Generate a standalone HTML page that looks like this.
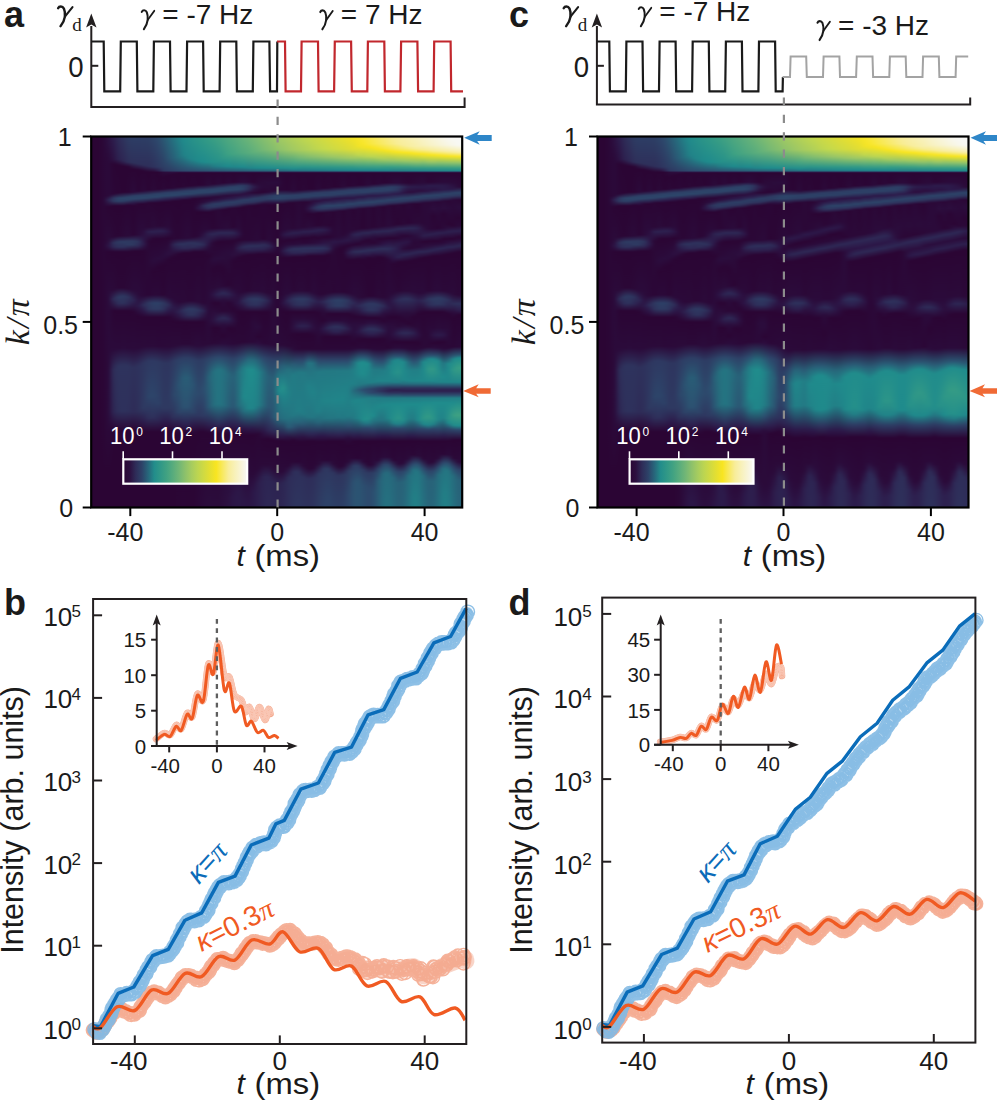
<!DOCTYPE html>
<html><head><meta charset="utf-8"><style>
html,body{margin:0;padding:0;background:#fff;overflow:hidden}
svg{display:block}
</style></head><body>
<svg width="997" height="1102" viewBox="0 0 997 1102" font-family="'Liberation Sans', sans-serif" fill="#1a1a1a">
<defs><linearGradient id="a4" x2="0" y2="1"><stop offset="0.001" stop-color="#2b0838"/><stop offset="0.999" stop-color="#2b0534"/></linearGradient><linearGradient id="a5" x2="0" y2="1"><stop offset="0.001" stop-color="#2c1343"/><stop offset="0.058" stop-color="#2b0a3a"/><stop offset="0.160" stop-color="#2b0a3a"/><stop offset="0.171" stop-color="#2d2452"/><stop offset="0.190" stop-color="#2b0534"/><stop offset="0.279" stop-color="#2b0c3b"/><stop offset="0.295" stop-color="#2c1445"/><stop offset="0.311" stop-color="#2b0534"/><stop offset="0.430" stop-color="#2b0b3b"/><stop offset="0.602" stop-color="#2b0a3a"/><stop offset="0.743" stop-color="#2b0c3c"/><stop offset="0.902" stop-color="#2b0534"/><stop offset="0.999" stop-color="#2b0534"/></linearGradient><linearGradient id="a6" x2="0" y2="1"><stop offset="0.001" stop-color="#2d1e4e"/><stop offset="0.061" stop-color="#2c1343"/><stop offset="0.074" stop-color="#2b0534"/><stop offset="0.155" stop-color="#2b0737"/><stop offset="0.166" stop-color="#2e365f"/><stop offset="0.174" stop-color="#2e3a62"/><stop offset="0.187" stop-color="#2b0534"/><stop offset="0.271" stop-color="#2b0837"/><stop offset="0.287" stop-color="#2e325c"/><stop offset="0.298" stop-color="#2e2855"/><stop offset="0.311" stop-color="#2b0534"/><stop offset="0.414" stop-color="#2b0a39"/><stop offset="0.438" stop-color="#2e2c58"/><stop offset="0.470" stop-color="#2b0534"/><stop offset="0.575" stop-color="#2b0b3b"/><stop offset="0.629" stop-color="#2e2e59"/><stop offset="0.743" stop-color="#2d2653"/><stop offset="0.791" stop-color="#2b0534"/><stop offset="0.999" stop-color="#2b0534"/></linearGradient><linearGradient id="a7" x2="0" y2="1"><stop offset="0.001" stop-color="#2e2b57"/><stop offset="0.061" stop-color="#2d2250"/><stop offset="0.077" stop-color="#2b0534"/><stop offset="0.152" stop-color="#2b0635"/><stop offset="0.166" stop-color="#2d4368"/><stop offset="0.174" stop-color="#2d4267"/><stop offset="0.187" stop-color="#2b0534"/><stop offset="0.268" stop-color="#2b0635"/><stop offset="0.284" stop-color="#2e3961"/><stop offset="0.298" stop-color="#2e305b"/><stop offset="0.311" stop-color="#2b0534"/><stop offset="0.408" stop-color="#2b0736"/><stop offset="0.433" stop-color="#2e3961"/><stop offset="0.451" stop-color="#2e2d59"/><stop offset="0.470" stop-color="#2b0534"/><stop offset="0.570" stop-color="#2b0a3a"/><stop offset="0.619" stop-color="#2e335d"/><stop offset="0.740" stop-color="#2e305b"/><stop offset="0.794" stop-color="#2b0534"/><stop offset="0.999" stop-color="#2b0534"/></linearGradient><linearGradient id="a8" x2="0" y2="1"><stop offset="0.001" stop-color="#2e345d"/><stop offset="0.066" stop-color="#2e2754"/><stop offset="0.080" stop-color="#2b0534"/><stop offset="0.150" stop-color="#2b0534"/><stop offset="0.166" stop-color="#2d476b"/><stop offset="0.174" stop-color="#2d3f66"/><stop offset="0.187" stop-color="#2b0534"/><stop offset="0.268" stop-color="#2b0938"/><stop offset="0.284" stop-color="#2e3b63"/><stop offset="0.298" stop-color="#2e305b"/><stop offset="0.311" stop-color="#2b0534"/><stop offset="0.408" stop-color="#2b0736"/><stop offset="0.430" stop-color="#2e3760"/><stop offset="0.449" stop-color="#2e325c"/><stop offset="0.470" stop-color="#2b0534"/><stop offset="0.570" stop-color="#2b0b3b"/><stop offset="0.616" stop-color="#2e335d"/><stop offset="0.740" stop-color="#2e315c"/><stop offset="0.794" stop-color="#2b0534"/><stop offset="0.999" stop-color="#2b0534"/></linearGradient><linearGradient id="a9" x2="0" y2="1"><stop offset="0.001" stop-color="#2d3c63"/><stop offset="0.069" stop-color="#2e2f5a"/><stop offset="0.082" stop-color="#2b0534"/><stop offset="0.150" stop-color="#2b0635"/><stop offset="0.163" stop-color="#2d4469"/><stop offset="0.171" stop-color="#2d4469"/><stop offset="0.185" stop-color="#2b0535"/><stop offset="0.268" stop-color="#2b0b3a"/><stop offset="0.282" stop-color="#2e3860"/><stop offset="0.292" stop-color="#2e3a62"/><stop offset="0.311" stop-color="#2b0534"/><stop offset="0.411" stop-color="#2b0938"/><stop offset="0.433" stop-color="#2e325c"/><stop offset="0.451" stop-color="#2d2653"/><stop offset="0.470" stop-color="#2b0534"/><stop offset="0.570" stop-color="#2b0a3a"/><stop offset="0.619" stop-color="#2e335d"/><stop offset="0.740" stop-color="#2e305b"/><stop offset="0.794" stop-color="#2b0534"/><stop offset="0.999" stop-color="#2b0534"/></linearGradient><linearGradient id="a10" x2="0" y2="1"><stop offset="0.001" stop-color="#2d3e65"/><stop offset="0.071" stop-color="#2e315b"/><stop offset="0.088" stop-color="#2b0534"/><stop offset="0.150" stop-color="#2b0b3b"/><stop offset="0.160" stop-color="#2d4066"/><stop offset="0.168" stop-color="#2d476b"/><stop offset="0.179" stop-color="#2c1849"/><stop offset="0.187" stop-color="#2b0534"/><stop offset="0.265" stop-color="#2b0635"/><stop offset="0.282" stop-color="#2e3860"/><stop offset="0.292" stop-color="#2e3860"/><stop offset="0.309" stop-color="#2b0534"/><stop offset="0.416" stop-color="#2b0b3b"/><stop offset="0.441" stop-color="#2d2553"/><stop offset="0.473" stop-color="#2b0534"/><stop offset="0.573" stop-color="#2b0b3b"/><stop offset="0.624" stop-color="#2e315b"/><stop offset="0.743" stop-color="#2e2b57"/><stop offset="0.791" stop-color="#2b0534"/><stop offset="0.999" stop-color="#2b0534"/></linearGradient><linearGradient id="a11" x2="0" y2="1"><stop offset="0.001" stop-color="#2d3e65"/><stop offset="0.074" stop-color="#2e305b"/><stop offset="0.090" stop-color="#2b0534"/><stop offset="0.147" stop-color="#2b0534"/><stop offset="0.160" stop-color="#2d4369"/><stop offset="0.168" stop-color="#2d4469"/><stop offset="0.182" stop-color="#2b0635"/><stop offset="0.265" stop-color="#2b0b3b"/><stop offset="0.284" stop-color="#2e335d"/><stop offset="0.295" stop-color="#2e2956"/><stop offset="0.309" stop-color="#2b0534"/><stop offset="0.425" stop-color="#2b0b3b"/><stop offset="0.457" stop-color="#2c1949"/><stop offset="0.484" stop-color="#2b0534"/><stop offset="0.570" stop-color="#2b0a3a"/><stop offset="0.619" stop-color="#2e325d"/><stop offset="0.740" stop-color="#2e305a"/><stop offset="0.794" stop-color="#2b0534"/><stop offset="0.999" stop-color="#2b0534"/></linearGradient><linearGradient id="a12" x2="0" y2="1"><stop offset="0.001" stop-color="#2d3e65"/><stop offset="0.077" stop-color="#2e305b"/><stop offset="0.093" stop-color="#2b0534"/><stop offset="0.147" stop-color="#2b0a3a"/><stop offset="0.158" stop-color="#2d3f66"/><stop offset="0.166" stop-color="#2d476b"/><stop offset="0.177" stop-color="#2c1949"/><stop offset="0.182" stop-color="#2b0534"/><stop offset="0.249" stop-color="#2b0b3b"/><stop offset="0.265" stop-color="#2c1142"/><stop offset="0.290" stop-color="#2d1c4c"/><stop offset="0.309" stop-color="#2b0534"/><stop offset="0.430" stop-color="#2b0939"/><stop offset="0.454" stop-color="#2e2d59"/><stop offset="0.473" stop-color="#2c1344"/><stop offset="0.487" stop-color="#2b0534"/><stop offset="0.567" stop-color="#2b0b3a"/><stop offset="0.611" stop-color="#2e365f"/><stop offset="0.732" stop-color="#2e3a62"/><stop offset="0.770" stop-color="#2c1b4b"/><stop offset="0.796" stop-color="#2b0534"/><stop offset="0.999" stop-color="#2b0534"/></linearGradient><linearGradient id="a13" x2="0" y2="1"><stop offset="0.001" stop-color="#2d3f65"/><stop offset="0.080" stop-color="#2e2f5a"/><stop offset="0.096" stop-color="#2b0534"/><stop offset="0.144" stop-color="#2b0534"/><stop offset="0.158" stop-color="#2d4368"/><stop offset="0.166" stop-color="#2d4469"/><stop offset="0.179" stop-color="#2b0736"/><stop offset="0.244" stop-color="#2b0837"/><stop offset="0.257" stop-color="#2d1f4e"/><stop offset="0.282" stop-color="#2b0736"/><stop offset="0.327" stop-color="#2b0938"/><stop offset="0.341" stop-color="#2b0938"/><stop offset="0.427" stop-color="#2b0636"/><stop offset="0.449" stop-color="#2e3760"/><stop offset="0.465" stop-color="#2e335d"/><stop offset="0.487" stop-color="#2b0534"/><stop offset="0.565" stop-color="#2b0a3a"/><stop offset="0.605" stop-color="#2e3861"/><stop offset="0.702" stop-color="#2d4469"/><stop offset="0.759" stop-color="#2e2e59"/><stop offset="0.796" stop-color="#2b0534"/><stop offset="0.999" stop-color="#2b0534"/></linearGradient><linearGradient id="a14" x2="0" y2="1"><stop offset="0.001" stop-color="#2d4469"/><stop offset="0.082" stop-color="#2e325d"/><stop offset="0.096" stop-color="#2b0534"/><stop offset="0.144" stop-color="#2b0a39"/><stop offset="0.155" stop-color="#2d3f65"/><stop offset="0.163" stop-color="#2d476b"/><stop offset="0.174" stop-color="#2c1a4a"/><stop offset="0.179" stop-color="#2b0534"/><stop offset="0.244" stop-color="#2b0c3b"/><stop offset="0.257" stop-color="#2d2150"/><stop offset="0.276" stop-color="#2b0534"/><stop offset="0.322" stop-color="#2b0a3a"/><stop offset="0.336" stop-color="#2b0d3d"/><stop offset="0.363" stop-color="#2b0534"/><stop offset="0.427" stop-color="#2b0939"/><stop offset="0.449" stop-color="#2d3f66"/><stop offset="0.465" stop-color="#2e3a62"/><stop offset="0.487" stop-color="#2b0534"/><stop offset="0.565" stop-color="#2b0b3a"/><stop offset="0.605" stop-color="#2e3962"/><stop offset="0.699" stop-color="#2d456a"/><stop offset="0.756" stop-color="#2e315c"/><stop offset="0.796" stop-color="#2b0534"/><stop offset="0.999" stop-color="#2b0534"/></linearGradient><linearGradient id="a15" x2="0" y2="1"><stop offset="0.001" stop-color="#2d4b6e"/><stop offset="0.082" stop-color="#2e3861"/><stop offset="0.093" stop-color="#2d1d4c"/><stop offset="0.096" stop-color="#2b0534"/><stop offset="0.142" stop-color="#2b0534"/><stop offset="0.155" stop-color="#2d4368"/><stop offset="0.163" stop-color="#2d456a"/><stop offset="0.174" stop-color="#2c1344"/><stop offset="0.179" stop-color="#2b0534"/><stop offset="0.241" stop-color="#2b0837"/><stop offset="0.255" stop-color="#2d2150"/><stop offset="0.276" stop-color="#2b0534"/><stop offset="0.317" stop-color="#2b0a3a"/><stop offset="0.330" stop-color="#2b0d3d"/><stop offset="0.352" stop-color="#2b0534"/><stop offset="0.427" stop-color="#2b0939"/><stop offset="0.449" stop-color="#2d3f66"/><stop offset="0.465" stop-color="#2e3a62"/><stop offset="0.487" stop-color="#2b0534"/><stop offset="0.565" stop-color="#2b0939"/><stop offset="0.608" stop-color="#2e3961"/><stop offset="0.718" stop-color="#2d4167"/><stop offset="0.764" stop-color="#2d2653"/><stop offset="0.796" stop-color="#2b0534"/><stop offset="0.999" stop-color="#2b0534"/></linearGradient><linearGradient id="a16" x2="0" y2="1"><stop offset="0.001" stop-color="#2a5974"/><stop offset="0.080" stop-color="#2d3f65"/><stop offset="0.093" stop-color="#2e3760"/><stop offset="0.096" stop-color="#2b0d3c"/><stop offset="0.109" stop-color="#2b0534"/><stop offset="0.142" stop-color="#2b0938"/><stop offset="0.152" stop-color="#2d3e65"/><stop offset="0.160" stop-color="#2d476b"/><stop offset="0.171" stop-color="#2c1b4b"/><stop offset="0.177" stop-color="#2b0534"/><stop offset="0.241" stop-color="#2b0938"/><stop offset="0.255" stop-color="#2d1f4e"/><stop offset="0.276" stop-color="#2b0534"/><stop offset="0.311" stop-color="#2b0b3b"/><stop offset="0.325" stop-color="#2b0d3d"/><stop offset="0.346" stop-color="#2b0534"/><stop offset="0.427" stop-color="#2b0635"/><stop offset="0.449" stop-color="#2e3860"/><stop offset="0.465" stop-color="#2e335d"/><stop offset="0.487" stop-color="#2b0534"/><stop offset="0.567" stop-color="#2b0a3a"/><stop offset="0.611" stop-color="#2e365f"/><stop offset="0.732" stop-color="#2e3961"/><stop offset="0.770" stop-color="#2c1a4a"/><stop offset="0.796" stop-color="#2b0534"/><stop offset="0.999" stop-color="#2b0534"/></linearGradient><linearGradient id="a17" x2="0" y2="1"><stop offset="0.001" stop-color="#27667b"/><stop offset="0.058" stop-color="#2b5472"/><stop offset="0.093" stop-color="#2e3b63"/><stop offset="0.096" stop-color="#2c0e3e"/><stop offset="0.104" stop-color="#2b0534"/><stop offset="0.139" stop-color="#2b0534"/><stop offset="0.152" stop-color="#2d4268"/><stop offset="0.160" stop-color="#2d456a"/><stop offset="0.171" stop-color="#2c1444"/><stop offset="0.177" stop-color="#2b0534"/><stop offset="0.244" stop-color="#2b0b3b"/><stop offset="0.257" stop-color="#2c1445"/><stop offset="0.274" stop-color="#2b0534"/><stop offset="0.317" stop-color="#2c1041"/><stop offset="0.333" stop-color="#2b0534"/><stop offset="0.433" stop-color="#2b0a3a"/><stop offset="0.454" stop-color="#2e2e59"/><stop offset="0.473" stop-color="#2c1546"/><stop offset="0.487" stop-color="#2b0534"/><stop offset="0.567" stop-color="#2b0a3a"/><stop offset="0.611" stop-color="#2e355f"/><stop offset="0.732" stop-color="#2e3961"/><stop offset="0.770" stop-color="#2c1a4a"/><stop offset="0.796" stop-color="#2b0534"/><stop offset="0.999" stop-color="#2b0534"/></linearGradient><linearGradient id="a18" x2="0" y2="1"><stop offset="0.001" stop-color="#247481"/><stop offset="0.058" stop-color="#286078"/><stop offset="0.093" stop-color="#2d4066"/><stop offset="0.096" stop-color="#2c1041"/><stop offset="0.101" stop-color="#2b0534"/><stop offset="0.139" stop-color="#2b0838"/><stop offset="0.150" stop-color="#2d3e64"/><stop offset="0.158" stop-color="#2d486c"/><stop offset="0.168" stop-color="#2d1c4c"/><stop offset="0.174" stop-color="#2b0534"/><stop offset="0.276" stop-color="#2b0837"/><stop offset="0.292" stop-color="#2d2553"/><stop offset="0.325" stop-color="#2b0534"/><stop offset="0.438" stop-color="#2b0939"/><stop offset="0.462" stop-color="#2c1a4a"/><stop offset="0.497" stop-color="#2b0534"/><stop offset="0.565" stop-color="#2b0b3a"/><stop offset="0.605" stop-color="#2e3a62"/><stop offset="0.697" stop-color="#2d466a"/><stop offset="0.756" stop-color="#2e325c"/><stop offset="0.796" stop-color="#2b0534"/><stop offset="0.999" stop-color="#2b0534"/></linearGradient><linearGradient id="a19" x2="0" y2="1"><stop offset="0.001" stop-color="#218288"/><stop offset="0.055" stop-color="#256f7f"/><stop offset="0.093" stop-color="#2d4469"/><stop offset="0.096" stop-color="#2c1243"/><stop offset="0.098" stop-color="#2b0534"/><stop offset="0.136" stop-color="#2b0534"/><stop offset="0.150" stop-color="#2d4267"/><stop offset="0.158" stop-color="#2d456a"/><stop offset="0.168" stop-color="#2c1445"/><stop offset="0.174" stop-color="#2b0534"/><stop offset="0.274" stop-color="#2b0736"/><stop offset="0.290" stop-color="#2e305b"/><stop offset="0.303" stop-color="#2d2150"/><stop offset="0.317" stop-color="#2b0534"/><stop offset="0.446" stop-color="#2b0939"/><stop offset="0.473" stop-color="#2d204f"/><stop offset="0.500" stop-color="#2b0534"/><stop offset="0.562" stop-color="#2b0b3a"/><stop offset="0.602" stop-color="#2d3f66"/><stop offset="0.670" stop-color="#2b5271"/><stop offset="0.743" stop-color="#2d4368"/><stop offset="0.780" stop-color="#2c1546"/><stop offset="0.802" stop-color="#2b0534"/><stop offset="0.999" stop-color="#2b0635"/></linearGradient><linearGradient id="a20" x2="0" y2="1"><stop offset="0.001" stop-color="#208c8c"/><stop offset="0.050" stop-color="#218187"/><stop offset="0.093" stop-color="#2d486c"/><stop offset="0.096" stop-color="#2c1444"/><stop offset="0.098" stop-color="#2b0534"/><stop offset="0.136" stop-color="#2b0837"/><stop offset="0.147" stop-color="#2d3d64"/><stop offset="0.155" stop-color="#2d486c"/><stop offset="0.166" stop-color="#2d1d4c"/><stop offset="0.171" stop-color="#2b0534"/><stop offset="0.274" stop-color="#2b0939"/><stop offset="0.290" stop-color="#2e335d"/><stop offset="0.301" stop-color="#2e2956"/><stop offset="0.314" stop-color="#2b0534"/><stop offset="0.446" stop-color="#2b0a39"/><stop offset="0.468" stop-color="#2e315c"/><stop offset="0.484" stop-color="#2d2250"/><stop offset="0.500" stop-color="#2b0534"/><stop offset="0.559" stop-color="#2b0938"/><stop offset="0.597" stop-color="#2d3e65"/><stop offset="0.651" stop-color="#295c76"/><stop offset="0.729" stop-color="#2c5271"/><stop offset="0.775" stop-color="#2d2251"/><stop offset="0.799" stop-color="#2b0534"/><stop offset="0.999" stop-color="#2b0636"/></linearGradient><linearGradient id="a21" x2="0" y2="1"><stop offset="0.001" stop-color="#258f8a"/><stop offset="0.058" stop-color="#218489"/><stop offset="0.093" stop-color="#2d4a6e"/><stop offset="0.096" stop-color="#2c1545"/><stop offset="0.098" stop-color="#2b0534"/><stop offset="0.133" stop-color="#2b0534"/><stop offset="0.147" stop-color="#2d4167"/><stop offset="0.155" stop-color="#2d466a"/><stop offset="0.166" stop-color="#2c1546"/><stop offset="0.171" stop-color="#2b0534"/><stop offset="0.274" stop-color="#2b0b3b"/><stop offset="0.287" stop-color="#2e315c"/><stop offset="0.301" stop-color="#2e2754"/><stop offset="0.314" stop-color="#2b0534"/><stop offset="0.443" stop-color="#2b0837"/><stop offset="0.465" stop-color="#2e3861"/><stop offset="0.481" stop-color="#2e315b"/><stop offset="0.500" stop-color="#2b0534"/><stop offset="0.559" stop-color="#2b0938"/><stop offset="0.597" stop-color="#2d3e65"/><stop offset="0.651" stop-color="#295c76"/><stop offset="0.729" stop-color="#2c5171"/><stop offset="0.775" stop-color="#2d2250"/><stop offset="0.799" stop-color="#2b0534"/><stop offset="0.999" stop-color="#2b0635"/></linearGradient><linearGradient id="a22" x2="0" y2="1"><stop offset="0.001" stop-color="#299389"/><stop offset="0.063" stop-color="#208689"/><stop offset="0.093" stop-color="#2d4c6e"/><stop offset="0.096" stop-color="#2c1546"/><stop offset="0.098" stop-color="#2b0534"/><stop offset="0.133" stop-color="#2b0736"/><stop offset="0.147" stop-color="#2d4569"/><stop offset="0.155" stop-color="#2d4368"/><stop offset="0.168" stop-color="#2b0534"/><stop offset="0.271" stop-color="#2b0736"/><stop offset="0.287" stop-color="#2e325c"/><stop offset="0.298" stop-color="#2e2d58"/><stop offset="0.311" stop-color="#2b0534"/><stop offset="0.443" stop-color="#2b0838"/><stop offset="0.465" stop-color="#2e3961"/><stop offset="0.481" stop-color="#2e325c"/><stop offset="0.500" stop-color="#2b0534"/><stop offset="0.562" stop-color="#2b0b3a"/><stop offset="0.602" stop-color="#2d3f66"/><stop offset="0.670" stop-color="#2b5372"/><stop offset="0.743" stop-color="#2d4368"/><stop offset="0.780" stop-color="#2c1646"/><stop offset="0.802" stop-color="#2b0534"/><stop offset="0.999" stop-color="#2b0635"/></linearGradient><linearGradient id="a23" x2="0" y2="1"><stop offset="0.001" stop-color="#2d9687"/><stop offset="0.066" stop-color="#1f8a8b"/><stop offset="0.093" stop-color="#2c4e6f"/><stop offset="0.096" stop-color="#2c1546"/><stop offset="0.098" stop-color="#2b0534"/><stop offset="0.131" stop-color="#2b0534"/><stop offset="0.144" stop-color="#2d4167"/><stop offset="0.152" stop-color="#2d466a"/><stop offset="0.168" stop-color="#2b0534"/><stop offset="0.182" stop-color="#2b0b3a"/><stop offset="0.193" stop-color="#2c1546"/><stop offset="0.204" stop-color="#2b0534"/><stop offset="0.268" stop-color="#2b0838"/><stop offset="0.290" stop-color="#2e335d"/><stop offset="0.301" stop-color="#2d2150"/><stop offset="0.311" stop-color="#2b0534"/><stop offset="0.446" stop-color="#2b0b3a"/><stop offset="0.468" stop-color="#2e335d"/><stop offset="0.484" stop-color="#2d2452"/><stop offset="0.500" stop-color="#2b0534"/><stop offset="0.565" stop-color="#2b0c3c"/><stop offset="0.605" stop-color="#2d3c63"/><stop offset="0.694" stop-color="#2d496c"/><stop offset="0.753" stop-color="#2e365f"/><stop offset="0.796" stop-color="#2b0534"/><stop offset="0.999" stop-color="#2b0838"/></linearGradient><linearGradient id="a24" x2="0" y2="1"><stop offset="0.001" stop-color="#319986"/><stop offset="0.069" stop-color="#1f8b8c"/><stop offset="0.093" stop-color="#2c5070"/><stop offset="0.096" stop-color="#2c1647"/><stop offset="0.098" stop-color="#2b0534"/><stop offset="0.131" stop-color="#2b0636"/><stop offset="0.144" stop-color="#2d4469"/><stop offset="0.152" stop-color="#2d4368"/><stop offset="0.166" stop-color="#2b0837"/><stop offset="0.177" stop-color="#2b0c3c"/><stop offset="0.187" stop-color="#2e2e59"/><stop offset="0.195" stop-color="#2d204f"/><stop offset="0.204" stop-color="#2b0534"/><stop offset="0.255" stop-color="#2b0a3a"/><stop offset="0.279" stop-color="#2d1f4e"/><stop offset="0.292" stop-color="#2e2c58"/><stop offset="0.311" stop-color="#2b0534"/><stop offset="0.449" stop-color="#2b0838"/><stop offset="0.470" stop-color="#2d2552"/><stop offset="0.500" stop-color="#2b0534"/><stop offset="0.562" stop-color="#2b0a39"/><stop offset="0.602" stop-color="#2d3d64"/><stop offset="0.681" stop-color="#2d4d6f"/><stop offset="0.751" stop-color="#2e3b63"/><stop offset="0.796" stop-color="#2b0534"/><stop offset="0.999" stop-color="#2b0b3b"/></linearGradient><linearGradient id="a25" x2="0" y2="1"><stop offset="0.001" stop-color="#369c85"/><stop offset="0.069" stop-color="#228d8b"/><stop offset="0.093" stop-color="#2c5271"/><stop offset="0.096" stop-color="#2c1647"/><stop offset="0.098" stop-color="#2b0534"/><stop offset="0.131" stop-color="#2b0c3b"/><stop offset="0.142" stop-color="#2d4066"/><stop offset="0.150" stop-color="#2d466b"/><stop offset="0.166" stop-color="#2b0636"/><stop offset="0.174" stop-color="#2c0f3f"/><stop offset="0.185" stop-color="#2e3961"/><stop offset="0.193" stop-color="#2e315c"/><stop offset="0.204" stop-color="#2b0534"/><stop offset="0.249" stop-color="#2b0939"/><stop offset="0.263" stop-color="#2d2250"/><stop offset="0.284" stop-color="#2c1949"/><stop offset="0.301" stop-color="#2b0c3c"/><stop offset="0.322" stop-color="#2b0534"/><stop offset="0.336" stop-color="#2b0837"/><stop offset="0.460" stop-color="#2b0b3b"/><stop offset="0.489" stop-color="#2b0b3b"/><stop offset="0.559" stop-color="#2b0a39"/><stop offset="0.600" stop-color="#2d4368"/><stop offset="0.648" stop-color="#286178"/><stop offset="0.729" stop-color="#2a5774"/><stop offset="0.778" stop-color="#2d1f4e"/><stop offset="0.799" stop-color="#2b0534"/><stop offset="0.999" stop-color="#2b0d3c"/></linearGradient><linearGradient id="a26" x2="0" y2="1"><stop offset="0.001" stop-color="#3b9f83"/><stop offset="0.069" stop-color="#248f8a"/><stop offset="0.080" stop-color="#227d85"/><stop offset="0.093" stop-color="#2b5472"/><stop offset="0.096" stop-color="#2c1748"/><stop offset="0.098" stop-color="#2b0534"/><stop offset="0.128" stop-color="#2b0635"/><stop offset="0.142" stop-color="#2d4469"/><stop offset="0.150" stop-color="#2d4469"/><stop offset="0.163" stop-color="#2b0a3a"/><stop offset="0.171" stop-color="#2c0e3e"/><stop offset="0.182" stop-color="#2d3c63"/><stop offset="0.190" stop-color="#2e3861"/><stop offset="0.201" stop-color="#2b0534"/><stop offset="0.247" stop-color="#2b0635"/><stop offset="0.263" stop-color="#2e2855"/><stop offset="0.287" stop-color="#2b0736"/><stop offset="0.319" stop-color="#2b0938"/><stop offset="0.333" stop-color="#2b0d3d"/><stop offset="0.357" stop-color="#2b0534"/><stop offset="0.408" stop-color="#2b0a39"/><stop offset="0.427" stop-color="#2c1546"/><stop offset="0.449" stop-color="#2b0534"/><stop offset="0.478" stop-color="#2c0e3e"/><stop offset="0.497" stop-color="#2c1242"/><stop offset="0.516" stop-color="#2b0534"/><stop offset="0.557" stop-color="#2b0938"/><stop offset="0.597" stop-color="#2d476b"/><stop offset="0.635" stop-color="#25707f"/><stop offset="0.724" stop-color="#266c7d"/><stop offset="0.780" stop-color="#2d1f4e"/><stop offset="0.802" stop-color="#2b0534"/><stop offset="0.999" stop-color="#2b0c3c"/></linearGradient><linearGradient id="a27" x2="0" y2="1"><stop offset="0.001" stop-color="#42a282"/><stop offset="0.066" stop-color="#289289"/><stop offset="0.080" stop-color="#218188"/><stop offset="0.093" stop-color="#2b5673"/><stop offset="0.096" stop-color="#2c1748"/><stop offset="0.098" stop-color="#2b0534"/><stop offset="0.128" stop-color="#2b0b3b"/><stop offset="0.139" stop-color="#2d4066"/><stop offset="0.147" stop-color="#2d476b"/><stop offset="0.163" stop-color="#2b0938"/><stop offset="0.171" stop-color="#2c1546"/><stop offset="0.182" stop-color="#2d3f65"/><stop offset="0.190" stop-color="#2e325c"/><stop offset="0.198" stop-color="#2b0938"/><stop offset="0.247" stop-color="#2b0838"/><stop offset="0.260" stop-color="#2e2855"/><stop offset="0.274" stop-color="#2c1242"/><stop offset="0.284" stop-color="#2b0534"/><stop offset="0.317" stop-color="#2b0a3a"/><stop offset="0.330" stop-color="#2b0d3d"/><stop offset="0.352" stop-color="#2b0534"/><stop offset="0.406" stop-color="#2b0c3b"/><stop offset="0.425" stop-color="#2d2452"/><stop offset="0.449" stop-color="#2b0534"/><stop offset="0.473" stop-color="#2b0b3a"/><stop offset="0.492" stop-color="#2d2351"/><stop offset="0.516" stop-color="#2b0534"/><stop offset="0.557" stop-color="#2b0a39"/><stop offset="0.594" stop-color="#2d476b"/><stop offset="0.629" stop-color="#247582"/><stop offset="0.721" stop-color="#247582"/><stop offset="0.775" stop-color="#2e2d59"/><stop offset="0.799" stop-color="#2b0534"/><stop offset="0.999" stop-color="#2b0c3b"/></linearGradient><linearGradient id="a28" x2="0" y2="1"><stop offset="0.001" stop-color="#49a580"/><stop offset="0.055" stop-color="#339a86"/><stop offset="0.080" stop-color="#20868a"/><stop offset="0.093" stop-color="#2a5774"/><stop offset="0.096" stop-color="#2c1848"/><stop offset="0.098" stop-color="#2b0534"/><stop offset="0.125" stop-color="#2b0534"/><stop offset="0.139" stop-color="#2d4369"/><stop offset="0.147" stop-color="#2d4469"/><stop offset="0.160" stop-color="#2b0c3c"/><stop offset="0.168" stop-color="#2c1343"/><stop offset="0.179" stop-color="#2d3e65"/><stop offset="0.187" stop-color="#2e355f"/><stop offset="0.198" stop-color="#2b0534"/><stop offset="0.247" stop-color="#2b0a3a"/><stop offset="0.260" stop-color="#2e2855"/><stop offset="0.274" stop-color="#2c1040"/><stop offset="0.284" stop-color="#2b0534"/><stop offset="0.314" stop-color="#2b0b3b"/><stop offset="0.327" stop-color="#2b0d3c"/><stop offset="0.360" stop-color="#2b0534"/><stop offset="0.403" stop-color="#2b0838"/><stop offset="0.422" stop-color="#2e2956"/><stop offset="0.441" stop-color="#2b0c3c"/><stop offset="0.470" stop-color="#2b0736"/><stop offset="0.489" stop-color="#2e2955"/><stop offset="0.508" stop-color="#2b0d3d"/><stop offset="0.538" stop-color="#2b0534"/><stop offset="0.559" stop-color="#2b0d3d"/><stop offset="0.597" stop-color="#2d486c"/><stop offset="0.632" stop-color="#257180"/><stop offset="0.724" stop-color="#256e7f"/><stop offset="0.780" stop-color="#2d204f"/><stop offset="0.802" stop-color="#2b0534"/><stop offset="0.939" stop-color="#2b0d3c"/><stop offset="0.999" stop-color="#2c0e3e"/></linearGradient><linearGradient id="a29" x2="0" y2="1"><stop offset="0.001" stop-color="#50a87f"/><stop offset="0.047" stop-color="#3ea183"/><stop offset="0.080" stop-color="#1f8b8c"/><stop offset="0.093" stop-color="#2a5975"/><stop offset="0.096" stop-color="#2c1849"/><stop offset="0.098" stop-color="#2b0534"/><stop offset="0.125" stop-color="#2b0a3a"/><stop offset="0.136" stop-color="#2d3f66"/><stop offset="0.144" stop-color="#2d476b"/><stop offset="0.160" stop-color="#2b0b3b"/><stop offset="0.168" stop-color="#2c1b4b"/><stop offset="0.177" stop-color="#2d3c64"/><stop offset="0.185" stop-color="#2e3861"/><stop offset="0.195" stop-color="#2b0534"/><stop offset="0.247" stop-color="#2b0c3b"/><stop offset="0.260" stop-color="#2e2855"/><stop offset="0.282" stop-color="#2b0534"/><stop offset="0.311" stop-color="#2b0c3c"/><stop offset="0.325" stop-color="#2b0c3b"/><stop offset="0.400" stop-color="#2b0534"/><stop offset="0.425" stop-color="#2d2351"/><stop offset="0.449" stop-color="#2b0534"/><stop offset="0.473" stop-color="#2b0a39"/><stop offset="0.492" stop-color="#2d2251"/><stop offset="0.516" stop-color="#2b0534"/><stop offset="0.559" stop-color="#2b0b3b"/><stop offset="0.597" stop-color="#2d4368"/><stop offset="0.640" stop-color="#27677b"/><stop offset="0.726" stop-color="#286078"/><stop offset="0.780" stop-color="#2d1c4c"/><stop offset="0.802" stop-color="#2b0534"/><stop offset="0.912" stop-color="#2b0c3c"/><stop offset="0.999" stop-color="#2c1242"/></linearGradient><linearGradient id="a30" x2="0" y2="1"><stop offset="0.001" stop-color="#57ab7d"/><stop offset="0.047" stop-color="#43a382"/><stop offset="0.082" stop-color="#208589"/><stop offset="0.093" stop-color="#2a5b75"/><stop offset="0.096" stop-color="#2c1849"/><stop offset="0.098" stop-color="#2b0534"/><stop offset="0.123" stop-color="#2b0534"/><stop offset="0.136" stop-color="#2d4368"/><stop offset="0.144" stop-color="#2d4469"/><stop offset="0.158" stop-color="#2c0e3e"/><stop offset="0.166" stop-color="#2c1848"/><stop offset="0.177" stop-color="#2d3f66"/><stop offset="0.185" stop-color="#2e325c"/><stop offset="0.193" stop-color="#2b0837"/><stop offset="0.244" stop-color="#2b0534"/><stop offset="0.260" stop-color="#2d2552"/><stop offset="0.282" stop-color="#2b0534"/><stop offset="0.319" stop-color="#2c0f3f"/><stop offset="0.336" stop-color="#2b0534"/><stop offset="0.408" stop-color="#2b0938"/><stop offset="0.427" stop-color="#2c1546"/><stop offset="0.465" stop-color="#2b0534"/><stop offset="0.497" stop-color="#2c1141"/><stop offset="0.519" stop-color="#2b0534"/><stop offset="0.559" stop-color="#2b0939"/><stop offset="0.600" stop-color="#2d4268"/><stop offset="0.648" stop-color="#286078"/><stop offset="0.729" stop-color="#2b5573"/><stop offset="0.778" stop-color="#2d1f4e"/><stop offset="0.799" stop-color="#2b0534"/><stop offset="0.896" stop-color="#2b0b3a"/><stop offset="0.972" stop-color="#2c1647"/><stop offset="0.999" stop-color="#2c1647"/></linearGradient><linearGradient id="a31" x2="0" y2="1"><stop offset="0.001" stop-color="#5eae7c"/><stop offset="0.044" stop-color="#4ca780"/><stop offset="0.082" stop-color="#20888b"/><stop offset="0.093" stop-color="#295c76"/><stop offset="0.096" stop-color="#2c1949"/><stop offset="0.098" stop-color="#2b0534"/><stop offset="0.123" stop-color="#2b0939"/><stop offset="0.133" stop-color="#2d3e65"/><stop offset="0.142" stop-color="#2d476b"/><stop offset="0.158" stop-color="#2c0e3e"/><stop offset="0.166" stop-color="#2d2250"/><stop offset="0.174" stop-color="#2d3e65"/><stop offset="0.182" stop-color="#2e355e"/><stop offset="0.193" stop-color="#2b0534"/><stop offset="0.249" stop-color="#2b0c3c"/><stop offset="0.263" stop-color="#2c1647"/><stop offset="0.279" stop-color="#2b0534"/><stop offset="0.301" stop-color="#2d204e"/><stop offset="0.327" stop-color="#2b0534"/><stop offset="0.419" stop-color="#2b0a3a"/><stop offset="0.449" stop-color="#2c1445"/><stop offset="0.473" stop-color="#2b0534"/><stop offset="0.557" stop-color="#2b0938"/><stop offset="0.597" stop-color="#2d476b"/><stop offset="0.635" stop-color="#25707f"/><stop offset="0.724" stop-color="#266c7d"/><stop offset="0.780" stop-color="#2d1f4e"/><stop offset="0.802" stop-color="#2b0534"/><stop offset="0.896" stop-color="#2b0b3b"/><stop offset="0.958" stop-color="#2c1848"/><stop offset="0.999" stop-color="#2c1848"/></linearGradient><linearGradient id="a32" x2="0" y2="1"><stop offset="0.001" stop-color="#65b27a"/><stop offset="0.044" stop-color="#52a97e"/><stop offset="0.082" stop-color="#1f8b8c"/><stop offset="0.093" stop-color="#295e77"/><stop offset="0.096" stop-color="#2c1949"/><stop offset="0.098" stop-color="#2b0534"/><stop offset="0.123" stop-color="#2b0c3c"/><stop offset="0.133" stop-color="#2d3d64"/><stop offset="0.142" stop-color="#2d3f66"/><stop offset="0.155" stop-color="#2c0f3f"/><stop offset="0.163" stop-color="#2d1d4d"/><stop offset="0.171" stop-color="#2d3d64"/><stop offset="0.179" stop-color="#2e3760"/><stop offset="0.190" stop-color="#2b0534"/><stop offset="0.279" stop-color="#2b0736"/><stop offset="0.298" stop-color="#2e2d59"/><stop offset="0.322" stop-color="#2b0534"/><stop offset="0.419" stop-color="#2b0838"/><stop offset="0.443" stop-color="#2e2a56"/><stop offset="0.473" stop-color="#2b0534"/><stop offset="0.554" stop-color="#2b0837"/><stop offset="0.594" stop-color="#2d4d6f"/><stop offset="0.624" stop-color="#227e86"/><stop offset="0.702" stop-color="#20898b"/><stop offset="0.740" stop-color="#256f7f"/><stop offset="0.788" stop-color="#2c1445"/><stop offset="0.805" stop-color="#2b0534"/><stop offset="0.907" stop-color="#2b0c3b"/><stop offset="0.982" stop-color="#2c1747"/><stop offset="0.999" stop-color="#2c1747"/></linearGradient><linearGradient id="a33" x2="0" y2="1"><stop offset="0.001" stop-color="#6db577"/><stop offset="0.044" stop-color="#57ac7d"/><stop offset="0.085" stop-color="#218489"/><stop offset="0.093" stop-color="#295f78"/><stop offset="0.096" stop-color="#2c1a4a"/><stop offset="0.098" stop-color="#2b0534"/><stop offset="0.123" stop-color="#2b0939"/><stop offset="0.133" stop-color="#2e315c"/><stop offset="0.142" stop-color="#2e2f5a"/><stop offset="0.152" stop-color="#2b0d3d"/><stop offset="0.160" stop-color="#2c1949"/><stop offset="0.171" stop-color="#2d3f66"/><stop offset="0.179" stop-color="#2e315b"/><stop offset="0.187" stop-color="#2b0736"/><stop offset="0.279" stop-color="#2b0737"/><stop offset="0.295" stop-color="#2e2e5a"/><stop offset="0.306" stop-color="#2d2351"/><stop offset="0.319" stop-color="#2b0534"/><stop offset="0.416" stop-color="#2b0736"/><stop offset="0.438" stop-color="#2e345e"/><stop offset="0.454" stop-color="#2e2c58"/><stop offset="0.473" stop-color="#2b0534"/><stop offset="0.554" stop-color="#2b0939"/><stop offset="0.602" stop-color="#266b7d"/><stop offset="0.629" stop-color="#208c8c"/><stop offset="0.732" stop-color="#208589"/><stop offset="0.788" stop-color="#2c1748"/><stop offset="0.805" stop-color="#2b0534"/><stop offset="0.915" stop-color="#2b0b3b"/><stop offset="0.996" stop-color="#2c1647"/><stop offset="0.999" stop-color="#2c1647"/></linearGradient><linearGradient id="a34" x2="0" y2="1"><stop offset="0.001" stop-color="#76b874"/><stop offset="0.042" stop-color="#60b07b"/><stop offset="0.085" stop-color="#20878a"/><stop offset="0.093" stop-color="#286178"/><stop offset="0.096" stop-color="#2c1a4a"/><stop offset="0.098" stop-color="#2b0534"/><stop offset="0.123" stop-color="#2b0534"/><stop offset="0.136" stop-color="#2d1e4d"/><stop offset="0.152" stop-color="#2b0837"/><stop offset="0.160" stop-color="#2d2250"/><stop offset="0.168" stop-color="#2d3f65"/><stop offset="0.177" stop-color="#2e345e"/><stop offset="0.187" stop-color="#2b0534"/><stop offset="0.279" stop-color="#2b0938"/><stop offset="0.295" stop-color="#2e2f5a"/><stop offset="0.306" stop-color="#2d214f"/><stop offset="0.319" stop-color="#2b0534"/><stop offset="0.416" stop-color="#2b0a39"/><stop offset="0.438" stop-color="#2e3a62"/><stop offset="0.454" stop-color="#2e315c"/><stop offset="0.473" stop-color="#2b0534"/><stop offset="0.503" stop-color="#2b0b3b"/><stop offset="0.554" stop-color="#2b0939"/><stop offset="0.602" stop-color="#266a7c"/><stop offset="0.629" stop-color="#208c8c"/><stop offset="0.732" stop-color="#208489"/><stop offset="0.788" stop-color="#2c1747"/><stop offset="0.805" stop-color="#2b0534"/><stop offset="0.910" stop-color="#2b0939"/><stop offset="0.958" stop-color="#2c1849"/><stop offset="0.999" stop-color="#2c1949"/></linearGradient><linearGradient id="a35" x2="0" y2="1"><stop offset="0.001" stop-color="#7ebc70"/><stop offset="0.039" stop-color="#6ab478"/><stop offset="0.085" stop-color="#1f8a8b"/><stop offset="0.093" stop-color="#286279"/><stop offset="0.096" stop-color="#2c1a4a"/><stop offset="0.098" stop-color="#2b0534"/><stop offset="0.125" stop-color="#2b0a39"/><stop offset="0.136" stop-color="#2c0f3f"/><stop offset="0.152" stop-color="#2b0736"/><stop offset="0.166" stop-color="#2d3d64"/><stop offset="0.174" stop-color="#2e3760"/><stop offset="0.185" stop-color="#2b0534"/><stop offset="0.279" stop-color="#2b0a3a"/><stop offset="0.295" stop-color="#2e2f5a"/><stop offset="0.306" stop-color="#2d1f4e"/><stop offset="0.317" stop-color="#2b0534"/><stop offset="0.416" stop-color="#2b0939"/><stop offset="0.438" stop-color="#2e3861"/><stop offset="0.454" stop-color="#2e305b"/><stop offset="0.473" stop-color="#2b0534"/><stop offset="0.500" stop-color="#2b0938"/><stop offset="0.513" stop-color="#2b0d3d"/><stop offset="0.540" stop-color="#2b0534"/><stop offset="0.559" stop-color="#2c0f40"/><stop offset="0.605" stop-color="#286279"/><stop offset="0.637" stop-color="#218288"/><stop offset="0.724" stop-color="#227d85"/><stop offset="0.753" stop-color="#2c5171"/><stop offset="0.802" stop-color="#2b0736"/><stop offset="0.896" stop-color="#2b0939"/><stop offset="0.934" stop-color="#2d1e4d"/><stop offset="0.999" stop-color="#2d1f4e"/></linearGradient><linearGradient id="a36" x2="0" y2="1"><stop offset="0.001" stop-color="#87bf6d"/><stop offset="0.036" stop-color="#75b874"/><stop offset="0.085" stop-color="#1f8b8c"/><stop offset="0.093" stop-color="#28647a"/><stop offset="0.096" stop-color="#2c1b4b"/><stop offset="0.098" stop-color="#2b0534"/><stop offset="0.125" stop-color="#2b0b3a"/><stop offset="0.136" stop-color="#2b0b3b"/><stop offset="0.150" stop-color="#2b0534"/><stop offset="0.163" stop-color="#2d3c63"/><stop offset="0.171" stop-color="#2e3a62"/><stop offset="0.182" stop-color="#2b0737"/><stop offset="0.276" stop-color="#2b0534"/><stop offset="0.292" stop-color="#2e2d59"/><stop offset="0.303" stop-color="#2d2452"/><stop offset="0.317" stop-color="#2b0534"/><stop offset="0.419" stop-color="#2b0b3a"/><stop offset="0.441" stop-color="#2e325c"/><stop offset="0.457" stop-color="#2d214f"/><stop offset="0.473" stop-color="#2b0534"/><stop offset="0.557" stop-color="#2b0838"/><stop offset="0.597" stop-color="#2d466b"/><stop offset="0.635" stop-color="#256d7e"/><stop offset="0.724" stop-color="#26697c"/><stop offset="0.796" stop-color="#2c1445"/><stop offset="0.818" stop-color="#2b0534"/><stop offset="0.885" stop-color="#2b0a39"/><stop offset="0.918" stop-color="#2d2351"/><stop offset="0.999" stop-color="#2d2553"/></linearGradient><linearGradient id="a37" x2="0" y2="1"><stop offset="0.001" stop-color="#8fc26a"/><stop offset="0.036" stop-color="#7dbb71"/><stop offset="0.085" stop-color="#208c8c"/><stop offset="0.093" stop-color="#27657a"/><stop offset="0.096" stop-color="#2c1b4b"/><stop offset="0.098" stop-color="#2b0534"/><stop offset="0.125" stop-color="#2b0c3b"/><stop offset="0.136" stop-color="#2b0b3a"/><stop offset="0.150" stop-color="#2b0939"/><stop offset="0.160" stop-color="#2e3a62"/><stop offset="0.168" stop-color="#2d3f65"/><stop offset="0.179" stop-color="#2c1141"/><stop offset="0.185" stop-color="#2b0534"/><stop offset="0.279" stop-color="#2b0a3a"/><stop offset="0.295" stop-color="#2e2855"/><stop offset="0.317" stop-color="#2b0534"/><stop offset="0.422" stop-color="#2b0837"/><stop offset="0.443" stop-color="#2d2250"/><stop offset="0.473" stop-color="#2b0534"/><stop offset="0.559" stop-color="#2b0939"/><stop offset="0.600" stop-color="#2d4268"/><stop offset="0.648" stop-color="#286078"/><stop offset="0.729" stop-color="#2b5573"/><stop offset="0.791" stop-color="#2e2754"/><stop offset="0.815" stop-color="#2b0534"/><stop offset="0.885" stop-color="#2b0a39"/><stop offset="0.918" stop-color="#2d2553"/><stop offset="0.999" stop-color="#2e2855"/></linearGradient><linearGradient id="a38" x2="0" y2="1"><stop offset="0.001" stop-color="#98c666"/><stop offset="0.036" stop-color="#84be6e"/><stop offset="0.085" stop-color="#218d8b"/><stop offset="0.093" stop-color="#27667b"/><stop offset="0.096" stop-color="#2c1b4b"/><stop offset="0.098" stop-color="#2b0534"/><stop offset="0.125" stop-color="#2b0c3c"/><stop offset="0.147" stop-color="#2b0837"/><stop offset="0.160" stop-color="#2d4066"/><stop offset="0.168" stop-color="#2d4268"/><stop offset="0.179" stop-color="#2c1242"/><stop offset="0.185" stop-color="#2b0534"/><stop offset="0.282" stop-color="#2b0838"/><stop offset="0.298" stop-color="#2c1546"/><stop offset="0.319" stop-color="#2b0534"/><stop offset="0.433" stop-color="#2b0c3b"/><stop offset="0.454" stop-color="#2b0b3a"/><stop offset="0.562" stop-color="#2b0b3b"/><stop offset="0.602" stop-color="#2d4167"/><stop offset="0.659" stop-color="#295f77"/><stop offset="0.756" stop-color="#2b5572"/><stop offset="0.796" stop-color="#2e2754"/><stop offset="0.818" stop-color="#2b0534"/><stop offset="0.896" stop-color="#2b0b3a"/><stop offset="0.931" stop-color="#2d2452"/><stop offset="0.999" stop-color="#2d2653"/></linearGradient><linearGradient id="a39" x2="0" y2="1"><stop offset="0.001" stop-color="#a0c963"/><stop offset="0.034" stop-color="#90c26a"/><stop offset="0.085" stop-color="#228d8b"/><stop offset="0.093" stop-color="#27687c"/><stop offset="0.096" stop-color="#2d1c4b"/><stop offset="0.098" stop-color="#2b0534"/><stop offset="0.125" stop-color="#2b0c3c"/><stop offset="0.144" stop-color="#2b0635"/><stop offset="0.160" stop-color="#2d4469"/><stop offset="0.168" stop-color="#2d4368"/><stop offset="0.182" stop-color="#2b0534"/><stop offset="0.454" stop-color="#2b0636"/><stop offset="0.562" stop-color="#2b0a3a"/><stop offset="0.613" stop-color="#2c5171"/><stop offset="0.643" stop-color="#247381"/><stop offset="0.664" stop-color="#218187"/><stop offset="0.686" stop-color="#208b8c"/><stop offset="0.708" stop-color="#237783"/><stop offset="0.759" stop-color="#266a7d"/><stop offset="0.805" stop-color="#2d1c4c"/><stop offset="0.821" stop-color="#2b0534"/><stop offset="0.904" stop-color="#2b0a3a"/><stop offset="0.939" stop-color="#2d2351"/><stop offset="0.999" stop-color="#2d2552"/></linearGradient><linearGradient id="a40" x2="0" y2="1"><stop offset="0.001" stop-color="#a6cc5f"/><stop offset="0.036" stop-color="#93c468"/><stop offset="0.085" stop-color="#238e8b"/><stop offset="0.093" stop-color="#26697c"/><stop offset="0.096" stop-color="#2d1c4c"/><stop offset="0.098" stop-color="#2b0534"/><stop offset="0.144" stop-color="#2b0636"/><stop offset="0.160" stop-color="#2d4469"/><stop offset="0.168" stop-color="#2d4066"/><stop offset="0.182" stop-color="#2b0534"/><stop offset="0.252" stop-color="#2b0a3a"/><stop offset="0.265" stop-color="#2c1647"/><stop offset="0.282" stop-color="#2b0534"/><stop offset="0.295" stop-color="#2b0b3b"/><stop offset="0.309" stop-color="#2c1b4b"/><stop offset="0.327" stop-color="#2b0534"/><stop offset="0.427" stop-color="#2b0a3a"/><stop offset="0.449" stop-color="#2c1445"/><stop offset="0.470" stop-color="#2b0534"/><stop offset="0.562" stop-color="#2b0a39"/><stop offset="0.619" stop-color="#286279"/><stop offset="0.651" stop-color="#227d86"/><stop offset="0.678" stop-color="#26908a"/><stop offset="0.699" stop-color="#208589"/><stop offset="0.761" stop-color="#256e7f"/><stop offset="0.805" stop-color="#2d1e4d"/><stop offset="0.821" stop-color="#2b0534"/><stop offset="0.902" stop-color="#2b0a3a"/><stop offset="0.934" stop-color="#2d2653"/><stop offset="0.999" stop-color="#2e2855"/></linearGradient><linearGradient id="a41" x2="0" y2="1"><stop offset="0.001" stop-color="#adce5b"/><stop offset="0.036" stop-color="#9bc765"/><stop offset="0.085" stop-color="#248f8b"/><stop offset="0.090" stop-color="#237a84"/><stop offset="0.093" stop-color="#266a7d"/><stop offset="0.096" stop-color="#2d1c4c"/><stop offset="0.098" stop-color="#2b0534"/><stop offset="0.144" stop-color="#2b0534"/><stop offset="0.160" stop-color="#2d4369"/><stop offset="0.168" stop-color="#2d3c63"/><stop offset="0.179" stop-color="#2b0635"/><stop offset="0.249" stop-color="#2b0b3a"/><stop offset="0.263" stop-color="#2d1e4d"/><stop offset="0.279" stop-color="#2b0534"/><stop offset="0.292" stop-color="#2b0d3d"/><stop offset="0.306" stop-color="#2e2d59"/><stop offset="0.317" stop-color="#2c1b4b"/><stop offset="0.327" stop-color="#2b0534"/><stop offset="0.422" stop-color="#2b0b3b"/><stop offset="0.443" stop-color="#2e2956"/><stop offset="0.473" stop-color="#2b0534"/><stop offset="0.565" stop-color="#2b0938"/><stop offset="0.629" stop-color="#257280"/><stop offset="0.691" stop-color="#218187"/><stop offset="0.756" stop-color="#247481"/><stop offset="0.775" stop-color="#27647a"/><stop offset="0.783" stop-color="#295e77"/><stop offset="0.810" stop-color="#2c1242"/><stop offset="0.823" stop-color="#2b0534"/><stop offset="0.888" stop-color="#2b0838"/><stop offset="0.920" stop-color="#2e2c58"/><stop offset="0.999" stop-color="#2e2e5a"/></linearGradient><linearGradient id="a42" x2="0" y2="1"><stop offset="0.001" stop-color="#b3d157"/><stop offset="0.036" stop-color="#a1c962"/><stop offset="0.069" stop-color="#4ba680"/><stop offset="0.088" stop-color="#1f8b8c"/><stop offset="0.093" stop-color="#266c7d"/><stop offset="0.096" stop-color="#2d1d4c"/><stop offset="0.098" stop-color="#2b0534"/><stop offset="0.147" stop-color="#2b0b3b"/><stop offset="0.158" stop-color="#2d3f65"/><stop offset="0.166" stop-color="#2d4066"/><stop offset="0.179" stop-color="#2b0534"/><stop offset="0.247" stop-color="#2b0837"/><stop offset="0.260" stop-color="#2d204f"/><stop offset="0.279" stop-color="#2b0534"/><stop offset="0.290" stop-color="#2b0a3a"/><stop offset="0.303" stop-color="#2e315c"/><stop offset="0.314" stop-color="#2e2754"/><stop offset="0.325" stop-color="#2b0534"/><stop offset="0.416" stop-color="#2b0736"/><stop offset="0.438" stop-color="#2e335d"/><stop offset="0.454" stop-color="#2e2b57"/><stop offset="0.473" stop-color="#2b0534"/><stop offset="0.497" stop-color="#2b0d3d"/><stop offset="0.516" stop-color="#2c1141"/><stop offset="0.535" stop-color="#2b0534"/><stop offset="0.573" stop-color="#2b0b3a"/><stop offset="0.613" stop-color="#2a5974"/><stop offset="0.643" stop-color="#227c85"/><stop offset="0.751" stop-color="#237984"/><stop offset="0.783" stop-color="#2b5372"/><stop offset="0.818" stop-color="#2b0534"/><stop offset="0.877" stop-color="#2b0837"/><stop offset="0.904" stop-color="#2e2e5a"/><stop offset="0.999" stop-color="#2e345d"/></linearGradient><linearGradient id="a43" x2="0" y2="1"><stop offset="0.001" stop-color="#b9d453"/><stop offset="0.036" stop-color="#a7cc5e"/><stop offset="0.058" stop-color="#71b676"/><stop offset="0.085" stop-color="#25908a"/><stop offset="0.090" stop-color="#227d86"/><stop offset="0.093" stop-color="#266d7e"/><stop offset="0.096" stop-color="#2d1d4c"/><stop offset="0.098" stop-color="#2b0534"/><stop offset="0.144" stop-color="#2b0534"/><stop offset="0.158" stop-color="#2d4167"/><stop offset="0.166" stop-color="#2d3d64"/><stop offset="0.177" stop-color="#2b0938"/><stop offset="0.247" stop-color="#2b0b3b"/><stop offset="0.260" stop-color="#2d1f4e"/><stop offset="0.276" stop-color="#2b0534"/><stop offset="0.290" stop-color="#2b0d3d"/><stop offset="0.303" stop-color="#2e325c"/><stop offset="0.314" stop-color="#2d2553"/><stop offset="0.325" stop-color="#2b0534"/><stop offset="0.416" stop-color="#2b0a39"/><stop offset="0.438" stop-color="#2e3962"/><stop offset="0.454" stop-color="#2e315b"/><stop offset="0.473" stop-color="#2b0534"/><stop offset="0.492" stop-color="#2b0b3a"/><stop offset="0.511" stop-color="#2d1f4e"/><stop offset="0.532" stop-color="#2b0534"/><stop offset="0.573" stop-color="#2b0837"/><stop offset="0.602" stop-color="#2d4469"/><stop offset="0.635" stop-color="#237883"/><stop offset="0.740" stop-color="#227e86"/><stop offset="0.770" stop-color="#28647a"/><stop offset="0.807" stop-color="#2c1848"/><stop offset="0.823" stop-color="#2b0534"/><stop offset="0.877" stop-color="#2b0737"/><stop offset="0.904" stop-color="#2e305b"/><stop offset="0.999" stop-color="#2e355f"/></linearGradient><linearGradient id="a44" x2="0" y2="1"><stop offset="0.001" stop-color="#bfd74f"/><stop offset="0.036" stop-color="#acce5b"/><stop offset="0.058" stop-color="#75b874"/><stop offset="0.082" stop-color="#2b9488"/><stop offset="0.090" stop-color="#227f86"/><stop offset="0.093" stop-color="#256e7e"/><stop offset="0.096" stop-color="#2d1d4d"/><stop offset="0.098" stop-color="#2b0534"/><stop offset="0.144" stop-color="#2b0837"/><stop offset="0.155" stop-color="#2d3d64"/><stop offset="0.163" stop-color="#2d4267"/><stop offset="0.177" stop-color="#2b0635"/><stop offset="0.244" stop-color="#2b0837"/><stop offset="0.257" stop-color="#2d204f"/><stop offset="0.274" stop-color="#2b0534"/><stop offset="0.287" stop-color="#2b0737"/><stop offset="0.301" stop-color="#2e305b"/><stop offset="0.311" stop-color="#2e2c58"/><stop offset="0.325" stop-color="#2b0534"/><stop offset="0.381" stop-color="#2b0837"/><stop offset="0.416" stop-color="#2b0a39"/><stop offset="0.438" stop-color="#2e3a62"/><stop offset="0.454" stop-color="#2e315b"/><stop offset="0.473" stop-color="#2b0534"/><stop offset="0.492" stop-color="#2b0c3c"/><stop offset="0.511" stop-color="#2d2250"/><stop offset="0.532" stop-color="#2b0534"/><stop offset="0.573" stop-color="#2b0837"/><stop offset="0.605" stop-color="#2d4a6d"/><stop offset="0.637" stop-color="#237a84"/><stop offset="0.748" stop-color="#227b85"/><stop offset="0.775" stop-color="#2a5975"/><stop offset="0.810" stop-color="#2c1242"/><stop offset="0.823" stop-color="#2b0534"/><stop offset="0.888" stop-color="#2b0939"/><stop offset="0.918" stop-color="#2e305b"/><stop offset="0.999" stop-color="#2e335d"/></linearGradient><linearGradient id="a45" x2="0" y2="1"><stop offset="0.001" stop-color="#c5d94b"/><stop offset="0.036" stop-color="#b1d158"/><stop offset="0.055" stop-color="#84be6e"/><stop offset="0.082" stop-color="#2c9588"/><stop offset="0.090" stop-color="#218087"/><stop offset="0.093" stop-color="#256f7f"/><stop offset="0.096" stop-color="#2d1e4d"/><stop offset="0.098" stop-color="#2b0534"/><stop offset="0.142" stop-color="#2b0534"/><stop offset="0.155" stop-color="#2d4066"/><stop offset="0.163" stop-color="#2d3f65"/><stop offset="0.177" stop-color="#2b0736"/><stop offset="0.195" stop-color="#2c1445"/><stop offset="0.209" stop-color="#2b0534"/><stop offset="0.244" stop-color="#2b0c3b"/><stop offset="0.257" stop-color="#2d1f4e"/><stop offset="0.274" stop-color="#2b0534"/><stop offset="0.287" stop-color="#2b0939"/><stop offset="0.301" stop-color="#2e315c"/><stop offset="0.311" stop-color="#2e2956"/><stop offset="0.322" stop-color="#2b0534"/><stop offset="0.416" stop-color="#2b0736"/><stop offset="0.438" stop-color="#2e335d"/><stop offset="0.454" stop-color="#2e2b57"/><stop offset="0.473" stop-color="#2b0534"/><stop offset="0.492" stop-color="#2b0a39"/><stop offset="0.511" stop-color="#2d1d4c"/><stop offset="0.532" stop-color="#2b0534"/><stop offset="0.573" stop-color="#2b0837"/><stop offset="0.600" stop-color="#2b5372"/><stop offset="0.611" stop-color="#247582"/><stop offset="0.627" stop-color="#257180"/><stop offset="0.675" stop-color="#218188"/><stop offset="0.756" stop-color="#247682"/><stop offset="0.802" stop-color="#2d2653"/><stop offset="0.821" stop-color="#2b0534"/><stop offset="0.896" stop-color="#2b0837"/><stop offset="0.923" stop-color="#2e2d59"/><stop offset="0.999" stop-color="#2e325c"/></linearGradient><linearGradient id="a46" x2="0" y2="1"><stop offset="0.001" stop-color="#cada47"/><stop offset="0.034" stop-color="#bad452"/><stop offset="0.055" stop-color="#88bf6d"/><stop offset="0.082" stop-color="#2d9688"/><stop offset="0.090" stop-color="#218288"/><stop offset="0.093" stop-color="#25707f"/><stop offset="0.096" stop-color="#2d1e4d"/><stop offset="0.098" stop-color="#2b0534"/><stop offset="0.142" stop-color="#2b0534"/><stop offset="0.152" stop-color="#2e3b63"/><stop offset="0.160" stop-color="#2d4368"/><stop offset="0.174" stop-color="#2c0e3e"/><stop offset="0.182" stop-color="#2c1445"/><stop offset="0.193" stop-color="#2e2f5a"/><stop offset="0.209" stop-color="#2b0534"/><stop offset="0.241" stop-color="#2b0838"/><stop offset="0.255" stop-color="#2d204f"/><stop offset="0.271" stop-color="#2b0534"/><stop offset="0.287" stop-color="#2b0c3b"/><stop offset="0.301" stop-color="#2e325c"/><stop offset="0.311" stop-color="#2e2754"/><stop offset="0.322" stop-color="#2b0534"/><stop offset="0.422" stop-color="#2b0b3b"/><stop offset="0.443" stop-color="#2e2a56"/><stop offset="0.473" stop-color="#2b0534"/><stop offset="0.497" stop-color="#2b0b3b"/><stop offset="0.516" stop-color="#2c0f40"/><stop offset="0.538" stop-color="#2b0534"/><stop offset="0.573" stop-color="#2b0837"/><stop offset="0.611" stop-color="#256e7e"/><stop offset="0.629" stop-color="#247481"/><stop offset="0.689" stop-color="#218288"/><stop offset="0.756" stop-color="#237783"/><stop offset="0.802" stop-color="#2d2654"/><stop offset="0.821" stop-color="#2b0534"/><stop offset="0.894" stop-color="#2b0737"/><stop offset="0.920" stop-color="#2e2f5a"/><stop offset="0.999" stop-color="#2e345e"/></linearGradient><linearGradient id="a47" x2="0" y2="1"><stop offset="0.001" stop-color="#d0da42"/><stop offset="0.034" stop-color="#bfd74f"/><stop offset="0.055" stop-color="#8dc16b"/><stop offset="0.082" stop-color="#2e9687"/><stop offset="0.090" stop-color="#218388"/><stop offset="0.093" stop-color="#257180"/><stop offset="0.096" stop-color="#2d1e4d"/><stop offset="0.098" stop-color="#2b0534"/><stop offset="0.142" stop-color="#2b0a3a"/><stop offset="0.152" stop-color="#2d3f65"/><stop offset="0.160" stop-color="#2d4066"/><stop offset="0.174" stop-color="#2c0f40"/><stop offset="0.182" stop-color="#2d2653"/><stop offset="0.190" stop-color="#2d3d64"/><stop offset="0.198" stop-color="#2e2e5a"/><stop offset="0.206" stop-color="#2b0534"/><stop offset="0.239" stop-color="#2b0534"/><stop offset="0.252" stop-color="#2d204f"/><stop offset="0.274" stop-color="#2b0534"/><stop offset="0.287" stop-color="#2c0f3f"/><stop offset="0.301" stop-color="#2e325d"/><stop offset="0.311" stop-color="#2d2452"/><stop offset="0.322" stop-color="#2b0534"/><stop offset="0.425" stop-color="#2b0838"/><stop offset="0.446" stop-color="#2d1e4d"/><stop offset="0.476" stop-color="#2b0534"/><stop offset="0.522" stop-color="#2b0b3b"/><stop offset="0.573" stop-color="#2b0837"/><stop offset="0.602" stop-color="#2d4469"/><stop offset="0.635" stop-color="#237984"/><stop offset="0.740" stop-color="#218087"/><stop offset="0.770" stop-color="#27667a"/><stop offset="0.807" stop-color="#2c1849"/><stop offset="0.823" stop-color="#2b0534"/><stop offset="0.883" stop-color="#2b0a39"/><stop offset="0.910" stop-color="#2e345e"/><stop offset="0.999" stop-color="#2e3b62"/></linearGradient><linearGradient id="a48" x2="0" y2="1"><stop offset="0.001" stop-color="#d5db3e"/><stop offset="0.034" stop-color="#c4d94c"/><stop offset="0.055" stop-color="#92c369"/><stop offset="0.082" stop-color="#2f9787"/><stop offset="0.090" stop-color="#208489"/><stop offset="0.093" stop-color="#247280"/><stop offset="0.096" stop-color="#2d1e4d"/><stop offset="0.098" stop-color="#2b0534"/><stop offset="0.139" stop-color="#2b0534"/><stop offset="0.150" stop-color="#2e3a62"/><stop offset="0.158" stop-color="#2d4369"/><stop offset="0.171" stop-color="#2c1243"/><stop offset="0.179" stop-color="#2d2351"/><stop offset="0.187" stop-color="#2d4167"/><stop offset="0.195" stop-color="#2e3961"/><stop offset="0.206" stop-color="#2b0534"/><stop offset="0.239" stop-color="#2b0837"/><stop offset="0.252" stop-color="#2d1e4d"/><stop offset="0.271" stop-color="#2b0534"/><stop offset="0.287" stop-color="#2c1445"/><stop offset="0.301" stop-color="#2e315c"/><stop offset="0.311" stop-color="#2d204f"/><stop offset="0.322" stop-color="#2b0534"/><stop offset="0.425" stop-color="#2b0837"/><stop offset="0.446" stop-color="#2e2855"/><stop offset="0.468" stop-color="#2b0d3c"/><stop offset="0.497" stop-color="#2b0534"/><stop offset="0.519" stop-color="#2c1849"/><stop offset="0.540" stop-color="#2b0534"/><stop offset="0.573" stop-color="#2b0837"/><stop offset="0.605" stop-color="#2d496c"/><stop offset="0.632" stop-color="#237883"/><stop offset="0.713" stop-color="#218388"/><stop offset="0.761" stop-color="#247280"/><stop offset="0.807" stop-color="#2c1849"/><stop offset="0.823" stop-color="#2b0534"/><stop offset="0.872" stop-color="#2b0837"/><stop offset="0.896" stop-color="#2e365f"/><stop offset="0.999" stop-color="#2d4167"/></linearGradient><linearGradient id="a49" x2="0" y2="1"><stop offset="0.001" stop-color="#dadc39"/><stop offset="0.034" stop-color="#c9da48"/><stop offset="0.055" stop-color="#97c567"/><stop offset="0.082" stop-color="#2f9787"/><stop offset="0.090" stop-color="#208689"/><stop offset="0.093" stop-color="#247381"/><stop offset="0.096" stop-color="#2d1f4e"/><stop offset="0.098" stop-color="#2b0534"/><stop offset="0.139" stop-color="#2b0837"/><stop offset="0.150" stop-color="#2d3d64"/><stop offset="0.158" stop-color="#2d4167"/><stop offset="0.171" stop-color="#2c1242"/><stop offset="0.179" stop-color="#2e2c58"/><stop offset="0.187" stop-color="#2d4469"/><stop offset="0.195" stop-color="#2e345e"/><stop offset="0.204" stop-color="#2b0938"/><stop offset="0.239" stop-color="#2b0635"/><stop offset="0.252" stop-color="#2c1546"/><stop offset="0.271" stop-color="#2b0534"/><stop offset="0.303" stop-color="#2e2855"/><stop offset="0.319" stop-color="#2b0534"/><stop offset="0.422" stop-color="#2b0938"/><stop offset="0.443" stop-color="#2e355f"/><stop offset="0.460" stop-color="#2e2c58"/><stop offset="0.478" stop-color="#2b0534"/><stop offset="0.497" stop-color="#2b0b3b"/><stop offset="0.516" stop-color="#2e2955"/><stop offset="0.540" stop-color="#2b0534"/><stop offset="0.573" stop-color="#2b0838"/><stop offset="0.605" stop-color="#2d496c"/><stop offset="0.632" stop-color="#237883"/><stop offset="0.713" stop-color="#218388"/><stop offset="0.759" stop-color="#247682"/><stop offset="0.805" stop-color="#2d1f4e"/><stop offset="0.821" stop-color="#2b0534"/><stop offset="0.872" stop-color="#2b0737"/><stop offset="0.896" stop-color="#2e3760"/><stop offset="0.980" stop-color="#2d4268"/><stop offset="0.999" stop-color="#2d4268"/></linearGradient><linearGradient id="a50" x2="0" y2="1"><stop offset="0.001" stop-color="#e0dd35"/><stop offset="0.034" stop-color="#ceda44"/><stop offset="0.055" stop-color="#9bc765"/><stop offset="0.082" stop-color="#309887"/><stop offset="0.090" stop-color="#20878a"/><stop offset="0.093" stop-color="#247481"/><stop offset="0.096" stop-color="#2d1f4e"/><stop offset="0.098" stop-color="#2b0534"/><stop offset="0.136" stop-color="#2b0534"/><stop offset="0.150" stop-color="#2d4067"/><stop offset="0.158" stop-color="#2d3f65"/><stop offset="0.168" stop-color="#2c1445"/><stop offset="0.177" stop-color="#2d2452"/><stop offset="0.187" stop-color="#2d4469"/><stop offset="0.195" stop-color="#2e2f5a"/><stop offset="0.204" stop-color="#2b0534"/><stop offset="0.271" stop-color="#2b0838"/><stop offset="0.284" stop-color="#2c1748"/><stop offset="0.311" stop-color="#2b0837"/><stop offset="0.419" stop-color="#2b0736"/><stop offset="0.441" stop-color="#2d3c64"/><stop offset="0.457" stop-color="#2e3961"/><stop offset="0.478" stop-color="#2b0534"/><stop offset="0.495" stop-color="#2b0939"/><stop offset="0.513" stop-color="#2e305b"/><stop offset="0.527" stop-color="#2d2150"/><stop offset="0.540" stop-color="#2b0534"/><stop offset="0.573" stop-color="#2b0838"/><stop offset="0.605" stop-color="#2d496d"/><stop offset="0.632" stop-color="#237983"/><stop offset="0.713" stop-color="#218489"/><stop offset="0.759" stop-color="#247682"/><stop offset="0.805" stop-color="#2d204e"/><stop offset="0.821" stop-color="#2b0534"/><stop offset="0.883" stop-color="#2b0a39"/><stop offset="0.907" stop-color="#2e365f"/><stop offset="0.999" stop-color="#2d4066"/></linearGradient><linearGradient id="a51" x2="0" y2="1"><stop offset="0.001" stop-color="#e5df31"/><stop offset="0.034" stop-color="#d2db40"/><stop offset="0.058" stop-color="#95c468"/><stop offset="0.082" stop-color="#319986"/><stop offset="0.090" stop-color="#20888b"/><stop offset="0.093" stop-color="#247582"/><stop offset="0.096" stop-color="#2d1f4e"/><stop offset="0.098" stop-color="#2b0534"/><stop offset="0.136" stop-color="#2b0635"/><stop offset="0.147" stop-color="#2d3c63"/><stop offset="0.155" stop-color="#2d4268"/><stop offset="0.168" stop-color="#2c1344"/><stop offset="0.177" stop-color="#2e2c58"/><stop offset="0.185" stop-color="#2d4469"/><stop offset="0.193" stop-color="#2e345e"/><stop offset="0.201" stop-color="#2b0938"/><stop offset="0.271" stop-color="#2b0b3b"/><stop offset="0.284" stop-color="#2c1545"/><stop offset="0.303" stop-color="#2b0534"/><stop offset="0.419" stop-color="#2b0838"/><stop offset="0.441" stop-color="#2d4066"/><stop offset="0.457" stop-color="#2d3c64"/><stop offset="0.478" stop-color="#2b0534"/><stop offset="0.495" stop-color="#2b0939"/><stop offset="0.513" stop-color="#2e305b"/><stop offset="0.527" stop-color="#2d2250"/><stop offset="0.540" stop-color="#2b0534"/><stop offset="0.573" stop-color="#2b0838"/><stop offset="0.605" stop-color="#2d496d"/><stop offset="0.632" stop-color="#237984"/><stop offset="0.710" stop-color="#208489"/><stop offset="0.756" stop-color="#237984"/><stop offset="0.802" stop-color="#2e2754"/><stop offset="0.821" stop-color="#2b0534"/><stop offset="0.891" stop-color="#2b0837"/><stop offset="0.915" stop-color="#2e355e"/><stop offset="0.999" stop-color="#2d3e65"/></linearGradient><linearGradient id="a52" x2="0" y2="1"><stop offset="0.001" stop-color="#eae12c"/><stop offset="0.034" stop-color="#d7db3c"/><stop offset="0.058" stop-color="#99c666"/><stop offset="0.082" stop-color="#329986"/><stop offset="0.090" stop-color="#1f898b"/><stop offset="0.093" stop-color="#247682"/><stop offset="0.096" stop-color="#2d1f4e"/><stop offset="0.098" stop-color="#2b0534"/><stop offset="0.136" stop-color="#2b0b3a"/><stop offset="0.147" stop-color="#2d3f66"/><stop offset="0.155" stop-color="#2d4066"/><stop offset="0.166" stop-color="#2c1647"/><stop offset="0.174" stop-color="#2d2552"/><stop offset="0.185" stop-color="#2d4469"/><stop offset="0.193" stop-color="#2e2f5a"/><stop offset="0.201" stop-color="#2b0534"/><stop offset="0.265" stop-color="#2b0837"/><stop offset="0.282" stop-color="#2c1647"/><stop offset="0.298" stop-color="#2b0534"/><stop offset="0.419" stop-color="#2b0736"/><stop offset="0.441" stop-color="#2d3c63"/><stop offset="0.457" stop-color="#2e3961"/><stop offset="0.478" stop-color="#2b0534"/><stop offset="0.497" stop-color="#2b0c3c"/><stop offset="0.516" stop-color="#2e2b57"/><stop offset="0.540" stop-color="#2b0534"/><stop offset="0.573" stop-color="#2b0838"/><stop offset="0.605" stop-color="#2d496d"/><stop offset="0.632" stop-color="#237a84"/><stop offset="0.710" stop-color="#208589"/><stop offset="0.759" stop-color="#237783"/><stop offset="0.805" stop-color="#2d204f"/><stop offset="0.821" stop-color="#2b0534"/><stop offset="0.888" stop-color="#2b0737"/><stop offset="0.912" stop-color="#2e365f"/><stop offset="0.999" stop-color="#2d4066"/></linearGradient><linearGradient id="a53" x2="0" y2="1"><stop offset="0.001" stop-color="#f0e228"/><stop offset="0.034" stop-color="#dcdc38"/><stop offset="0.058" stop-color="#9dc864"/><stop offset="0.082" stop-color="#329a86"/><stop offset="0.090" stop-color="#1f8b8c"/><stop offset="0.093" stop-color="#237783"/><stop offset="0.096" stop-color="#2d204e"/><stop offset="0.098" stop-color="#2b0534"/><stop offset="0.133" stop-color="#2b0534"/><stop offset="0.144" stop-color="#2e3a62"/><stop offset="0.152" stop-color="#2d4369"/><stop offset="0.166" stop-color="#2c1546"/><stop offset="0.174" stop-color="#2e2c58"/><stop offset="0.182" stop-color="#2d4469"/><stop offset="0.190" stop-color="#2e345e"/><stop offset="0.198" stop-color="#2b0938"/><stop offset="0.257" stop-color="#2b0939"/><stop offset="0.279" stop-color="#2c1848"/><stop offset="0.295" stop-color="#2b0534"/><stop offset="0.314" stop-color="#2d1c4c"/><stop offset="0.333" stop-color="#2b0534"/><stop offset="0.422" stop-color="#2b0838"/><stop offset="0.443" stop-color="#2e355e"/><stop offset="0.460" stop-color="#2e2c58"/><stop offset="0.478" stop-color="#2b0534"/><stop offset="0.500" stop-color="#2b0a3a"/><stop offset="0.519" stop-color="#2d1c4b"/><stop offset="0.540" stop-color="#2b0534"/><stop offset="0.573" stop-color="#2b0838"/><stop offset="0.605" stop-color="#2d4a6d"/><stop offset="0.632" stop-color="#237a84"/><stop offset="0.673" stop-color="#218087"/><stop offset="0.697" stop-color="#218087"/><stop offset="0.753" stop-color="#227c85"/><stop offset="0.780" stop-color="#2c5070"/><stop offset="0.813" stop-color="#2b0d3d"/><stop offset="0.832" stop-color="#2b0534"/><stop offset="0.877" stop-color="#2b0a39"/><stop offset="0.902" stop-color="#2e3b62"/><stop offset="0.966" stop-color="#2d476b"/><stop offset="0.999" stop-color="#2d476c"/></linearGradient><linearGradient id="a54" x2="0" y2="1"><stop offset="0.001" stop-color="#f5e423"/><stop offset="0.034" stop-color="#e1de34"/><stop offset="0.058" stop-color="#a1c962"/><stop offset="0.082" stop-color="#339a86"/><stop offset="0.090" stop-color="#1f8b8c"/><stop offset="0.093" stop-color="#237883"/><stop offset="0.096" stop-color="#2d204f"/><stop offset="0.098" stop-color="#2b0534"/><stop offset="0.133" stop-color="#2b0838"/><stop offset="0.144" stop-color="#2d3e65"/><stop offset="0.152" stop-color="#2d4167"/><stop offset="0.166" stop-color="#2c1546"/><stop offset="0.182" stop-color="#2d4469"/><stop offset="0.190" stop-color="#2e2f5a"/><stop offset="0.198" stop-color="#2b0534"/><stop offset="0.252" stop-color="#2b0938"/><stop offset="0.265" stop-color="#2d2250"/><stop offset="0.292" stop-color="#2b0636"/><stop offset="0.311" stop-color="#2e2b57"/><stop offset="0.333" stop-color="#2b0534"/><stop offset="0.427" stop-color="#2b0b3b"/><stop offset="0.449" stop-color="#2e2956"/><stop offset="0.484" stop-color="#2b0534"/><stop offset="0.508" stop-color="#2b0d3d"/><stop offset="0.527" stop-color="#2b0d3d"/><stop offset="0.559" stop-color="#2b0534"/><stop offset="0.573" stop-color="#2b0b3a"/><stop offset="0.608" stop-color="#26697c"/><stop offset="0.629" stop-color="#227e86"/><stop offset="0.667" stop-color="#218087"/><stop offset="0.686" stop-color="#266a7c"/><stop offset="0.713" stop-color="#208689"/><stop offset="0.759" stop-color="#237883"/><stop offset="0.805" stop-color="#2d204f"/><stop offset="0.821" stop-color="#2b0534"/><stop offset="0.867" stop-color="#2b0737"/><stop offset="0.888" stop-color="#2e3b63"/><stop offset="0.934" stop-color="#2c5171"/><stop offset="0.999" stop-color="#2c5271"/></linearGradient><linearGradient id="a55" x2="0" y2="1"><stop offset="0.001" stop-color="#f8e629"/><stop offset="0.026" stop-color="#f1e327"/><stop offset="0.050" stop-color="#c0d74f"/><stop offset="0.066" stop-color="#7dbb71"/><stop offset="0.085" stop-color="#2d9688"/><stop offset="0.090" stop-color="#208c8c"/><stop offset="0.093" stop-color="#237983"/><stop offset="0.096" stop-color="#2d204f"/><stop offset="0.098" stop-color="#2b0534"/><stop offset="0.131" stop-color="#2b0534"/><stop offset="0.144" stop-color="#2d4167"/><stop offset="0.152" stop-color="#2d3e65"/><stop offset="0.163" stop-color="#2c1748"/><stop offset="0.171" stop-color="#2e2c58"/><stop offset="0.179" stop-color="#2d4469"/><stop offset="0.187" stop-color="#2e345e"/><stop offset="0.195" stop-color="#2b0938"/><stop offset="0.249" stop-color="#2b0837"/><stop offset="0.263" stop-color="#2d2654"/><stop offset="0.290" stop-color="#2b0534"/><stop offset="0.311" stop-color="#2e2e59"/><stop offset="0.330" stop-color="#2b0534"/><stop offset="0.433" stop-color="#2b0b3a"/><stop offset="0.457" stop-color="#2e2855"/><stop offset="0.487" stop-color="#2b0534"/><stop offset="0.508" stop-color="#2c0e3e"/><stop offset="0.527" stop-color="#2c1546"/><stop offset="0.546" stop-color="#2b0534"/><stop offset="0.570" stop-color="#2b0939"/><stop offset="0.597" stop-color="#295d76"/><stop offset="0.611" stop-color="#208c8c"/><stop offset="0.640" stop-color="#20888b"/><stop offset="0.670" stop-color="#237883"/><stop offset="0.683" stop-color="#2a5a75"/><stop offset="0.710" stop-color="#208589"/><stop offset="0.759" stop-color="#218288"/><stop offset="0.807" stop-color="#2c1949"/><stop offset="0.821" stop-color="#2b0534"/><stop offset="0.867" stop-color="#2b0636"/><stop offset="0.888" stop-color="#2e3b63"/><stop offset="0.929" stop-color="#2b5472"/><stop offset="0.999" stop-color="#2b5573"/></linearGradient><linearGradient id="a56" x2="0" y2="1"><stop offset="0.001" stop-color="#f8e739"/><stop offset="0.020" stop-color="#f8e629"/><stop offset="0.031" stop-color="#efe229"/><stop offset="0.055" stop-color="#b1d158"/><stop offset="0.080" stop-color="#3ea183"/><stop offset="0.090" stop-color="#208c8c"/><stop offset="0.093" stop-color="#237984"/><stop offset="0.096" stop-color="#2d204f"/><stop offset="0.098" stop-color="#2b0534"/><stop offset="0.131" stop-color="#2b0636"/><stop offset="0.142" stop-color="#2d3c64"/><stop offset="0.150" stop-color="#2d4268"/><stop offset="0.163" stop-color="#2c1748"/><stop offset="0.179" stop-color="#2d4469"/><stop offset="0.187" stop-color="#2e2f5a"/><stop offset="0.195" stop-color="#2b0534"/><stop offset="0.247" stop-color="#2b0534"/><stop offset="0.260" stop-color="#2d2653"/><stop offset="0.274" stop-color="#2c1040"/><stop offset="0.284" stop-color="#2b0534"/><stop offset="0.295" stop-color="#2c1040"/><stop offset="0.309" stop-color="#2e2e5a"/><stop offset="0.322" stop-color="#2c1142"/><stop offset="0.333" stop-color="#2b0534"/><stop offset="0.433" stop-color="#2b0938"/><stop offset="0.454" stop-color="#2e325d"/><stop offset="0.470" stop-color="#2d2654"/><stop offset="0.487" stop-color="#2b0534"/><stop offset="0.503" stop-color="#2b0b3b"/><stop offset="0.522" stop-color="#2e2754"/><stop offset="0.546" stop-color="#2b0534"/><stop offset="0.570" stop-color="#2b0a3a"/><stop offset="0.594" stop-color="#2b5573"/><stop offset="0.608" stop-color="#208c8c"/><stop offset="0.640" stop-color="#208c8c"/><stop offset="0.667" stop-color="#237a84"/><stop offset="0.683" stop-color="#2d4a6e"/><stop offset="0.694" stop-color="#286279"/><stop offset="0.708" stop-color="#218388"/><stop offset="0.764" stop-color="#218d8b"/><stop offset="0.775" stop-color="#256e7f"/><stop offset="0.786" stop-color="#2d466a"/><stop offset="0.821" stop-color="#2b0534"/><stop offset="0.877" stop-color="#2b0939"/><stop offset="0.899" stop-color="#2e3a62"/><stop offset="0.942" stop-color="#2c4e6f"/><stop offset="0.999" stop-color="#2c4f70"/></linearGradient><linearGradient id="a57" x2="0" y2="1"><stop offset="0.001" stop-color="#f8e849"/><stop offset="0.020" stop-color="#f8e739"/><stop offset="0.028" stop-color="#f7e521"/><stop offset="0.053" stop-color="#bed650"/><stop offset="0.069" stop-color="#74b874"/><stop offset="0.085" stop-color="#2e9787"/><stop offset="0.090" stop-color="#208c8c"/><stop offset="0.093" stop-color="#237a84"/><stop offset="0.096" stop-color="#2d204f"/><stop offset="0.098" stop-color="#2b0534"/><stop offset="0.131" stop-color="#2b0b3b"/><stop offset="0.142" stop-color="#2d4066"/><stop offset="0.150" stop-color="#2d4066"/><stop offset="0.160" stop-color="#2c1949"/><stop offset="0.168" stop-color="#2e2d59"/><stop offset="0.177" stop-color="#2d4469"/><stop offset="0.185" stop-color="#2e345e"/><stop offset="0.193" stop-color="#2b0938"/><stop offset="0.247" stop-color="#2b0938"/><stop offset="0.260" stop-color="#2e2754"/><stop offset="0.279" stop-color="#2b0534"/><stop offset="0.292" stop-color="#2b0c3c"/><stop offset="0.306" stop-color="#2e2e59"/><stop offset="0.317" stop-color="#2d1e4d"/><stop offset="0.327" stop-color="#2b0534"/><stop offset="0.430" stop-color="#2b0635"/><stop offset="0.451" stop-color="#2e3760"/><stop offset="0.468" stop-color="#2e335d"/><stop offset="0.489" stop-color="#2b0534"/><stop offset="0.503" stop-color="#2c1040"/><stop offset="0.519" stop-color="#2e305b"/><stop offset="0.532" stop-color="#2d204f"/><stop offset="0.546" stop-color="#2b0534"/><stop offset="0.570" stop-color="#2b0837"/><stop offset="0.597" stop-color="#2b5573"/><stop offset="0.613" stop-color="#1f8b8c"/><stop offset="0.664" stop-color="#227e86"/><stop offset="0.681" stop-color="#2d456a"/><stop offset="0.691" stop-color="#2d4b6e"/><stop offset="0.705" stop-color="#227f86"/><stop offset="0.761" stop-color="#248e8b"/><stop offset="0.772" stop-color="#227b85"/><stop offset="0.786" stop-color="#2d466b"/><stop offset="0.821" stop-color="#2b0534"/><stop offset="0.885" stop-color="#2b0736"/><stop offset="0.907" stop-color="#2e3961"/><stop offset="0.947" stop-color="#2d4a6d"/><stop offset="0.999" stop-color="#2d4a6d"/></linearGradient><linearGradient id="a58" x2="0" y2="1"><stop offset="0.001" stop-color="#f8e95a"/><stop offset="0.020" stop-color="#f8e849"/><stop offset="0.031" stop-color="#f8e522"/><stop offset="0.055" stop-color="#b8d453"/><stop offset="0.080" stop-color="#41a282"/><stop offset="0.090" stop-color="#218c8b"/><stop offset="0.093" stop-color="#227b85"/><stop offset="0.096" stop-color="#2d214f"/><stop offset="0.098" stop-color="#2b0534"/><stop offset="0.128" stop-color="#2b0534"/><stop offset="0.139" stop-color="#2e3b62"/><stop offset="0.147" stop-color="#2d4368"/><stop offset="0.160" stop-color="#2c1949"/><stop offset="0.177" stop-color="#2d4469"/><stop offset="0.185" stop-color="#2e2f5a"/><stop offset="0.193" stop-color="#2b0534"/><stop offset="0.244" stop-color="#2b0635"/><stop offset="0.257" stop-color="#2d2653"/><stop offset="0.271" stop-color="#2b0d3d"/><stop offset="0.287" stop-color="#2b0534"/><stop offset="0.306" stop-color="#2e2e5a"/><stop offset="0.319" stop-color="#2c1141"/><stop offset="0.330" stop-color="#2b0534"/><stop offset="0.430" stop-color="#2b0636"/><stop offset="0.451" stop-color="#2e3861"/><stop offset="0.468" stop-color="#2e345e"/><stop offset="0.489" stop-color="#2b0534"/><stop offset="0.503" stop-color="#2c1041"/><stop offset="0.519" stop-color="#2e315b"/><stop offset="0.532" stop-color="#2d2150"/><stop offset="0.546" stop-color="#2b0534"/><stop offset="0.573" stop-color="#2b0939"/><stop offset="0.605" stop-color="#2b5573"/><stop offset="0.629" stop-color="#237a84"/><stop offset="0.662" stop-color="#218187"/><stop offset="0.673" stop-color="#2a5b75"/><stop offset="0.681" stop-color="#2d3e65"/><stop offset="0.691" stop-color="#2d456a"/><stop offset="0.705" stop-color="#227e86"/><stop offset="0.753" stop-color="#1f8b8c"/><stop offset="0.772" stop-color="#266a7c"/><stop offset="0.794" stop-color="#2e3961"/><stop offset="0.821" stop-color="#2b0534"/><stop offset="0.885" stop-color="#2b0c3c"/><stop offset="0.907" stop-color="#2d3d64"/><stop offset="0.958" stop-color="#2c4f70"/><stop offset="0.999" stop-color="#2c4f70"/></linearGradient><linearGradient id="a59" x2="0" y2="1"><stop offset="0.001" stop-color="#f8ea6a"/><stop offset="0.020" stop-color="#f8e958"/><stop offset="0.034" stop-color="#f8e523"/><stop offset="0.058" stop-color="#b1d158"/><stop offset="0.080" stop-color="#43a382"/><stop offset="0.090" stop-color="#218d8b"/><stop offset="0.093" stop-color="#227c85"/><stop offset="0.096" stop-color="#2d214f"/><stop offset="0.098" stop-color="#2b0534"/><stop offset="0.128" stop-color="#2b0939"/><stop offset="0.139" stop-color="#2d3e65"/><stop offset="0.147" stop-color="#2d4167"/><stop offset="0.160" stop-color="#2c1a4a"/><stop offset="0.174" stop-color="#2d4469"/><stop offset="0.182" stop-color="#2e345e"/><stop offset="0.190" stop-color="#2b0938"/><stop offset="0.244" stop-color="#2b0a39"/><stop offset="0.257" stop-color="#2e2754"/><stop offset="0.276" stop-color="#2b0534"/><stop offset="0.290" stop-color="#2b0d3d"/><stop offset="0.303" stop-color="#2e2e59"/><stop offset="0.314" stop-color="#2d1d4d"/><stop offset="0.325" stop-color="#2b0534"/><stop offset="0.433" stop-color="#2b0a39"/><stop offset="0.454" stop-color="#2e365f"/><stop offset="0.470" stop-color="#2e2a57"/><stop offset="0.489" stop-color="#2b0534"/><stop offset="0.503" stop-color="#2b0d3d"/><stop offset="0.522" stop-color="#2e2c58"/><stop offset="0.546" stop-color="#2b0534"/><stop offset="0.573" stop-color="#2b0938"/><stop offset="0.605" stop-color="#2d4b6e"/><stop offset="0.629" stop-color="#237a84"/><stop offset="0.659" stop-color="#218489"/><stop offset="0.670" stop-color="#28647a"/><stop offset="0.678" stop-color="#2d3d64"/><stop offset="0.686" stop-color="#2e335d"/><stop offset="0.697" stop-color="#2a5774"/><stop offset="0.705" stop-color="#227c85"/><stop offset="0.729" stop-color="#20888a"/><stop offset="0.764" stop-color="#247481"/><stop offset="0.807" stop-color="#2c1a4a"/><stop offset="0.821" stop-color="#2b0534"/><stop offset="0.872" stop-color="#2b0838"/><stop offset="0.896" stop-color="#2d4268"/><stop offset="0.929" stop-color="#295e77"/><stop offset="0.999" stop-color="#295f78"/></linearGradient><linearGradient id="a60" x2="0" y2="1"><stop offset="0.001" stop-color="#f8eb7a"/><stop offset="0.020" stop-color="#f8ea68"/><stop offset="0.034" stop-color="#f8e631"/><stop offset="0.036" stop-color="#f8e521"/><stop offset="0.061" stop-color="#a9cd5d"/><stop offset="0.082" stop-color="#379e84"/><stop offset="0.090" stop-color="#218d8b"/><stop offset="0.093" stop-color="#227d85"/><stop offset="0.096" stop-color="#2d2150"/><stop offset="0.098" stop-color="#2b0534"/><stop offset="0.125" stop-color="#2b0534"/><stop offset="0.139" stop-color="#2d4167"/><stop offset="0.147" stop-color="#2d3e65"/><stop offset="0.158" stop-color="#2c1b4b"/><stop offset="0.174" stop-color="#2d4469"/><stop offset="0.182" stop-color="#2e2f5a"/><stop offset="0.190" stop-color="#2b0534"/><stop offset="0.241" stop-color="#2b0736"/><stop offset="0.255" stop-color="#2d2654"/><stop offset="0.276" stop-color="#2b0534"/><stop offset="0.290" stop-color="#2c1445"/><stop offset="0.303" stop-color="#2e2e5a"/><stop offset="0.327" stop-color="#2b0534"/><stop offset="0.433" stop-color="#2b0837"/><stop offset="0.457" stop-color="#2e2c58"/><stop offset="0.478" stop-color="#2c0e3e"/><stop offset="0.497" stop-color="#2b0534"/><stop offset="0.524" stop-color="#2d1d4c"/><stop offset="0.546" stop-color="#2b0534"/><stop offset="0.573" stop-color="#2b0938"/><stop offset="0.605" stop-color="#2d4b6e"/><stop offset="0.632" stop-color="#227d86"/><stop offset="0.659" stop-color="#218489"/><stop offset="0.667" stop-color="#256e7f"/><stop offset="0.678" stop-color="#2e3760"/><stop offset="0.686" stop-color="#2e2b57"/><stop offset="0.697" stop-color="#2c5070"/><stop offset="0.705" stop-color="#227b85"/><stop offset="0.724" stop-color="#20898b"/><stop offset="0.764" stop-color="#247481"/><stop offset="0.807" stop-color="#2c1a4a"/><stop offset="0.821" stop-color="#2b0534"/><stop offset="0.864" stop-color="#2b0b3b"/><stop offset="0.885" stop-color="#2d466a"/><stop offset="0.910" stop-color="#266a7d"/><stop offset="0.999" stop-color="#256f7f"/></linearGradient><linearGradient id="a61" x2="0" y2="1"><stop offset="0.001" stop-color="#f8ec8a"/><stop offset="0.020" stop-color="#f8eb78"/><stop offset="0.034" stop-color="#f8e740"/><stop offset="0.039" stop-color="#f6e422"/><stop offset="0.063" stop-color="#a0c963"/><stop offset="0.082" stop-color="#389e84"/><stop offset="0.090" stop-color="#228d8b"/><stop offset="0.093" stop-color="#227e86"/><stop offset="0.096" stop-color="#2d2150"/><stop offset="0.098" stop-color="#2b0534"/><stop offset="0.125" stop-color="#2b0736"/><stop offset="0.136" stop-color="#2d3d64"/><stop offset="0.144" stop-color="#2d4268"/><stop offset="0.158" stop-color="#2d1c4c"/><stop offset="0.171" stop-color="#2d4469"/><stop offset="0.179" stop-color="#2e345e"/><stop offset="0.187" stop-color="#2b0938"/><stop offset="0.241" stop-color="#2b0b3b"/><stop offset="0.255" stop-color="#2e2754"/><stop offset="0.274" stop-color="#2b0534"/><stop offset="0.287" stop-color="#2c1546"/><stop offset="0.303" stop-color="#2e2d59"/><stop offset="0.333" stop-color="#2b0737"/><stop offset="0.430" stop-color="#2b0a3a"/><stop offset="0.462" stop-color="#2c1949"/><stop offset="0.487" stop-color="#2b0534"/><stop offset="0.513" stop-color="#2b0d3d"/><stop offset="0.535" stop-color="#2b0b3b"/><stop offset="0.570" stop-color="#2b0635"/><stop offset="0.602" stop-color="#295f77"/><stop offset="0.619" stop-color="#218187"/><stop offset="0.659" stop-color="#218489"/><stop offset="0.667" stop-color="#266b7d"/><stop offset="0.678" stop-color="#2e315b"/><stop offset="0.686" stop-color="#2d204f"/><stop offset="0.697" stop-color="#2d4a6d"/><stop offset="0.705" stop-color="#237a84"/><stop offset="0.721" stop-color="#1f898b"/><stop offset="0.759" stop-color="#208689"/><stop offset="0.807" stop-color="#2c1a4a"/><stop offset="0.821" stop-color="#2b0534"/><stop offset="0.864" stop-color="#2b0a3a"/><stop offset="0.885" stop-color="#2d466a"/><stop offset="0.907" stop-color="#266b7d"/><stop offset="0.999" stop-color="#247280"/></linearGradient><linearGradient id="a62" x2="0" y2="1"><stop offset="0.001" stop-color="#f8ed9a"/><stop offset="0.020" stop-color="#f8ec88"/><stop offset="0.034" stop-color="#f8e84e"/><stop offset="0.039" stop-color="#f8e629"/><stop offset="0.044" stop-color="#ece12b"/><stop offset="0.066" stop-color="#94c468"/><stop offset="0.082" stop-color="#399f84"/><stop offset="0.093" stop-color="#227f86"/><stop offset="0.096" stop-color="#2d2150"/><stop offset="0.098" stop-color="#2b0534"/><stop offset="0.125" stop-color="#2b0b3a"/><stop offset="0.136" stop-color="#2d3e65"/><stop offset="0.144" stop-color="#2d3e65"/><stop offset="0.155" stop-color="#2d1c4c"/><stop offset="0.171" stop-color="#2d4469"/><stop offset="0.179" stop-color="#2e2f5a"/><stop offset="0.187" stop-color="#2b0534"/><stop offset="0.239" stop-color="#2b0837"/><stop offset="0.252" stop-color="#2e2754"/><stop offset="0.274" stop-color="#2b0534"/><stop offset="0.301" stop-color="#2d2553"/><stop offset="0.330" stop-color="#2c1445"/><stop offset="0.344" stop-color="#2b0534"/><stop offset="0.422" stop-color="#2b0a39"/><stop offset="0.443" stop-color="#2d1e4d"/><stop offset="0.487" stop-color="#2b0534"/><stop offset="0.516" stop-color="#2c0e3e"/><stop offset="0.535" stop-color="#2c1243"/><stop offset="0.554" stop-color="#2b0534"/><stop offset="0.570" stop-color="#2b0b3a"/><stop offset="0.594" stop-color="#2a5774"/><stop offset="0.605" stop-color="#1f898b"/><stop offset="0.637" stop-color="#238e8b"/><stop offset="0.662" stop-color="#218087"/><stop offset="0.670" stop-color="#2a5975"/><stop offset="0.683" stop-color="#2d1d4c"/><stop offset="0.691" stop-color="#2e315c"/><stop offset="0.705" stop-color="#237a84"/><stop offset="0.721" stop-color="#1f8a8b"/><stop offset="0.764" stop-color="#258f8a"/><stop offset="0.772" stop-color="#218489"/><stop offset="0.786" stop-color="#2d486c"/><stop offset="0.821" stop-color="#2b0534"/><stop offset="0.872" stop-color="#2b0737"/><stop offset="0.896" stop-color="#2d4569"/><stop offset="0.920" stop-color="#27667b"/><stop offset="0.999" stop-color="#266a7d"/></linearGradient><linearGradient id="a63" x2="0" y2="1"><stop offset="0.001" stop-color="#f8eea2"/><stop offset="0.020" stop-color="#f8ed97"/><stop offset="0.034" stop-color="#f8e95d"/><stop offset="0.042" stop-color="#f8e521"/><stop offset="0.063" stop-color="#a5cb5f"/><stop offset="0.082" stop-color="#3b9f83"/><stop offset="0.093" stop-color="#227f87"/><stop offset="0.096" stop-color="#2d2250"/><stop offset="0.098" stop-color="#2b0534"/><stop offset="0.125" stop-color="#2b0b3b"/><stop offset="0.136" stop-color="#2e3861"/><stop offset="0.144" stop-color="#2e345d"/><stop offset="0.155" stop-color="#2c1b4b"/><stop offset="0.168" stop-color="#2d4469"/><stop offset="0.177" stop-color="#2e345e"/><stop offset="0.185" stop-color="#2b0938"/><stop offset="0.236" stop-color="#2b0534"/><stop offset="0.249" stop-color="#2d2653"/><stop offset="0.263" stop-color="#2c0f40"/><stop offset="0.274" stop-color="#2b0736"/><stop offset="0.290" stop-color="#2c1949"/><stop offset="0.311" stop-color="#2c1a4a"/><stop offset="0.325" stop-color="#2d2251"/><stop offset="0.338" stop-color="#2b0534"/><stop offset="0.416" stop-color="#2b0736"/><stop offset="0.441" stop-color="#2e2c58"/><stop offset="0.487" stop-color="#2b0534"/><stop offset="0.511" stop-color="#2b0a39"/><stop offset="0.530" stop-color="#2d2250"/><stop offset="0.554" stop-color="#2b0534"/><stop offset="0.570" stop-color="#2b0c3c"/><stop offset="0.592" stop-color="#2c4f70"/><stop offset="0.602" stop-color="#20888b"/><stop offset="0.635" stop-color="#299289"/><stop offset="0.662" stop-color="#218087"/><stop offset="0.670" stop-color="#2a5975"/><stop offset="0.683" stop-color="#2d1d4c"/><stop offset="0.691" stop-color="#2e325c"/><stop offset="0.705" stop-color="#237a84"/><stop offset="0.721" stop-color="#1f8a8c"/><stop offset="0.759" stop-color="#2b9488"/><stop offset="0.775" stop-color="#218288"/><stop offset="0.788" stop-color="#2d4368"/><stop offset="0.821" stop-color="#2b0534"/><stop offset="0.883" stop-color="#2b0b3b"/><stop offset="0.904" stop-color="#2d4268"/><stop offset="0.934" stop-color="#286178"/><stop offset="0.999" stop-color="#286379"/></linearGradient><linearGradient id="a64" x2="0" y2="1"><stop offset="0.001" stop-color="#f8efab"/><stop offset="0.023" stop-color="#f8ed9d"/><stop offset="0.034" stop-color="#f8ea6b"/><stop offset="0.042" stop-color="#f8e62d"/><stop offset="0.044" stop-color="#f4e424"/><stop offset="0.066" stop-color="#9ac765"/><stop offset="0.082" stop-color="#3ca083"/><stop offset="0.093" stop-color="#218087"/><stop offset="0.096" stop-color="#2d2250"/><stop offset="0.098" stop-color="#2b0534"/><stop offset="0.125" stop-color="#2b0837"/><stop offset="0.136" stop-color="#2e2a57"/><stop offset="0.152" stop-color="#2c1445"/><stop offset="0.166" stop-color="#2d4268"/><stop offset="0.174" stop-color="#2e3a62"/><stop offset="0.185" stop-color="#2b0534"/><stop offset="0.236" stop-color="#2b0938"/><stop offset="0.249" stop-color="#2e2754"/><stop offset="0.268" stop-color="#2b0636"/><stop offset="0.287" stop-color="#2c1647"/><stop offset="0.303" stop-color="#2b0c3b"/><stop offset="0.319" stop-color="#2d2654"/><stop offset="0.338" stop-color="#2b0534"/><stop offset="0.384" stop-color="#2b0737"/><stop offset="0.416" stop-color="#2b0a39"/><stop offset="0.438" stop-color="#2e315c"/><stop offset="0.476" stop-color="#2b0d3d"/><stop offset="0.497" stop-color="#2b0534"/><stop offset="0.511" stop-color="#2b0d3d"/><stop offset="0.530" stop-color="#2e2956"/><stop offset="0.554" stop-color="#2b0534"/><stop offset="0.570" stop-color="#2b0a3a"/><stop offset="0.594" stop-color="#2b5472"/><stop offset="0.608" stop-color="#208c8c"/><stop offset="0.656" stop-color="#20888a"/><stop offset="0.667" stop-color="#266c7d"/><stop offset="0.678" stop-color="#2e2f5a"/><stop offset="0.686" stop-color="#2d1e4d"/><stop offset="0.697" stop-color="#2d4a6d"/><stop offset="0.705" stop-color="#237b84"/><stop offset="0.721" stop-color="#1f8b8c"/><stop offset="0.764" stop-color="#248e8b"/><stop offset="0.772" stop-color="#218087"/><stop offset="0.786" stop-color="#2d486c"/><stop offset="0.821" stop-color="#2b0534"/><stop offset="0.880" stop-color="#2b0939"/><stop offset="0.904" stop-color="#2d466a"/><stop offset="0.931" stop-color="#286379"/><stop offset="0.999" stop-color="#27667b"/></linearGradient><linearGradient id="a65" x2="0" y2="1"><stop offset="0.001" stop-color="#f8f0b3"/><stop offset="0.026" stop-color="#f8ee9f"/><stop offset="0.034" stop-color="#f8eb79"/><stop offset="0.044" stop-color="#f8e521"/><stop offset="0.066" stop-color="#9dc864"/><stop offset="0.082" stop-color="#3da083"/><stop offset="0.093" stop-color="#218187"/><stop offset="0.096" stop-color="#2d2250"/><stop offset="0.098" stop-color="#2b0534"/><stop offset="0.125" stop-color="#2b0635"/><stop offset="0.136" stop-color="#2d1d4c"/><stop offset="0.150" stop-color="#2c0e3e"/><stop offset="0.166" stop-color="#2d4469"/><stop offset="0.174" stop-color="#2e345e"/><stop offset="0.182" stop-color="#2b0939"/><stop offset="0.233" stop-color="#2b0535"/><stop offset="0.247" stop-color="#2d2653"/><stop offset="0.268" stop-color="#2b0838"/><stop offset="0.284" stop-color="#2c1445"/><stop offset="0.301" stop-color="#2b0837"/><stop offset="0.317" stop-color="#2d2654"/><stop offset="0.336" stop-color="#2b0534"/><stop offset="0.416" stop-color="#2b0a39"/><stop offset="0.438" stop-color="#2e315b"/><stop offset="0.476" stop-color="#2b0d3c"/><stop offset="0.505" stop-color="#2b0534"/><stop offset="0.530" stop-color="#2e2855"/><stop offset="0.554" stop-color="#2b0534"/><stop offset="0.573" stop-color="#2b0b3a"/><stop offset="0.608" stop-color="#26697c"/><stop offset="0.632" stop-color="#218288"/><stop offset="0.659" stop-color="#20868a"/><stop offset="0.667" stop-color="#266c7e"/><stop offset="0.678" stop-color="#2e305b"/><stop offset="0.686" stop-color="#2d1e4d"/><stop offset="0.697" stop-color="#2d4a6d"/><stop offset="0.705" stop-color="#227b85"/><stop offset="0.721" stop-color="#1f8b8c"/><stop offset="0.761" stop-color="#227f86"/><stop offset="0.807" stop-color="#2c1a4a"/><stop offset="0.821" stop-color="#2b0534"/><stop offset="0.869" stop-color="#2b0b3b"/><stop offset="0.891" stop-color="#2d4469"/><stop offset="0.915" stop-color="#256d7e"/><stop offset="0.999" stop-color="#247381"/></linearGradient><linearGradient id="a66" x2="0" y2="1"><stop offset="0.001" stop-color="#f8f1bb"/><stop offset="0.026" stop-color="#f8efa7"/><stop offset="0.034" stop-color="#f8ec88"/><stop offset="0.044" stop-color="#f8e62d"/><stop offset="0.047" stop-color="#f3e325"/><stop offset="0.069" stop-color="#8fc26a"/><stop offset="0.085" stop-color="#339a86"/><stop offset="0.093" stop-color="#218288"/><stop offset="0.096" stop-color="#2d2251"/><stop offset="0.098" stop-color="#2b0534"/><stop offset="0.125" stop-color="#2b0837"/><stop offset="0.136" stop-color="#2c1b4b"/><stop offset="0.150" stop-color="#2c0e3f"/><stop offset="0.163" stop-color="#2d4268"/><stop offset="0.171" stop-color="#2e3a62"/><stop offset="0.182" stop-color="#2b0635"/><stop offset="0.233" stop-color="#2b0939"/><stop offset="0.247" stop-color="#2d2653"/><stop offset="0.268" stop-color="#2b0d3d"/><stop offset="0.287" stop-color="#2b0837"/><stop offset="0.301" stop-color="#2b0b3a"/><stop offset="0.314" stop-color="#2d2654"/><stop offset="0.333" stop-color="#2b0534"/><stop offset="0.419" stop-color="#2b0b3b"/><stop offset="0.441" stop-color="#2e2a56"/><stop offset="0.487" stop-color="#2b0534"/><stop offset="0.511" stop-color="#2b0938"/><stop offset="0.530" stop-color="#2d204f"/><stop offset="0.554" stop-color="#2b0534"/><stop offset="0.573" stop-color="#2b0939"/><stop offset="0.605" stop-color="#2d4d6f"/><stop offset="0.629" stop-color="#227e86"/><stop offset="0.659" stop-color="#20868a"/><stop offset="0.667" stop-color="#266d7e"/><stop offset="0.678" stop-color="#2e305b"/><stop offset="0.686" stop-color="#2d1e4d"/><stop offset="0.697" stop-color="#2d4a6d"/><stop offset="0.705" stop-color="#227c85"/><stop offset="0.721" stop-color="#1f8b8c"/><stop offset="0.761" stop-color="#237a84"/><stop offset="0.807" stop-color="#2c1a4a"/><stop offset="0.821" stop-color="#2b0534"/><stop offset="0.858" stop-color="#2b0736"/><stop offset="0.883" stop-color="#2d4c6f"/><stop offset="0.899" stop-color="#247381"/><stop offset="0.969" stop-color="#227f86"/><stop offset="0.999" stop-color="#227f86"/></linearGradient><linearGradient id="a67" x2="0" y2="1"><stop offset="0.001" stop-color="#f8f2c3"/><stop offset="0.026" stop-color="#f8efaf"/><stop offset="0.034" stop-color="#f8ed96"/><stop offset="0.047" stop-color="#f7e522"/><stop offset="0.069" stop-color="#91c369"/><stop offset="0.085" stop-color="#349b85"/><stop offset="0.093" stop-color="#218388"/><stop offset="0.096" stop-color="#2d2251"/><stop offset="0.098" stop-color="#2b0534"/><stop offset="0.125" stop-color="#2b0a39"/><stop offset="0.136" stop-color="#2c1a4a"/><stop offset="0.147" stop-color="#2c0e3e"/><stop offset="0.163" stop-color="#2d4469"/><stop offset="0.171" stop-color="#2e355e"/><stop offset="0.182" stop-color="#2b0534"/><stop offset="0.233" stop-color="#2b0a39"/><stop offset="0.247" stop-color="#2d1f4e"/><stop offset="0.279" stop-color="#2b0b3a"/><stop offset="0.298" stop-color="#2b0939"/><stop offset="0.311" stop-color="#2d2654"/><stop offset="0.330" stop-color="#2b0534"/><stop offset="0.422" stop-color="#2b0a3a"/><stop offset="0.443" stop-color="#2d204f"/><stop offset="0.478" stop-color="#2b0534"/><stop offset="0.516" stop-color="#2b0a3a"/><stop offset="0.535" stop-color="#2c1041"/><stop offset="0.557" stop-color="#2b0534"/><stop offset="0.573" stop-color="#2b0a39"/><stop offset="0.605" stop-color="#2a5874"/><stop offset="0.629" stop-color="#227f86"/><stop offset="0.659" stop-color="#20878a"/><stop offset="0.667" stop-color="#266d7e"/><stop offset="0.678" stop-color="#2e305b"/><stop offset="0.686" stop-color="#2d1e4d"/><stop offset="0.697" stop-color="#2d4a6d"/><stop offset="0.705" stop-color="#227c85"/><stop offset="0.721" stop-color="#1f8b8c"/><stop offset="0.764" stop-color="#1f8b8c"/><stop offset="0.788" stop-color="#2d4369"/><stop offset="0.821" stop-color="#2b0534"/><stop offset="0.861" stop-color="#2b0c3b"/><stop offset="0.885" stop-color="#2b5271"/><stop offset="0.904" stop-color="#247682"/><stop offset="0.999" stop-color="#227e86"/></linearGradient><linearGradient id="a68" x2="0" y2="1"><stop offset="0.001" stop-color="#f8f3cc"/><stop offset="0.023" stop-color="#f8f1bc"/><stop offset="0.036" stop-color="#f8ec90"/><stop offset="0.047" stop-color="#f8e528"/><stop offset="0.055" stop-color="#d9dc3a"/><stop offset="0.071" stop-color="#81bd6f"/><stop offset="0.085" stop-color="#349b85"/><stop offset="0.093" stop-color="#218388"/><stop offset="0.096" stop-color="#2d2351"/><stop offset="0.098" stop-color="#2b0534"/><stop offset="0.125" stop-color="#2b0c3b"/><stop offset="0.136" stop-color="#2c194a"/><stop offset="0.147" stop-color="#2c1041"/><stop offset="0.160" stop-color="#2d4268"/><stop offset="0.168" stop-color="#2e3a62"/><stop offset="0.179" stop-color="#2b0939"/><stop offset="0.236" stop-color="#2b0938"/><stop offset="0.268" stop-color="#2d1e4d"/><stop offset="0.284" stop-color="#2b0534"/><stop offset="0.298" stop-color="#2c0f3f"/><stop offset="0.311" stop-color="#2d2653"/><stop offset="0.327" stop-color="#2b0534"/><stop offset="0.422" stop-color="#2b0b3b"/><stop offset="0.443" stop-color="#2e2955"/><stop offset="0.473" stop-color="#2b0534"/><stop offset="0.538" stop-color="#2b0837"/><stop offset="0.570" stop-color="#2b0a39"/><stop offset="0.594" stop-color="#2c5271"/><stop offset="0.608" stop-color="#1f8b8c"/><stop offset="0.659" stop-color="#20878a"/><stop offset="0.667" stop-color="#256d7e"/><stop offset="0.678" stop-color="#2e305b"/><stop offset="0.686" stop-color="#2d1e4d"/><stop offset="0.697" stop-color="#2d4a6e"/><stop offset="0.705" stop-color="#227d85"/><stop offset="0.718" stop-color="#1f8b8c"/><stop offset="0.759" stop-color="#2e9687"/><stop offset="0.775" stop-color="#1f898b"/><stop offset="0.788" stop-color="#2d456a"/><stop offset="0.821" stop-color="#2b0534"/><stop offset="0.869" stop-color="#2b0837"/><stop offset="0.894" stop-color="#2d476b"/><stop offset="0.915" stop-color="#266a7d"/><stop offset="0.999" stop-color="#257080"/></linearGradient><linearGradient id="a69" x2="0" y2="1"><stop offset="0.001" stop-color="#f8f4d4"/><stop offset="0.023" stop-color="#f8f2c4"/><stop offset="0.036" stop-color="#f8ed9c"/><stop offset="0.047" stop-color="#f8e634"/><stop offset="0.050" stop-color="#f4e425"/><stop offset="0.069" stop-color="#97c567"/><stop offset="0.085" stop-color="#359c85"/><stop offset="0.093" stop-color="#218489"/><stop offset="0.096" stop-color="#2d2351"/><stop offset="0.098" stop-color="#2b0534"/><stop offset="0.123" stop-color="#2b0635"/><stop offset="0.133" stop-color="#2c1b4b"/><stop offset="0.147" stop-color="#2c1445"/><stop offset="0.160" stop-color="#2d4469"/><stop offset="0.168" stop-color="#2e355e"/><stop offset="0.179" stop-color="#2b0837"/><stop offset="0.198" stop-color="#2b0a3a"/><stop offset="0.249" stop-color="#2b0939"/><stop offset="0.265" stop-color="#2d204e"/><stop offset="0.282" stop-color="#2b0534"/><stop offset="0.295" stop-color="#2c0e3e"/><stop offset="0.309" stop-color="#2d2653"/><stop offset="0.325" stop-color="#2b0534"/><stop offset="0.416" stop-color="#2b0736"/><stop offset="0.438" stop-color="#2e345d"/><stop offset="0.454" stop-color="#2e2b57"/><stop offset="0.473" stop-color="#2b0534"/><stop offset="0.522" stop-color="#2b0a3a"/><stop offset="0.540" stop-color="#2b0939"/><stop offset="0.567" stop-color="#2b0837"/><stop offset="0.592" stop-color="#2a5874"/><stop offset="0.600" stop-color="#20878a"/><stop offset="0.627" stop-color="#2f9787"/><stop offset="0.659" stop-color="#20888a"/><stop offset="0.667" stop-color="#256e7e"/><stop offset="0.678" stop-color="#2e305b"/><stop offset="0.686" stop-color="#2d1e4d"/><stop offset="0.697" stop-color="#2d4b6e"/><stop offset="0.705" stop-color="#227d85"/><stop offset="0.718" stop-color="#208b8c"/><stop offset="0.756" stop-color="#329a86"/><stop offset="0.778" stop-color="#208489"/><stop offset="0.791" stop-color="#2d4066"/><stop offset="0.821" stop-color="#2b0534"/><stop offset="0.880" stop-color="#2b0b3b"/><stop offset="0.902" stop-color="#2d4368"/><stop offset="0.929" stop-color="#286279"/><stop offset="0.999" stop-color="#27657a"/></linearGradient><linearGradient id="a70" x2="0" y2="1"><stop offset="0.001" stop-color="#f8f5dc"/><stop offset="0.023" stop-color="#f8f3cc"/><stop offset="0.039" stop-color="#f8ed95"/><stop offset="0.050" stop-color="#f7e522"/><stop offset="0.069" stop-color="#9ac666"/><stop offset="0.085" stop-color="#359c85"/><stop offset="0.093" stop-color="#208589"/><stop offset="0.096" stop-color="#2d2351"/><stop offset="0.098" stop-color="#2b0534"/><stop offset="0.123" stop-color="#2b0837"/><stop offset="0.133" stop-color="#2c1b4b"/><stop offset="0.144" stop-color="#2c1343"/><stop offset="0.158" stop-color="#2d4268"/><stop offset="0.166" stop-color="#2e3a62"/><stop offset="0.177" stop-color="#2b0a3a"/><stop offset="0.195" stop-color="#2c0e3e"/><stop offset="0.214" stop-color="#2b0534"/><stop offset="0.249" stop-color="#2b0838"/><stop offset="0.263" stop-color="#2d204f"/><stop offset="0.282" stop-color="#2b0534"/><stop offset="0.292" stop-color="#2b0d3d"/><stop offset="0.306" stop-color="#2d2654"/><stop offset="0.322" stop-color="#2b0534"/><stop offset="0.416" stop-color="#2b0a3a"/><stop offset="0.438" stop-color="#2e3b63"/><stop offset="0.454" stop-color="#2e325d"/><stop offset="0.473" stop-color="#2b0534"/><stop offset="0.516" stop-color="#2b0939"/><stop offset="0.535" stop-color="#2c1546"/><stop offset="0.557" stop-color="#2b0534"/><stop offset="0.570" stop-color="#2c0e3e"/><stop offset="0.589" stop-color="#2d4b6e"/><stop offset="0.600" stop-color="#1f8a8c"/><stop offset="0.627" stop-color="#319886"/><stop offset="0.659" stop-color="#20888b"/><stop offset="0.667" stop-color="#256e7f"/><stop offset="0.678" stop-color="#2e305b"/><stop offset="0.686" stop-color="#2d1e4e"/><stop offset="0.697" stop-color="#2d4b6e"/><stop offset="0.705" stop-color="#227d86"/><stop offset="0.718" stop-color="#208c8c"/><stop offset="0.761" stop-color="#2a9488"/><stop offset="0.775" stop-color="#218388"/><stop offset="0.788" stop-color="#2d4469"/><stop offset="0.821" stop-color="#2b0534"/><stop offset="0.877" stop-color="#2b0938"/><stop offset="0.902" stop-color="#2d466a"/><stop offset="0.929" stop-color="#286379"/><stop offset="0.999" stop-color="#27667b"/></linearGradient><linearGradient id="a71" x2="0" y2="1"><stop offset="0.001" stop-color="#f8f6e4"/><stop offset="0.023" stop-color="#f8f4d4"/><stop offset="0.039" stop-color="#f8ed9e"/><stop offset="0.050" stop-color="#f8e62a"/><stop offset="0.055" stop-color="#e3de32"/><stop offset="0.071" stop-color="#89c06c"/><stop offset="0.085" stop-color="#369c85"/><stop offset="0.093" stop-color="#208689"/><stop offset="0.096" stop-color="#2d2351"/><stop offset="0.098" stop-color="#2b0534"/><stop offset="0.123" stop-color="#2b0a39"/><stop offset="0.133" stop-color="#2c1b4b"/><stop offset="0.144" stop-color="#2c1647"/><stop offset="0.158" stop-color="#2d4469"/><stop offset="0.166" stop-color="#2e355e"/><stop offset="0.177" stop-color="#2b0737"/><stop offset="0.195" stop-color="#2b0c3c"/><stop offset="0.247" stop-color="#2b0535"/><stop offset="0.260" stop-color="#2d204f"/><stop offset="0.282" stop-color="#2b0534"/><stop offset="0.290" stop-color="#2b0c3c"/><stop offset="0.303" stop-color="#2d2654"/><stop offset="0.322" stop-color="#2b0534"/><stop offset="0.416" stop-color="#2b0b3b"/><stop offset="0.435" stop-color="#2e3a62"/><stop offset="0.451" stop-color="#2e3861"/><stop offset="0.473" stop-color="#2b0534"/><stop offset="0.516" stop-color="#2b0c3b"/><stop offset="0.535" stop-color="#2c1a4a"/><stop offset="0.554" stop-color="#2b0534"/><stop offset="0.570" stop-color="#2b0b3b"/><stop offset="0.594" stop-color="#2a5a75"/><stop offset="0.605" stop-color="#208b8c"/><stop offset="0.637" stop-color="#258f8a"/><stop offset="0.662" stop-color="#218489"/><stop offset="0.670" stop-color="#295d76"/><stop offset="0.681" stop-color="#2d2552"/><stop offset="0.686" stop-color="#2d1f4e"/><stop offset="0.697" stop-color="#2d4b6e"/><stop offset="0.705" stop-color="#227e86"/><stop offset="0.718" stop-color="#208c8c"/><stop offset="0.764" stop-color="#218489"/><stop offset="0.794" stop-color="#2e3a62"/><stop offset="0.821" stop-color="#2b0534"/><stop offset="0.867" stop-color="#2b0a3a"/><stop offset="0.891" stop-color="#2d496d"/><stop offset="0.912" stop-color="#256d7e"/><stop offset="0.999" stop-color="#247381"/></linearGradient><linearGradient id="a72" x2="0" y2="1"><stop offset="0.001" stop-color="#f8f7ed"/><stop offset="0.023" stop-color="#f8f5dc"/><stop offset="0.039" stop-color="#f8eea5"/><stop offset="0.044" stop-color="#f8eb77"/><stop offset="0.050" stop-color="#f8e635"/><stop offset="0.053" stop-color="#f3e325"/><stop offset="0.071" stop-color="#8bc16b"/><stop offset="0.085" stop-color="#369d85"/><stop offset="0.093" stop-color="#20868a"/><stop offset="0.096" stop-color="#2d2351"/><stop offset="0.098" stop-color="#2b0534"/><stop offset="0.123" stop-color="#2b0b3b"/><stop offset="0.133" stop-color="#2c1a4a"/><stop offset="0.144" stop-color="#2c1b4b"/><stop offset="0.155" stop-color="#2d4268"/><stop offset="0.163" stop-color="#2e3a62"/><stop offset="0.174" stop-color="#2b0a39"/><stop offset="0.193" stop-color="#2c0e3e"/><stop offset="0.209" stop-color="#2b0534"/><stop offset="0.247" stop-color="#2b0a3a"/><stop offset="0.260" stop-color="#2d1f4e"/><stop offset="0.276" stop-color="#2b0534"/><stop offset="0.287" stop-color="#2b0b3b"/><stop offset="0.301" stop-color="#2d2654"/><stop offset="0.319" stop-color="#2b0534"/><stop offset="0.416" stop-color="#2b0938"/><stop offset="0.438" stop-color="#2e3861"/><stop offset="0.454" stop-color="#2e305b"/><stop offset="0.473" stop-color="#2b0534"/><stop offset="0.516" stop-color="#2b0a3a"/><stop offset="0.535" stop-color="#2c1748"/><stop offset="0.554" stop-color="#2b0534"/><stop offset="0.573" stop-color="#2b0b3b"/><stop offset="0.611" stop-color="#247280"/><stop offset="0.648" stop-color="#1f8b8c"/><stop offset="0.662" stop-color="#208489"/><stop offset="0.670" stop-color="#295d76"/><stop offset="0.681" stop-color="#2d2553"/><stop offset="0.686" stop-color="#2d1f4e"/><stop offset="0.697" stop-color="#2d4b6e"/><stop offset="0.705" stop-color="#227e86"/><stop offset="0.718" stop-color="#208c8c"/><stop offset="0.759" stop-color="#218388"/><stop offset="0.807" stop-color="#2c1b4b"/><stop offset="0.821" stop-color="#2b0534"/><stop offset="0.856" stop-color="#2b0736"/><stop offset="0.880" stop-color="#2d4b6e"/><stop offset="0.896" stop-color="#247381"/><stop offset="0.964" stop-color="#227f86"/><stop offset="0.999" stop-color="#227f86"/></linearGradient><linearGradient id="a73" x2="0" y2="1"><stop offset="0.001" stop-color="#f8f8f5"/><stop offset="0.023" stop-color="#f8f6e4"/><stop offset="0.039" stop-color="#f8efac"/><stop offset="0.044" stop-color="#f8eb83"/><stop offset="0.053" stop-color="#f6e423"/><stop offset="0.071" stop-color="#8ec26a"/><stop offset="0.085" stop-color="#379d84"/><stop offset="0.093" stop-color="#20878a"/><stop offset="0.096" stop-color="#2d2452"/><stop offset="0.098" stop-color="#2b0534"/><stop offset="0.123" stop-color="#2b0b3a"/><stop offset="0.133" stop-color="#2c1647"/><stop offset="0.142" stop-color="#2c1748"/><stop offset="0.155" stop-color="#2d4469"/><stop offset="0.163" stop-color="#2e355e"/><stop offset="0.174" stop-color="#2b0736"/><stop offset="0.193" stop-color="#2b0c3c"/><stop offset="0.236" stop-color="#2b0534"/><stop offset="0.247" stop-color="#2c0f3f"/><stop offset="0.257" stop-color="#2d204f"/><stop offset="0.276" stop-color="#2b0534"/><stop offset="0.287" stop-color="#2c1141"/><stop offset="0.298" stop-color="#2d2654"/><stop offset="0.317" stop-color="#2b0534"/><stop offset="0.419" stop-color="#2b0939"/><stop offset="0.441" stop-color="#2e305b"/><stop offset="0.460" stop-color="#2d214f"/><stop offset="0.478" stop-color="#2b0534"/><stop offset="0.522" stop-color="#2b0c3b"/><stop offset="0.540" stop-color="#2b0b3b"/><stop offset="0.570" stop-color="#2b0838"/><stop offset="0.597" stop-color="#2b5673"/><stop offset="0.613" stop-color="#1f8b8c"/><stop offset="0.662" stop-color="#208589"/><stop offset="0.670" stop-color="#295d77"/><stop offset="0.681" stop-color="#2d2553"/><stop offset="0.686" stop-color="#2d1f4e"/><stop offset="0.697" stop-color="#2d4b6e"/><stop offset="0.705" stop-color="#227f86"/><stop offset="0.718" stop-color="#208c8c"/><stop offset="0.761" stop-color="#299289"/><stop offset="0.772" stop-color="#1f8a8c"/><stop offset="0.788" stop-color="#2d456a"/><stop offset="0.821" stop-color="#2b0534"/><stop offset="0.858" stop-color="#2b0b3b"/><stop offset="0.883" stop-color="#2c5271"/><stop offset="0.902" stop-color="#247682"/><stop offset="0.999" stop-color="#227e86"/></linearGradient><linearGradient id="a74" x2="0" y2="1"><stop offset="0.001" stop-color="#f8f8f6"/><stop offset="0.023" stop-color="#f8f7ec"/><stop offset="0.039" stop-color="#f8f0b2"/><stop offset="0.044" stop-color="#f8ec90"/><stop offset="0.053" stop-color="#f8e526"/><stop offset="0.071" stop-color="#90c369"/><stop offset="0.085" stop-color="#379e84"/><stop offset="0.093" stop-color="#20888a"/><stop offset="0.096" stop-color="#2d2452"/><stop offset="0.098" stop-color="#2b0534"/><stop offset="0.125" stop-color="#2b0b3a"/><stop offset="0.142" stop-color="#2c1949"/><stop offset="0.152" stop-color="#2d4268"/><stop offset="0.160" stop-color="#2e3a62"/><stop offset="0.171" stop-color="#2b0939"/><stop offset="0.193" stop-color="#2b0a3a"/><stop offset="0.241" stop-color="#2b0635"/><stop offset="0.255" stop-color="#2d204f"/><stop offset="0.276" stop-color="#2b0534"/><stop offset="0.298" stop-color="#2d2553"/><stop offset="0.314" stop-color="#2b0534"/><stop offset="0.425" stop-color="#2b0b3a"/><stop offset="0.451" stop-color="#2e2e59"/><stop offset="0.473" stop-color="#2c0e3e"/><stop offset="0.489" stop-color="#2b0534"/><stop offset="0.567" stop-color="#2b0837"/><stop offset="0.592" stop-color="#2a5a75"/><stop offset="0.600" stop-color="#1f898b"/><stop offset="0.629" stop-color="#309887"/><stop offset="0.662" stop-color="#208589"/><stop offset="0.670" stop-color="#295e77"/><stop offset="0.681" stop-color="#2d2553"/><stop offset="0.686" stop-color="#2d1f4e"/><stop offset="0.697" stop-color="#2d4c6e"/><stop offset="0.705" stop-color="#227f87"/><stop offset="0.718" stop-color="#208c8c"/><stop offset="0.751" stop-color="#399e84"/><stop offset="0.778" stop-color="#218d8b"/><stop offset="0.791" stop-color="#2d4469"/><stop offset="0.818" stop-color="#2b0534"/><stop offset="0.867" stop-color="#2b0837"/><stop offset="0.891" stop-color="#2d466b"/><stop offset="0.915" stop-color="#266b7d"/><stop offset="0.999" stop-color="#257080"/></linearGradient><linearGradient id="a75" x2="0" y2="1"><stop offset="0.001" stop-color="#f8f8f6"/><stop offset="0.023" stop-color="#f8f8f3"/><stop offset="0.039" stop-color="#f8f1b9"/><stop offset="0.044" stop-color="#f8ed9b"/><stop offset="0.053" stop-color="#f8e630"/><stop offset="0.055" stop-color="#f0e228"/><stop offset="0.071" stop-color="#92c369"/><stop offset="0.085" stop-color="#389e84"/><stop offset="0.093" stop-color="#20888b"/><stop offset="0.096" stop-color="#2d2452"/><stop offset="0.098" stop-color="#2b0534"/><stop offset="0.136" stop-color="#2b0b3a"/><stop offset="0.152" stop-color="#2d4469"/><stop offset="0.160" stop-color="#2e355e"/><stop offset="0.171" stop-color="#2b0736"/><stop offset="0.190" stop-color="#2b0d3d"/><stop offset="0.220" stop-color="#2b0534"/><stop offset="0.241" stop-color="#2b0b3b"/><stop offset="0.255" stop-color="#2d1f4e"/><stop offset="0.271" stop-color="#2b0534"/><stop offset="0.282" stop-color="#2c0f3f"/><stop offset="0.295" stop-color="#2d2653"/><stop offset="0.311" stop-color="#2b0534"/><stop offset="0.427" stop-color="#2b0837"/><stop offset="0.451" stop-color="#2e305b"/><stop offset="0.468" stop-color="#2d1d4c"/><stop offset="0.481" stop-color="#2b0534"/><stop offset="0.567" stop-color="#2b0a3a"/><stop offset="0.589" stop-color="#2a5773"/><stop offset="0.597" stop-color="#1f8b8c"/><stop offset="0.624" stop-color="#379d84"/><stop offset="0.662" stop-color="#20868a"/><stop offset="0.670" stop-color="#295e77"/><stop offset="0.681" stop-color="#2d2553"/><stop offset="0.686" stop-color="#2d1f4e"/><stop offset="0.697" stop-color="#2d4c6f"/><stop offset="0.705" stop-color="#218087"/><stop offset="0.724" stop-color="#289289"/><stop offset="0.751" stop-color="#3fa182"/><stop offset="0.780" stop-color="#1f8b8c"/><stop offset="0.791" stop-color="#2d476b"/><stop offset="0.818" stop-color="#2b0534"/><stop offset="0.877" stop-color="#2b0a3a"/><stop offset="0.899" stop-color="#2d4268"/><stop offset="0.926" stop-color="#286178"/><stop offset="0.999" stop-color="#27657a"/></linearGradient><linearGradient id="a76" x2="0" y2="1"><stop offset="0.001" stop-color="#f8f8f6"/><stop offset="0.026" stop-color="#f8f7f2"/><stop offset="0.042" stop-color="#f8efaf"/><stop offset="0.047" stop-color="#f8eb81"/><stop offset="0.053" stop-color="#f8e636"/><stop offset="0.055" stop-color="#f2e326"/><stop offset="0.071" stop-color="#94c468"/><stop offset="0.085" stop-color="#389e84"/><stop offset="0.093" stop-color="#1f898b"/><stop offset="0.096" stop-color="#2d2452"/><stop offset="0.098" stop-color="#2b0534"/><stop offset="0.136" stop-color="#2b0938"/><stop offset="0.150" stop-color="#2d4167"/><stop offset="0.158" stop-color="#2d3d64"/><stop offset="0.171" stop-color="#2b0635"/><stop offset="0.190" stop-color="#2b0c3c"/><stop offset="0.239" stop-color="#2b0635"/><stop offset="0.252" stop-color="#2d204f"/><stop offset="0.274" stop-color="#2b0534"/><stop offset="0.292" stop-color="#2e2754"/><stop offset="0.311" stop-color="#2b0534"/><stop offset="0.430" stop-color="#2b0b3b"/><stop offset="0.451" stop-color="#2e2f5a"/><stop offset="0.468" stop-color="#2d1c4c"/><stop offset="0.481" stop-color="#2b0534"/><stop offset="0.567" stop-color="#2b0a3a"/><stop offset="0.589" stop-color="#2b5673"/><stop offset="0.597" stop-color="#1f8b8c"/><stop offset="0.624" stop-color="#379d84"/><stop offset="0.662" stop-color="#20868a"/><stop offset="0.670" stop-color="#295e77"/><stop offset="0.681" stop-color="#2d2553"/><stop offset="0.686" stop-color="#2d1f4e"/><stop offset="0.697" stop-color="#2d4c6f"/><stop offset="0.705" stop-color="#218087"/><stop offset="0.718" stop-color="#218c8b"/><stop offset="0.751" stop-color="#3b9f83"/><stop offset="0.778" stop-color="#228d8b"/><stop offset="0.791" stop-color="#2d456a"/><stop offset="0.818" stop-color="#2b0534"/><stop offset="0.880" stop-color="#2b0b3b"/><stop offset="0.902" stop-color="#2d4368"/><stop offset="0.931" stop-color="#286078"/><stop offset="0.999" stop-color="#286279"/></linearGradient><linearGradient id="a77" x2="0" y2="1"><stop offset="0.001" stop-color="#f8f8f6"/><stop offset="0.026" stop-color="#f8f7f2"/><stop offset="0.042" stop-color="#f8efaf"/><stop offset="0.047" stop-color="#f8eb81"/><stop offset="0.053" stop-color="#f8e636"/><stop offset="0.055" stop-color="#f2e326"/><stop offset="0.071" stop-color="#94c468"/><stop offset="0.085" stop-color="#389e84"/><stop offset="0.093" stop-color="#1f898b"/><stop offset="0.096" stop-color="#2d2452"/><stop offset="0.098" stop-color="#2b0534"/><stop offset="0.136" stop-color="#2b0938"/><stop offset="0.150" stop-color="#2d4167"/><stop offset="0.158" stop-color="#2d3d64"/><stop offset="0.171" stop-color="#2b0635"/><stop offset="0.190" stop-color="#2b0c3c"/><stop offset="0.239" stop-color="#2b0635"/><stop offset="0.252" stop-color="#2d204f"/><stop offset="0.274" stop-color="#2b0534"/><stop offset="0.292" stop-color="#2e2754"/><stop offset="0.311" stop-color="#2b0534"/><stop offset="0.430" stop-color="#2b0b3b"/><stop offset="0.451" stop-color="#2e2f5a"/><stop offset="0.468" stop-color="#2d1c4c"/><stop offset="0.481" stop-color="#2b0534"/><stop offset="0.567" stop-color="#2b0a3a"/><stop offset="0.589" stop-color="#2b5673"/><stop offset="0.597" stop-color="#1f8b8c"/><stop offset="0.624" stop-color="#379d84"/><stop offset="0.662" stop-color="#20868a"/><stop offset="0.670" stop-color="#295e77"/><stop offset="0.681" stop-color="#2d2553"/><stop offset="0.686" stop-color="#2d1f4e"/><stop offset="0.697" stop-color="#2d4c6f"/><stop offset="0.705" stop-color="#218087"/><stop offset="0.718" stop-color="#218c8b"/><stop offset="0.751" stop-color="#3b9f83"/><stop offset="0.778" stop-color="#228d8b"/><stop offset="0.791" stop-color="#2d456a"/><stop offset="0.818" stop-color="#2b0534"/><stop offset="0.880" stop-color="#2b0b3b"/><stop offset="0.902" stop-color="#2d4368"/><stop offset="0.931" stop-color="#286078"/><stop offset="0.999" stop-color="#286279"/></linearGradient><linearGradient id="a78" x2="0" y2="1"><stop offset="0.001" stop-color="#f8f8f6"/><stop offset="0.026" stop-color="#f8f7f2"/><stop offset="0.042" stop-color="#f8efaf"/><stop offset="0.047" stop-color="#f8eb81"/><stop offset="0.053" stop-color="#f8e636"/><stop offset="0.055" stop-color="#f2e326"/><stop offset="0.071" stop-color="#94c468"/><stop offset="0.085" stop-color="#389e84"/><stop offset="0.093" stop-color="#1f898b"/><stop offset="0.096" stop-color="#2d2452"/><stop offset="0.098" stop-color="#2b0534"/><stop offset="0.136" stop-color="#2b0938"/><stop offset="0.150" stop-color="#2d4167"/><stop offset="0.158" stop-color="#2d3d64"/><stop offset="0.171" stop-color="#2b0635"/><stop offset="0.190" stop-color="#2b0c3c"/><stop offset="0.239" stop-color="#2b0635"/><stop offset="0.252" stop-color="#2d204f"/><stop offset="0.274" stop-color="#2b0534"/><stop offset="0.292" stop-color="#2e2754"/><stop offset="0.311" stop-color="#2b0534"/><stop offset="0.430" stop-color="#2b0b3b"/><stop offset="0.451" stop-color="#2e2f5a"/><stop offset="0.468" stop-color="#2d1c4c"/><stop offset="0.481" stop-color="#2b0534"/><stop offset="0.567" stop-color="#2b0a3a"/><stop offset="0.589" stop-color="#2b5673"/><stop offset="0.597" stop-color="#1f8b8c"/><stop offset="0.624" stop-color="#379d84"/><stop offset="0.662" stop-color="#20868a"/><stop offset="0.670" stop-color="#295e77"/><stop offset="0.681" stop-color="#2d2553"/><stop offset="0.686" stop-color="#2d1f4e"/><stop offset="0.697" stop-color="#2d4c6f"/><stop offset="0.705" stop-color="#218087"/><stop offset="0.718" stop-color="#218c8b"/><stop offset="0.751" stop-color="#3b9f83"/><stop offset="0.778" stop-color="#228d8b"/><stop offset="0.791" stop-color="#2d456a"/><stop offset="0.818" stop-color="#2b0534"/><stop offset="0.880" stop-color="#2b0b3b"/><stop offset="0.902" stop-color="#2d4368"/><stop offset="0.931" stop-color="#286078"/><stop offset="0.999" stop-color="#286279"/></linearGradient>
<clipPath id="clipa"><rect x="91.2" y="136.5" width="371" height="371"/></clipPath>
<filter id="hba" x="-5%" y="-5%" width="110%" height="110%" color-interpolation-filters="sRGB"><feGaussianBlur stdDeviation="2.2 0.01"/></filter>
<linearGradient id="cba" x1="0" y1="0" x2="1" y2="0"><stop offset="0.000" stop-color="#2b0534"/><stop offset="0.050" stop-color="#2c0f3f"/><stop offset="0.100" stop-color="#2e2c58"/><stop offset="0.150" stop-color="#2d4268"/><stop offset="0.200" stop-color="#27667b"/><stop offset="0.250" stop-color="#228d8b"/><stop offset="0.300" stop-color="#309887"/><stop offset="0.350" stop-color="#41a282"/><stop offset="0.400" stop-color="#58ac7d"/><stop offset="0.450" stop-color="#71b676"/><stop offset="0.500" stop-color="#8dc16b"/><stop offset="0.550" stop-color="#a6cc5f"/><stop offset="0.600" stop-color="#bcd551"/><stop offset="0.650" stop-color="#d0da42"/><stop offset="0.700" stop-color="#e4df31"/><stop offset="0.750" stop-color="#f8e521"/><stop offset="0.800" stop-color="#f8e95e"/><stop offset="0.850" stop-color="#f8ed9a"/><stop offset="0.900" stop-color="#f8f1b9"/><stop offset="0.950" stop-color="#f8f4d7"/><stop offset="1.000" stop-color="#f8f8f6"/></linearGradient>
<linearGradient id="c4" x2="0" y2="1"><stop offset="0.001" stop-color="#2b0838"/><stop offset="0.999" stop-color="#2b0534"/></linearGradient><linearGradient id="c5" x2="0" y2="1"><stop offset="0.001" stop-color="#2c1343"/><stop offset="0.058" stop-color="#2b0a3a"/><stop offset="0.160" stop-color="#2b0a3a"/><stop offset="0.171" stop-color="#2d2452"/><stop offset="0.190" stop-color="#2b0534"/><stop offset="0.279" stop-color="#2b0c3b"/><stop offset="0.295" stop-color="#2c1445"/><stop offset="0.311" stop-color="#2b0534"/><stop offset="0.430" stop-color="#2b0b3b"/><stop offset="0.602" stop-color="#2b0a3a"/><stop offset="0.743" stop-color="#2b0c3c"/><stop offset="0.902" stop-color="#2b0534"/><stop offset="0.999" stop-color="#2b0534"/></linearGradient><linearGradient id="c6" x2="0" y2="1"><stop offset="0.001" stop-color="#2d1e4e"/><stop offset="0.061" stop-color="#2c1343"/><stop offset="0.074" stop-color="#2b0534"/><stop offset="0.155" stop-color="#2b0737"/><stop offset="0.166" stop-color="#2e365f"/><stop offset="0.174" stop-color="#2e3a62"/><stop offset="0.187" stop-color="#2b0534"/><stop offset="0.271" stop-color="#2b0837"/><stop offset="0.287" stop-color="#2e325c"/><stop offset="0.298" stop-color="#2e2855"/><stop offset="0.311" stop-color="#2b0534"/><stop offset="0.414" stop-color="#2b0a39"/><stop offset="0.438" stop-color="#2e2c58"/><stop offset="0.470" stop-color="#2b0534"/><stop offset="0.575" stop-color="#2b0b3b"/><stop offset="0.629" stop-color="#2e2e59"/><stop offset="0.743" stop-color="#2d2653"/><stop offset="0.791" stop-color="#2b0534"/><stop offset="0.999" stop-color="#2b0534"/></linearGradient><linearGradient id="c7" x2="0" y2="1"><stop offset="0.001" stop-color="#2e2b57"/><stop offset="0.061" stop-color="#2d2250"/><stop offset="0.077" stop-color="#2b0534"/><stop offset="0.152" stop-color="#2b0635"/><stop offset="0.166" stop-color="#2d4368"/><stop offset="0.174" stop-color="#2d4267"/><stop offset="0.187" stop-color="#2b0534"/><stop offset="0.268" stop-color="#2b0635"/><stop offset="0.284" stop-color="#2e3961"/><stop offset="0.298" stop-color="#2e305b"/><stop offset="0.311" stop-color="#2b0534"/><stop offset="0.408" stop-color="#2b0736"/><stop offset="0.433" stop-color="#2e3961"/><stop offset="0.451" stop-color="#2e2d59"/><stop offset="0.470" stop-color="#2b0534"/><stop offset="0.570" stop-color="#2b0a3a"/><stop offset="0.619" stop-color="#2e335d"/><stop offset="0.740" stop-color="#2e305b"/><stop offset="0.794" stop-color="#2b0534"/><stop offset="0.999" stop-color="#2b0534"/></linearGradient><linearGradient id="c8" x2="0" y2="1"><stop offset="0.001" stop-color="#2e345d"/><stop offset="0.066" stop-color="#2e2754"/><stop offset="0.080" stop-color="#2b0534"/><stop offset="0.150" stop-color="#2b0534"/><stop offset="0.166" stop-color="#2d476b"/><stop offset="0.174" stop-color="#2d3f66"/><stop offset="0.187" stop-color="#2b0534"/><stop offset="0.268" stop-color="#2b0938"/><stop offset="0.284" stop-color="#2e3b63"/><stop offset="0.298" stop-color="#2e305b"/><stop offset="0.311" stop-color="#2b0534"/><stop offset="0.408" stop-color="#2b0736"/><stop offset="0.430" stop-color="#2e3760"/><stop offset="0.449" stop-color="#2e325c"/><stop offset="0.470" stop-color="#2b0534"/><stop offset="0.570" stop-color="#2b0b3b"/><stop offset="0.616" stop-color="#2e335d"/><stop offset="0.740" stop-color="#2e315c"/><stop offset="0.794" stop-color="#2b0534"/><stop offset="0.999" stop-color="#2b0534"/></linearGradient><linearGradient id="c9" x2="0" y2="1"><stop offset="0.001" stop-color="#2d3c63"/><stop offset="0.069" stop-color="#2e2f5a"/><stop offset="0.082" stop-color="#2b0534"/><stop offset="0.150" stop-color="#2b0635"/><stop offset="0.163" stop-color="#2d4469"/><stop offset="0.171" stop-color="#2d4469"/><stop offset="0.185" stop-color="#2b0535"/><stop offset="0.268" stop-color="#2b0b3a"/><stop offset="0.282" stop-color="#2e3860"/><stop offset="0.292" stop-color="#2e3a62"/><stop offset="0.311" stop-color="#2b0534"/><stop offset="0.411" stop-color="#2b0938"/><stop offset="0.433" stop-color="#2e325c"/><stop offset="0.451" stop-color="#2d2653"/><stop offset="0.470" stop-color="#2b0534"/><stop offset="0.570" stop-color="#2b0a3a"/><stop offset="0.619" stop-color="#2e335d"/><stop offset="0.740" stop-color="#2e305b"/><stop offset="0.794" stop-color="#2b0534"/><stop offset="0.999" stop-color="#2b0534"/></linearGradient><linearGradient id="c10" x2="0" y2="1"><stop offset="0.001" stop-color="#2d3e65"/><stop offset="0.071" stop-color="#2e315b"/><stop offset="0.088" stop-color="#2b0534"/><stop offset="0.150" stop-color="#2b0b3b"/><stop offset="0.160" stop-color="#2d4066"/><stop offset="0.168" stop-color="#2d476b"/><stop offset="0.179" stop-color="#2c1849"/><stop offset="0.187" stop-color="#2b0534"/><stop offset="0.265" stop-color="#2b0635"/><stop offset="0.282" stop-color="#2e3860"/><stop offset="0.292" stop-color="#2e3860"/><stop offset="0.309" stop-color="#2b0534"/><stop offset="0.416" stop-color="#2b0b3b"/><stop offset="0.441" stop-color="#2d2553"/><stop offset="0.473" stop-color="#2b0534"/><stop offset="0.573" stop-color="#2b0b3b"/><stop offset="0.624" stop-color="#2e315b"/><stop offset="0.743" stop-color="#2e2b57"/><stop offset="0.791" stop-color="#2b0534"/><stop offset="0.999" stop-color="#2b0534"/></linearGradient><linearGradient id="c11" x2="0" y2="1"><stop offset="0.001" stop-color="#2d3e65"/><stop offset="0.074" stop-color="#2e305b"/><stop offset="0.090" stop-color="#2b0534"/><stop offset="0.147" stop-color="#2b0534"/><stop offset="0.160" stop-color="#2d4369"/><stop offset="0.168" stop-color="#2d4469"/><stop offset="0.182" stop-color="#2b0635"/><stop offset="0.265" stop-color="#2b0b3b"/><stop offset="0.284" stop-color="#2e335d"/><stop offset="0.295" stop-color="#2e2956"/><stop offset="0.309" stop-color="#2b0534"/><stop offset="0.425" stop-color="#2b0b3b"/><stop offset="0.457" stop-color="#2c1949"/><stop offset="0.484" stop-color="#2b0534"/><stop offset="0.570" stop-color="#2b0a3a"/><stop offset="0.619" stop-color="#2e325d"/><stop offset="0.740" stop-color="#2e305a"/><stop offset="0.794" stop-color="#2b0534"/><stop offset="0.999" stop-color="#2b0534"/></linearGradient><linearGradient id="c12" x2="0" y2="1"><stop offset="0.001" stop-color="#2d3e65"/><stop offset="0.077" stop-color="#2e305b"/><stop offset="0.093" stop-color="#2b0534"/><stop offset="0.147" stop-color="#2b0a3a"/><stop offset="0.158" stop-color="#2d3f66"/><stop offset="0.166" stop-color="#2d476b"/><stop offset="0.177" stop-color="#2c1949"/><stop offset="0.182" stop-color="#2b0534"/><stop offset="0.249" stop-color="#2b0b3b"/><stop offset="0.265" stop-color="#2c1142"/><stop offset="0.290" stop-color="#2d1c4c"/><stop offset="0.309" stop-color="#2b0534"/><stop offset="0.430" stop-color="#2b0939"/><stop offset="0.454" stop-color="#2e2d59"/><stop offset="0.473" stop-color="#2c1344"/><stop offset="0.487" stop-color="#2b0534"/><stop offset="0.567" stop-color="#2b0b3a"/><stop offset="0.611" stop-color="#2e365f"/><stop offset="0.732" stop-color="#2e3a62"/><stop offset="0.770" stop-color="#2c1b4b"/><stop offset="0.796" stop-color="#2b0534"/><stop offset="0.999" stop-color="#2b0534"/></linearGradient><linearGradient id="c13" x2="0" y2="1"><stop offset="0.001" stop-color="#2d3f65"/><stop offset="0.080" stop-color="#2e2f5a"/><stop offset="0.096" stop-color="#2b0534"/><stop offset="0.144" stop-color="#2b0534"/><stop offset="0.158" stop-color="#2d4368"/><stop offset="0.166" stop-color="#2d4469"/><stop offset="0.179" stop-color="#2b0736"/><stop offset="0.244" stop-color="#2b0837"/><stop offset="0.257" stop-color="#2d1f4e"/><stop offset="0.282" stop-color="#2b0736"/><stop offset="0.327" stop-color="#2b0938"/><stop offset="0.341" stop-color="#2b0938"/><stop offset="0.427" stop-color="#2b0636"/><stop offset="0.449" stop-color="#2e3760"/><stop offset="0.465" stop-color="#2e335d"/><stop offset="0.487" stop-color="#2b0534"/><stop offset="0.565" stop-color="#2b0a3a"/><stop offset="0.605" stop-color="#2e3861"/><stop offset="0.702" stop-color="#2d4469"/><stop offset="0.759" stop-color="#2e2e59"/><stop offset="0.796" stop-color="#2b0534"/><stop offset="0.999" stop-color="#2b0534"/></linearGradient><linearGradient id="c14" x2="0" y2="1"><stop offset="0.001" stop-color="#2d4469"/><stop offset="0.082" stop-color="#2e325d"/><stop offset="0.096" stop-color="#2b0534"/><stop offset="0.144" stop-color="#2b0a39"/><stop offset="0.155" stop-color="#2d3f65"/><stop offset="0.163" stop-color="#2d476b"/><stop offset="0.174" stop-color="#2c1a4a"/><stop offset="0.179" stop-color="#2b0534"/><stop offset="0.244" stop-color="#2b0c3b"/><stop offset="0.257" stop-color="#2d2150"/><stop offset="0.276" stop-color="#2b0534"/><stop offset="0.322" stop-color="#2b0a3a"/><stop offset="0.336" stop-color="#2b0d3d"/><stop offset="0.363" stop-color="#2b0534"/><stop offset="0.427" stop-color="#2b0939"/><stop offset="0.449" stop-color="#2d3f66"/><stop offset="0.465" stop-color="#2e3a62"/><stop offset="0.487" stop-color="#2b0534"/><stop offset="0.565" stop-color="#2b0b3a"/><stop offset="0.605" stop-color="#2e3962"/><stop offset="0.699" stop-color="#2d456a"/><stop offset="0.756" stop-color="#2e315c"/><stop offset="0.796" stop-color="#2b0534"/><stop offset="0.999" stop-color="#2b0534"/></linearGradient><linearGradient id="c15" x2="0" y2="1"><stop offset="0.001" stop-color="#2d4b6e"/><stop offset="0.082" stop-color="#2e3861"/><stop offset="0.093" stop-color="#2d1d4c"/><stop offset="0.096" stop-color="#2b0534"/><stop offset="0.142" stop-color="#2b0534"/><stop offset="0.155" stop-color="#2d4368"/><stop offset="0.163" stop-color="#2d456a"/><stop offset="0.174" stop-color="#2c1344"/><stop offset="0.179" stop-color="#2b0534"/><stop offset="0.241" stop-color="#2b0837"/><stop offset="0.255" stop-color="#2d2150"/><stop offset="0.276" stop-color="#2b0534"/><stop offset="0.317" stop-color="#2b0a3a"/><stop offset="0.330" stop-color="#2b0d3d"/><stop offset="0.352" stop-color="#2b0534"/><stop offset="0.427" stop-color="#2b0939"/><stop offset="0.449" stop-color="#2d3f66"/><stop offset="0.465" stop-color="#2e3a62"/><stop offset="0.487" stop-color="#2b0534"/><stop offset="0.565" stop-color="#2b0939"/><stop offset="0.608" stop-color="#2e3961"/><stop offset="0.718" stop-color="#2d4167"/><stop offset="0.764" stop-color="#2d2653"/><stop offset="0.796" stop-color="#2b0534"/><stop offset="0.999" stop-color="#2b0534"/></linearGradient><linearGradient id="c16" x2="0" y2="1"><stop offset="0.001" stop-color="#2a5974"/><stop offset="0.080" stop-color="#2d3f65"/><stop offset="0.093" stop-color="#2e3760"/><stop offset="0.096" stop-color="#2b0d3c"/><stop offset="0.109" stop-color="#2b0534"/><stop offset="0.142" stop-color="#2b0938"/><stop offset="0.152" stop-color="#2d3e65"/><stop offset="0.160" stop-color="#2d476b"/><stop offset="0.171" stop-color="#2c1b4b"/><stop offset="0.177" stop-color="#2b0534"/><stop offset="0.241" stop-color="#2b0938"/><stop offset="0.255" stop-color="#2d1f4e"/><stop offset="0.276" stop-color="#2b0534"/><stop offset="0.311" stop-color="#2b0b3b"/><stop offset="0.325" stop-color="#2b0d3d"/><stop offset="0.346" stop-color="#2b0534"/><stop offset="0.427" stop-color="#2b0635"/><stop offset="0.449" stop-color="#2e3860"/><stop offset="0.465" stop-color="#2e335d"/><stop offset="0.487" stop-color="#2b0534"/><stop offset="0.567" stop-color="#2b0a3a"/><stop offset="0.611" stop-color="#2e365f"/><stop offset="0.732" stop-color="#2e3961"/><stop offset="0.770" stop-color="#2c1a4a"/><stop offset="0.796" stop-color="#2b0534"/><stop offset="0.999" stop-color="#2b0534"/></linearGradient><linearGradient id="c17" x2="0" y2="1"><stop offset="0.001" stop-color="#27667b"/><stop offset="0.058" stop-color="#2b5472"/><stop offset="0.093" stop-color="#2e3b63"/><stop offset="0.096" stop-color="#2c0e3e"/><stop offset="0.104" stop-color="#2b0534"/><stop offset="0.139" stop-color="#2b0534"/><stop offset="0.152" stop-color="#2d4268"/><stop offset="0.160" stop-color="#2d456a"/><stop offset="0.171" stop-color="#2c1444"/><stop offset="0.177" stop-color="#2b0534"/><stop offset="0.244" stop-color="#2b0b3b"/><stop offset="0.257" stop-color="#2c1445"/><stop offset="0.274" stop-color="#2b0534"/><stop offset="0.317" stop-color="#2c1041"/><stop offset="0.333" stop-color="#2b0534"/><stop offset="0.433" stop-color="#2b0a3a"/><stop offset="0.454" stop-color="#2e2e59"/><stop offset="0.473" stop-color="#2c1546"/><stop offset="0.487" stop-color="#2b0534"/><stop offset="0.567" stop-color="#2b0a3a"/><stop offset="0.611" stop-color="#2e355f"/><stop offset="0.732" stop-color="#2e3961"/><stop offset="0.770" stop-color="#2c1a4a"/><stop offset="0.796" stop-color="#2b0534"/><stop offset="0.999" stop-color="#2b0534"/></linearGradient><linearGradient id="c18" x2="0" y2="1"><stop offset="0.001" stop-color="#247481"/><stop offset="0.058" stop-color="#286078"/><stop offset="0.093" stop-color="#2d4066"/><stop offset="0.096" stop-color="#2c1041"/><stop offset="0.101" stop-color="#2b0534"/><stop offset="0.139" stop-color="#2b0838"/><stop offset="0.150" stop-color="#2d3e64"/><stop offset="0.158" stop-color="#2d486c"/><stop offset="0.168" stop-color="#2d1c4c"/><stop offset="0.174" stop-color="#2b0534"/><stop offset="0.276" stop-color="#2b0837"/><stop offset="0.292" stop-color="#2d2553"/><stop offset="0.325" stop-color="#2b0534"/><stop offset="0.438" stop-color="#2b0939"/><stop offset="0.462" stop-color="#2c1a4a"/><stop offset="0.497" stop-color="#2b0534"/><stop offset="0.565" stop-color="#2b0b3a"/><stop offset="0.605" stop-color="#2e3a62"/><stop offset="0.697" stop-color="#2d466a"/><stop offset="0.756" stop-color="#2e325c"/><stop offset="0.796" stop-color="#2b0534"/><stop offset="0.999" stop-color="#2b0837"/></linearGradient><linearGradient id="c19" x2="0" y2="1"><stop offset="0.001" stop-color="#218288"/><stop offset="0.055" stop-color="#256f7f"/><stop offset="0.093" stop-color="#2d4469"/><stop offset="0.096" stop-color="#2c1243"/><stop offset="0.098" stop-color="#2b0534"/><stop offset="0.136" stop-color="#2b0534"/><stop offset="0.150" stop-color="#2d4267"/><stop offset="0.158" stop-color="#2d456a"/><stop offset="0.168" stop-color="#2c1445"/><stop offset="0.174" stop-color="#2b0534"/><stop offset="0.274" stop-color="#2b0736"/><stop offset="0.290" stop-color="#2e305b"/><stop offset="0.303" stop-color="#2d2150"/><stop offset="0.317" stop-color="#2b0534"/><stop offset="0.446" stop-color="#2b0939"/><stop offset="0.473" stop-color="#2d204f"/><stop offset="0.500" stop-color="#2b0534"/><stop offset="0.562" stop-color="#2b0b3a"/><stop offset="0.602" stop-color="#2d3f66"/><stop offset="0.670" stop-color="#2b5271"/><stop offset="0.743" stop-color="#2d4368"/><stop offset="0.780" stop-color="#2c1546"/><stop offset="0.802" stop-color="#2b0534"/><stop offset="0.926" stop-color="#2b0c3c"/><stop offset="0.999" stop-color="#2c1040"/></linearGradient><linearGradient id="c20" x2="0" y2="1"><stop offset="0.001" stop-color="#208c8c"/><stop offset="0.050" stop-color="#218187"/><stop offset="0.093" stop-color="#2d486c"/><stop offset="0.096" stop-color="#2c1444"/><stop offset="0.098" stop-color="#2b0534"/><stop offset="0.136" stop-color="#2b0837"/><stop offset="0.147" stop-color="#2d3d64"/><stop offset="0.155" stop-color="#2d486c"/><stop offset="0.166" stop-color="#2d1d4c"/><stop offset="0.171" stop-color="#2b0534"/><stop offset="0.274" stop-color="#2b0939"/><stop offset="0.290" stop-color="#2e335d"/><stop offset="0.301" stop-color="#2e2956"/><stop offset="0.314" stop-color="#2b0534"/><stop offset="0.446" stop-color="#2b0a39"/><stop offset="0.468" stop-color="#2e315c"/><stop offset="0.484" stop-color="#2d2250"/><stop offset="0.500" stop-color="#2b0534"/><stop offset="0.559" stop-color="#2b0938"/><stop offset="0.597" stop-color="#2d3e65"/><stop offset="0.651" stop-color="#295c76"/><stop offset="0.729" stop-color="#2c5271"/><stop offset="0.775" stop-color="#2d2251"/><stop offset="0.799" stop-color="#2b0534"/><stop offset="0.894" stop-color="#2b0c3c"/><stop offset="0.982" stop-color="#2c1647"/><stop offset="0.999" stop-color="#2c1647"/></linearGradient><linearGradient id="c21" x2="0" y2="1"><stop offset="0.001" stop-color="#258f8a"/><stop offset="0.058" stop-color="#218489"/><stop offset="0.093" stop-color="#2d4a6e"/><stop offset="0.096" stop-color="#2c1545"/><stop offset="0.098" stop-color="#2b0534"/><stop offset="0.133" stop-color="#2b0534"/><stop offset="0.147" stop-color="#2d4167"/><stop offset="0.155" stop-color="#2d466a"/><stop offset="0.166" stop-color="#2c1546"/><stop offset="0.171" stop-color="#2b0534"/><stop offset="0.274" stop-color="#2b0b3b"/><stop offset="0.287" stop-color="#2e315c"/><stop offset="0.301" stop-color="#2e2754"/><stop offset="0.314" stop-color="#2b0534"/><stop offset="0.443" stop-color="#2b0837"/><stop offset="0.465" stop-color="#2e3861"/><stop offset="0.481" stop-color="#2e315b"/><stop offset="0.500" stop-color="#2b0534"/><stop offset="0.559" stop-color="#2b0938"/><stop offset="0.597" stop-color="#2d3e65"/><stop offset="0.651" stop-color="#295c76"/><stop offset="0.729" stop-color="#2c5171"/><stop offset="0.775" stop-color="#2d2250"/><stop offset="0.799" stop-color="#2b0534"/><stop offset="0.902" stop-color="#2b0b3b"/><stop offset="0.988" stop-color="#2c1647"/><stop offset="0.999" stop-color="#2c1647"/></linearGradient><linearGradient id="c22" x2="0" y2="1"><stop offset="0.001" stop-color="#299389"/><stop offset="0.063" stop-color="#208689"/><stop offset="0.093" stop-color="#2d4c6e"/><stop offset="0.096" stop-color="#2c1546"/><stop offset="0.098" stop-color="#2b0534"/><stop offset="0.133" stop-color="#2b0736"/><stop offset="0.147" stop-color="#2d4569"/><stop offset="0.155" stop-color="#2d4368"/><stop offset="0.168" stop-color="#2b0534"/><stop offset="0.271" stop-color="#2b0736"/><stop offset="0.287" stop-color="#2e325c"/><stop offset="0.298" stop-color="#2e2d58"/><stop offset="0.311" stop-color="#2b0534"/><stop offset="0.443" stop-color="#2b0838"/><stop offset="0.465" stop-color="#2e3961"/><stop offset="0.481" stop-color="#2e325c"/><stop offset="0.500" stop-color="#2b0534"/><stop offset="0.562" stop-color="#2b0b3a"/><stop offset="0.602" stop-color="#2d3f66"/><stop offset="0.670" stop-color="#2b5372"/><stop offset="0.743" stop-color="#2d4368"/><stop offset="0.780" stop-color="#2c1646"/><stop offset="0.802" stop-color="#2b0534"/><stop offset="0.937" stop-color="#2b0c3c"/><stop offset="0.999" stop-color="#2c1142"/></linearGradient><linearGradient id="c23" x2="0" y2="1"><stop offset="0.001" stop-color="#2d9687"/><stop offset="0.066" stop-color="#1f8a8b"/><stop offset="0.093" stop-color="#2c4e6f"/><stop offset="0.096" stop-color="#2c1546"/><stop offset="0.098" stop-color="#2b0534"/><stop offset="0.131" stop-color="#2b0534"/><stop offset="0.144" stop-color="#2d4167"/><stop offset="0.152" stop-color="#2d466a"/><stop offset="0.168" stop-color="#2b0534"/><stop offset="0.182" stop-color="#2b0b3a"/><stop offset="0.193" stop-color="#2c1546"/><stop offset="0.204" stop-color="#2b0534"/><stop offset="0.268" stop-color="#2b0838"/><stop offset="0.290" stop-color="#2e335d"/><stop offset="0.301" stop-color="#2d2150"/><stop offset="0.311" stop-color="#2b0534"/><stop offset="0.446" stop-color="#2b0b3a"/><stop offset="0.468" stop-color="#2e335d"/><stop offset="0.484" stop-color="#2d2452"/><stop offset="0.500" stop-color="#2b0534"/><stop offset="0.565" stop-color="#2b0c3c"/><stop offset="0.605" stop-color="#2d3c63"/><stop offset="0.694" stop-color="#2d496c"/><stop offset="0.753" stop-color="#2e365f"/><stop offset="0.796" stop-color="#2b0534"/><stop offset="0.958" stop-color="#2b0c3c"/><stop offset="0.999" stop-color="#2c0e3e"/></linearGradient><linearGradient id="c24" x2="0" y2="1"><stop offset="0.001" stop-color="#319986"/><stop offset="0.069" stop-color="#1f8b8c"/><stop offset="0.093" stop-color="#2c5070"/><stop offset="0.096" stop-color="#2c1647"/><stop offset="0.098" stop-color="#2b0534"/><stop offset="0.131" stop-color="#2b0636"/><stop offset="0.144" stop-color="#2d4469"/><stop offset="0.152" stop-color="#2d4368"/><stop offset="0.166" stop-color="#2b0837"/><stop offset="0.177" stop-color="#2b0c3c"/><stop offset="0.187" stop-color="#2e2e59"/><stop offset="0.195" stop-color="#2d204f"/><stop offset="0.204" stop-color="#2b0534"/><stop offset="0.255" stop-color="#2b0a3a"/><stop offset="0.279" stop-color="#2d1f4e"/><stop offset="0.292" stop-color="#2e2c58"/><stop offset="0.311" stop-color="#2b0534"/><stop offset="0.449" stop-color="#2b0838"/><stop offset="0.470" stop-color="#2d2552"/><stop offset="0.500" stop-color="#2b0534"/><stop offset="0.562" stop-color="#2b0a39"/><stop offset="0.602" stop-color="#2d3d64"/><stop offset="0.681" stop-color="#2d4d6f"/><stop offset="0.751" stop-color="#2e3b63"/><stop offset="0.796" stop-color="#2b0534"/><stop offset="0.945" stop-color="#2b0b3b"/><stop offset="0.999" stop-color="#2c1041"/></linearGradient><linearGradient id="c25" x2="0" y2="1"><stop offset="0.001" stop-color="#369c85"/><stop offset="0.069" stop-color="#228d8b"/><stop offset="0.093" stop-color="#2c5271"/><stop offset="0.096" stop-color="#2c1647"/><stop offset="0.098" stop-color="#2b0534"/><stop offset="0.131" stop-color="#2b0c3b"/><stop offset="0.142" stop-color="#2d4066"/><stop offset="0.150" stop-color="#2d466b"/><stop offset="0.166" stop-color="#2b0636"/><stop offset="0.174" stop-color="#2c0f3f"/><stop offset="0.185" stop-color="#2e3961"/><stop offset="0.193" stop-color="#2e315c"/><stop offset="0.204" stop-color="#2b0534"/><stop offset="0.249" stop-color="#2b0939"/><stop offset="0.263" stop-color="#2d2250"/><stop offset="0.284" stop-color="#2c1949"/><stop offset="0.301" stop-color="#2b0c3c"/><stop offset="0.322" stop-color="#2b0534"/><stop offset="0.336" stop-color="#2b0837"/><stop offset="0.460" stop-color="#2b0b3b"/><stop offset="0.489" stop-color="#2b0b3b"/><stop offset="0.559" stop-color="#2b0a39"/><stop offset="0.600" stop-color="#2d4368"/><stop offset="0.648" stop-color="#286178"/><stop offset="0.729" stop-color="#2a5774"/><stop offset="0.778" stop-color="#2d1f4e"/><stop offset="0.799" stop-color="#2b0534"/><stop offset="0.912" stop-color="#2b0c3b"/><stop offset="0.999" stop-color="#2c1647"/></linearGradient><linearGradient id="c26" x2="0" y2="1"><stop offset="0.001" stop-color="#3b9f83"/><stop offset="0.069" stop-color="#248f8a"/><stop offset="0.080" stop-color="#227d85"/><stop offset="0.093" stop-color="#2b5472"/><stop offset="0.096" stop-color="#2c1748"/><stop offset="0.098" stop-color="#2b0534"/><stop offset="0.128" stop-color="#2b0635"/><stop offset="0.142" stop-color="#2d4469"/><stop offset="0.150" stop-color="#2d4469"/><stop offset="0.163" stop-color="#2b0a3a"/><stop offset="0.171" stop-color="#2c0e3e"/><stop offset="0.182" stop-color="#2d3c63"/><stop offset="0.190" stop-color="#2e3861"/><stop offset="0.201" stop-color="#2b0534"/><stop offset="0.247" stop-color="#2b0635"/><stop offset="0.263" stop-color="#2e2855"/><stop offset="0.287" stop-color="#2b0736"/><stop offset="0.319" stop-color="#2b0938"/><stop offset="0.333" stop-color="#2b0d3d"/><stop offset="0.357" stop-color="#2b0534"/><stop offset="0.408" stop-color="#2b0a39"/><stop offset="0.427" stop-color="#2c1546"/><stop offset="0.449" stop-color="#2b0534"/><stop offset="0.478" stop-color="#2c0e3e"/><stop offset="0.497" stop-color="#2c1242"/><stop offset="0.516" stop-color="#2b0534"/><stop offset="0.557" stop-color="#2b0938"/><stop offset="0.597" stop-color="#2d476b"/><stop offset="0.635" stop-color="#25707f"/><stop offset="0.724" stop-color="#266c7d"/><stop offset="0.780" stop-color="#2d1f4e"/><stop offset="0.802" stop-color="#2b0534"/><stop offset="0.888" stop-color="#2b0b3a"/><stop offset="0.937" stop-color="#2c1b4b"/><stop offset="0.999" stop-color="#2c1b4b"/></linearGradient><linearGradient id="c27" x2="0" y2="1"><stop offset="0.001" stop-color="#42a282"/><stop offset="0.066" stop-color="#289289"/><stop offset="0.080" stop-color="#218188"/><stop offset="0.093" stop-color="#2b5673"/><stop offset="0.096" stop-color="#2c1748"/><stop offset="0.098" stop-color="#2b0534"/><stop offset="0.128" stop-color="#2b0b3b"/><stop offset="0.139" stop-color="#2d4066"/><stop offset="0.147" stop-color="#2d476b"/><stop offset="0.163" stop-color="#2b0938"/><stop offset="0.171" stop-color="#2c1546"/><stop offset="0.182" stop-color="#2d3f65"/><stop offset="0.190" stop-color="#2e325c"/><stop offset="0.198" stop-color="#2b0938"/><stop offset="0.247" stop-color="#2b0838"/><stop offset="0.260" stop-color="#2e2855"/><stop offset="0.274" stop-color="#2c1242"/><stop offset="0.284" stop-color="#2b0534"/><stop offset="0.317" stop-color="#2b0a3a"/><stop offset="0.330" stop-color="#2b0d3d"/><stop offset="0.352" stop-color="#2b0534"/><stop offset="0.406" stop-color="#2b0c3b"/><stop offset="0.425" stop-color="#2d2452"/><stop offset="0.449" stop-color="#2b0534"/><stop offset="0.473" stop-color="#2b0b3a"/><stop offset="0.492" stop-color="#2d2351"/><stop offset="0.516" stop-color="#2b0534"/><stop offset="0.557" stop-color="#2b0a39"/><stop offset="0.594" stop-color="#2d476b"/><stop offset="0.629" stop-color="#247582"/><stop offset="0.721" stop-color="#247582"/><stop offset="0.775" stop-color="#2e2d59"/><stop offset="0.799" stop-color="#2b0534"/><stop offset="0.899" stop-color="#2b0c3b"/><stop offset="0.964" stop-color="#2c1a4a"/><stop offset="0.999" stop-color="#2c1a4a"/></linearGradient><linearGradient id="c28" x2="0" y2="1"><stop offset="0.001" stop-color="#49a580"/><stop offset="0.055" stop-color="#339a86"/><stop offset="0.080" stop-color="#20868a"/><stop offset="0.093" stop-color="#2a5774"/><stop offset="0.096" stop-color="#2c1848"/><stop offset="0.098" stop-color="#2b0534"/><stop offset="0.125" stop-color="#2b0534"/><stop offset="0.139" stop-color="#2d4369"/><stop offset="0.147" stop-color="#2d4469"/><stop offset="0.160" stop-color="#2b0c3c"/><stop offset="0.168" stop-color="#2c1343"/><stop offset="0.179" stop-color="#2d3e65"/><stop offset="0.187" stop-color="#2e355f"/><stop offset="0.198" stop-color="#2b0534"/><stop offset="0.247" stop-color="#2b0a3a"/><stop offset="0.260" stop-color="#2e2855"/><stop offset="0.274" stop-color="#2c1040"/><stop offset="0.284" stop-color="#2b0534"/><stop offset="0.314" stop-color="#2b0b3b"/><stop offset="0.327" stop-color="#2b0d3c"/><stop offset="0.360" stop-color="#2b0534"/><stop offset="0.403" stop-color="#2b0838"/><stop offset="0.422" stop-color="#2e2956"/><stop offset="0.441" stop-color="#2b0c3c"/><stop offset="0.470" stop-color="#2b0736"/><stop offset="0.489" stop-color="#2e2955"/><stop offset="0.508" stop-color="#2b0d3d"/><stop offset="0.538" stop-color="#2b0534"/><stop offset="0.559" stop-color="#2b0d3d"/><stop offset="0.597" stop-color="#2d486c"/><stop offset="0.632" stop-color="#257180"/><stop offset="0.724" stop-color="#256e7f"/><stop offset="0.780" stop-color="#2d204f"/><stop offset="0.802" stop-color="#2b0534"/><stop offset="0.931" stop-color="#2b0c3b"/><stop offset="0.999" stop-color="#2c1445"/></linearGradient><linearGradient id="c29" x2="0" y2="1"><stop offset="0.001" stop-color="#50a87f"/><stop offset="0.047" stop-color="#3ea183"/><stop offset="0.080" stop-color="#1f8b8c"/><stop offset="0.093" stop-color="#2a5975"/><stop offset="0.096" stop-color="#2c1849"/><stop offset="0.098" stop-color="#2b0534"/><stop offset="0.125" stop-color="#2b0a3a"/><stop offset="0.136" stop-color="#2d3f66"/><stop offset="0.144" stop-color="#2d476b"/><stop offset="0.160" stop-color="#2b0b3b"/><stop offset="0.168" stop-color="#2c1b4b"/><stop offset="0.177" stop-color="#2d3c64"/><stop offset="0.185" stop-color="#2e3861"/><stop offset="0.195" stop-color="#2b0534"/><stop offset="0.247" stop-color="#2b0c3b"/><stop offset="0.260" stop-color="#2e2855"/><stop offset="0.282" stop-color="#2b0534"/><stop offset="0.311" stop-color="#2b0c3c"/><stop offset="0.325" stop-color="#2b0c3b"/><stop offset="0.400" stop-color="#2b0534"/><stop offset="0.425" stop-color="#2d2351"/><stop offset="0.449" stop-color="#2b0534"/><stop offset="0.473" stop-color="#2b0a39"/><stop offset="0.492" stop-color="#2d2251"/><stop offset="0.516" stop-color="#2b0534"/><stop offset="0.559" stop-color="#2b0b3b"/><stop offset="0.597" stop-color="#2d4368"/><stop offset="0.640" stop-color="#27677b"/><stop offset="0.726" stop-color="#286078"/><stop offset="0.780" stop-color="#2d1c4c"/><stop offset="0.802" stop-color="#2b0534"/><stop offset="0.950" stop-color="#2b0b3b"/><stop offset="0.999" stop-color="#2c1141"/></linearGradient><linearGradient id="c30" x2="0" y2="1"><stop offset="0.001" stop-color="#57ab7d"/><stop offset="0.047" stop-color="#43a382"/><stop offset="0.082" stop-color="#208589"/><stop offset="0.093" stop-color="#2a5b75"/><stop offset="0.096" stop-color="#2c1849"/><stop offset="0.098" stop-color="#2b0534"/><stop offset="0.123" stop-color="#2b0534"/><stop offset="0.136" stop-color="#2d4368"/><stop offset="0.144" stop-color="#2d4469"/><stop offset="0.158" stop-color="#2c0e3e"/><stop offset="0.166" stop-color="#2c1848"/><stop offset="0.177" stop-color="#2d3f66"/><stop offset="0.185" stop-color="#2e325c"/><stop offset="0.193" stop-color="#2b0837"/><stop offset="0.244" stop-color="#2b0534"/><stop offset="0.260" stop-color="#2d2552"/><stop offset="0.282" stop-color="#2b0534"/><stop offset="0.319" stop-color="#2c0f3f"/><stop offset="0.336" stop-color="#2b0534"/><stop offset="0.408" stop-color="#2b0938"/><stop offset="0.427" stop-color="#2c1546"/><stop offset="0.465" stop-color="#2b0534"/><stop offset="0.497" stop-color="#2c1141"/><stop offset="0.519" stop-color="#2b0534"/><stop offset="0.559" stop-color="#2b0939"/><stop offset="0.600" stop-color="#2d4268"/><stop offset="0.648" stop-color="#286078"/><stop offset="0.729" stop-color="#2b5573"/><stop offset="0.778" stop-color="#2d1f4e"/><stop offset="0.799" stop-color="#2b0534"/><stop offset="0.939" stop-color="#2b0b3a"/><stop offset="0.999" stop-color="#2c1343"/></linearGradient><linearGradient id="c31" x2="0" y2="1"><stop offset="0.001" stop-color="#5eae7c"/><stop offset="0.044" stop-color="#4ca780"/><stop offset="0.082" stop-color="#20888b"/><stop offset="0.093" stop-color="#295c76"/><stop offset="0.096" stop-color="#2c1949"/><stop offset="0.098" stop-color="#2b0534"/><stop offset="0.123" stop-color="#2b0939"/><stop offset="0.133" stop-color="#2d3e65"/><stop offset="0.142" stop-color="#2d476b"/><stop offset="0.158" stop-color="#2c0e3e"/><stop offset="0.166" stop-color="#2d2250"/><stop offset="0.174" stop-color="#2d3e65"/><stop offset="0.182" stop-color="#2e355e"/><stop offset="0.193" stop-color="#2b0534"/><stop offset="0.249" stop-color="#2b0c3c"/><stop offset="0.263" stop-color="#2c1647"/><stop offset="0.279" stop-color="#2b0534"/><stop offset="0.301" stop-color="#2d204e"/><stop offset="0.327" stop-color="#2b0534"/><stop offset="0.419" stop-color="#2b0a3a"/><stop offset="0.449" stop-color="#2c1445"/><stop offset="0.473" stop-color="#2b0534"/><stop offset="0.557" stop-color="#2b0938"/><stop offset="0.597" stop-color="#2d476b"/><stop offset="0.635" stop-color="#25707f"/><stop offset="0.724" stop-color="#266c7d"/><stop offset="0.780" stop-color="#2d1f4e"/><stop offset="0.802" stop-color="#2b0534"/><stop offset="0.907" stop-color="#2b0a3a"/><stop offset="0.969" stop-color="#2c194a"/><stop offset="0.999" stop-color="#2c1a4a"/></linearGradient><linearGradient id="c32" x2="0" y2="1"><stop offset="0.001" stop-color="#65b27a"/><stop offset="0.044" stop-color="#52a97e"/><stop offset="0.082" stop-color="#1f8b8c"/><stop offset="0.093" stop-color="#295e77"/><stop offset="0.096" stop-color="#2c1949"/><stop offset="0.098" stop-color="#2b0534"/><stop offset="0.123" stop-color="#2b0c3c"/><stop offset="0.133" stop-color="#2d3d64"/><stop offset="0.142" stop-color="#2d3f66"/><stop offset="0.155" stop-color="#2c0f3f"/><stop offset="0.163" stop-color="#2d1d4d"/><stop offset="0.171" stop-color="#2d3d64"/><stop offset="0.179" stop-color="#2e3760"/><stop offset="0.190" stop-color="#2b0534"/><stop offset="0.279" stop-color="#2b0736"/><stop offset="0.298" stop-color="#2e2d59"/><stop offset="0.322" stop-color="#2b0534"/><stop offset="0.419" stop-color="#2b0838"/><stop offset="0.443" stop-color="#2e2a56"/><stop offset="0.473" stop-color="#2b0534"/><stop offset="0.554" stop-color="#2b0837"/><stop offset="0.594" stop-color="#2d4d6f"/><stop offset="0.624" stop-color="#227e86"/><stop offset="0.702" stop-color="#20898b"/><stop offset="0.740" stop-color="#256f7f"/><stop offset="0.788" stop-color="#2c1445"/><stop offset="0.805" stop-color="#2b0534"/><stop offset="0.885" stop-color="#2b0a3a"/><stop offset="0.926" stop-color="#2d1e4d"/><stop offset="0.999" stop-color="#2d1f4e"/></linearGradient><linearGradient id="c33" x2="0" y2="1"><stop offset="0.001" stop-color="#6db577"/><stop offset="0.044" stop-color="#57ac7d"/><stop offset="0.085" stop-color="#218489"/><stop offset="0.093" stop-color="#295f78"/><stop offset="0.096" stop-color="#2c1a4a"/><stop offset="0.098" stop-color="#2b0534"/><stop offset="0.123" stop-color="#2b0939"/><stop offset="0.133" stop-color="#2e315c"/><stop offset="0.142" stop-color="#2e2f5a"/><stop offset="0.152" stop-color="#2b0d3d"/><stop offset="0.160" stop-color="#2c1949"/><stop offset="0.171" stop-color="#2d3f66"/><stop offset="0.179" stop-color="#2e315b"/><stop offset="0.187" stop-color="#2b0736"/><stop offset="0.279" stop-color="#2b0737"/><stop offset="0.295" stop-color="#2e2e5a"/><stop offset="0.306" stop-color="#2d2351"/><stop offset="0.319" stop-color="#2b0534"/><stop offset="0.416" stop-color="#2b0736"/><stop offset="0.438" stop-color="#2e345e"/><stop offset="0.454" stop-color="#2e2c58"/><stop offset="0.473" stop-color="#2b0534"/><stop offset="0.554" stop-color="#2b0939"/><stop offset="0.602" stop-color="#266b7d"/><stop offset="0.629" stop-color="#208c8c"/><stop offset="0.732" stop-color="#208589"/><stop offset="0.788" stop-color="#2c1748"/><stop offset="0.805" stop-color="#2b0534"/><stop offset="0.894" stop-color="#2b0a39"/><stop offset="0.942" stop-color="#2d1d4c"/><stop offset="0.999" stop-color="#2d1d4d"/></linearGradient><linearGradient id="c34" x2="0" y2="1"><stop offset="0.001" stop-color="#76b874"/><stop offset="0.042" stop-color="#60b07b"/><stop offset="0.085" stop-color="#20878a"/><stop offset="0.093" stop-color="#286178"/><stop offset="0.096" stop-color="#2c1a4a"/><stop offset="0.098" stop-color="#2b0534"/><stop offset="0.123" stop-color="#2b0534"/><stop offset="0.136" stop-color="#2d1e4d"/><stop offset="0.152" stop-color="#2b0837"/><stop offset="0.160" stop-color="#2d2250"/><stop offset="0.168" stop-color="#2d3f65"/><stop offset="0.177" stop-color="#2e345e"/><stop offset="0.187" stop-color="#2b0534"/><stop offset="0.279" stop-color="#2b0938"/><stop offset="0.295" stop-color="#2e2f5a"/><stop offset="0.306" stop-color="#2d214f"/><stop offset="0.319" stop-color="#2b0534"/><stop offset="0.416" stop-color="#2b0a39"/><stop offset="0.438" stop-color="#2e3a62"/><stop offset="0.454" stop-color="#2e315c"/><stop offset="0.473" stop-color="#2b0534"/><stop offset="0.503" stop-color="#2b0c3c"/><stop offset="0.554" stop-color="#2b0939"/><stop offset="0.602" stop-color="#266a7c"/><stop offset="0.629" stop-color="#208c8c"/><stop offset="0.732" stop-color="#208489"/><stop offset="0.788" stop-color="#2c1747"/><stop offset="0.805" stop-color="#2b0534"/><stop offset="0.926" stop-color="#2b0b3a"/><stop offset="0.999" stop-color="#2c1747"/></linearGradient><linearGradient id="c35" x2="0" y2="1"><stop offset="0.001" stop-color="#7ebc70"/><stop offset="0.039" stop-color="#6ab478"/><stop offset="0.085" stop-color="#1f8a8b"/><stop offset="0.093" stop-color="#286279"/><stop offset="0.096" stop-color="#2c1a4a"/><stop offset="0.098" stop-color="#2b0534"/><stop offset="0.125" stop-color="#2b0a39"/><stop offset="0.136" stop-color="#2c0f3f"/><stop offset="0.152" stop-color="#2b0736"/><stop offset="0.166" stop-color="#2d3d64"/><stop offset="0.174" stop-color="#2e3760"/><stop offset="0.185" stop-color="#2b0534"/><stop offset="0.279" stop-color="#2b0a3a"/><stop offset="0.295" stop-color="#2e2f5a"/><stop offset="0.306" stop-color="#2d1f4e"/><stop offset="0.317" stop-color="#2b0534"/><stop offset="0.416" stop-color="#2b0939"/><stop offset="0.438" stop-color="#2e3861"/><stop offset="0.454" stop-color="#2e305b"/><stop offset="0.473" stop-color="#2b0534"/><stop offset="0.500" stop-color="#2b0c3c"/><stop offset="0.513" stop-color="#2b0d3d"/><stop offset="0.540" stop-color="#2b0534"/><stop offset="0.559" stop-color="#2c0f40"/><stop offset="0.605" stop-color="#286279"/><stop offset="0.637" stop-color="#218288"/><stop offset="0.724" stop-color="#227d85"/><stop offset="0.753" stop-color="#2c5171"/><stop offset="0.794" stop-color="#2b0b3b"/><stop offset="0.945" stop-color="#2b0b3a"/><stop offset="0.999" stop-color="#2c1344"/></linearGradient><linearGradient id="c36" x2="0" y2="1"><stop offset="0.001" stop-color="#87bf6d"/><stop offset="0.036" stop-color="#75b874"/><stop offset="0.085" stop-color="#1f8b8c"/><stop offset="0.093" stop-color="#28647a"/><stop offset="0.096" stop-color="#2c1b4b"/><stop offset="0.098" stop-color="#2b0534"/><stop offset="0.125" stop-color="#2b0b3a"/><stop offset="0.136" stop-color="#2b0b3b"/><stop offset="0.150" stop-color="#2b0534"/><stop offset="0.163" stop-color="#2d3c63"/><stop offset="0.171" stop-color="#2e3a62"/><stop offset="0.182" stop-color="#2b0737"/><stop offset="0.276" stop-color="#2b0534"/><stop offset="0.292" stop-color="#2e2d59"/><stop offset="0.303" stop-color="#2d2452"/><stop offset="0.317" stop-color="#2b0534"/><stop offset="0.419" stop-color="#2b0b3a"/><stop offset="0.441" stop-color="#2e325c"/><stop offset="0.457" stop-color="#2d214f"/><stop offset="0.473" stop-color="#2b0534"/><stop offset="0.557" stop-color="#2b0838"/><stop offset="0.597" stop-color="#2d466b"/><stop offset="0.635" stop-color="#256d7e"/><stop offset="0.724" stop-color="#26697c"/><stop offset="0.780" stop-color="#2d1f4e"/><stop offset="0.802" stop-color="#2b0534"/><stop offset="0.937" stop-color="#2b0b3b"/><stop offset="0.999" stop-color="#2c1546"/></linearGradient><linearGradient id="c37" x2="0" y2="1"><stop offset="0.001" stop-color="#8fc26a"/><stop offset="0.036" stop-color="#7dbb71"/><stop offset="0.085" stop-color="#208c8c"/><stop offset="0.093" stop-color="#27657a"/><stop offset="0.096" stop-color="#2c1b4b"/><stop offset="0.098" stop-color="#2b0534"/><stop offset="0.125" stop-color="#2b0c3b"/><stop offset="0.136" stop-color="#2b0b3a"/><stop offset="0.150" stop-color="#2b0939"/><stop offset="0.160" stop-color="#2e3a62"/><stop offset="0.168" stop-color="#2d3f65"/><stop offset="0.179" stop-color="#2c1141"/><stop offset="0.185" stop-color="#2b0534"/><stop offset="0.276" stop-color="#2b0635"/><stop offset="0.295" stop-color="#2e2855"/><stop offset="0.317" stop-color="#2b0534"/><stop offset="0.422" stop-color="#2b0837"/><stop offset="0.443" stop-color="#2d2250"/><stop offset="0.473" stop-color="#2b0534"/><stop offset="0.559" stop-color="#2b0939"/><stop offset="0.600" stop-color="#2d4268"/><stop offset="0.651" stop-color="#295f77"/><stop offset="0.729" stop-color="#2b5572"/><stop offset="0.778" stop-color="#2d1e4d"/><stop offset="0.799" stop-color="#2b0534"/><stop offset="0.904" stop-color="#2b0b3a"/><stop offset="0.958" stop-color="#2d1d4c"/><stop offset="0.999" stop-color="#2d1d4d"/></linearGradient><linearGradient id="c38" x2="0" y2="1"><stop offset="0.001" stop-color="#98c666"/><stop offset="0.036" stop-color="#84be6e"/><stop offset="0.085" stop-color="#218d8b"/><stop offset="0.093" stop-color="#27667b"/><stop offset="0.096" stop-color="#2c1b4b"/><stop offset="0.098" stop-color="#2b0534"/><stop offset="0.125" stop-color="#2b0c3c"/><stop offset="0.147" stop-color="#2b0837"/><stop offset="0.160" stop-color="#2d4066"/><stop offset="0.168" stop-color="#2d4268"/><stop offset="0.179" stop-color="#2c1242"/><stop offset="0.185" stop-color="#2b0534"/><stop offset="0.274" stop-color="#2b0938"/><stop offset="0.298" stop-color="#2c1546"/><stop offset="0.330" stop-color="#2b0534"/><stop offset="0.430" stop-color="#2b0939"/><stop offset="0.451" stop-color="#2c1142"/><stop offset="0.478" stop-color="#2b0534"/><stop offset="0.565" stop-color="#2b0a3a"/><stop offset="0.605" stop-color="#2e3961"/><stop offset="0.702" stop-color="#2d456a"/><stop offset="0.759" stop-color="#2e2f5a"/><stop offset="0.796" stop-color="#2b0534"/><stop offset="0.883" stop-color="#2b0a39"/><stop offset="0.920" stop-color="#2d2250"/><stop offset="0.999" stop-color="#2d2351"/></linearGradient><linearGradient id="c39" x2="0" y2="1"><stop offset="0.001" stop-color="#a0c963"/><stop offset="0.034" stop-color="#90c26a"/><stop offset="0.085" stop-color="#228d8b"/><stop offset="0.093" stop-color="#27687c"/><stop offset="0.096" stop-color="#2d1c4b"/><stop offset="0.098" stop-color="#2b0534"/><stop offset="0.125" stop-color="#2b0c3c"/><stop offset="0.144" stop-color="#2b0635"/><stop offset="0.160" stop-color="#2d4469"/><stop offset="0.168" stop-color="#2d4368"/><stop offset="0.182" stop-color="#2b0534"/><stop offset="0.268" stop-color="#2b0b3b"/><stop offset="0.282" stop-color="#2c1445"/><stop offset="0.303" stop-color="#2b0837"/><stop offset="0.322" stop-color="#2c1445"/><stop offset="0.338" stop-color="#2b0534"/><stop offset="0.433" stop-color="#2b0a39"/><stop offset="0.454" stop-color="#2c1747"/><stop offset="0.478" stop-color="#2b0534"/><stop offset="0.573" stop-color="#2b0b3b"/><stop offset="0.635" stop-color="#2d4066"/><stop offset="0.724" stop-color="#2d476b"/><stop offset="0.772" stop-color="#2d2553"/><stop offset="0.805" stop-color="#2b0534"/><stop offset="0.891" stop-color="#2b0939"/><stop offset="0.934" stop-color="#2d204f"/><stop offset="0.999" stop-color="#2d2150"/></linearGradient><linearGradient id="c40" x2="0" y2="1"><stop offset="0.001" stop-color="#a6cc5f"/><stop offset="0.036" stop-color="#93c468"/><stop offset="0.085" stop-color="#238e8b"/><stop offset="0.093" stop-color="#26697c"/><stop offset="0.096" stop-color="#2d1c4c"/><stop offset="0.098" stop-color="#2b0534"/><stop offset="0.144" stop-color="#2b0636"/><stop offset="0.160" stop-color="#2d4469"/><stop offset="0.168" stop-color="#2d4066"/><stop offset="0.182" stop-color="#2b0534"/><stop offset="0.263" stop-color="#2b0838"/><stop offset="0.276" stop-color="#2c1849"/><stop offset="0.295" stop-color="#2b0534"/><stop offset="0.309" stop-color="#2c1647"/><stop offset="0.319" stop-color="#2d2351"/><stop offset="0.338" stop-color="#2b0534"/><stop offset="0.430" stop-color="#2b0c3b"/><stop offset="0.451" stop-color="#2e2855"/><stop offset="0.481" stop-color="#2b0534"/><stop offset="0.578" stop-color="#2b0a3a"/><stop offset="0.627" stop-color="#2d496c"/><stop offset="0.664" stop-color="#266b7d"/><stop offset="0.729" stop-color="#286279"/><stop offset="0.788" stop-color="#2c1748"/><stop offset="0.810" stop-color="#2b0534"/><stop offset="0.923" stop-color="#2b0b3b"/><stop offset="0.980" stop-color="#2c1a4a"/><stop offset="0.999" stop-color="#2c1a4a"/></linearGradient><linearGradient id="c41" x2="0" y2="1"><stop offset="0.001" stop-color="#adce5b"/><stop offset="0.036" stop-color="#9bc765"/><stop offset="0.085" stop-color="#248f8b"/><stop offset="0.090" stop-color="#237a84"/><stop offset="0.093" stop-color="#266a7d"/><stop offset="0.096" stop-color="#2d1c4c"/><stop offset="0.098" stop-color="#2b0534"/><stop offset="0.144" stop-color="#2b0534"/><stop offset="0.160" stop-color="#2d4369"/><stop offset="0.168" stop-color="#2d3c63"/><stop offset="0.179" stop-color="#2b0635"/><stop offset="0.260" stop-color="#2b0a39"/><stop offset="0.274" stop-color="#2c1848"/><stop offset="0.290" stop-color="#2b0534"/><stop offset="0.301" stop-color="#2b0b3a"/><stop offset="0.317" stop-color="#2e2754"/><stop offset="0.336" stop-color="#2b0534"/><stop offset="0.427" stop-color="#2b0b3b"/><stop offset="0.449" stop-color="#2e315b"/><stop offset="0.465" stop-color="#2d1e4d"/><stop offset="0.481" stop-color="#2b0534"/><stop offset="0.575" stop-color="#2b0a39"/><stop offset="0.632" stop-color="#27667b"/><stop offset="0.667" stop-color="#20868a"/><stop offset="0.726" stop-color="#227e86"/><stop offset="0.791" stop-color="#2c194a"/><stop offset="0.813" stop-color="#2b0534"/><stop offset="0.942" stop-color="#2b0b3b"/><stop offset="0.999" stop-color="#2c1546"/></linearGradient><linearGradient id="c42" x2="0" y2="1"><stop offset="0.001" stop-color="#b3d157"/><stop offset="0.036" stop-color="#a1c962"/><stop offset="0.069" stop-color="#4ba680"/><stop offset="0.088" stop-color="#1f8b8c"/><stop offset="0.093" stop-color="#266c7d"/><stop offset="0.096" stop-color="#2d1d4c"/><stop offset="0.098" stop-color="#2b0534"/><stop offset="0.147" stop-color="#2b0b3b"/><stop offset="0.158" stop-color="#2d3f65"/><stop offset="0.166" stop-color="#2d4066"/><stop offset="0.179" stop-color="#2b0534"/><stop offset="0.257" stop-color="#2b0b3b"/><stop offset="0.271" stop-color="#2c1748"/><stop offset="0.287" stop-color="#2b0534"/><stop offset="0.298" stop-color="#2b0b3a"/><stop offset="0.314" stop-color="#2e2855"/><stop offset="0.333" stop-color="#2b0534"/><stop offset="0.427" stop-color="#2b0b3b"/><stop offset="0.449" stop-color="#2e315c"/><stop offset="0.465" stop-color="#2d1f4e"/><stop offset="0.481" stop-color="#2b0534"/><stop offset="0.575" stop-color="#2b0a39"/><stop offset="0.629" stop-color="#286178"/><stop offset="0.662" stop-color="#218489"/><stop offset="0.726" stop-color="#227d86"/><stop offset="0.791" stop-color="#2c1949"/><stop offset="0.813" stop-color="#2b0534"/><stop offset="0.931" stop-color="#2b0a39"/><stop offset="0.985" stop-color="#2c1849"/><stop offset="0.999" stop-color="#2c1849"/></linearGradient><linearGradient id="c43" x2="0" y2="1"><stop offset="0.001" stop-color="#b9d453"/><stop offset="0.036" stop-color="#a7cc5e"/><stop offset="0.058" stop-color="#71b676"/><stop offset="0.085" stop-color="#25908a"/><stop offset="0.090" stop-color="#227d86"/><stop offset="0.093" stop-color="#266d7e"/><stop offset="0.096" stop-color="#2d1d4c"/><stop offset="0.098" stop-color="#2b0534"/><stop offset="0.144" stop-color="#2b0534"/><stop offset="0.158" stop-color="#2d4167"/><stop offset="0.166" stop-color="#2d3d64"/><stop offset="0.177" stop-color="#2b0938"/><stop offset="0.252" stop-color="#2b0736"/><stop offset="0.265" stop-color="#2c1949"/><stop offset="0.284" stop-color="#2b0534"/><stop offset="0.295" stop-color="#2b0a3a"/><stop offset="0.311" stop-color="#2e2855"/><stop offset="0.330" stop-color="#2b0534"/><stop offset="0.427" stop-color="#2b0837"/><stop offset="0.449" stop-color="#2e2b57"/><stop offset="0.470" stop-color="#2c0e3e"/><stop offset="0.487" stop-color="#2b0534"/><stop offset="0.575" stop-color="#2b0938"/><stop offset="0.627" stop-color="#2b5673"/><stop offset="0.659" stop-color="#227c85"/><stop offset="0.724" stop-color="#237984"/><stop offset="0.788" stop-color="#2d1d4c"/><stop offset="0.810" stop-color="#2b0534"/><stop offset="0.902" stop-color="#2b0b3a"/><stop offset="0.950" stop-color="#2d204f"/><stop offset="0.999" stop-color="#2d214f"/></linearGradient><linearGradient id="c44" x2="0" y2="1"><stop offset="0.001" stop-color="#bfd74f"/><stop offset="0.036" stop-color="#acce5b"/><stop offset="0.058" stop-color="#75b874"/><stop offset="0.082" stop-color="#2b9488"/><stop offset="0.090" stop-color="#227f86"/><stop offset="0.093" stop-color="#256e7e"/><stop offset="0.096" stop-color="#2d1d4d"/><stop offset="0.098" stop-color="#2b0534"/><stop offset="0.144" stop-color="#2b0837"/><stop offset="0.155" stop-color="#2d3d64"/><stop offset="0.163" stop-color="#2d4267"/><stop offset="0.177" stop-color="#2b0635"/><stop offset="0.249" stop-color="#2b0838"/><stop offset="0.263" stop-color="#2c1849"/><stop offset="0.282" stop-color="#2b0534"/><stop offset="0.292" stop-color="#2b0a3a"/><stop offset="0.309" stop-color="#2e2855"/><stop offset="0.327" stop-color="#2b0534"/><stop offset="0.433" stop-color="#2b0a39"/><stop offset="0.454" stop-color="#2c1b4b"/><stop offset="0.484" stop-color="#2b0534"/><stop offset="0.575" stop-color="#2b0a3a"/><stop offset="0.632" stop-color="#266a7c"/><stop offset="0.667" stop-color="#1f8a8c"/><stop offset="0.726" stop-color="#218288"/><stop offset="0.791" stop-color="#2c1a4a"/><stop offset="0.813" stop-color="#2b0534"/><stop offset="0.880" stop-color="#2b0938"/><stop offset="0.915" stop-color="#2d2553"/><stop offset="0.999" stop-color="#2e2754"/></linearGradient><linearGradient id="c45" x2="0" y2="1"><stop offset="0.001" stop-color="#c5d94b"/><stop offset="0.036" stop-color="#b1d158"/><stop offset="0.055" stop-color="#84be6e"/><stop offset="0.082" stop-color="#2c9588"/><stop offset="0.090" stop-color="#218087"/><stop offset="0.093" stop-color="#256f7f"/><stop offset="0.096" stop-color="#2d1e4d"/><stop offset="0.098" stop-color="#2b0534"/><stop offset="0.142" stop-color="#2b0534"/><stop offset="0.155" stop-color="#2d4066"/><stop offset="0.163" stop-color="#2d3f65"/><stop offset="0.177" stop-color="#2b0736"/><stop offset="0.195" stop-color="#2c1445"/><stop offset="0.209" stop-color="#2b0534"/><stop offset="0.247" stop-color="#2b0a39"/><stop offset="0.260" stop-color="#2c1848"/><stop offset="0.276" stop-color="#2b0534"/><stop offset="0.290" stop-color="#2b0a3a"/><stop offset="0.306" stop-color="#2e2855"/><stop offset="0.325" stop-color="#2b0534"/><stop offset="0.441" stop-color="#2b0b3b"/><stop offset="0.465" stop-color="#2c1445"/><stop offset="0.489" stop-color="#2b0534"/><stop offset="0.573" stop-color="#2b0938"/><stop offset="0.621" stop-color="#295e77"/><stop offset="0.648" stop-color="#1f8b8c"/><stop offset="0.735" stop-color="#20868a"/><stop offset="0.794" stop-color="#2c1849"/><stop offset="0.813" stop-color="#2b0534"/><stop offset="0.891" stop-color="#2b0c3c"/><stop offset="0.934" stop-color="#2d2452"/><stop offset="0.999" stop-color="#2d2553"/></linearGradient><linearGradient id="c46" x2="0" y2="1"><stop offset="0.001" stop-color="#cada47"/><stop offset="0.034" stop-color="#bad452"/><stop offset="0.055" stop-color="#88bf6d"/><stop offset="0.082" stop-color="#2d9688"/><stop offset="0.090" stop-color="#218288"/><stop offset="0.093" stop-color="#25707f"/><stop offset="0.096" stop-color="#2d1e4d"/><stop offset="0.098" stop-color="#2b0534"/><stop offset="0.142" stop-color="#2b0534"/><stop offset="0.152" stop-color="#2e3b63"/><stop offset="0.160" stop-color="#2d4368"/><stop offset="0.174" stop-color="#2c0e3e"/><stop offset="0.182" stop-color="#2c1445"/><stop offset="0.193" stop-color="#2e2f5a"/><stop offset="0.209" stop-color="#2b0534"/><stop offset="0.244" stop-color="#2b0b3b"/><stop offset="0.257" stop-color="#2c1748"/><stop offset="0.274" stop-color="#2b0534"/><stop offset="0.287" stop-color="#2b0a3a"/><stop offset="0.303" stop-color="#2e2855"/><stop offset="0.322" stop-color="#2b0534"/><stop offset="0.441" stop-color="#2b0b3b"/><stop offset="0.462" stop-color="#2d2250"/><stop offset="0.489" stop-color="#2b0534"/><stop offset="0.573" stop-color="#2b0939"/><stop offset="0.619" stop-color="#295c76"/><stop offset="0.643" stop-color="#1f8b8c"/><stop offset="0.737" stop-color="#1f898b"/><stop offset="0.780" stop-color="#2e345d"/><stop offset="0.810" stop-color="#2b0534"/><stop offset="0.920" stop-color="#2b0b3b"/><stop offset="0.972" stop-color="#2d1d4c"/><stop offset="0.999" stop-color="#2d1d4d"/></linearGradient><linearGradient id="c47" x2="0" y2="1"><stop offset="0.001" stop-color="#d0da42"/><stop offset="0.034" stop-color="#bfd74f"/><stop offset="0.055" stop-color="#8dc16b"/><stop offset="0.082" stop-color="#2e9687"/><stop offset="0.090" stop-color="#218388"/><stop offset="0.093" stop-color="#257180"/><stop offset="0.096" stop-color="#2d1e4d"/><stop offset="0.098" stop-color="#2b0534"/><stop offset="0.142" stop-color="#2b0a3a"/><stop offset="0.152" stop-color="#2d3f65"/><stop offset="0.160" stop-color="#2d4066"/><stop offset="0.174" stop-color="#2c0f40"/><stop offset="0.182" stop-color="#2d2653"/><stop offset="0.190" stop-color="#2d3d64"/><stop offset="0.198" stop-color="#2e2e5a"/><stop offset="0.206" stop-color="#2b0534"/><stop offset="0.239" stop-color="#2b0736"/><stop offset="0.252" stop-color="#2c1949"/><stop offset="0.271" stop-color="#2b0534"/><stop offset="0.284" stop-color="#2b0a39"/><stop offset="0.301" stop-color="#2e2855"/><stop offset="0.319" stop-color="#2b0534"/><stop offset="0.438" stop-color="#2b0939"/><stop offset="0.460" stop-color="#2e2a56"/><stop offset="0.481" stop-color="#2b0c3c"/><stop offset="0.530" stop-color="#2b0534"/><stop offset="0.573" stop-color="#2b0939"/><stop offset="0.619" stop-color="#2a5a75"/><stop offset="0.646" stop-color="#208b8c"/><stop offset="0.735" stop-color="#1f8a8b"/><stop offset="0.780" stop-color="#2e335d"/><stop offset="0.810" stop-color="#2b0534"/><stop offset="0.939" stop-color="#2b0b3b"/><stop offset="0.999" stop-color="#2c1849"/></linearGradient><linearGradient id="c48" x2="0" y2="1"><stop offset="0.001" stop-color="#d5db3e"/><stop offset="0.034" stop-color="#c4d94c"/><stop offset="0.055" stop-color="#92c369"/><stop offset="0.082" stop-color="#2f9787"/><stop offset="0.090" stop-color="#208489"/><stop offset="0.093" stop-color="#247280"/><stop offset="0.096" stop-color="#2d1e4d"/><stop offset="0.098" stop-color="#2b0534"/><stop offset="0.139" stop-color="#2b0534"/><stop offset="0.150" stop-color="#2e3a62"/><stop offset="0.158" stop-color="#2d4369"/><stop offset="0.171" stop-color="#2c1243"/><stop offset="0.179" stop-color="#2d2351"/><stop offset="0.187" stop-color="#2d4167"/><stop offset="0.195" stop-color="#2e3961"/><stop offset="0.206" stop-color="#2b0534"/><stop offset="0.236" stop-color="#2b0838"/><stop offset="0.249" stop-color="#2c1849"/><stop offset="0.265" stop-color="#2b0534"/><stop offset="0.282" stop-color="#2b0a39"/><stop offset="0.298" stop-color="#2e2855"/><stop offset="0.317" stop-color="#2b0534"/><stop offset="0.438" stop-color="#2b0939"/><stop offset="0.462" stop-color="#2e2754"/><stop offset="0.489" stop-color="#2b0534"/><stop offset="0.575" stop-color="#2b0b3b"/><stop offset="0.627" stop-color="#27657a"/><stop offset="0.656" stop-color="#208b8c"/><stop offset="0.732" stop-color="#218489"/><stop offset="0.794" stop-color="#2c1748"/><stop offset="0.813" stop-color="#2b0534"/><stop offset="0.929" stop-color="#2b0a39"/><stop offset="0.974" stop-color="#2c1b4b"/><stop offset="0.999" stop-color="#2c1b4b"/></linearGradient><linearGradient id="c49" x2="0" y2="1"><stop offset="0.001" stop-color="#dadc39"/><stop offset="0.034" stop-color="#c9da48"/><stop offset="0.055" stop-color="#97c567"/><stop offset="0.082" stop-color="#2f9787"/><stop offset="0.090" stop-color="#208689"/><stop offset="0.093" stop-color="#247381"/><stop offset="0.096" stop-color="#2d1f4e"/><stop offset="0.098" stop-color="#2b0534"/><stop offset="0.139" stop-color="#2b0837"/><stop offset="0.150" stop-color="#2d3d64"/><stop offset="0.158" stop-color="#2d4167"/><stop offset="0.171" stop-color="#2c1242"/><stop offset="0.179" stop-color="#2e2c58"/><stop offset="0.187" stop-color="#2d4469"/><stop offset="0.195" stop-color="#2e345e"/><stop offset="0.204" stop-color="#2b0938"/><stop offset="0.233" stop-color="#2b0a39"/><stop offset="0.247" stop-color="#2c1848"/><stop offset="0.263" stop-color="#2b0534"/><stop offset="0.279" stop-color="#2b0a39"/><stop offset="0.295" stop-color="#2e2855"/><stop offset="0.314" stop-color="#2b0534"/><stop offset="0.435" stop-color="#2b0b3a"/><stop offset="0.465" stop-color="#2c1a4a"/><stop offset="0.489" stop-color="#2b0534"/><stop offset="0.575" stop-color="#2b0a3a"/><stop offset="0.632" stop-color="#27677b"/><stop offset="0.667" stop-color="#20878a"/><stop offset="0.726" stop-color="#227f86"/><stop offset="0.791" stop-color="#2c1a4a"/><stop offset="0.813" stop-color="#2b0534"/><stop offset="0.899" stop-color="#2b0a3a"/><stop offset="0.945" stop-color="#2d2351"/><stop offset="0.999" stop-color="#2d2452"/></linearGradient><linearGradient id="c50" x2="0" y2="1"><stop offset="0.001" stop-color="#e0dd35"/><stop offset="0.034" stop-color="#ceda44"/><stop offset="0.055" stop-color="#9bc765"/><stop offset="0.082" stop-color="#309887"/><stop offset="0.090" stop-color="#20878a"/><stop offset="0.093" stop-color="#247481"/><stop offset="0.096" stop-color="#2d1f4e"/><stop offset="0.098" stop-color="#2b0534"/><stop offset="0.136" stop-color="#2b0534"/><stop offset="0.150" stop-color="#2d4067"/><stop offset="0.158" stop-color="#2d3f65"/><stop offset="0.168" stop-color="#2c1445"/><stop offset="0.177" stop-color="#2d2452"/><stop offset="0.187" stop-color="#2d4469"/><stop offset="0.195" stop-color="#2e2f5a"/><stop offset="0.204" stop-color="#2b0534"/><stop offset="0.230" stop-color="#2b0a39"/><stop offset="0.244" stop-color="#2c1647"/><stop offset="0.260" stop-color="#2b0534"/><stop offset="0.276" stop-color="#2b0939"/><stop offset="0.292" stop-color="#2e2855"/><stop offset="0.314" stop-color="#2b0534"/><stop offset="0.425" stop-color="#2b0b3b"/><stop offset="0.449" stop-color="#2c1748"/><stop offset="0.489" stop-color="#2b0534"/><stop offset="0.575" stop-color="#2b0a3a"/><stop offset="0.632" stop-color="#266a7c"/><stop offset="0.667" stop-color="#1f8a8c"/><stop offset="0.726" stop-color="#218288"/><stop offset="0.791" stop-color="#2c1a4a"/><stop offset="0.813" stop-color="#2b0534"/><stop offset="0.880" stop-color="#2b0c3b"/><stop offset="0.912" stop-color="#2e2855"/><stop offset="0.999" stop-color="#2e2b57"/></linearGradient><linearGradient id="c51" x2="0" y2="1"><stop offset="0.001" stop-color="#e5df31"/><stop offset="0.034" stop-color="#d2db40"/><stop offset="0.058" stop-color="#95c468"/><stop offset="0.082" stop-color="#319986"/><stop offset="0.090" stop-color="#20888b"/><stop offset="0.093" stop-color="#247582"/><stop offset="0.096" stop-color="#2d1f4e"/><stop offset="0.098" stop-color="#2b0534"/><stop offset="0.136" stop-color="#2b0635"/><stop offset="0.147" stop-color="#2d3c63"/><stop offset="0.155" stop-color="#2d4268"/><stop offset="0.168" stop-color="#2c1344"/><stop offset="0.177" stop-color="#2e2c58"/><stop offset="0.185" stop-color="#2d4469"/><stop offset="0.193" stop-color="#2e345e"/><stop offset="0.201" stop-color="#2b0938"/><stop offset="0.230" stop-color="#2b0939"/><stop offset="0.244" stop-color="#2b0c3c"/><stop offset="0.271" stop-color="#2b0534"/><stop offset="0.290" stop-color="#2e2855"/><stop offset="0.311" stop-color="#2b0c3c"/><stop offset="0.327" stop-color="#2b0b3b"/><stop offset="0.419" stop-color="#2b0a3a"/><stop offset="0.441" stop-color="#2e2855"/><stop offset="0.473" stop-color="#2b0534"/><stop offset="0.573" stop-color="#2b0938"/><stop offset="0.621" stop-color="#295f77"/><stop offset="0.648" stop-color="#208c8c"/><stop offset="0.735" stop-color="#20878a"/><stop offset="0.794" stop-color="#2c1949"/><stop offset="0.813" stop-color="#2b0534"/><stop offset="0.888" stop-color="#2b0b3b"/><stop offset="0.929" stop-color="#2e2754"/><stop offset="0.999" stop-color="#2e2955"/></linearGradient><linearGradient id="c52" x2="0" y2="1"><stop offset="0.001" stop-color="#eae12c"/><stop offset="0.034" stop-color="#d7db3c"/><stop offset="0.058" stop-color="#99c666"/><stop offset="0.082" stop-color="#329986"/><stop offset="0.090" stop-color="#1f898b"/><stop offset="0.093" stop-color="#247682"/><stop offset="0.096" stop-color="#2d1f4e"/><stop offset="0.098" stop-color="#2b0534"/><stop offset="0.136" stop-color="#2b0b3a"/><stop offset="0.147" stop-color="#2d3f66"/><stop offset="0.155" stop-color="#2d4066"/><stop offset="0.166" stop-color="#2c1647"/><stop offset="0.174" stop-color="#2d2552"/><stop offset="0.185" stop-color="#2d4469"/><stop offset="0.193" stop-color="#2e2f5a"/><stop offset="0.201" stop-color="#2b0534"/><stop offset="0.271" stop-color="#2b0939"/><stop offset="0.287" stop-color="#2e2855"/><stop offset="0.306" stop-color="#2c1243"/><stop offset="0.322" stop-color="#2d1d4d"/><stop offset="0.338" stop-color="#2b0534"/><stop offset="0.416" stop-color="#2b0938"/><stop offset="0.438" stop-color="#2e2f5a"/><stop offset="0.454" stop-color="#2d1f4e"/><stop offset="0.470" stop-color="#2b0534"/><stop offset="0.573" stop-color="#2b0a3a"/><stop offset="0.616" stop-color="#2a5a75"/><stop offset="0.640" stop-color="#208c8c"/><stop offset="0.735" stop-color="#228d8b"/><stop offset="0.753" stop-color="#25707f"/><stop offset="0.775" stop-color="#2d3e65"/><stop offset="0.810" stop-color="#2b0534"/><stop offset="0.918" stop-color="#2b0b3b"/><stop offset="0.964" stop-color="#2d204f"/><stop offset="0.999" stop-color="#2d214f"/></linearGradient><linearGradient id="c53" x2="0" y2="1"><stop offset="0.001" stop-color="#f0e228"/><stop offset="0.034" stop-color="#dcdc38"/><stop offset="0.058" stop-color="#9dc864"/><stop offset="0.082" stop-color="#329a86"/><stop offset="0.090" stop-color="#1f8b8c"/><stop offset="0.093" stop-color="#237783"/><stop offset="0.096" stop-color="#2d204e"/><stop offset="0.098" stop-color="#2b0534"/><stop offset="0.133" stop-color="#2b0534"/><stop offset="0.144" stop-color="#2e3a62"/><stop offset="0.152" stop-color="#2d4369"/><stop offset="0.166" stop-color="#2c1546"/><stop offset="0.174" stop-color="#2e2c58"/><stop offset="0.182" stop-color="#2d4469"/><stop offset="0.190" stop-color="#2e345e"/><stop offset="0.198" stop-color="#2b0938"/><stop offset="0.268" stop-color="#2b0938"/><stop offset="0.284" stop-color="#2e2855"/><stop offset="0.303" stop-color="#2c1445"/><stop offset="0.317" stop-color="#2e2754"/><stop offset="0.336" stop-color="#2b0534"/><stop offset="0.416" stop-color="#2b0838"/><stop offset="0.438" stop-color="#2e2e5a"/><stop offset="0.454" stop-color="#2d1e4d"/><stop offset="0.470" stop-color="#2b0534"/><stop offset="0.573" stop-color="#2b0b3b"/><stop offset="0.616" stop-color="#295e77"/><stop offset="0.637" stop-color="#218c8b"/><stop offset="0.729" stop-color="#25908a"/><stop offset="0.748" stop-color="#218187"/><stop offset="0.778" stop-color="#2e3b63"/><stop offset="0.810" stop-color="#2b0534"/><stop offset="0.937" stop-color="#2b0b3b"/><stop offset="0.985" stop-color="#2c1b4b"/><stop offset="0.999" stop-color="#2c1b4b"/></linearGradient><linearGradient id="c54" x2="0" y2="1"><stop offset="0.001" stop-color="#f5e423"/><stop offset="0.034" stop-color="#e1de34"/><stop offset="0.058" stop-color="#a1c962"/><stop offset="0.082" stop-color="#339a86"/><stop offset="0.090" stop-color="#1f8b8c"/><stop offset="0.093" stop-color="#237883"/><stop offset="0.096" stop-color="#2d204f"/><stop offset="0.098" stop-color="#2b0534"/><stop offset="0.133" stop-color="#2b0838"/><stop offset="0.144" stop-color="#2d3e65"/><stop offset="0.152" stop-color="#2d4167"/><stop offset="0.166" stop-color="#2c1546"/><stop offset="0.182" stop-color="#2d4469"/><stop offset="0.190" stop-color="#2e2f5a"/><stop offset="0.198" stop-color="#2b0534"/><stop offset="0.265" stop-color="#2b0938"/><stop offset="0.282" stop-color="#2e2855"/><stop offset="0.301" stop-color="#2c1546"/><stop offset="0.314" stop-color="#2e2855"/><stop offset="0.333" stop-color="#2b0534"/><stop offset="0.419" stop-color="#2b0939"/><stop offset="0.441" stop-color="#2d2653"/><stop offset="0.470" stop-color="#2b0534"/><stop offset="0.573" stop-color="#2b0a3a"/><stop offset="0.616" stop-color="#2a5b75"/><stop offset="0.640" stop-color="#218c8b"/><stop offset="0.735" stop-color="#228d8b"/><stop offset="0.753" stop-color="#25707f"/><stop offset="0.775" stop-color="#2d3e65"/><stop offset="0.810" stop-color="#2b0534"/><stop offset="0.926" stop-color="#2b0939"/><stop offset="0.969" stop-color="#2d1e4d"/><stop offset="0.999" stop-color="#2d1e4e"/></linearGradient><linearGradient id="c55" x2="0" y2="1"><stop offset="0.001" stop-color="#f8e629"/><stop offset="0.026" stop-color="#f1e327"/><stop offset="0.050" stop-color="#c0d74f"/><stop offset="0.066" stop-color="#7dbb71"/><stop offset="0.085" stop-color="#2d9688"/><stop offset="0.090" stop-color="#208c8c"/><stop offset="0.093" stop-color="#237983"/><stop offset="0.096" stop-color="#2d204f"/><stop offset="0.098" stop-color="#2b0534"/><stop offset="0.131" stop-color="#2b0534"/><stop offset="0.144" stop-color="#2d4167"/><stop offset="0.152" stop-color="#2d3e65"/><stop offset="0.163" stop-color="#2c1748"/><stop offset="0.171" stop-color="#2e2c58"/><stop offset="0.179" stop-color="#2d4469"/><stop offset="0.187" stop-color="#2e345e"/><stop offset="0.195" stop-color="#2b0938"/><stop offset="0.263" stop-color="#2b0938"/><stop offset="0.279" stop-color="#2e2855"/><stop offset="0.298" stop-color="#2c1546"/><stop offset="0.311" stop-color="#2e2855"/><stop offset="0.330" stop-color="#2b0534"/><stop offset="0.425" stop-color="#2b0939"/><stop offset="0.446" stop-color="#2c1545"/><stop offset="0.476" stop-color="#2b0534"/><stop offset="0.573" stop-color="#2b0939"/><stop offset="0.619" stop-color="#2a5a75"/><stop offset="0.646" stop-color="#208c8c"/><stop offset="0.737" stop-color="#20868a"/><stop offset="0.778" stop-color="#2e3760"/><stop offset="0.810" stop-color="#2b0534"/><stop offset="0.896" stop-color="#2b0a3a"/><stop offset="0.939" stop-color="#2d2654"/><stop offset="0.999" stop-color="#2e2855"/></linearGradient><linearGradient id="c56" x2="0" y2="1"><stop offset="0.001" stop-color="#f8e739"/><stop offset="0.020" stop-color="#f8e629"/><stop offset="0.031" stop-color="#efe229"/><stop offset="0.055" stop-color="#b1d158"/><stop offset="0.080" stop-color="#3ea183"/><stop offset="0.090" stop-color="#208c8c"/><stop offset="0.093" stop-color="#237984"/><stop offset="0.096" stop-color="#2d204f"/><stop offset="0.098" stop-color="#2b0534"/><stop offset="0.131" stop-color="#2b0636"/><stop offset="0.142" stop-color="#2d3c64"/><stop offset="0.150" stop-color="#2d4268"/><stop offset="0.163" stop-color="#2c1748"/><stop offset="0.179" stop-color="#2d4469"/><stop offset="0.187" stop-color="#2e2f5a"/><stop offset="0.195" stop-color="#2b0534"/><stop offset="0.260" stop-color="#2b0939"/><stop offset="0.276" stop-color="#2e2855"/><stop offset="0.295" stop-color="#2c1647"/><stop offset="0.309" stop-color="#2e2855"/><stop offset="0.327" stop-color="#2b0534"/><stop offset="0.462" stop-color="#2b0737"/><stop offset="0.573" stop-color="#2b0837"/><stop offset="0.624" stop-color="#286178"/><stop offset="0.654" stop-color="#1f8b8c"/><stop offset="0.732" stop-color="#208589"/><stop offset="0.794" stop-color="#2c1748"/><stop offset="0.813" stop-color="#2b0534"/><stop offset="0.877" stop-color="#2b0a3a"/><stop offset="0.910" stop-color="#2e2b58"/><stop offset="0.999" stop-color="#2e2e59"/></linearGradient><linearGradient id="c57" x2="0" y2="1"><stop offset="0.001" stop-color="#f8e849"/><stop offset="0.020" stop-color="#f8e739"/><stop offset="0.028" stop-color="#f7e521"/><stop offset="0.053" stop-color="#bed650"/><stop offset="0.069" stop-color="#74b874"/><stop offset="0.085" stop-color="#2e9787"/><stop offset="0.090" stop-color="#208c8c"/><stop offset="0.093" stop-color="#237a84"/><stop offset="0.096" stop-color="#2d204f"/><stop offset="0.098" stop-color="#2b0534"/><stop offset="0.131" stop-color="#2b0b3b"/><stop offset="0.142" stop-color="#2d4066"/><stop offset="0.150" stop-color="#2d4066"/><stop offset="0.160" stop-color="#2c1949"/><stop offset="0.168" stop-color="#2e2d59"/><stop offset="0.177" stop-color="#2d4469"/><stop offset="0.185" stop-color="#2e345e"/><stop offset="0.193" stop-color="#2b0938"/><stop offset="0.257" stop-color="#2b0b3b"/><stop offset="0.274" stop-color="#2e2855"/><stop offset="0.292" stop-color="#2c1647"/><stop offset="0.306" stop-color="#2e2855"/><stop offset="0.325" stop-color="#2b0534"/><stop offset="0.438" stop-color="#2b0b3b"/><stop offset="0.462" stop-color="#2b0938"/><stop offset="0.573" stop-color="#2b0939"/><stop offset="0.619" stop-color="#2a5b75"/><stop offset="0.646" stop-color="#208c8c"/><stop offset="0.737" stop-color="#20878a"/><stop offset="0.780" stop-color="#2e335d"/><stop offset="0.810" stop-color="#2b0534"/><stop offset="0.885" stop-color="#2b0a3a"/><stop offset="0.923" stop-color="#2e2a56"/><stop offset="0.999" stop-color="#2e2c58"/></linearGradient><linearGradient id="c58" x2="0" y2="1"><stop offset="0.001" stop-color="#f8e95a"/><stop offset="0.020" stop-color="#f8e849"/><stop offset="0.031" stop-color="#f8e522"/><stop offset="0.055" stop-color="#b8d453"/><stop offset="0.080" stop-color="#41a282"/><stop offset="0.090" stop-color="#218c8b"/><stop offset="0.093" stop-color="#227b85"/><stop offset="0.096" stop-color="#2d214f"/><stop offset="0.098" stop-color="#2b0534"/><stop offset="0.128" stop-color="#2b0534"/><stop offset="0.139" stop-color="#2e3b62"/><stop offset="0.147" stop-color="#2d4368"/><stop offset="0.160" stop-color="#2c1949"/><stop offset="0.177" stop-color="#2d4469"/><stop offset="0.185" stop-color="#2e2f5a"/><stop offset="0.193" stop-color="#2b0534"/><stop offset="0.252" stop-color="#2b0c3b"/><stop offset="0.271" stop-color="#2e2855"/><stop offset="0.290" stop-color="#2c1647"/><stop offset="0.303" stop-color="#2e2855"/><stop offset="0.322" stop-color="#2b0534"/><stop offset="0.430" stop-color="#2b0a3a"/><stop offset="0.451" stop-color="#2c1b4b"/><stop offset="0.478" stop-color="#2b0534"/><stop offset="0.573" stop-color="#2b0b3b"/><stop offset="0.616" stop-color="#295e77"/><stop offset="0.637" stop-color="#218c8b"/><stop offset="0.729" stop-color="#25908a"/><stop offset="0.748" stop-color="#218187"/><stop offset="0.778" stop-color="#2e3b63"/><stop offset="0.813" stop-color="#2b0534"/><stop offset="0.915" stop-color="#2b0b3a"/><stop offset="0.958" stop-color="#2d2351"/><stop offset="0.999" stop-color="#2d2452"/></linearGradient><linearGradient id="c59" x2="0" y2="1"><stop offset="0.001" stop-color="#f8ea6a"/><stop offset="0.020" stop-color="#f8e958"/><stop offset="0.034" stop-color="#f8e523"/><stop offset="0.058" stop-color="#b1d158"/><stop offset="0.080" stop-color="#43a382"/><stop offset="0.090" stop-color="#218d8b"/><stop offset="0.093" stop-color="#227c85"/><stop offset="0.096" stop-color="#2d214f"/><stop offset="0.098" stop-color="#2b0534"/><stop offset="0.128" stop-color="#2b0939"/><stop offset="0.139" stop-color="#2d3e65"/><stop offset="0.147" stop-color="#2d4167"/><stop offset="0.160" stop-color="#2c1a4a"/><stop offset="0.174" stop-color="#2d4469"/><stop offset="0.182" stop-color="#2e345e"/><stop offset="0.190" stop-color="#2b0938"/><stop offset="0.247" stop-color="#2b0a3a"/><stop offset="0.268" stop-color="#2e2855"/><stop offset="0.287" stop-color="#2c1747"/><stop offset="0.301" stop-color="#2e2855"/><stop offset="0.319" stop-color="#2b0534"/><stop offset="0.425" stop-color="#2b0837"/><stop offset="0.446" stop-color="#2e2a57"/><stop offset="0.468" stop-color="#2c0e3e"/><stop offset="0.487" stop-color="#2b0534"/><stop offset="0.570" stop-color="#2b0938"/><stop offset="0.613" stop-color="#295d77"/><stop offset="0.632" stop-color="#208c8c"/><stop offset="0.713" stop-color="#2c9588"/><stop offset="0.751" stop-color="#218388"/><stop offset="0.778" stop-color="#2d3e65"/><stop offset="0.813" stop-color="#2b0534"/><stop offset="0.934" stop-color="#2b0b3a"/><stop offset="0.974" stop-color="#2d1e4d"/><stop offset="0.999" stop-color="#2d1e4d"/></linearGradient><linearGradient id="c60" x2="0" y2="1"><stop offset="0.001" stop-color="#f8eb7a"/><stop offset="0.020" stop-color="#f8ea68"/><stop offset="0.034" stop-color="#f8e631"/><stop offset="0.036" stop-color="#f8e521"/><stop offset="0.061" stop-color="#a9cd5d"/><stop offset="0.082" stop-color="#379e84"/><stop offset="0.090" stop-color="#218d8b"/><stop offset="0.093" stop-color="#227d85"/><stop offset="0.096" stop-color="#2d2150"/><stop offset="0.098" stop-color="#2b0534"/><stop offset="0.125" stop-color="#2b0534"/><stop offset="0.139" stop-color="#2d4167"/><stop offset="0.147" stop-color="#2d3e65"/><stop offset="0.158" stop-color="#2c1b4b"/><stop offset="0.174" stop-color="#2d4469"/><stop offset="0.182" stop-color="#2e2f5a"/><stop offset="0.190" stop-color="#2b0534"/><stop offset="0.244" stop-color="#2b0938"/><stop offset="0.268" stop-color="#2d2250"/><stop offset="0.284" stop-color="#2c1748"/><stop offset="0.298" stop-color="#2e2754"/><stop offset="0.317" stop-color="#2b0534"/><stop offset="0.425" stop-color="#2b0b3b"/><stop offset="0.446" stop-color="#2e315c"/><stop offset="0.462" stop-color="#2d1f4e"/><stop offset="0.478" stop-color="#2b0534"/><stop offset="0.570" stop-color="#2b0938"/><stop offset="0.613" stop-color="#295d77"/><stop offset="0.632" stop-color="#208c8c"/><stop offset="0.713" stop-color="#2c9588"/><stop offset="0.751" stop-color="#218388"/><stop offset="0.778" stop-color="#2d3e65"/><stop offset="0.813" stop-color="#2b0534"/><stop offset="0.926" stop-color="#2b0b3b"/><stop offset="0.969" stop-color="#2d2150"/><stop offset="0.999" stop-color="#2d2250"/></linearGradient><linearGradient id="c61" x2="0" y2="1"><stop offset="0.001" stop-color="#f8ec8a"/><stop offset="0.020" stop-color="#f8eb78"/><stop offset="0.034" stop-color="#f8e740"/><stop offset="0.039" stop-color="#f6e422"/><stop offset="0.063" stop-color="#a0c963"/><stop offset="0.082" stop-color="#389e84"/><stop offset="0.090" stop-color="#228d8b"/><stop offset="0.093" stop-color="#227e86"/><stop offset="0.096" stop-color="#2d2150"/><stop offset="0.098" stop-color="#2b0534"/><stop offset="0.125" stop-color="#2b0736"/><stop offset="0.136" stop-color="#2d3d64"/><stop offset="0.144" stop-color="#2d4268"/><stop offset="0.158" stop-color="#2d1c4c"/><stop offset="0.171" stop-color="#2d4469"/><stop offset="0.179" stop-color="#2e345e"/><stop offset="0.187" stop-color="#2b0938"/><stop offset="0.244" stop-color="#2b0b3a"/><stop offset="0.271" stop-color="#2c1141"/><stop offset="0.284" stop-color="#2c1b4b"/><stop offset="0.295" stop-color="#2e2754"/><stop offset="0.314" stop-color="#2b0534"/><stop offset="0.422" stop-color="#2b0636"/><stop offset="0.443" stop-color="#2e315b"/><stop offset="0.460" stop-color="#2d2653"/><stop offset="0.476" stop-color="#2b0534"/><stop offset="0.573" stop-color="#2b0b3b"/><stop offset="0.616" stop-color="#295f77"/><stop offset="0.637" stop-color="#218d8b"/><stop offset="0.729" stop-color="#26908a"/><stop offset="0.748" stop-color="#218288"/><stop offset="0.778" stop-color="#2d3c63"/><stop offset="0.813" stop-color="#2b0534"/><stop offset="0.894" stop-color="#2b0939"/><stop offset="0.934" stop-color="#2e2956"/><stop offset="0.999" stop-color="#2e2c58"/></linearGradient><linearGradient id="c62" x2="0" y2="1"><stop offset="0.001" stop-color="#f8ed9a"/><stop offset="0.020" stop-color="#f8ec88"/><stop offset="0.034" stop-color="#f8e84e"/><stop offset="0.039" stop-color="#f8e629"/><stop offset="0.044" stop-color="#ece12b"/><stop offset="0.066" stop-color="#94c468"/><stop offset="0.082" stop-color="#399f84"/><stop offset="0.093" stop-color="#227f86"/><stop offset="0.096" stop-color="#2d2150"/><stop offset="0.098" stop-color="#2b0534"/><stop offset="0.125" stop-color="#2b0b3a"/><stop offset="0.136" stop-color="#2d3e65"/><stop offset="0.144" stop-color="#2d3e65"/><stop offset="0.155" stop-color="#2d1c4c"/><stop offset="0.171" stop-color="#2d4469"/><stop offset="0.179" stop-color="#2e2f5a"/><stop offset="0.187" stop-color="#2b0534"/><stop offset="0.244" stop-color="#2b0c3b"/><stop offset="0.274" stop-color="#2b0a3a"/><stop offset="0.292" stop-color="#2e2754"/><stop offset="0.311" stop-color="#2b0534"/><stop offset="0.425" stop-color="#2b0939"/><stop offset="0.446" stop-color="#2e2d59"/><stop offset="0.462" stop-color="#2c1b4b"/><stop offset="0.476" stop-color="#2b0534"/><stop offset="0.573" stop-color="#2b0a39"/><stop offset="0.619" stop-color="#295e77"/><stop offset="0.643" stop-color="#208c8c"/><stop offset="0.737" stop-color="#1f8b8c"/><stop offset="0.780" stop-color="#2e345e"/><stop offset="0.810" stop-color="#2b0534"/><stop offset="0.875" stop-color="#2b0938"/><stop offset="0.904" stop-color="#2e2d59"/><stop offset="0.999" stop-color="#2e315b"/></linearGradient><linearGradient id="c63" x2="0" y2="1"><stop offset="0.001" stop-color="#f8eea2"/><stop offset="0.020" stop-color="#f8ed97"/><stop offset="0.034" stop-color="#f8e95d"/><stop offset="0.042" stop-color="#f8e521"/><stop offset="0.063" stop-color="#a5cb5f"/><stop offset="0.082" stop-color="#3b9f83"/><stop offset="0.093" stop-color="#227f87"/><stop offset="0.096" stop-color="#2d2250"/><stop offset="0.098" stop-color="#2b0534"/><stop offset="0.125" stop-color="#2b0b3b"/><stop offset="0.136" stop-color="#2e3861"/><stop offset="0.144" stop-color="#2e345d"/><stop offset="0.155" stop-color="#2c1b4b"/><stop offset="0.168" stop-color="#2d4469"/><stop offset="0.177" stop-color="#2e345e"/><stop offset="0.185" stop-color="#2b0938"/><stop offset="0.241" stop-color="#2b0a3a"/><stop offset="0.271" stop-color="#2b0736"/><stop offset="0.287" stop-color="#2e2855"/><stop offset="0.311" stop-color="#2b0a39"/><stop offset="0.427" stop-color="#2b0838"/><stop offset="0.449" stop-color="#2d214f"/><stop offset="0.478" stop-color="#2b0534"/><stop offset="0.573" stop-color="#2b0a39"/><stop offset="0.619" stop-color="#295e77"/><stop offset="0.643" stop-color="#208c8c"/><stop offset="0.737" stop-color="#1f8b8c"/><stop offset="0.780" stop-color="#2e345e"/><stop offset="0.810" stop-color="#2b0534"/><stop offset="0.883" stop-color="#2b0939"/><stop offset="0.920" stop-color="#2e2d58"/><stop offset="0.999" stop-color="#2e2f5a"/></linearGradient><linearGradient id="c64" x2="0" y2="1"><stop offset="0.001" stop-color="#f8efab"/><stop offset="0.023" stop-color="#f8ed9d"/><stop offset="0.034" stop-color="#f8ea6b"/><stop offset="0.042" stop-color="#f8e62d"/><stop offset="0.044" stop-color="#f4e424"/><stop offset="0.066" stop-color="#9ac765"/><stop offset="0.082" stop-color="#3ca083"/><stop offset="0.093" stop-color="#218087"/><stop offset="0.096" stop-color="#2d2250"/><stop offset="0.098" stop-color="#2b0534"/><stop offset="0.125" stop-color="#2b0837"/><stop offset="0.136" stop-color="#2e2a57"/><stop offset="0.152" stop-color="#2c1445"/><stop offset="0.166" stop-color="#2d4268"/><stop offset="0.174" stop-color="#2e3a62"/><stop offset="0.185" stop-color="#2b0534"/><stop offset="0.241" stop-color="#2b0c3b"/><stop offset="0.268" stop-color="#2b0736"/><stop offset="0.284" stop-color="#2e2855"/><stop offset="0.306" stop-color="#2c0e3e"/><stop offset="0.322" stop-color="#2c1748"/><stop offset="0.336" stop-color="#2b0534"/><stop offset="0.435" stop-color="#2b0b3b"/><stop offset="0.460" stop-color="#2c0f3f"/><stop offset="0.492" stop-color="#2b0534"/><stop offset="0.573" stop-color="#2b0c3b"/><stop offset="0.613" stop-color="#2a5975"/><stop offset="0.635" stop-color="#218c8c"/><stop offset="0.724" stop-color="#289289"/><stop offset="0.748" stop-color="#208589"/><stop offset="0.778" stop-color="#2d3c64"/><stop offset="0.813" stop-color="#2b0534"/><stop offset="0.912" stop-color="#2b0a39"/><stop offset="0.953" stop-color="#2d2553"/><stop offset="0.999" stop-color="#2e2754"/></linearGradient><linearGradient id="c65" x2="0" y2="1"><stop offset="0.001" stop-color="#f8f0b3"/><stop offset="0.026" stop-color="#f8ee9f"/><stop offset="0.034" stop-color="#f8eb79"/><stop offset="0.044" stop-color="#f8e521"/><stop offset="0.066" stop-color="#9dc864"/><stop offset="0.082" stop-color="#3da083"/><stop offset="0.093" stop-color="#218187"/><stop offset="0.096" stop-color="#2d2250"/><stop offset="0.098" stop-color="#2b0534"/><stop offset="0.125" stop-color="#2b0635"/><stop offset="0.136" stop-color="#2d1d4c"/><stop offset="0.150" stop-color="#2c0e3e"/><stop offset="0.166" stop-color="#2d4469"/><stop offset="0.174" stop-color="#2e345e"/><stop offset="0.182" stop-color="#2b0939"/><stop offset="0.239" stop-color="#2b0a3a"/><stop offset="0.265" stop-color="#2b0736"/><stop offset="0.282" stop-color="#2e2855"/><stop offset="0.303" stop-color="#2c0f3f"/><stop offset="0.319" stop-color="#2d1c4c"/><stop offset="0.333" stop-color="#2b0534"/><stop offset="0.443" stop-color="#2b0b3a"/><stop offset="0.468" stop-color="#2c1040"/><stop offset="0.492" stop-color="#2b0534"/><stop offset="0.570" stop-color="#2b0939"/><stop offset="0.611" stop-color="#2a5a75"/><stop offset="0.629" stop-color="#218c8b"/><stop offset="0.702" stop-color="#2f9787"/><stop offset="0.751" stop-color="#1f8a8c"/><stop offset="0.778" stop-color="#2d4066"/><stop offset="0.813" stop-color="#2b0534"/><stop offset="0.931" stop-color="#2b0939"/><stop offset="0.969" stop-color="#2d1f4e"/><stop offset="0.999" stop-color="#2d204f"/></linearGradient><linearGradient id="c66" x2="0" y2="1"><stop offset="0.001" stop-color="#f8f1bb"/><stop offset="0.026" stop-color="#f8efa7"/><stop offset="0.034" stop-color="#f8ec88"/><stop offset="0.044" stop-color="#f8e62d"/><stop offset="0.047" stop-color="#f3e325"/><stop offset="0.069" stop-color="#8fc26a"/><stop offset="0.085" stop-color="#339a86"/><stop offset="0.093" stop-color="#218288"/><stop offset="0.096" stop-color="#2d2251"/><stop offset="0.098" stop-color="#2b0534"/><stop offset="0.125" stop-color="#2b0837"/><stop offset="0.136" stop-color="#2c1b4b"/><stop offset="0.150" stop-color="#2c0e3f"/><stop offset="0.163" stop-color="#2d4268"/><stop offset="0.171" stop-color="#2e3a62"/><stop offset="0.182" stop-color="#2b0635"/><stop offset="0.239" stop-color="#2b0c3b"/><stop offset="0.263" stop-color="#2b0837"/><stop offset="0.279" stop-color="#2e2855"/><stop offset="0.301" stop-color="#2c0f3f"/><stop offset="0.317" stop-color="#2d1d4c"/><stop offset="0.330" stop-color="#2b0534"/><stop offset="0.441" stop-color="#2b0939"/><stop offset="0.462" stop-color="#2d1f4e"/><stop offset="0.489" stop-color="#2b0534"/><stop offset="0.570" stop-color="#2b0a3a"/><stop offset="0.608" stop-color="#2b5472"/><stop offset="0.627" stop-color="#208c8c"/><stop offset="0.691" stop-color="#319886"/><stop offset="0.753" stop-color="#20878a"/><stop offset="0.778" stop-color="#2d4167"/><stop offset="0.813" stop-color="#2b0534"/><stop offset="0.923" stop-color="#2b0a39"/><stop offset="0.961" stop-color="#2d2250"/><stop offset="0.999" stop-color="#2d2351"/></linearGradient><linearGradient id="c67" x2="0" y2="1"><stop offset="0.001" stop-color="#f8f2c3"/><stop offset="0.026" stop-color="#f8efaf"/><stop offset="0.034" stop-color="#f8ed96"/><stop offset="0.047" stop-color="#f7e522"/><stop offset="0.069" stop-color="#91c369"/><stop offset="0.085" stop-color="#349b85"/><stop offset="0.093" stop-color="#218388"/><stop offset="0.096" stop-color="#2d2251"/><stop offset="0.098" stop-color="#2b0534"/><stop offset="0.125" stop-color="#2b0a39"/><stop offset="0.136" stop-color="#2c1a4a"/><stop offset="0.147" stop-color="#2c0e3e"/><stop offset="0.163" stop-color="#2d4469"/><stop offset="0.171" stop-color="#2e355e"/><stop offset="0.182" stop-color="#2b0534"/><stop offset="0.236" stop-color="#2b0a3a"/><stop offset="0.260" stop-color="#2b0938"/><stop offset="0.276" stop-color="#2e2855"/><stop offset="0.295" stop-color="#2b0d3d"/><stop offset="0.314" stop-color="#2d1d4c"/><stop offset="0.327" stop-color="#2b0534"/><stop offset="0.438" stop-color="#2b0938"/><stop offset="0.460" stop-color="#2e2956"/><stop offset="0.481" stop-color="#2b0b3b"/><stop offset="0.567" stop-color="#2b0635"/><stop offset="0.611" stop-color="#2a5a75"/><stop offset="0.629" stop-color="#218c8b"/><stop offset="0.702" stop-color="#2f9787"/><stop offset="0.751" stop-color="#1f8a8b"/><stop offset="0.778" stop-color="#2d4066"/><stop offset="0.813" stop-color="#2b0534"/><stop offset="0.894" stop-color="#2b0a3a"/><stop offset="0.934" stop-color="#2e2a57"/><stop offset="0.999" stop-color="#2e2d58"/></linearGradient><linearGradient id="c68" x2="0" y2="1"><stop offset="0.001" stop-color="#f8f3cc"/><stop offset="0.023" stop-color="#f8f1bc"/><stop offset="0.036" stop-color="#f8ec90"/><stop offset="0.047" stop-color="#f8e528"/><stop offset="0.055" stop-color="#d9dc3a"/><stop offset="0.071" stop-color="#81bd6f"/><stop offset="0.085" stop-color="#349b85"/><stop offset="0.093" stop-color="#218388"/><stop offset="0.096" stop-color="#2d2351"/><stop offset="0.098" stop-color="#2b0534"/><stop offset="0.125" stop-color="#2b0c3b"/><stop offset="0.136" stop-color="#2c194a"/><stop offset="0.147" stop-color="#2c1041"/><stop offset="0.160" stop-color="#2d4268"/><stop offset="0.168" stop-color="#2e3a62"/><stop offset="0.179" stop-color="#2b0939"/><stop offset="0.236" stop-color="#2b0b3b"/><stop offset="0.257" stop-color="#2b0a39"/><stop offset="0.274" stop-color="#2e2855"/><stop offset="0.292" stop-color="#2b0d3d"/><stop offset="0.311" stop-color="#2d1d4c"/><stop offset="0.325" stop-color="#2b0534"/><stop offset="0.438" stop-color="#2b0939"/><stop offset="0.460" stop-color="#2e2b57"/><stop offset="0.481" stop-color="#2b0c3c"/><stop offset="0.519" stop-color="#2b0534"/><stop offset="0.573" stop-color="#2b0c3c"/><stop offset="0.613" stop-color="#2a5a75"/><stop offset="0.635" stop-color="#218c8b"/><stop offset="0.721" stop-color="#299389"/><stop offset="0.748" stop-color="#20868a"/><stop offset="0.778" stop-color="#2d3d64"/><stop offset="0.813" stop-color="#2b0534"/><stop offset="0.875" stop-color="#2b0939"/><stop offset="0.904" stop-color="#2e2e59"/><stop offset="0.999" stop-color="#2e315c"/></linearGradient><linearGradient id="c69" x2="0" y2="1"><stop offset="0.001" stop-color="#f8f4d4"/><stop offset="0.023" stop-color="#f8f2c4"/><stop offset="0.036" stop-color="#f8ed9c"/><stop offset="0.047" stop-color="#f8e634"/><stop offset="0.050" stop-color="#f4e425"/><stop offset="0.069" stop-color="#97c567"/><stop offset="0.085" stop-color="#359c85"/><stop offset="0.093" stop-color="#218489"/><stop offset="0.096" stop-color="#2d2351"/><stop offset="0.098" stop-color="#2b0534"/><stop offset="0.123" stop-color="#2b0635"/><stop offset="0.133" stop-color="#2c1b4b"/><stop offset="0.147" stop-color="#2c1445"/><stop offset="0.160" stop-color="#2d4469"/><stop offset="0.168" stop-color="#2e355e"/><stop offset="0.179" stop-color="#2b0837"/><stop offset="0.198" stop-color="#2b0a3a"/><stop offset="0.255" stop-color="#2b0a3a"/><stop offset="0.271" stop-color="#2e2855"/><stop offset="0.290" stop-color="#2b0d3d"/><stop offset="0.306" stop-color="#2d1f4e"/><stop offset="0.322" stop-color="#2b0534"/><stop offset="0.441" stop-color="#2b0b3b"/><stop offset="0.462" stop-color="#2d2452"/><stop offset="0.489" stop-color="#2b0534"/><stop offset="0.573" stop-color="#2b0a3a"/><stop offset="0.616" stop-color="#2a5b75"/><stop offset="0.640" stop-color="#218c8b"/><stop offset="0.735" stop-color="#228d8b"/><stop offset="0.753" stop-color="#257180"/><stop offset="0.775" stop-color="#2d3e65"/><stop offset="0.810" stop-color="#2b0534"/><stop offset="0.883" stop-color="#2b0939"/><stop offset="0.918" stop-color="#2e2c58"/><stop offset="0.999" stop-color="#2e2f5a"/></linearGradient><linearGradient id="c70" x2="0" y2="1"><stop offset="0.001" stop-color="#f8f5dc"/><stop offset="0.023" stop-color="#f8f3cc"/><stop offset="0.039" stop-color="#f8ed95"/><stop offset="0.050" stop-color="#f7e522"/><stop offset="0.069" stop-color="#9ac666"/><stop offset="0.085" stop-color="#359c85"/><stop offset="0.093" stop-color="#208589"/><stop offset="0.096" stop-color="#2d2351"/><stop offset="0.098" stop-color="#2b0534"/><stop offset="0.123" stop-color="#2b0837"/><stop offset="0.133" stop-color="#2c1b4b"/><stop offset="0.144" stop-color="#2c1343"/><stop offset="0.158" stop-color="#2d4268"/><stop offset="0.166" stop-color="#2e3a62"/><stop offset="0.177" stop-color="#2b0a3a"/><stop offset="0.195" stop-color="#2c0e3e"/><stop offset="0.214" stop-color="#2b0534"/><stop offset="0.252" stop-color="#2b0a3a"/><stop offset="0.268" stop-color="#2e2855"/><stop offset="0.287" stop-color="#2b0d3d"/><stop offset="0.303" stop-color="#2d1f4e"/><stop offset="0.319" stop-color="#2b0534"/><stop offset="0.443" stop-color="#2b0b3b"/><stop offset="0.465" stop-color="#2c1747"/><stop offset="0.489" stop-color="#2b0534"/><stop offset="0.573" stop-color="#2b0b3b"/><stop offset="0.613" stop-color="#2a5874"/><stop offset="0.635" stop-color="#208c8c"/><stop offset="0.724" stop-color="#289289"/><stop offset="0.748" stop-color="#218388"/><stop offset="0.778" stop-color="#2d3c63"/><stop offset="0.813" stop-color="#2b0534"/><stop offset="0.912" stop-color="#2b0a39"/><stop offset="0.953" stop-color="#2d2553"/><stop offset="0.999" stop-color="#2e2754"/></linearGradient><linearGradient id="c71" x2="0" y2="1"><stop offset="0.001" stop-color="#f8f6e4"/><stop offset="0.023" stop-color="#f8f4d4"/><stop offset="0.039" stop-color="#f8ed9e"/><stop offset="0.050" stop-color="#f8e62a"/><stop offset="0.055" stop-color="#e3de32"/><stop offset="0.071" stop-color="#89c06c"/><stop offset="0.085" stop-color="#369c85"/><stop offset="0.093" stop-color="#208689"/><stop offset="0.096" stop-color="#2d2351"/><stop offset="0.098" stop-color="#2b0534"/><stop offset="0.123" stop-color="#2b0a39"/><stop offset="0.133" stop-color="#2c1b4b"/><stop offset="0.144" stop-color="#2c1647"/><stop offset="0.158" stop-color="#2d4469"/><stop offset="0.166" stop-color="#2e355e"/><stop offset="0.177" stop-color="#2b0737"/><stop offset="0.195" stop-color="#2b0c3c"/><stop offset="0.247" stop-color="#2b0534"/><stop offset="0.265" stop-color="#2e2855"/><stop offset="0.284" stop-color="#2b0d3d"/><stop offset="0.301" stop-color="#2d1f4e"/><stop offset="0.317" stop-color="#2b0534"/><stop offset="0.441" stop-color="#2b0b3b"/><stop offset="0.465" stop-color="#2c0e3e"/><stop offset="0.497" stop-color="#2b0534"/><stop offset="0.570" stop-color="#2b0a39"/><stop offset="0.611" stop-color="#2a5b75"/><stop offset="0.629" stop-color="#218c8b"/><stop offset="0.702" stop-color="#2f9787"/><stop offset="0.751" stop-color="#1f8b8c"/><stop offset="0.778" stop-color="#2d4066"/><stop offset="0.813" stop-color="#2b0534"/><stop offset="0.931" stop-color="#2b0939"/><stop offset="0.969" stop-color="#2d1f4e"/><stop offset="0.999" stop-color="#2d204f"/></linearGradient><linearGradient id="c72" x2="0" y2="1"><stop offset="0.001" stop-color="#f8f7ed"/><stop offset="0.023" stop-color="#f8f5dc"/><stop offset="0.039" stop-color="#f8eea5"/><stop offset="0.044" stop-color="#f8eb77"/><stop offset="0.050" stop-color="#f8e635"/><stop offset="0.053" stop-color="#f3e325"/><stop offset="0.071" stop-color="#8bc16b"/><stop offset="0.085" stop-color="#369d85"/><stop offset="0.093" stop-color="#20868a"/><stop offset="0.096" stop-color="#2d2351"/><stop offset="0.098" stop-color="#2b0534"/><stop offset="0.123" stop-color="#2b0b3b"/><stop offset="0.133" stop-color="#2c1a4a"/><stop offset="0.144" stop-color="#2c1b4b"/><stop offset="0.155" stop-color="#2d4268"/><stop offset="0.163" stop-color="#2e3a62"/><stop offset="0.174" stop-color="#2b0a39"/><stop offset="0.193" stop-color="#2c0e3e"/><stop offset="0.209" stop-color="#2b0534"/><stop offset="0.247" stop-color="#2b0938"/><stop offset="0.263" stop-color="#2e2855"/><stop offset="0.282" stop-color="#2b0d3d"/><stop offset="0.298" stop-color="#2d1f4e"/><stop offset="0.314" stop-color="#2b0534"/><stop offset="0.433" stop-color="#2b0a39"/><stop offset="0.454" stop-color="#2c1a4a"/><stop offset="0.481" stop-color="#2b0534"/><stop offset="0.570" stop-color="#2b0b3b"/><stop offset="0.608" stop-color="#2a5a75"/><stop offset="0.624" stop-color="#208c8c"/><stop offset="0.683" stop-color="#339b85"/><stop offset="0.748" stop-color="#248f8a"/><stop offset="0.761" stop-color="#247682"/><stop offset="0.780" stop-color="#2d3f65"/><stop offset="0.813" stop-color="#2b0534"/><stop offset="0.923" stop-color="#2b0a39"/><stop offset="0.961" stop-color="#2d2250"/><stop offset="0.999" stop-color="#2d2351"/></linearGradient><linearGradient id="c73" x2="0" y2="1"><stop offset="0.001" stop-color="#f8f8f5"/><stop offset="0.023" stop-color="#f8f6e4"/><stop offset="0.039" stop-color="#f8efac"/><stop offset="0.044" stop-color="#f8eb83"/><stop offset="0.053" stop-color="#f6e423"/><stop offset="0.071" stop-color="#8ec26a"/><stop offset="0.085" stop-color="#379d84"/><stop offset="0.093" stop-color="#20878a"/><stop offset="0.096" stop-color="#2d2452"/><stop offset="0.098" stop-color="#2b0534"/><stop offset="0.123" stop-color="#2b0b3a"/><stop offset="0.133" stop-color="#2c1647"/><stop offset="0.142" stop-color="#2c1748"/><stop offset="0.155" stop-color="#2d4469"/><stop offset="0.163" stop-color="#2e355e"/><stop offset="0.174" stop-color="#2b0736"/><stop offset="0.193" stop-color="#2b0c3c"/><stop offset="0.236" stop-color="#2b0534"/><stop offset="0.247" stop-color="#2c1040"/><stop offset="0.260" stop-color="#2e2855"/><stop offset="0.279" stop-color="#2b0d3d"/><stop offset="0.295" stop-color="#2d1f4e"/><stop offset="0.311" stop-color="#2b0534"/><stop offset="0.430" stop-color="#2b0a3a"/><stop offset="0.451" stop-color="#2d2452"/><stop offset="0.478" stop-color="#2b0534"/><stop offset="0.570" stop-color="#2b0b3b"/><stop offset="0.605" stop-color="#2b5271"/><stop offset="0.624" stop-color="#218d8b"/><stop offset="0.683" stop-color="#359b85"/><stop offset="0.748" stop-color="#25908a"/><stop offset="0.759" stop-color="#218187"/><stop offset="0.780" stop-color="#2d4066"/><stop offset="0.813" stop-color="#2b0534"/><stop offset="0.894" stop-color="#2b0a3a"/><stop offset="0.934" stop-color="#2e2a57"/><stop offset="0.999" stop-color="#2e2d58"/></linearGradient><linearGradient id="c74" x2="0" y2="1"><stop offset="0.001" stop-color="#f8f8f6"/><stop offset="0.023" stop-color="#f8f7ec"/><stop offset="0.039" stop-color="#f8f0b2"/><stop offset="0.044" stop-color="#f8ec90"/><stop offset="0.053" stop-color="#f8e526"/><stop offset="0.071" stop-color="#90c369"/><stop offset="0.085" stop-color="#379e84"/><stop offset="0.093" stop-color="#20888a"/><stop offset="0.096" stop-color="#2d2452"/><stop offset="0.098" stop-color="#2b0534"/><stop offset="0.125" stop-color="#2b0b3a"/><stop offset="0.142" stop-color="#2c1949"/><stop offset="0.152" stop-color="#2d4268"/><stop offset="0.160" stop-color="#2e3a62"/><stop offset="0.171" stop-color="#2b0939"/><stop offset="0.193" stop-color="#2b0a3a"/><stop offset="0.241" stop-color="#2b0837"/><stop offset="0.257" stop-color="#2e2754"/><stop offset="0.276" stop-color="#2b0c3c"/><stop offset="0.292" stop-color="#2d1f4e"/><stop offset="0.309" stop-color="#2b0534"/><stop offset="0.430" stop-color="#2b0b3a"/><stop offset="0.451" stop-color="#2d2653"/><stop offset="0.478" stop-color="#2b0534"/><stop offset="0.570" stop-color="#2b0b3a"/><stop offset="0.608" stop-color="#2a5874"/><stop offset="0.627" stop-color="#218d8b"/><stop offset="0.691" stop-color="#329a86"/><stop offset="0.751" stop-color="#218d8b"/><stop offset="0.780" stop-color="#2d3e65"/><stop offset="0.813" stop-color="#2b0534"/><stop offset="0.875" stop-color="#2b0939"/><stop offset="0.904" stop-color="#2e2e59"/><stop offset="0.999" stop-color="#2e315c"/></linearGradient><linearGradient id="c75" x2="0" y2="1"><stop offset="0.001" stop-color="#f8f8f6"/><stop offset="0.023" stop-color="#f8f8f3"/><stop offset="0.039" stop-color="#f8f1b9"/><stop offset="0.044" stop-color="#f8ed9b"/><stop offset="0.053" stop-color="#f8e630"/><stop offset="0.055" stop-color="#f0e228"/><stop offset="0.071" stop-color="#92c369"/><stop offset="0.085" stop-color="#389e84"/><stop offset="0.093" stop-color="#20888b"/><stop offset="0.096" stop-color="#2d2452"/><stop offset="0.098" stop-color="#2b0534"/><stop offset="0.136" stop-color="#2b0b3a"/><stop offset="0.152" stop-color="#2d4469"/><stop offset="0.160" stop-color="#2e355e"/><stop offset="0.171" stop-color="#2b0736"/><stop offset="0.190" stop-color="#2b0d3d"/><stop offset="0.220" stop-color="#2b0534"/><stop offset="0.241" stop-color="#2b0a39"/><stop offset="0.255" stop-color="#2d1f4e"/><stop offset="0.274" stop-color="#2b0b3b"/><stop offset="0.290" stop-color="#2d1f4e"/><stop offset="0.306" stop-color="#2b0534"/><stop offset="0.430" stop-color="#2b0837"/><stop offset="0.451" stop-color="#2d204e"/><stop offset="0.478" stop-color="#2b0534"/><stop offset="0.570" stop-color="#2b0939"/><stop offset="0.611" stop-color="#2a5874"/><stop offset="0.629" stop-color="#208c8c"/><stop offset="0.702" stop-color="#2e9787"/><stop offset="0.751" stop-color="#20888b"/><stop offset="0.778" stop-color="#2d3f66"/><stop offset="0.813" stop-color="#2b0534"/><stop offset="0.883" stop-color="#2b0a39"/><stop offset="0.918" stop-color="#2e2d59"/><stop offset="0.999" stop-color="#2e2f5a"/></linearGradient><linearGradient id="c76" x2="0" y2="1"><stop offset="0.001" stop-color="#f8f8f6"/><stop offset="0.026" stop-color="#f8f7f2"/><stop offset="0.042" stop-color="#f8efaf"/><stop offset="0.047" stop-color="#f8eb81"/><stop offset="0.053" stop-color="#f8e636"/><stop offset="0.055" stop-color="#f2e326"/><stop offset="0.071" stop-color="#94c468"/><stop offset="0.085" stop-color="#389e84"/><stop offset="0.093" stop-color="#1f898b"/><stop offset="0.096" stop-color="#2d2452"/><stop offset="0.098" stop-color="#2b0534"/><stop offset="0.136" stop-color="#2b0938"/><stop offset="0.150" stop-color="#2d4167"/><stop offset="0.158" stop-color="#2d3d64"/><stop offset="0.171" stop-color="#2b0635"/><stop offset="0.190" stop-color="#2b0c3c"/><stop offset="0.239" stop-color="#2b0534"/><stop offset="0.255" stop-color="#2c1849"/><stop offset="0.274" stop-color="#2b0b3b"/><stop offset="0.290" stop-color="#2d1f4e"/><stop offset="0.306" stop-color="#2b0534"/><stop offset="0.433" stop-color="#2b0a39"/><stop offset="0.454" stop-color="#2c1a4a"/><stop offset="0.478" stop-color="#2b0534"/><stop offset="0.570" stop-color="#2b0838"/><stop offset="0.613" stop-color="#295c76"/><stop offset="0.632" stop-color="#208c8c"/><stop offset="0.713" stop-color="#2b9488"/><stop offset="0.748" stop-color="#20888b"/><stop offset="0.775" stop-color="#2d4268"/><stop offset="0.813" stop-color="#2b0534"/><stop offset="0.896" stop-color="#2b0c3b"/><stop offset="0.929" stop-color="#2e2a57"/><stop offset="0.999" stop-color="#2e2c58"/></linearGradient><linearGradient id="c77" x2="0" y2="1"><stop offset="0.001" stop-color="#f8f8f6"/><stop offset="0.026" stop-color="#f8f7f2"/><stop offset="0.042" stop-color="#f8efaf"/><stop offset="0.047" stop-color="#f8eb81"/><stop offset="0.053" stop-color="#f8e636"/><stop offset="0.055" stop-color="#f2e326"/><stop offset="0.071" stop-color="#94c468"/><stop offset="0.085" stop-color="#389e84"/><stop offset="0.093" stop-color="#1f898b"/><stop offset="0.096" stop-color="#2d2452"/><stop offset="0.098" stop-color="#2b0534"/><stop offset="0.136" stop-color="#2b0938"/><stop offset="0.150" stop-color="#2d4167"/><stop offset="0.158" stop-color="#2d3d64"/><stop offset="0.171" stop-color="#2b0635"/><stop offset="0.190" stop-color="#2b0c3c"/><stop offset="0.239" stop-color="#2b0534"/><stop offset="0.255" stop-color="#2c1849"/><stop offset="0.274" stop-color="#2b0b3b"/><stop offset="0.290" stop-color="#2d1f4e"/><stop offset="0.306" stop-color="#2b0534"/><stop offset="0.433" stop-color="#2b0a39"/><stop offset="0.454" stop-color="#2c1a4a"/><stop offset="0.478" stop-color="#2b0534"/><stop offset="0.570" stop-color="#2b0838"/><stop offset="0.613" stop-color="#295c76"/><stop offset="0.632" stop-color="#208c8c"/><stop offset="0.713" stop-color="#2b9488"/><stop offset="0.748" stop-color="#20888b"/><stop offset="0.775" stop-color="#2d4268"/><stop offset="0.813" stop-color="#2b0534"/><stop offset="0.896" stop-color="#2b0c3b"/><stop offset="0.929" stop-color="#2e2a57"/><stop offset="0.999" stop-color="#2e2c58"/></linearGradient><linearGradient id="c78" x2="0" y2="1"><stop offset="0.001" stop-color="#f8f8f6"/><stop offset="0.026" stop-color="#f8f7f2"/><stop offset="0.042" stop-color="#f8efaf"/><stop offset="0.047" stop-color="#f8eb81"/><stop offset="0.053" stop-color="#f8e636"/><stop offset="0.055" stop-color="#f2e326"/><stop offset="0.071" stop-color="#94c468"/><stop offset="0.085" stop-color="#389e84"/><stop offset="0.093" stop-color="#1f898b"/><stop offset="0.096" stop-color="#2d2452"/><stop offset="0.098" stop-color="#2b0534"/><stop offset="0.136" stop-color="#2b0938"/><stop offset="0.150" stop-color="#2d4167"/><stop offset="0.158" stop-color="#2d3d64"/><stop offset="0.171" stop-color="#2b0635"/><stop offset="0.190" stop-color="#2b0c3c"/><stop offset="0.239" stop-color="#2b0534"/><stop offset="0.255" stop-color="#2c1849"/><stop offset="0.274" stop-color="#2b0b3b"/><stop offset="0.290" stop-color="#2d1f4e"/><stop offset="0.306" stop-color="#2b0534"/><stop offset="0.433" stop-color="#2b0a39"/><stop offset="0.454" stop-color="#2c1a4a"/><stop offset="0.478" stop-color="#2b0534"/><stop offset="0.570" stop-color="#2b0838"/><stop offset="0.613" stop-color="#295c76"/><stop offset="0.632" stop-color="#208c8c"/><stop offset="0.713" stop-color="#2b9488"/><stop offset="0.748" stop-color="#20888b"/><stop offset="0.775" stop-color="#2d4268"/><stop offset="0.813" stop-color="#2b0534"/><stop offset="0.896" stop-color="#2b0c3b"/><stop offset="0.929" stop-color="#2e2a57"/><stop offset="0.999" stop-color="#2e2c58"/></linearGradient>
<clipPath id="clipc"><rect x="597.5" y="136.5" width="371" height="371"/></clipPath>
<filter id="hbc" x="-5%" y="-5%" width="110%" height="110%" color-interpolation-filters="sRGB"><feGaussianBlur stdDeviation="2.2 0.01"/></filter>
<linearGradient id="cbc" x1="0" y1="0" x2="1" y2="0"><stop offset="0.000" stop-color="#2b0534"/><stop offset="0.050" stop-color="#2c0f3f"/><stop offset="0.100" stop-color="#2e2c58"/><stop offset="0.150" stop-color="#2d4268"/><stop offset="0.200" stop-color="#27667b"/><stop offset="0.250" stop-color="#228d8b"/><stop offset="0.300" stop-color="#309887"/><stop offset="0.350" stop-color="#41a282"/><stop offset="0.400" stop-color="#58ac7d"/><stop offset="0.450" stop-color="#71b676"/><stop offset="0.500" stop-color="#8dc16b"/><stop offset="0.550" stop-color="#a6cc5f"/><stop offset="0.600" stop-color="#bcd551"/><stop offset="0.650" stop-color="#d0da42"/><stop offset="0.700" stop-color="#e4df31"/><stop offset="0.750" stop-color="#f8e521"/><stop offset="0.800" stop-color="#f8e95e"/><stop offset="0.850" stop-color="#f8ed9a"/><stop offset="0.900" stop-color="#f8f1b9"/><stop offset="0.950" stop-color="#f8f4d7"/><stop offset="1.000" stop-color="#f8f8f6"/></linearGradient></defs>
<path d="M91.3,26 L91.3,106.9 L464.6,106.9 L464.6,97.5" stroke="#231f20" stroke-width="2" fill="none"/><path d="M86.1,27.5 L91.3,13.5 L96.5,27.5 L91.3,24.5 Z" fill="#231f20"/><path d="M91.3,65.8 L98.3,65.8" stroke="#231f20" stroke-width="2"/><path d="M91.3,41.5 L103.7,41.5 L104.3,91.3 L120.2,91.3 L120.8,41.5 L136.8,41.5 L137.4,91.3 L153.3,91.3 L153.9,41.5 L170.0,41.5 L170.6,91.3 L186.5,91.3 L187.1,41.5 L203.1,41.5 L203.7,91.3 L219.6,91.3 L220.2,41.5 L236.3,41.5 L236.9,91.3 L252.8,91.3 L253.4,41.5 L269.4,41.5 L270.1,91.3 L277.0,91.3 L277.3,41.5" fill="none" stroke="#1a1a1a" stroke-width="2.2" stroke-linejoin="miter"/><path d="M277.0,41.5 L285.0,41.5 L285.6,91.3 L301.0,91.3 L301.6,41.5 L318.0,41.5 L318.6,91.3 L334.1,91.3 L334.8,41.5 L351.1,41.5 L351.8,91.3 L367.3,91.3 L367.9,41.5 L384.3,41.5 L384.9,91.3 L400.4,91.3 L401.1,41.5 L417.4,41.5 L418.1,91.3 L433.6,91.3 L434.2,41.5 L450.6,41.5 L451.2,91.3 L463.0,91.3" fill="none" stroke="#c1272d" stroke-width="2.2" />
<path d="M596.9,26 L596.9,104.4 L970.2,104.4 L970.2,97.5" stroke="#231f20" stroke-width="2" fill="none"/><path d="M591.6999999999999,27.5 L596.9,13.5 L602.1,27.5 L596.9,24.5 Z" fill="#231f20"/><path d="M596.9,65.8 L603.9,65.8" stroke="#231f20" stroke-width="2"/><path d="M596.9,41.5 L609.3,41.5 L609.9,91.3 L625.8,91.3 L626.4,41.5 L642.5,41.5 L643.1,91.3 L659.0,91.3 L659.6,41.5 L675.6,41.5 L676.2,91.3 L692.1,91.3 L692.7,41.5 L708.8,41.5 L709.4,91.3 L725.2,91.3 L725.9,41.5 L741.9,41.5 L742.5,91.3 L758.4,91.3 L759.0,41.5 L775.1,41.5 L775.7,91.3 L782.6,91.3 L782.9,77.0" fill="none" stroke="#1a1a1a" stroke-width="2.2" /><path d="M782.6,77.0 L790.0,77.0 L790.6,56.5 L806.2,56.5 L806.8,77.0 L823.0,77.0 L823.6,56.5 L839.4,56.5 L840.0,77.0 L856.1,77.0 L856.8,56.5 L872.5,56.5 L873.1,77.0 L889.3,77.0 L889.9,56.5 L905.7,56.5 L906.3,77.0 L922.5,77.0 L923.1,56.5 L938.8,56.5 L939.4,77.0 L955.6,77.0 L956.2,56.5 L968.2,56.5" fill="none" stroke="#a3a3a3" stroke-width="2.0" />
<g transform="translate(141.5,9.8) scale(0.870,0.960)" fill="none" stroke="#1a1a1a" stroke-linecap="round"><path d="M0.3,2.2 C1.3,0 4.6,-0.4 6.1,2.6 C7.1,4.8 7.3,8 7.1,10.6 C6.6,14 4.8,17.8 2.7,20.2" stroke-width="2.3"/><path d="M14.7,1.1 L7.1,10.6" stroke-width="2.0"/></g><text x="162.3" y="24.0" font-size="28" style="font-family:'Liberation Sans',sans-serif">= -7 Hz</text>
<g transform="translate(320.0,9.9) scale(0.870,0.960)" fill="none" stroke="#1a1a1a" stroke-linecap="round"><path d="M0.3,2.2 C1.3,0 4.6,-0.4 6.1,2.6 C7.1,4.8 7.3,8 7.1,10.6 C6.6,14 4.8,17.8 2.7,20.2" stroke-width="2.3"/><path d="M14.7,1.1 L7.1,10.6" stroke-width="2.0"/></g><text x="340.8" y="24.1" font-size="28" style="font-family:'Liberation Sans',sans-serif">= 7 Hz</text>
<g transform="translate(638.5,6.8) scale(0.870,0.960)" fill="none" stroke="#1a1a1a" stroke-linecap="round"><path d="M0.3,2.2 C1.3,0 4.6,-0.4 6.1,2.6 C7.1,4.8 7.3,8 7.1,10.6 C6.6,14 4.8,17.8 2.7,20.2" stroke-width="2.3"/><path d="M14.7,1.1 L7.1,10.6" stroke-width="2.0"/></g><text x="659.3" y="21.0" font-size="28" style="font-family:'Liberation Sans',sans-serif">= -7 Hz</text>
<g transform="translate(817.2,20.6) scale(0.870,0.960)" fill="none" stroke="#1a1a1a" stroke-linecap="round"><path d="M0.3,2.2 C1.3,0 4.6,-0.4 6.1,2.6 C7.1,4.8 7.3,8 7.1,10.6 C6.6,14 4.8,17.8 2.7,20.2" stroke-width="2.3"/><path d="M14.7,1.1 L7.1,10.6" stroke-width="2.0"/></g><text x="838.0" y="34.8" font-size="28" style="font-family:'Liberation Sans',sans-serif">= -3 Hz</text>
<g transform="translate(57.8,6.0) scale(1.000,1.000)" fill="none" stroke="#1a1a1a" stroke-linecap="round"><path d="M0.3,2.2 C1.3,0 4.6,-0.4 6.1,2.6 C7.1,4.8 7.3,8 7.1,10.6 C6.6,14 4.8,17.8 2.7,20.2" stroke-width="2.4"/><path d="M14.7,1.1 L7.1,10.6" stroke-width="2.1"/></g>
<text x="72.2" y="30.8" font-size="19" font-family="Liberation Serif">d</text>
<text transform="translate(83.6,77.3) scale(0.92,1)" font-size="30" text-anchor="end" style="font-family:'Liberation Sans',sans-serif">0</text>
<g transform="translate(563.4,6.0) scale(1.000,1.000)" fill="none" stroke="#1a1a1a" stroke-linecap="round"><path d="M0.3,2.2 C1.3,0 4.6,-0.4 6.1,2.6 C7.1,4.8 7.3,8 7.1,10.6 C6.6,14 4.8,17.8 2.7,20.2" stroke-width="2.4"/><path d="M14.7,1.1 L7.1,10.6" stroke-width="2.1"/></g>
<text x="577.8" y="30.8" font-size="19" font-family="Liberation Serif">d</text>
<text transform="translate(589.2,77.3) scale(0.92,1)" font-size="30" text-anchor="end" style="font-family:'Liberation Sans',sans-serif">0</text>
<text x="4" y="26.5" font-size="36" font-weight="bold" style="font-family:'Liberation Sans',sans-serif">a</text>
<text x="509" y="26.5" font-size="36" font-weight="bold" style="font-family:'Liberation Sans',sans-serif">c</text>
<text x="4" y="615" font-size="36" font-weight="bold" style="font-family:'Liberation Sans',sans-serif">b</text>
<text x="508.5" y="615" font-size="36" font-weight="bold" style="font-family:'Liberation Sans',sans-serif">d</text>
<g clip-path="url(#clipa)"><g filter="url(#hba)"><rect x="81" y="134.5" width="393" height="375" fill="#2b0534"/><rect x="101" y="136.5" width="6" height="371" fill="url(#a4)"/><rect x="106" y="136.5" width="6" height="371" fill="url(#a5)"/><rect x="111" y="136.5" width="6" height="371" fill="url(#a6)"/><rect x="116" y="136.5" width="6" height="371" fill="url(#a7)"/><rect x="121" y="136.5" width="6" height="371" fill="url(#a8)"/><rect x="126" y="136.5" width="6" height="371" fill="url(#a9)"/><rect x="131" y="136.5" width="6" height="371" fill="url(#a10)"/><rect x="136" y="136.5" width="6" height="371" fill="url(#a11)"/><rect x="141" y="136.5" width="6" height="371" fill="url(#a12)"/><rect x="146" y="136.5" width="6" height="371" fill="url(#a13)"/><rect x="151" y="136.5" width="6" height="371" fill="url(#a14)"/><rect x="156" y="136.5" width="6" height="371" fill="url(#a15)"/><rect x="161" y="136.5" width="6" height="371" fill="url(#a16)"/><rect x="166" y="136.5" width="6" height="371" fill="url(#a17)"/><rect x="171" y="136.5" width="6" height="371" fill="url(#a18)"/><rect x="176" y="136.5" width="6" height="371" fill="url(#a19)"/><rect x="181" y="136.5" width="6" height="371" fill="url(#a20)"/><rect x="186" y="136.5" width="6" height="371" fill="url(#a21)"/><rect x="191" y="136.5" width="6" height="371" fill="url(#a22)"/><rect x="196" y="136.5" width="6" height="371" fill="url(#a23)"/><rect x="201" y="136.5" width="6" height="371" fill="url(#a24)"/><rect x="206" y="136.5" width="6" height="371" fill="url(#a25)"/><rect x="211" y="136.5" width="6" height="371" fill="url(#a26)"/><rect x="216" y="136.5" width="6" height="371" fill="url(#a27)"/><rect x="221" y="136.5" width="6" height="371" fill="url(#a28)"/><rect x="226" y="136.5" width="6" height="371" fill="url(#a29)"/><rect x="231" y="136.5" width="6" height="371" fill="url(#a30)"/><rect x="236" y="136.5" width="6" height="371" fill="url(#a31)"/><rect x="241" y="136.5" width="6" height="371" fill="url(#a32)"/><rect x="246" y="136.5" width="6" height="371" fill="url(#a33)"/><rect x="251" y="136.5" width="6" height="371" fill="url(#a34)"/><rect x="256" y="136.5" width="6" height="371" fill="url(#a35)"/><rect x="261" y="136.5" width="6" height="371" fill="url(#a36)"/><rect x="266" y="136.5" width="6" height="371" fill="url(#a37)"/><rect x="271" y="136.5" width="6" height="371" fill="url(#a38)"/><rect x="276" y="136.5" width="6" height="371" fill="url(#a39)"/><rect x="281" y="136.5" width="6" height="371" fill="url(#a40)"/><rect x="286" y="136.5" width="6" height="371" fill="url(#a41)"/><rect x="291" y="136.5" width="6" height="371" fill="url(#a42)"/><rect x="296" y="136.5" width="6" height="371" fill="url(#a43)"/><rect x="301" y="136.5" width="6" height="371" fill="url(#a44)"/><rect x="306" y="136.5" width="6" height="371" fill="url(#a45)"/><rect x="311" y="136.5" width="6" height="371" fill="url(#a46)"/><rect x="316" y="136.5" width="6" height="371" fill="url(#a47)"/><rect x="321" y="136.5" width="6" height="371" fill="url(#a48)"/><rect x="326" y="136.5" width="6" height="371" fill="url(#a49)"/><rect x="331" y="136.5" width="6" height="371" fill="url(#a50)"/><rect x="336" y="136.5" width="6" height="371" fill="url(#a51)"/><rect x="341" y="136.5" width="6" height="371" fill="url(#a52)"/><rect x="346" y="136.5" width="6" height="371" fill="url(#a53)"/><rect x="351" y="136.5" width="6" height="371" fill="url(#a54)"/><rect x="356" y="136.5" width="6" height="371" fill="url(#a55)"/><rect x="361" y="136.5" width="6" height="371" fill="url(#a56)"/><rect x="366" y="136.5" width="6" height="371" fill="url(#a57)"/><rect x="371" y="136.5" width="6" height="371" fill="url(#a58)"/><rect x="376" y="136.5" width="6" height="371" fill="url(#a59)"/><rect x="381" y="136.5" width="6" height="371" fill="url(#a60)"/><rect x="386" y="136.5" width="6" height="371" fill="url(#a61)"/><rect x="391" y="136.5" width="6" height="371" fill="url(#a62)"/><rect x="396" y="136.5" width="6" height="371" fill="url(#a63)"/><rect x="401" y="136.5" width="6" height="371" fill="url(#a64)"/><rect x="406" y="136.5" width="6" height="371" fill="url(#a65)"/><rect x="411" y="136.5" width="6" height="371" fill="url(#a66)"/><rect x="416" y="136.5" width="6" height="371" fill="url(#a67)"/><rect x="421" y="136.5" width="6" height="371" fill="url(#a68)"/><rect x="426" y="136.5" width="6" height="371" fill="url(#a69)"/><rect x="431" y="136.5" width="6" height="371" fill="url(#a70)"/><rect x="436" y="136.5" width="6" height="371" fill="url(#a71)"/><rect x="441" y="136.5" width="6" height="371" fill="url(#a72)"/><rect x="446" y="136.5" width="6" height="371" fill="url(#a73)"/><rect x="451" y="136.5" width="6" height="371" fill="url(#a74)"/><rect x="456" y="136.5" width="6" height="371" fill="url(#a75)"/><rect x="461" y="136.5" width="6" height="371" fill="url(#a76)"/><rect x="466" y="136.5" width="6" height="371" fill="url(#a77)"/><rect x="471" y="136.5" width="6" height="371" fill="url(#a78)"/></g></g>
<rect x="91.2" y="136.5" width="371" height="371" fill="none" stroke="#000" stroke-width="2.2"/>
<path d="M277.6,99.4 L277.6,507.5" stroke="#8c8c8c" stroke-width="2.2" stroke-dasharray="8.2,9.2"/>
<path d="M82.7,136.5 L91.2,136.5" stroke="#000" stroke-width="2"/>
<text x="71.7" y="146.4" font-size="25" text-anchor="end" style="font-family:'Liberation Sans',sans-serif">1</text>
<path d="M82.7,321.9 L91.2,321.9" stroke="#000" stroke-width="2"/>
<text x="78.0" y="333.8" font-size="25" text-anchor="end" style="font-family:'Liberation Sans',sans-serif">0.5</text>
<path d="M82.7,507.5 L91.2,507.5" stroke="#000" stroke-width="2"/>
<text x="73.2" y="517.4" font-size="25" text-anchor="end" style="font-family:'Liberation Sans',sans-serif">0</text>
<path d="M130.3,507.5 L130.3,516.1" stroke="#000" stroke-width="2"/>
<text x="125.3" y="541.2" font-size="25" text-anchor="middle" style="font-family:'Liberation Sans',sans-serif">-40</text>
<path d="M277.2,507.5 L277.2,516.1" stroke="#000" stroke-width="2"/>
<text x="277.2" y="541.2" font-size="25" text-anchor="middle" style="font-family:'Liberation Sans',sans-serif">0</text>
<path d="M424.6,507.5 L424.6,516.1" stroke="#000" stroke-width="2"/>
<text x="424.6" y="541.2" font-size="25" text-anchor="middle" style="font-family:'Liberation Sans',sans-serif">40</text>
<text x="236.4" y="565.9" font-size="30" font-style="italic" style="font-family:'Liberation Sans',sans-serif">t</text>
<text transform="translate(254.4,565.9) scale(1.094,1)" font-size="30" style="font-family:'Liberation Sans',sans-serif">(ms)</text>
<text transform="translate(29.0,345.2) rotate(-90)" font-size="34" letter-spacing="2.2" font-family="Liberation Serif" font-style="italic">k/π</text>
<rect x="123.3" y="459.3" width="123.9" height="24.4" fill="url(#cba)" stroke="#fff" stroke-width="2.2"/>
<path d="M123.2,451.3 L123.2,459" stroke="#fff" stroke-width="1.6"/>
<g transform="translate(108.6,444) scale(0.92,1)" fill="#fff" style="font-family:'Liberation Sans',sans-serif"><text x="1.5" y="0" font-size="24">10</text><text x="30" y="-8.5" font-size="13">0</text></g>
<path d="M172.5,451.3 L172.5,459" stroke="#fff" stroke-width="1.6"/>
<g transform="translate(157.9,444) scale(0.92,1)" fill="#fff" style="font-family:'Liberation Sans',sans-serif"><text x="1.5" y="0" font-size="24">10</text><text x="30" y="-8.5" font-size="13">2</text></g>
<path d="M222.0,451.3 L222.0,459" stroke="#fff" stroke-width="1.6"/>
<g transform="translate(207.4,444) scale(0.92,1)" fill="#fff" style="font-family:'Liberation Sans',sans-serif"><text x="1.5" y="0" font-size="24">10</text><text x="30" y="-8.5" font-size="13">4</text></g>
<path d="M464.2,137.7 L479.7,131.3 L477.2,135 L491.7,135 L491.7,141 L477.2,141 L479.7,144.8 Z" fill="#2e86c8"/>
<path d="M463.2,391 L478.7,384.2 L476.2,388.3 L490.7,388.3 L490.7,393.7 L476.2,393.7 L478.7,397.3 Z" fill="#f06a35"/>
<g clip-path="url(#clipc)"><g filter="url(#hbc)"><rect x="587" y="134.5" width="393" height="375" fill="#2b0534"/><rect x="607" y="136.5" width="6" height="371" fill="url(#c4)"/><rect x="612" y="136.5" width="6" height="371" fill="url(#c5)"/><rect x="617" y="136.5" width="6" height="371" fill="url(#c6)"/><rect x="622" y="136.5" width="6" height="371" fill="url(#c7)"/><rect x="627" y="136.5" width="6" height="371" fill="url(#c8)"/><rect x="632" y="136.5" width="6" height="371" fill="url(#c9)"/><rect x="637" y="136.5" width="6" height="371" fill="url(#c10)"/><rect x="642" y="136.5" width="6" height="371" fill="url(#c11)"/><rect x="647" y="136.5" width="6" height="371" fill="url(#c12)"/><rect x="652" y="136.5" width="6" height="371" fill="url(#c13)"/><rect x="657" y="136.5" width="6" height="371" fill="url(#c14)"/><rect x="662" y="136.5" width="6" height="371" fill="url(#c15)"/><rect x="667" y="136.5" width="6" height="371" fill="url(#c16)"/><rect x="672" y="136.5" width="6" height="371" fill="url(#c17)"/><rect x="677" y="136.5" width="6" height="371" fill="url(#c18)"/><rect x="682" y="136.5" width="6" height="371" fill="url(#c19)"/><rect x="687" y="136.5" width="6" height="371" fill="url(#c20)"/><rect x="692" y="136.5" width="6" height="371" fill="url(#c21)"/><rect x="697" y="136.5" width="6" height="371" fill="url(#c22)"/><rect x="702" y="136.5" width="6" height="371" fill="url(#c23)"/><rect x="707" y="136.5" width="6" height="371" fill="url(#c24)"/><rect x="712" y="136.5" width="6" height="371" fill="url(#c25)"/><rect x="717" y="136.5" width="6" height="371" fill="url(#c26)"/><rect x="722" y="136.5" width="6" height="371" fill="url(#c27)"/><rect x="727" y="136.5" width="6" height="371" fill="url(#c28)"/><rect x="732" y="136.5" width="6" height="371" fill="url(#c29)"/><rect x="737" y="136.5" width="6" height="371" fill="url(#c30)"/><rect x="742" y="136.5" width="6" height="371" fill="url(#c31)"/><rect x="747" y="136.5" width="6" height="371" fill="url(#c32)"/><rect x="752" y="136.5" width="6" height="371" fill="url(#c33)"/><rect x="757" y="136.5" width="6" height="371" fill="url(#c34)"/><rect x="762" y="136.5" width="6" height="371" fill="url(#c35)"/><rect x="767" y="136.5" width="6" height="371" fill="url(#c36)"/><rect x="772" y="136.5" width="6" height="371" fill="url(#c37)"/><rect x="777" y="136.5" width="6" height="371" fill="url(#c38)"/><rect x="782" y="136.5" width="6" height="371" fill="url(#c39)"/><rect x="787" y="136.5" width="6" height="371" fill="url(#c40)"/><rect x="792" y="136.5" width="6" height="371" fill="url(#c41)"/><rect x="797" y="136.5" width="6" height="371" fill="url(#c42)"/><rect x="802" y="136.5" width="6" height="371" fill="url(#c43)"/><rect x="807" y="136.5" width="6" height="371" fill="url(#c44)"/><rect x="812" y="136.5" width="6" height="371" fill="url(#c45)"/><rect x="817" y="136.5" width="6" height="371" fill="url(#c46)"/><rect x="822" y="136.5" width="6" height="371" fill="url(#c47)"/><rect x="827" y="136.5" width="6" height="371" fill="url(#c48)"/><rect x="832" y="136.5" width="6" height="371" fill="url(#c49)"/><rect x="837" y="136.5" width="6" height="371" fill="url(#c50)"/><rect x="842" y="136.5" width="6" height="371" fill="url(#c51)"/><rect x="847" y="136.5" width="6" height="371" fill="url(#c52)"/><rect x="852" y="136.5" width="6" height="371" fill="url(#c53)"/><rect x="857" y="136.5" width="6" height="371" fill="url(#c54)"/><rect x="862" y="136.5" width="6" height="371" fill="url(#c55)"/><rect x="867" y="136.5" width="6" height="371" fill="url(#c56)"/><rect x="872" y="136.5" width="6" height="371" fill="url(#c57)"/><rect x="877" y="136.5" width="6" height="371" fill="url(#c58)"/><rect x="882" y="136.5" width="6" height="371" fill="url(#c59)"/><rect x="887" y="136.5" width="6" height="371" fill="url(#c60)"/><rect x="892" y="136.5" width="6" height="371" fill="url(#c61)"/><rect x="897" y="136.5" width="6" height="371" fill="url(#c62)"/><rect x="902" y="136.5" width="6" height="371" fill="url(#c63)"/><rect x="907" y="136.5" width="6" height="371" fill="url(#c64)"/><rect x="912" y="136.5" width="6" height="371" fill="url(#c65)"/><rect x="917" y="136.5" width="6" height="371" fill="url(#c66)"/><rect x="922" y="136.5" width="6" height="371" fill="url(#c67)"/><rect x="927" y="136.5" width="6" height="371" fill="url(#c68)"/><rect x="932" y="136.5" width="6" height="371" fill="url(#c69)"/><rect x="937" y="136.5" width="6" height="371" fill="url(#c70)"/><rect x="942" y="136.5" width="6" height="371" fill="url(#c71)"/><rect x="947" y="136.5" width="6" height="371" fill="url(#c72)"/><rect x="952" y="136.5" width="6" height="371" fill="url(#c73)"/><rect x="957" y="136.5" width="6" height="371" fill="url(#c74)"/><rect x="962" y="136.5" width="6" height="371" fill="url(#c75)"/><rect x="967" y="136.5" width="6" height="371" fill="url(#c76)"/><rect x="972" y="136.5" width="6" height="371" fill="url(#c77)"/><rect x="977" y="136.5" width="6" height="371" fill="url(#c78)"/></g></g>
<rect x="597.5" y="136.5" width="371" height="371" fill="none" stroke="#000" stroke-width="2.2"/>
<path d="M783.9,97.4 L783.9,507.5" stroke="#8c8c8c" stroke-width="2.2" stroke-dasharray="8.2,9.2"/>
<path d="M589.0,136.5 L597.5,136.5" stroke="#000" stroke-width="2"/>
<text x="578.0" y="146.4" font-size="25" text-anchor="end" style="font-family:'Liberation Sans',sans-serif">1</text>
<path d="M589.0,321.9 L597.5,321.9" stroke="#000" stroke-width="2"/>
<text x="584.3" y="333.8" font-size="25" text-anchor="end" style="font-family:'Liberation Sans',sans-serif">0.5</text>
<path d="M589.0,507.5 L597.5,507.5" stroke="#000" stroke-width="2"/>
<text x="579.5" y="517.4" font-size="25" text-anchor="end" style="font-family:'Liberation Sans',sans-serif">0</text>
<path d="M636.6,507.5 L636.6,516.1" stroke="#000" stroke-width="2"/>
<text x="631.6" y="541.2" font-size="25" text-anchor="middle" style="font-family:'Liberation Sans',sans-serif">-40</text>
<path d="M783.5,507.5 L783.5,516.1" stroke="#000" stroke-width="2"/>
<text x="783.5" y="541.2" font-size="25" text-anchor="middle" style="font-family:'Liberation Sans',sans-serif">0</text>
<path d="M930.9,507.5 L930.9,516.1" stroke="#000" stroke-width="2"/>
<text x="930.9" y="541.2" font-size="25" text-anchor="middle" style="font-family:'Liberation Sans',sans-serif">40</text>
<text x="742.7" y="565.9" font-size="30" font-style="italic" style="font-family:'Liberation Sans',sans-serif">t</text>
<text transform="translate(760.7,565.9) scale(1.094,1)" font-size="30" style="font-family:'Liberation Sans',sans-serif">(ms)</text>
<text transform="translate(535.3,345.2) rotate(-90)" font-size="34" letter-spacing="2.2" font-family="Liberation Serif" font-style="italic">k/π</text>
<rect x="629.6" y="459.3" width="123.9" height="24.4" fill="url(#cbc)" stroke="#fff" stroke-width="2.2"/>
<path d="M629.5,451.3 L629.5,459" stroke="#fff" stroke-width="1.6"/>
<g transform="translate(614.9,444) scale(0.92,1)" fill="#fff" style="font-family:'Liberation Sans',sans-serif"><text x="1.5" y="0" font-size="24">10</text><text x="30" y="-8.5" font-size="13">0</text></g>
<path d="M678.8,451.3 L678.8,459" stroke="#fff" stroke-width="1.6"/>
<g transform="translate(664.2,444) scale(0.92,1)" fill="#fff" style="font-family:'Liberation Sans',sans-serif"><text x="1.5" y="0" font-size="24">10</text><text x="30" y="-8.5" font-size="13">2</text></g>
<path d="M728.3,451.3 L728.3,459" stroke="#fff" stroke-width="1.6"/>
<g transform="translate(713.7,444) scale(0.92,1)" fill="#fff" style="font-family:'Liberation Sans',sans-serif"><text x="1.5" y="0" font-size="24">10</text><text x="30" y="-8.5" font-size="13">4</text></g>
<path d="M970.5,137.7 L986.0,131.3 L983.5,135 L998.0,135 L998.0,141 L983.5,141 L986.0,144.8 Z" fill="#2e86c8"/>
<path d="M969.5,391 L985.0,384.2 L982.5,388.3 L997.0,388.3 L997.0,393.7 L982.5,393.7 L985.0,397.3 Z" fill="#f06a35"/>
<clipPath id="clipm0"><rect x="81.1" y="599.0" width="397.20000000000005" height="445.0"/></clipPath><g clip-path="url(#clipm0)"><path d="M93.1,1030.0 C94.3,1030.2 96.4,1034.3 100.4,1031.0 C104.4,1027.7 111.3,1012.8 117.1,1010.0 C122.8,1007.2 129.2,1016.8 134.9,1014.0 C140.7,1011.2 146.0,996.0 151.6,993.0 C157.2,990.0 162.7,998.8 168.3,996.0 C173.9,993.2 179.4,978.8 185.0,976.0 C190.6,973.2 196.1,981.8 201.7,979.0 C207.3,976.2 212.8,961.8 218.4,959.0 C224.0,956.2 229.5,964.8 235.1,962.0 C240.7,959.2 246.0,944.8 251.8,942.0 C257.6,939.2 265.2,946.0 269.9,945.0 C274.6,944.0 276.7,938.6 280.0,936.2 C283.3,933.8 285.4,929.2 289.5,930.5 C293.6,931.8 299.7,941.7 304.8,943.8 C309.9,945.9 314.9,940.4 320.0,942.9 C325.1,945.4 330.1,956.6 335.2,959.0 C340.3,961.4 345.1,955.2 350.5,957.1 C355.9,959.0 362.2,968.6 367.6,970.5 C373.0,972.4 377.8,968.6 382.9,968.6 C388.0,968.6 392.9,970.8 398.0,970.5 C403.1,970.2 408.8,965.8 413.3,966.7 C417.8,967.6 420.0,976.0 424.8,976.0 C429.6,976.0 435.6,969.5 442.0,966.7 C448.4,963.9 458.9,960.0 462.9,959.0 C466.9,958.0 465.5,960.7 466.0,961.0" fill="none" stroke="#f4aa8f" stroke-width="11" stroke-linecap="round" stroke-linejoin="round" opacity="0.6"/><path d="M367.6,970.5 C370.2,970.2 377.8,968.6 382.9,968.6 C388.0,968.6 392.9,970.8 398.0,970.5 C403.1,970.2 408.8,965.8 413.3,966.7 C417.8,967.6 420.0,976.0 424.8,976.0 C429.6,976.0 435.6,969.5 442.0,966.7 C448.4,963.9 458.9,960.0 462.9,959.0 C466.9,958.0 465.5,960.7 466.0,961.0" fill="none" stroke="#f4aa8f" stroke-width="17" stroke-linecap="round" stroke-linejoin="round" opacity="0.5"/><path d="M86.3,1030.1a6.6,6.6 0 1,0 13.2,0a6.6,6.6 0 1,0 -13.2,0M87.6,1031.0a6.6,6.6 0 1,0 13.2,0a6.6,6.6 0 1,0 -13.2,0M89.0,1031.0a6.6,6.6 0 1,0 13.2,0a6.6,6.6 0 1,0 -13.2,0M89.9,1032.8a6.6,6.6 0 1,0 13.2,0a6.6,6.6 0 1,0 -13.2,0M91.6,1031.7a6.6,6.6 0 1,0 13.2,0a6.6,6.6 0 1,0 -13.2,0M93.6,1031.4a6.6,6.6 0 1,0 13.2,0a6.6,6.6 0 1,0 -13.2,0M94.6,1030.5a6.6,6.6 0 1,0 13.2,0a6.6,6.6 0 1,0 -13.2,0M95.4,1028.8a6.6,6.6 0 1,0 13.2,0a6.6,6.6 0 1,0 -13.2,0M96.3,1028.8a6.6,6.6 0 1,0 13.2,0a6.6,6.6 0 1,0 -13.2,0M97.1,1027.4a6.6,6.6 0 1,0 13.2,0a6.6,6.6 0 1,0 -13.2,0M98.1,1025.1a6.6,6.6 0 1,0 13.2,0a6.6,6.6 0 1,0 -13.2,0M99.0,1024.6a6.6,6.6 0 1,0 13.2,0a6.6,6.6 0 1,0 -13.2,0M99.4,1022.5a6.6,6.6 0 1,0 13.2,0a6.6,6.6 0 1,0 -13.2,0M100.7,1021.9a6.6,6.6 0 1,0 13.2,0a6.6,6.6 0 1,0 -13.2,0M101.4,1021.3a6.6,6.6 0 1,0 13.2,0a6.6,6.6 0 1,0 -13.2,0M102.2,1020.2a6.6,6.6 0 1,0 13.2,0a6.6,6.6 0 1,0 -13.2,0M102.8,1018.7a6.6,6.6 0 1,0 13.2,0a6.6,6.6 0 1,0 -13.2,0M103.7,1017.7a6.6,6.6 0 1,0 13.2,0a6.6,6.6 0 1,0 -13.2,0M104.9,1015.2a6.6,6.6 0 1,0 13.2,0a6.6,6.6 0 1,0 -13.2,0M105.3,1014.2a6.6,6.6 0 1,0 13.2,0a6.6,6.6 0 1,0 -13.2,0M106.9,1013.4a6.6,6.6 0 1,0 13.2,0a6.6,6.6 0 1,0 -13.2,0M107.6,1012.0a6.6,6.6 0 1,0 13.2,0a6.6,6.6 0 1,0 -13.2,0M108.6,1011.1a6.6,6.6 0 1,0 13.2,0a6.6,6.6 0 1,0 -13.2,0M109.7,1010.6a6.6,6.6 0 1,0 13.2,0a6.6,6.6 0 1,0 -13.2,0M111.2,1010.4a6.6,6.6 0 1,0 13.2,0a6.6,6.6 0 1,0 -13.2,0M112.8,1010.2a6.6,6.6 0 1,0 13.2,0a6.6,6.6 0 1,0 -13.2,0M114.4,1010.4a6.6,6.6 0 1,0 13.2,0a6.6,6.6 0 1,0 -13.2,0M115.7,1009.5a6.6,6.6 0 1,0 13.2,0a6.6,6.6 0 1,0 -13.2,0M117.2,1011.4a6.6,6.6 0 1,0 13.2,0a6.6,6.6 0 1,0 -13.2,0M118.6,1011.5a6.6,6.6 0 1,0 13.2,0a6.6,6.6 0 1,0 -13.2,0M119.7,1011.6a6.6,6.6 0 1,0 13.2,0a6.6,6.6 0 1,0 -13.2,0M121.1,1012.9a6.6,6.6 0 1,0 13.2,0a6.6,6.6 0 1,0 -13.2,0M122.0,1012.8a6.6,6.6 0 1,0 13.2,0a6.6,6.6 0 1,0 -13.2,0M123.9,1014.8a6.6,6.6 0 1,0 13.2,0a6.6,6.6 0 1,0 -13.2,0M124.7,1014.9a6.6,6.6 0 1,0 13.2,0a6.6,6.6 0 1,0 -13.2,0M126.5,1013.9a6.6,6.6 0 1,0 13.2,0a6.6,6.6 0 1,0 -13.2,0M127.8,1014.5a6.6,6.6 0 1,0 13.2,0a6.6,6.6 0 1,0 -13.2,0M129.6,1012.7a6.6,6.6 0 1,0 13.2,0a6.6,6.6 0 1,0 -13.2,0M130.5,1011.7a6.6,6.6 0 1,0 13.2,0a6.6,6.6 0 1,0 -13.2,0M131.6,1011.1a6.6,6.6 0 1,0 13.2,0a6.6,6.6 0 1,0 -13.2,0M132.7,1010.9a6.6,6.6 0 1,0 13.2,0a6.6,6.6 0 1,0 -13.2,0M133.3,1009.7a6.6,6.6 0 1,0 13.2,0a6.6,6.6 0 1,0 -13.2,0M134.0,1007.0a6.6,6.6 0 1,0 13.2,0a6.6,6.6 0 1,0 -13.2,0M135.0,1005.7a6.6,6.6 0 1,0 13.2,0a6.6,6.6 0 1,0 -13.2,0M135.5,1005.0a6.6,6.6 0 1,0 13.2,0a6.6,6.6 0 1,0 -13.2,0M136.6,1003.3a6.6,6.6 0 1,0 13.2,0a6.6,6.6 0 1,0 -13.2,0M136.9,1003.2a6.6,6.6 0 1,0 13.2,0a6.6,6.6 0 1,0 -13.2,0M137.9,1002.1a6.6,6.6 0 1,0 13.2,0a6.6,6.6 0 1,0 -13.2,0M139.2,999.9a6.6,6.6 0 1,0 13.2,0a6.6,6.6 0 1,0 -13.2,0M139.7,998.8a6.6,6.6 0 1,0 13.2,0a6.6,6.6 0 1,0 -13.2,0M140.7,997.7a6.6,6.6 0 1,0 13.2,0a6.6,6.6 0 1,0 -13.2,0M141.5,996.6a6.6,6.6 0 1,0 13.2,0a6.6,6.6 0 1,0 -13.2,0M142.8,995.2a6.6,6.6 0 1,0 13.2,0a6.6,6.6 0 1,0 -13.2,0M143.4,994.5a6.6,6.6 0 1,0 13.2,0a6.6,6.6 0 1,0 -13.2,0M144.4,992.9a6.6,6.6 0 1,0 13.2,0a6.6,6.6 0 1,0 -13.2,0M146.4,992.6a6.6,6.6 0 1,0 13.2,0a6.6,6.6 0 1,0 -13.2,0M147.5,991.6a6.6,6.6 0 1,0 13.2,0a6.6,6.6 0 1,0 -13.2,0M148.9,992.7a6.6,6.6 0 1,0 13.2,0a6.6,6.6 0 1,0 -13.2,0M150.0,993.2a6.6,6.6 0 1,0 13.2,0a6.6,6.6 0 1,0 -13.2,0M151.9,992.9a6.6,6.6 0 1,0 13.2,0a6.6,6.6 0 1,0 -13.2,0M153.2,994.2a6.6,6.6 0 1,0 13.2,0a6.6,6.6 0 1,0 -13.2,0M154.6,994.8a6.6,6.6 0 1,0 13.2,0a6.6,6.6 0 1,0 -13.2,0M155.9,996.0a6.6,6.6 0 1,0 13.2,0a6.6,6.6 0 1,0 -13.2,0M156.8,995.5a6.6,6.6 0 1,0 13.2,0a6.6,6.6 0 1,0 -13.2,0M158.8,997.3a6.6,6.6 0 1,0 13.2,0a6.6,6.6 0 1,0 -13.2,0M159.9,996.4a6.6,6.6 0 1,0 13.2,0a6.6,6.6 0 1,0 -13.2,0M161.6,995.8a6.6,6.6 0 1,0 13.2,0a6.6,6.6 0 1,0 -13.2,0M162.7,995.0a6.6,6.6 0 1,0 13.2,0a6.6,6.6 0 1,0 -13.2,0M163.8,994.4a6.6,6.6 0 1,0 13.2,0a6.6,6.6 0 1,0 -13.2,0M164.8,993.0a6.6,6.6 0 1,0 13.2,0a6.6,6.6 0 1,0 -13.2,0M166.1,991.3a6.6,6.6 0 1,0 13.2,0a6.6,6.6 0 1,0 -13.2,0M166.9,991.2a6.6,6.6 0 1,0 13.2,0a6.6,6.6 0 1,0 -13.2,0M167.5,989.1a6.6,6.6 0 1,0 13.2,0a6.6,6.6 0 1,0 -13.2,0M168.8,987.9a6.6,6.6 0 1,0 13.2,0a6.6,6.6 0 1,0 -13.2,0M169.1,987.0a6.6,6.6 0 1,0 13.2,0a6.6,6.6 0 1,0 -13.2,0M170.3,985.2a6.6,6.6 0 1,0 13.2,0a6.6,6.6 0 1,0 -13.2,0M170.8,984.3a6.6,6.6 0 1,0 13.2,0a6.6,6.6 0 1,0 -13.2,0M172.1,983.2a6.6,6.6 0 1,0 13.2,0a6.6,6.6 0 1,0 -13.2,0M172.9,981.6a6.6,6.6 0 1,0 13.2,0a6.6,6.6 0 1,0 -13.2,0M173.4,981.1a6.6,6.6 0 1,0 13.2,0a6.6,6.6 0 1,0 -13.2,0M174.7,979.6a6.6,6.6 0 1,0 13.2,0a6.6,6.6 0 1,0 -13.2,0M175.2,977.9a6.6,6.6 0 1,0 13.2,0a6.6,6.6 0 1,0 -13.2,0M176.5,977.0a6.6,6.6 0 1,0 13.2,0a6.6,6.6 0 1,0 -13.2,0M177.8,977.0a6.6,6.6 0 1,0 13.2,0a6.6,6.6 0 1,0 -13.2,0M178.7,975.4a6.6,6.6 0 1,0 13.2,0a6.6,6.6 0 1,0 -13.2,0M180.6,975.7a6.6,6.6 0 1,0 13.2,0a6.6,6.6 0 1,0 -13.2,0M182.1,975.3a6.6,6.6 0 1,0 13.2,0a6.6,6.6 0 1,0 -13.2,0M183.0,975.6a6.6,6.6 0 1,0 13.2,0a6.6,6.6 0 1,0 -13.2,0M184.9,976.1a6.6,6.6 0 1,0 13.2,0a6.6,6.6 0 1,0 -13.2,0M185.9,977.0a6.6,6.6 0 1,0 13.2,0a6.6,6.6 0 1,0 -13.2,0M187.3,977.7a6.6,6.6 0 1,0 13.2,0a6.6,6.6 0 1,0 -13.2,0M189.1,977.9a6.6,6.6 0 1,0 13.2,0a6.6,6.6 0 1,0 -13.2,0M189.7,979.8a6.6,6.6 0 1,0 13.2,0a6.6,6.6 0 1,0 -13.2,0M191.8,980.2a6.6,6.6 0 1,0 13.2,0a6.6,6.6 0 1,0 -13.2,0M193.0,980.3a6.6,6.6 0 1,0 13.2,0a6.6,6.6 0 1,0 -13.2,0M194.8,978.8a6.6,6.6 0 1,0 13.2,0a6.6,6.6 0 1,0 -13.2,0M196.0,979.1a6.6,6.6 0 1,0 13.2,0a6.6,6.6 0 1,0 -13.2,0M197.1,977.6a6.6,6.6 0 1,0 13.2,0a6.6,6.6 0 1,0 -13.2,0M197.9,976.3a6.6,6.6 0 1,0 13.2,0a6.6,6.6 0 1,0 -13.2,0M198.8,974.7a6.6,6.6 0 1,0 13.2,0a6.6,6.6 0 1,0 -13.2,0M200.0,973.9a6.6,6.6 0 1,0 13.2,0a6.6,6.6 0 1,0 -13.2,0M201.0,972.3a6.6,6.6 0 1,0 13.2,0a6.6,6.6 0 1,0 -13.2,0M202.0,972.1a6.6,6.6 0 1,0 13.2,0a6.6,6.6 0 1,0 -13.2,0M202.8,971.1a6.6,6.6 0 1,0 13.2,0a6.6,6.6 0 1,0 -13.2,0M203.6,969.4a6.6,6.6 0 1,0 13.2,0a6.6,6.6 0 1,0 -13.2,0M203.7,968.4a6.6,6.6 0 1,0 13.2,0a6.6,6.6 0 1,0 -13.2,0M204.7,966.4a6.6,6.6 0 1,0 13.2,0a6.6,6.6 0 1,0 -13.2,0M205.9,965.5a6.6,6.6 0 1,0 13.2,0a6.6,6.6 0 1,0 -13.2,0M206.6,965.0a6.6,6.6 0 1,0 13.2,0a6.6,6.6 0 1,0 -13.2,0M207.6,962.8a6.6,6.6 0 1,0 13.2,0a6.6,6.6 0 1,0 -13.2,0M208.3,962.5a6.6,6.6 0 1,0 13.2,0a6.6,6.6 0 1,0 -13.2,0M209.5,961.2a6.6,6.6 0 1,0 13.2,0a6.6,6.6 0 1,0 -13.2,0M210.5,959.3a6.6,6.6 0 1,0 13.2,0a6.6,6.6 0 1,0 -13.2,0M211.9,959.5a6.6,6.6 0 1,0 13.2,0a6.6,6.6 0 1,0 -13.2,0M213.0,959.0a6.6,6.6 0 1,0 13.2,0a6.6,6.6 0 1,0 -13.2,0M215.1,959.0a6.6,6.6 0 1,0 13.2,0a6.6,6.6 0 1,0 -13.2,0M216.5,958.0a6.6,6.6 0 1,0 13.2,0a6.6,6.6 0 1,0 -13.2,0M217.7,959.9a6.6,6.6 0 1,0 13.2,0a6.6,6.6 0 1,0 -13.2,0M218.6,959.5a6.6,6.6 0 1,0 13.2,0a6.6,6.6 0 1,0 -13.2,0M220.2,960.6a6.6,6.6 0 1,0 13.2,0a6.6,6.6 0 1,0 -13.2,0M221.6,961.2a6.6,6.6 0 1,0 13.2,0a6.6,6.6 0 1,0 -13.2,0M223.3,961.1a6.6,6.6 0 1,0 13.2,0a6.6,6.6 0 1,0 -13.2,0M224.1,961.8a6.6,6.6 0 1,0 13.2,0a6.6,6.6 0 1,0 -13.2,0M225.7,961.9a6.6,6.6 0 1,0 13.2,0a6.6,6.6 0 1,0 -13.2,0M227.8,963.0a6.6,6.6 0 1,0 13.2,0a6.6,6.6 0 1,0 -13.2,0M228.5,961.8a6.6,6.6 0 1,0 13.2,0a6.6,6.6 0 1,0 -13.2,0M229.9,960.6a6.6,6.6 0 1,0 13.2,0a6.6,6.6 0 1,0 -13.2,0M231.0,960.1a6.6,6.6 0 1,0 13.2,0a6.6,6.6 0 1,0 -13.2,0M232.2,958.5a6.6,6.6 0 1,0 13.2,0a6.6,6.6 0 1,0 -13.2,0M232.8,957.3a6.6,6.6 0 1,0 13.2,0a6.6,6.6 0 1,0 -13.2,0M233.6,956.5a6.6,6.6 0 1,0 13.2,0a6.6,6.6 0 1,0 -13.2,0M234.9,954.9a6.6,6.6 0 1,0 13.2,0a6.6,6.6 0 1,0 -13.2,0M235.2,953.4a6.6,6.6 0 1,0 13.2,0a6.6,6.6 0 1,0 -13.2,0M236.3,952.8a6.6,6.6 0 1,0 13.2,0a6.6,6.6 0 1,0 -13.2,0M237.4,951.2a6.6,6.6 0 1,0 13.2,0a6.6,6.6 0 1,0 -13.2,0M238.2,950.3a6.6,6.6 0 1,0 13.2,0a6.6,6.6 0 1,0 -13.2,0M238.8,948.6a6.6,6.6 0 1,0 13.2,0a6.6,6.6 0 1,0 -13.2,0M239.7,947.9a6.6,6.6 0 1,0 13.2,0a6.6,6.6 0 1,0 -13.2,0M240.5,946.7a6.6,6.6 0 1,0 13.2,0a6.6,6.6 0 1,0 -13.2,0M241.5,944.8a6.6,6.6 0 1,0 13.2,0a6.6,6.6 0 1,0 -13.2,0M242.5,944.4a6.6,6.6 0 1,0 13.2,0a6.6,6.6 0 1,0 -13.2,0M243.3,943.0a6.6,6.6 0 1,0 13.2,0a6.6,6.6 0 1,0 -13.2,0M244.8,942.8a6.6,6.6 0 1,0 13.2,0a6.6,6.6 0 1,0 -13.2,0M246.5,941.4a6.6,6.6 0 1,0 13.2,0a6.6,6.6 0 1,0 -13.2,0M248.0,941.8a6.6,6.6 0 1,0 13.2,0a6.6,6.6 0 1,0 -13.2,0M249.0,941.3a6.6,6.6 0 1,0 13.2,0a6.6,6.6 0 1,0 -13.2,0M250.3,942.1a6.6,6.6 0 1,0 13.2,0a6.6,6.6 0 1,0 -13.2,0M252.2,942.5a6.6,6.6 0 1,0 13.2,0a6.6,6.6 0 1,0 -13.2,0M253.8,942.6a6.6,6.6 0 1,0 13.2,0a6.6,6.6 0 1,0 -13.2,0M255.1,943.0a6.6,6.6 0 1,0 13.2,0a6.6,6.6 0 1,0 -13.2,0M256.0,943.6a6.6,6.6 0 1,0 13.2,0a6.6,6.6 0 1,0 -13.2,0M257.3,943.4a6.6,6.6 0 1,0 13.2,0a6.6,6.6 0 1,0 -13.2,0M259.4,943.8a6.6,6.6 0 1,0 13.2,0a6.6,6.6 0 1,0 -13.2,0M260.3,944.2a6.6,6.6 0 1,0 13.2,0a6.6,6.6 0 1,0 -13.2,0M262.4,944.6a6.6,6.6 0 1,0 13.2,0a6.6,6.6 0 1,0 -13.2,0M263.2,945.5a6.6,6.6 0 1,0 13.2,0a6.6,6.6 0 1,0 -13.2,0M264.7,945.0a6.6,6.6 0 1,0 13.2,0a6.6,6.6 0 1,0 -13.2,0M266.4,944.2a6.6,6.6 0 1,0 13.2,0a6.6,6.6 0 1,0 -13.2,0M267.8,942.8a6.6,6.6 0 1,0 13.2,0a6.6,6.6 0 1,0 -13.2,0M268.7,940.9a6.6,6.6 0 1,0 13.2,0a6.6,6.6 0 1,0 -13.2,0M269.6,940.5a6.6,6.6 0 1,0 13.2,0a6.6,6.6 0 1,0 -13.2,0M270.6,938.7a6.6,6.6 0 1,0 13.2,0a6.6,6.6 0 1,0 -13.2,0M271.5,938.9a6.6,6.6 0 1,0 13.2,0a6.6,6.6 0 1,0 -13.2,0M272.0,936.8a6.6,6.6 0 1,0 13.2,0a6.6,6.6 0 1,0 -13.2,0M273.6,936.6a6.6,6.6 0 1,0 13.2,0a6.6,6.6 0 1,0 -13.2,0M274.4,934.6a6.6,6.6 0 1,0 13.2,0a6.6,6.6 0 1,0 -13.2,0M275.5,934.3a6.6,6.6 0 1,0 13.2,0a6.6,6.6 0 1,0 -13.2,0M277.0,932.8a6.6,6.6 0 1,0 13.2,0a6.6,6.6 0 1,0 -13.2,0M277.7,931.8a6.6,6.6 0 1,0 13.2,0a6.6,6.6 0 1,0 -13.2,0M278.9,930.9a6.6,6.6 0 1,0 13.2,0a6.6,6.6 0 1,0 -13.2,0M280.1,930.4a6.6,6.6 0 1,0 13.2,0a6.6,6.6 0 1,0 -13.2,0M282.3,930.2a6.6,6.6 0 1,0 13.2,0a6.6,6.6 0 1,0 -13.2,0M283.5,930.1a6.6,6.6 0 1,0 13.2,0a6.6,6.6 0 1,0 -13.2,0M284.8,931.8a6.6,6.6 0 1,0 13.2,0a6.6,6.6 0 1,0 -13.2,0M285.9,932.4a6.6,6.6 0 1,0 13.2,0a6.6,6.6 0 1,0 -13.2,0M286.9,933.6a6.6,6.6 0 1,0 13.2,0a6.6,6.6 0 1,0 -13.2,0M288.3,933.9a6.6,6.6 0 1,0 13.2,0a6.6,6.6 0 1,0 -13.2,0M288.7,935.9a6.6,6.6 0 1,0 13.2,0a6.6,6.6 0 1,0 -13.2,0M290.3,936.7a6.6,6.6 0 1,0 13.2,0a6.6,6.6 0 1,0 -13.2,0M291.0,938.1a6.6,6.6 0 1,0 13.2,0a6.6,6.6 0 1,0 -13.2,0M291.8,938.5a6.6,6.6 0 1,0 13.2,0a6.6,6.6 0 1,0 -13.2,0M292.8,940.0a6.6,6.6 0 1,0 13.2,0a6.6,6.6 0 1,0 -13.2,0M294.0,940.5a6.6,6.6 0 1,0 13.2,0a6.6,6.6 0 1,0 -13.2,0M295.4,942.7a6.6,6.6 0 1,0 13.2,0a6.6,6.6 0 1,0 -13.2,0M296.3,943.2a6.6,6.6 0 1,0 13.2,0a6.6,6.6 0 1,0 -13.2,0M297.7,944.2a6.6,6.6 0 1,0 13.2,0a6.6,6.6 0 1,0 -13.2,0M299.2,943.7a6.6,6.6 0 1,0 13.2,0a6.6,6.6 0 1,0 -13.2,0M300.4,943.5a6.6,6.6 0 1,0 13.2,0a6.6,6.6 0 1,0 -13.2,0M302.1,944.0a6.6,6.6 0 1,0 13.2,0a6.6,6.6 0 1,0 -13.2,0M303.4,943.6a6.6,6.6 0 1,0 13.2,0a6.6,6.6 0 1,0 -13.2,0M304.9,943.8a6.6,6.6 0 1,0 13.2,0a6.6,6.6 0 1,0 -13.2,0M306.2,943.7a6.6,6.6 0 1,0 13.2,0a6.6,6.6 0 1,0 -13.2,0M307.9,942.7a6.6,6.6 0 1,0 13.2,0a6.6,6.6 0 1,0 -13.2,0M309.4,942.8a6.6,6.6 0 1,0 13.2,0a6.6,6.6 0 1,0 -13.2,0M311.2,942.3a6.6,6.6 0 1,0 13.2,0a6.6,6.6 0 1,0 -13.2,0M312.4,942.9a6.6,6.6 0 1,0 13.2,0a6.6,6.6 0 1,0 -13.2,0M314.0,943.0a6.6,6.6 0 1,0 13.2,0a6.6,6.6 0 1,0 -13.2,0M315.2,944.7a6.6,6.6 0 1,0 13.2,0a6.6,6.6 0 1,0 -13.2,0M316.1,944.5a6.6,6.6 0 1,0 13.2,0a6.6,6.6 0 1,0 -13.2,0M316.9,946.4a6.6,6.6 0 1,0 13.2,0a6.6,6.6 0 1,0 -13.2,0M318.2,947.9a6.6,6.6 0 1,0 13.2,0a6.6,6.6 0 1,0 -13.2,0M319.3,948.0a6.6,6.6 0 1,0 13.2,0a6.6,6.6 0 1,0 -13.2,0M319.7,949.2a6.6,6.6 0 1,0 13.2,0a6.6,6.6 0 1,0 -13.2,0M320.6,951.1a6.6,6.6 0 1,0 13.2,0a6.6,6.6 0 1,0 -13.2,0M322.0,952.6a6.6,6.6 0 1,0 13.2,0a6.6,6.6 0 1,0 -13.2,0M322.4,953.8a6.6,6.6 0 1,0 13.2,0a6.6,6.6 0 1,0 -13.2,0M323.4,954.2a6.6,6.6 0 1,0 13.2,0a6.6,6.6 0 1,0 -13.2,0M324.7,954.9a6.6,6.6 0 1,0 13.2,0a6.6,6.6 0 1,0 -13.2,0M325.2,957.2a6.6,6.6 0 1,0 13.2,0a6.6,6.6 0 1,0 -13.2,0M326.4,957.4a6.6,6.6 0 1,0 13.2,0a6.6,6.6 0 1,0 -13.2,0M327.9,958.8a6.6,6.6 0 1,0 13.2,0a6.6,6.6 0 1,0 -13.2,0M328.8,958.9a6.6,6.6 0 1,0 13.2,0a6.6,6.6 0 1,0 -13.2,0M330.6,959.5a6.6,6.6 0 1,0 13.2,0a6.6,6.6 0 1,0 -13.2,0M331.9,959.6a6.6,6.6 0 1,0 13.2,0a6.6,6.6 0 1,0 -13.2,0M333.9,959.0a6.6,6.6 0 1,0 13.2,0a6.6,6.6 0 1,0 -13.2,0M335.0,958.1a6.6,6.6 0 1,0 13.2,0a6.6,6.6 0 1,0 -13.2,0M336.2,958.4a6.6,6.6 0 1,0 13.2,0a6.6,6.6 0 1,0 -13.2,0M337.5,958.2a6.6,6.6 0 1,0 13.2,0a6.6,6.6 0 1,0 -13.2,0M339.5,956.5a6.6,6.6 0 1,0 13.2,0a6.6,6.6 0 1,0 -13.2,0M341.0,956.6a6.6,6.6 0 1,0 13.2,0a6.6,6.6 0 1,0 -13.2,0M342.4,957.2a6.6,6.6 0 1,0 13.2,0a6.6,6.6 0 1,0 -13.2,0M343.5,957.3a6.6,6.6 0 1,0 13.2,0a6.6,6.6 0 1,0 -13.2,0M345.2,958.1a6.6,6.6 0 1,0 13.2,0a6.6,6.6 0 1,0 -13.2,0M346.1,958.8a6.6,6.6 0 1,0 13.2,0a6.6,6.6 0 1,0 -13.2,0M347.9,959.6a6.6,6.6 0 1,0 13.2,0a6.6,6.6 0 1,0 -13.2,0M348.7,959.6a6.6,6.6 0 1,0 13.2,0a6.6,6.6 0 1,0 -13.2,0M349.8,961.0a6.6,6.6 0 1,0 13.2,0a6.6,6.6 0 1,0 -13.2,0M351.1,962.6a6.6,6.6 0 1,0 13.2,0a6.6,6.6 0 1,0 -13.2,0M352.0,962.8a6.6,6.6 0 1,0 13.2,0a6.6,6.6 0 1,0 -13.2,0M353.1,964.6a6.6,6.6 0 1,0 13.2,0a6.6,6.6 0 1,0 -13.2,0M352.7,968.9a6.6,6.6 0 1,0 13.2,0a6.6,6.6 0 1,0 -13.2,0M355.9,963.0a6.6,6.6 0 1,0 13.2,0a6.6,6.6 0 1,0 -13.2,0M358.3,964.2a6.6,6.6 0 1,0 13.2,0a6.6,6.6 0 1,0 -13.2,0M356.7,970.4a6.6,6.6 0 1,0 13.2,0a6.6,6.6 0 1,0 -13.2,0M359.1,969.8a6.6,6.6 0 1,0 13.2,0a6.6,6.6 0 1,0 -13.2,0M360.6,969.7a6.6,6.6 0 1,0 13.2,0a6.6,6.6 0 1,0 -13.2,0M360.5,967.7a6.6,6.6 0 1,0 13.2,0a6.6,6.6 0 1,0 -13.2,0M360.9,972.9a6.6,6.6 0 1,0 13.2,0a6.6,6.6 0 1,0 -13.2,0M365.5,971.4a6.6,6.6 0 1,0 13.2,0a6.6,6.6 0 1,0 -13.2,0M366.9,969.7a6.6,6.6 0 1,0 13.2,0a6.6,6.6 0 1,0 -13.2,0M366.2,969.6a6.6,6.6 0 1,0 13.2,0a6.6,6.6 0 1,0 -13.2,0M370.4,966.2a6.6,6.6 0 1,0 13.2,0a6.6,6.6 0 1,0 -13.2,0M370.2,967.6a6.6,6.6 0 1,0 13.2,0a6.6,6.6 0 1,0 -13.2,0M372.8,968.1a6.6,6.6 0 1,0 13.2,0a6.6,6.6 0 1,0 -13.2,0M372.3,968.2a6.6,6.6 0 1,0 13.2,0a6.6,6.6 0 1,0 -13.2,0M374.7,971.2a6.6,6.6 0 1,0 13.2,0a6.6,6.6 0 1,0 -13.2,0M375.4,971.7a6.6,6.6 0 1,0 13.2,0a6.6,6.6 0 1,0 -13.2,0M375.8,966.6a6.6,6.6 0 1,0 13.2,0a6.6,6.6 0 1,0 -13.2,0M377.2,965.3a6.6,6.6 0 1,0 13.2,0a6.6,6.6 0 1,0 -13.2,0M381.7,971.1a6.6,6.6 0 1,0 13.2,0a6.6,6.6 0 1,0 -13.2,0M380.6,966.5a6.6,6.6 0 1,0 13.2,0a6.6,6.6 0 1,0 -13.2,0M383.1,971.8a6.6,6.6 0 1,0 13.2,0a6.6,6.6 0 1,0 -13.2,0M386.3,972.1a6.6,6.6 0 1,0 13.2,0a6.6,6.6 0 1,0 -13.2,0M386.8,967.0a6.6,6.6 0 1,0 13.2,0a6.6,6.6 0 1,0 -13.2,0M387.4,967.6a6.6,6.6 0 1,0 13.2,0a6.6,6.6 0 1,0 -13.2,0M389.5,971.1a6.6,6.6 0 1,0 13.2,0a6.6,6.6 0 1,0 -13.2,0M389.5,968.3a6.6,6.6 0 1,0 13.2,0a6.6,6.6 0 1,0 -13.2,0M393.6,966.2a6.6,6.6 0 1,0 13.2,0a6.6,6.6 0 1,0 -13.2,0M395.2,973.6a6.6,6.6 0 1,0 13.2,0a6.6,6.6 0 1,0 -13.2,0M397.3,968.6a6.6,6.6 0 1,0 13.2,0a6.6,6.6 0 1,0 -13.2,0M396.9,969.9a6.6,6.6 0 1,0 13.2,0a6.6,6.6 0 1,0 -13.2,0M398.7,972.9a6.6,6.6 0 1,0 13.2,0a6.6,6.6 0 1,0 -13.2,0M400.3,966.3a6.6,6.6 0 1,0 13.2,0a6.6,6.6 0 1,0 -13.2,0M402.5,967.4a6.6,6.6 0 1,0 13.2,0a6.6,6.6 0 1,0 -13.2,0M402.8,969.1a6.6,6.6 0 1,0 13.2,0a6.6,6.6 0 1,0 -13.2,0M401.5,969.2a6.6,6.6 0 1,0 13.2,0a6.6,6.6 0 1,0 -13.2,0M406.0,966.5a6.6,6.6 0 1,0 13.2,0a6.6,6.6 0 1,0 -13.2,0M406.8,966.4a6.6,6.6 0 1,0 13.2,0a6.6,6.6 0 1,0 -13.2,0M406.7,967.5a6.6,6.6 0 1,0 13.2,0a6.6,6.6 0 1,0 -13.2,0M407.2,968.2a6.6,6.6 0 1,0 13.2,0a6.6,6.6 0 1,0 -13.2,0M411.0,968.7a6.6,6.6 0 1,0 13.2,0a6.6,6.6 0 1,0 -13.2,0M411.6,974.5a6.6,6.6 0 1,0 13.2,0a6.6,6.6 0 1,0 -13.2,0M414.0,968.3a6.6,6.6 0 1,0 13.2,0a6.6,6.6 0 1,0 -13.2,0M414.5,973.9a6.6,6.6 0 1,0 13.2,0a6.6,6.6 0 1,0 -13.2,0M412.2,972.6a6.6,6.6 0 1,0 13.2,0a6.6,6.6 0 1,0 -13.2,0M414.1,971.1a6.6,6.6 0 1,0 13.2,0a6.6,6.6 0 1,0 -13.2,0M416.7,979.5a6.6,6.6 0 1,0 13.2,0a6.6,6.6 0 1,0 -13.2,0M417.2,979.3a6.6,6.6 0 1,0 13.2,0a6.6,6.6 0 1,0 -13.2,0M420.4,972.5a6.6,6.6 0 1,0 13.2,0a6.6,6.6 0 1,0 -13.2,0M422.6,976.3a6.6,6.6 0 1,0 13.2,0a6.6,6.6 0 1,0 -13.2,0M424.2,976.7a6.6,6.6 0 1,0 13.2,0a6.6,6.6 0 1,0 -13.2,0M424.7,972.7a6.6,6.6 0 1,0 13.2,0a6.6,6.6 0 1,0 -13.2,0M426.3,977.2a6.6,6.6 0 1,0 13.2,0a6.6,6.6 0 1,0 -13.2,0M427.8,971.9a6.6,6.6 0 1,0 13.2,0a6.6,6.6 0 1,0 -13.2,0M428.5,971.5a6.6,6.6 0 1,0 13.2,0a6.6,6.6 0 1,0 -13.2,0M426.9,966.6a6.6,6.6 0 1,0 13.2,0a6.6,6.6 0 1,0 -13.2,0M428.0,967.2a6.6,6.6 0 1,0 13.2,0a6.6,6.6 0 1,0 -13.2,0M429.6,969.1a6.6,6.6 0 1,0 13.2,0a6.6,6.6 0 1,0 -13.2,0M433.3,968.6a6.6,6.6 0 1,0 13.2,0a6.6,6.6 0 1,0 -13.2,0M433.3,968.9a6.6,6.6 0 1,0 13.2,0a6.6,6.6 0 1,0 -13.2,0M434.2,966.6a6.6,6.6 0 1,0 13.2,0a6.6,6.6 0 1,0 -13.2,0M437.6,965.4a6.6,6.6 0 1,0 13.2,0a6.6,6.6 0 1,0 -13.2,0M436.3,969.3a6.6,6.6 0 1,0 13.2,0a6.6,6.6 0 1,0 -13.2,0M440.2,963.9a6.6,6.6 0 1,0 13.2,0a6.6,6.6 0 1,0 -13.2,0M440.0,964.8a6.6,6.6 0 1,0 13.2,0a6.6,6.6 0 1,0 -13.2,0M442.4,961.5a6.6,6.6 0 1,0 13.2,0a6.6,6.6 0 1,0 -13.2,0M441.1,960.8a6.6,6.6 0 1,0 13.2,0a6.6,6.6 0 1,0 -13.2,0M446.0,959.7a6.6,6.6 0 1,0 13.2,0a6.6,6.6 0 1,0 -13.2,0M446.0,959.6a6.6,6.6 0 1,0 13.2,0a6.6,6.6 0 1,0 -13.2,0M446.3,958.9a6.6,6.6 0 1,0 13.2,0a6.6,6.6 0 1,0 -13.2,0M448.5,958.3a6.6,6.6 0 1,0 13.2,0a6.6,6.6 0 1,0 -13.2,0M448.3,957.3a6.6,6.6 0 1,0 13.2,0a6.6,6.6 0 1,0 -13.2,0M450.3,960.3a6.6,6.6 0 1,0 13.2,0a6.6,6.6 0 1,0 -13.2,0M451.3,955.6a6.6,6.6 0 1,0 13.2,0a6.6,6.6 0 1,0 -13.2,0M454.4,958.6a6.6,6.6 0 1,0 13.2,0a6.6,6.6 0 1,0 -13.2,0M457.0,955.0a6.6,6.6 0 1,0 13.2,0a6.6,6.6 0 1,0 -13.2,0M457.2,957.9a6.6,6.6 0 1,0 13.2,0a6.6,6.6 0 1,0 -13.2,0M456.8,963.4a6.6,6.6 0 1,0 13.2,0a6.6,6.6 0 1,0 -13.2,0M458.0,957.0a6.6,6.6 0 1,0 13.2,0a6.6,6.6 0 1,0 -13.2,0" fill="none" stroke="#f4aa8f" stroke-width="1.4" opacity="0.9"/><path d="M94.6,1029.1 C95.8,1029.3 97.7,1035.6 101.9,1030.2 C106.1,1024.8 114.1,1003.4 119.7,996.8 C125.3,990.2 129.6,996.8 135.3,990.5 C141.0,984.2 148.3,965.5 154.1,959.2 C159.8,952.9 164.4,958.8 169.8,952.9 C175.2,947.0 180.9,929.8 186.5,923.7 C192.1,917.6 197.6,922.7 203.2,916.4 C208.8,910.1 214.3,892.0 219.9,885.9 C225.5,879.8 231.0,885.8 236.5,879.6 C242.0,873.4 247.1,854.8 252.7,848.5 C258.3,842.2 266.2,845.2 270.3,841.7 C274.4,838.2 274.7,830.4 277.3,827.4 C279.9,824.4 281.6,829.7 285.8,823.9 C290.0,818.1 296.6,798.9 302.3,792.7 C308.0,786.5 314.2,792.6 319.9,786.5 C325.5,780.4 330.7,761.9 336.2,755.9 C341.7,749.9 347.3,757.0 352.9,750.7 C358.5,744.4 364.2,724.6 369.6,718.3 C375.0,712.0 379.9,719.2 385.3,713.1 C390.7,707.0 396.4,688.1 402.0,681.8 C407.6,675.5 413.1,681.4 418.7,675.5 C424.3,669.6 429.8,652.2 435.4,646.3 C441.0,640.4 446.7,645.7 452.1,640.0 C457.5,634.3 465.1,616.6 467.7,611.9" fill="none" stroke="#82b9e3" stroke-width="10" stroke-linecap="round" stroke-linejoin="round" opacity="0.5"/><path d="M87.9,1029.6a6.8,6.8 0 1,0 13.6,0a6.8,6.8 0 1,0 -13.6,0M89.2,1031.0a6.8,6.8 0 1,0 13.6,0a6.8,6.8 0 1,0 -13.6,0M90.1,1032.1a6.8,6.8 0 1,0 13.6,0a6.8,6.8 0 1,0 -13.6,0M90.6,1032.1a6.8,6.8 0 1,0 13.6,0a6.8,6.8 0 1,0 -13.6,0M92.9,1032.6a6.8,6.8 0 1,0 13.6,0a6.8,6.8 0 1,0 -13.6,0M94.2,1030.8a6.8,6.8 0 1,0 13.6,0a6.8,6.8 0 1,0 -13.6,0M94.8,1030.0a6.8,6.8 0 1,0 13.6,0a6.8,6.8 0 1,0 -13.6,0M95.8,1029.4a6.8,6.8 0 1,0 13.6,0a6.8,6.8 0 1,0 -13.6,0M96.0,1027.5a6.8,6.8 0 1,0 13.6,0a6.8,6.8 0 1,0 -13.6,0M97.0,1027.5a6.8,6.8 0 1,0 13.6,0a6.8,6.8 0 1,0 -13.6,0M98.2,1024.7a6.8,6.8 0 1,0 13.6,0a6.8,6.8 0 1,0 -13.6,0M98.9,1023.3a6.8,6.8 0 1,0 13.6,0a6.8,6.8 0 1,0 -13.6,0M99.4,1022.0a6.8,6.8 0 1,0 13.6,0a6.8,6.8 0 1,0 -13.6,0M99.5,1022.1a6.8,6.8 0 1,0 13.6,0a6.8,6.8 0 1,0 -13.6,0M100.3,1019.4a6.8,6.8 0 1,0 13.6,0a6.8,6.8 0 1,0 -13.6,0M101.8,1019.4a6.8,6.8 0 1,0 13.6,0a6.8,6.8 0 1,0 -13.6,0M101.7,1018.2a6.8,6.8 0 1,0 13.6,0a6.8,6.8 0 1,0 -13.6,0M102.6,1016.3a6.8,6.8 0 1,0 13.6,0a6.8,6.8 0 1,0 -13.6,0M102.9,1015.5a6.8,6.8 0 1,0 13.6,0a6.8,6.8 0 1,0 -13.6,0M104.0,1014.2a6.8,6.8 0 1,0 13.6,0a6.8,6.8 0 1,0 -13.6,0M104.9,1011.5a6.8,6.8 0 1,0 13.6,0a6.8,6.8 0 1,0 -13.6,0M105.0,1009.9a6.8,6.8 0 1,0 13.6,0a6.8,6.8 0 1,0 -13.6,0M105.4,1008.3a6.8,6.8 0 1,0 13.6,0a6.8,6.8 0 1,0 -13.6,0M106.2,1008.0a6.8,6.8 0 1,0 13.6,0a6.8,6.8 0 1,0 -13.6,0M106.6,1006.8a6.8,6.8 0 1,0 13.6,0a6.8,6.8 0 1,0 -13.6,0M107.6,1004.8a6.8,6.8 0 1,0 13.6,0a6.8,6.8 0 1,0 -13.6,0M108.8,1003.8a6.8,6.8 0 1,0 13.6,0a6.8,6.8 0 1,0 -13.6,0M109.0,1002.5a6.8,6.8 0 1,0 13.6,0a6.8,6.8 0 1,0 -13.6,0M110.2,1000.3a6.8,6.8 0 1,0 13.6,0a6.8,6.8 0 1,0 -13.6,0M111.2,999.0a6.8,6.8 0 1,0 13.6,0a6.8,6.8 0 1,0 -13.6,0M111.8,999.3a6.8,6.8 0 1,0 13.6,0a6.8,6.8 0 1,0 -13.6,0M111.9,998.0a6.8,6.8 0 1,0 13.6,0a6.8,6.8 0 1,0 -13.6,0M113.2,996.5a6.8,6.8 0 1,0 13.6,0a6.8,6.8 0 1,0 -13.6,0M114.0,994.4a6.8,6.8 0 1,0 13.6,0a6.8,6.8 0 1,0 -13.6,0M115.4,995.3a6.8,6.8 0 1,0 13.6,0a6.8,6.8 0 1,0 -13.6,0M116.8,994.4a6.8,6.8 0 1,0 13.6,0a6.8,6.8 0 1,0 -13.6,0M119.0,994.5a6.8,6.8 0 1,0 13.6,0a6.8,6.8 0 1,0 -13.6,0M119.9,993.2a6.8,6.8 0 1,0 13.6,0a6.8,6.8 0 1,0 -13.6,0M121.6,994.1a6.8,6.8 0 1,0 13.6,0a6.8,6.8 0 1,0 -13.6,0M122.7,993.9a6.8,6.8 0 1,0 13.6,0a6.8,6.8 0 1,0 -13.6,0M124.8,993.9a6.8,6.8 0 1,0 13.6,0a6.8,6.8 0 1,0 -13.6,0M125.4,993.5a6.8,6.8 0 1,0 13.6,0a6.8,6.8 0 1,0 -13.6,0M126.7,991.4a6.8,6.8 0 1,0 13.6,0a6.8,6.8 0 1,0 -13.6,0M128.4,991.6a6.8,6.8 0 1,0 13.6,0a6.8,6.8 0 1,0 -13.6,0M129.1,990.5a6.8,6.8 0 1,0 13.6,0a6.8,6.8 0 1,0 -13.6,0M130.2,988.0a6.8,6.8 0 1,0 13.6,0a6.8,6.8 0 1,0 -13.6,0M130.8,986.5a6.8,6.8 0 1,0 13.6,0a6.8,6.8 0 1,0 -13.6,0M131.4,985.2a6.8,6.8 0 1,0 13.6,0a6.8,6.8 0 1,0 -13.6,0M132.8,985.6a6.8,6.8 0 1,0 13.6,0a6.8,6.8 0 1,0 -13.6,0M133.0,982.4a6.8,6.8 0 1,0 13.6,0a6.8,6.8 0 1,0 -13.6,0M134.6,982.1a6.8,6.8 0 1,0 13.6,0a6.8,6.8 0 1,0 -13.6,0M134.7,980.2a6.8,6.8 0 1,0 13.6,0a6.8,6.8 0 1,0 -13.6,0M135.6,980.1a6.8,6.8 0 1,0 13.6,0a6.8,6.8 0 1,0 -13.6,0M136.2,977.9a6.8,6.8 0 1,0 13.6,0a6.8,6.8 0 1,0 -13.6,0M136.5,977.6a6.8,6.8 0 1,0 13.6,0a6.8,6.8 0 1,0 -13.6,0M137.1,975.4a6.8,6.8 0 1,0 13.6,0a6.8,6.8 0 1,0 -13.6,0M138.6,973.4a6.8,6.8 0 1,0 13.6,0a6.8,6.8 0 1,0 -13.6,0M139.2,973.7a6.8,6.8 0 1,0 13.6,0a6.8,6.8 0 1,0 -13.6,0M139.8,972.0a6.8,6.8 0 1,0 13.6,0a6.8,6.8 0 1,0 -13.6,0M140.0,970.0a6.8,6.8 0 1,0 13.6,0a6.8,6.8 0 1,0 -13.6,0M140.8,969.5a6.8,6.8 0 1,0 13.6,0a6.8,6.8 0 1,0 -13.6,0M141.6,967.4a6.8,6.8 0 1,0 13.6,0a6.8,6.8 0 1,0 -13.6,0M143.1,966.9a6.8,6.8 0 1,0 13.6,0a6.8,6.8 0 1,0 -13.6,0M143.8,964.8a6.8,6.8 0 1,0 13.6,0a6.8,6.8 0 1,0 -13.6,0M144.1,964.1a6.8,6.8 0 1,0 13.6,0a6.8,6.8 0 1,0 -13.6,0M144.9,961.9a6.8,6.8 0 1,0 13.6,0a6.8,6.8 0 1,0 -13.6,0M145.7,960.4a6.8,6.8 0 1,0 13.6,0a6.8,6.8 0 1,0 -13.6,0M146.6,960.9a6.8,6.8 0 1,0 13.6,0a6.8,6.8 0 1,0 -13.6,0M148.2,959.1a6.8,6.8 0 1,0 13.6,0a6.8,6.8 0 1,0 -13.6,0M148.8,957.5a6.8,6.8 0 1,0 13.6,0a6.8,6.8 0 1,0 -13.6,0M149.7,956.5a6.8,6.8 0 1,0 13.6,0a6.8,6.8 0 1,0 -13.6,0M151.7,957.1a6.8,6.8 0 1,0 13.6,0a6.8,6.8 0 1,0 -13.6,0M152.8,956.7a6.8,6.8 0 1,0 13.6,0a6.8,6.8 0 1,0 -13.6,0M154.7,956.3a6.8,6.8 0 1,0 13.6,0a6.8,6.8 0 1,0 -13.6,0M156.1,956.4a6.8,6.8 0 1,0 13.6,0a6.8,6.8 0 1,0 -13.6,0M157.3,956.2a6.8,6.8 0 1,0 13.6,0a6.8,6.8 0 1,0 -13.6,0M158.7,955.5a6.8,6.8 0 1,0 13.6,0a6.8,6.8 0 1,0 -13.6,0M160.5,955.4a6.8,6.8 0 1,0 13.6,0a6.8,6.8 0 1,0 -13.6,0M161.3,955.1a6.8,6.8 0 1,0 13.6,0a6.8,6.8 0 1,0 -13.6,0M162.8,953.4a6.8,6.8 0 1,0 13.6,0a6.8,6.8 0 1,0 -13.6,0M163.2,952.2a6.8,6.8 0 1,0 13.6,0a6.8,6.8 0 1,0 -13.6,0M164.3,951.2a6.8,6.8 0 1,0 13.6,0a6.8,6.8 0 1,0 -13.6,0M165.3,950.3a6.8,6.8 0 1,0 13.6,0a6.8,6.8 0 1,0 -13.6,0M166.3,949.0a6.8,6.8 0 1,0 13.6,0a6.8,6.8 0 1,0 -13.6,0M166.7,947.4a6.8,6.8 0 1,0 13.6,0a6.8,6.8 0 1,0 -13.6,0M167.8,946.4a6.8,6.8 0 1,0 13.6,0a6.8,6.8 0 1,0 -13.6,0M168.2,945.1a6.8,6.8 0 1,0 13.6,0a6.8,6.8 0 1,0 -13.6,0M169.3,943.5a6.8,6.8 0 1,0 13.6,0a6.8,6.8 0 1,0 -13.6,0M170.1,942.7a6.8,6.8 0 1,0 13.6,0a6.8,6.8 0 1,0 -13.6,0M170.3,940.5a6.8,6.8 0 1,0 13.6,0a6.8,6.8 0 1,0 -13.6,0M170.6,939.7a6.8,6.8 0 1,0 13.6,0a6.8,6.8 0 1,0 -13.6,0M172.0,937.6a6.8,6.8 0 1,0 13.6,0a6.8,6.8 0 1,0 -13.6,0M172.5,936.8a6.8,6.8 0 1,0 13.6,0a6.8,6.8 0 1,0 -13.6,0M173.2,934.3a6.8,6.8 0 1,0 13.6,0a6.8,6.8 0 1,0 -13.6,0M173.9,933.8a6.8,6.8 0 1,0 13.6,0a6.8,6.8 0 1,0 -13.6,0M174.4,932.2a6.8,6.8 0 1,0 13.6,0a6.8,6.8 0 1,0 -13.6,0M175.1,931.5a6.8,6.8 0 1,0 13.6,0a6.8,6.8 0 1,0 -13.6,0M175.8,930.1a6.8,6.8 0 1,0 13.6,0a6.8,6.8 0 1,0 -13.6,0M176.0,927.7a6.8,6.8 0 1,0 13.6,0a6.8,6.8 0 1,0 -13.6,0M177.2,927.4a6.8,6.8 0 1,0 13.6,0a6.8,6.8 0 1,0 -13.6,0M177.8,926.2a6.8,6.8 0 1,0 13.6,0a6.8,6.8 0 1,0 -13.6,0M179.1,923.7a6.8,6.8 0 1,0 13.6,0a6.8,6.8 0 1,0 -13.6,0M179.9,922.9a6.8,6.8 0 1,0 13.6,0a6.8,6.8 0 1,0 -13.6,0M180.6,921.7a6.8,6.8 0 1,0 13.6,0a6.8,6.8 0 1,0 -13.6,0M182.1,921.0a6.8,6.8 0 1,0 13.6,0a6.8,6.8 0 1,0 -13.6,0M183.3,920.1a6.8,6.8 0 1,0 13.6,0a6.8,6.8 0 1,0 -13.6,0M185.0,920.3a6.8,6.8 0 1,0 13.6,0a6.8,6.8 0 1,0 -13.6,0M186.6,920.5a6.8,6.8 0 1,0 13.6,0a6.8,6.8 0 1,0 -13.6,0M187.7,920.9a6.8,6.8 0 1,0 13.6,0a6.8,6.8 0 1,0 -13.6,0M189.0,919.8a6.8,6.8 0 1,0 13.6,0a6.8,6.8 0 1,0 -13.6,0M190.7,919.5a6.8,6.8 0 1,0 13.6,0a6.8,6.8 0 1,0 -13.6,0M192.0,919.9a6.8,6.8 0 1,0 13.6,0a6.8,6.8 0 1,0 -13.6,0M193.6,917.7a6.8,6.8 0 1,0 13.6,0a6.8,6.8 0 1,0 -13.6,0M195.1,916.9a6.8,6.8 0 1,0 13.6,0a6.8,6.8 0 1,0 -13.6,0M196.1,916.4a6.8,6.8 0 1,0 13.6,0a6.8,6.8 0 1,0 -13.6,0M197.1,916.5a6.8,6.8 0 1,0 13.6,0a6.8,6.8 0 1,0 -13.6,0M198.2,914.2a6.8,6.8 0 1,0 13.6,0a6.8,6.8 0 1,0 -13.6,0M199.0,913.4a6.8,6.8 0 1,0 13.6,0a6.8,6.8 0 1,0 -13.6,0M199.4,911.1a6.8,6.8 0 1,0 13.6,0a6.8,6.8 0 1,0 -13.6,0M200.3,910.6a6.8,6.8 0 1,0 13.6,0a6.8,6.8 0 1,0 -13.6,0M201.4,910.1a6.8,6.8 0 1,0 13.6,0a6.8,6.8 0 1,0 -13.6,0M201.7,907.5a6.8,6.8 0 1,0 13.6,0a6.8,6.8 0 1,0 -13.6,0M202.6,905.5a6.8,6.8 0 1,0 13.6,0a6.8,6.8 0 1,0 -13.6,0M202.5,905.3a6.8,6.8 0 1,0 13.6,0a6.8,6.8 0 1,0 -13.6,0M203.6,903.1a6.8,6.8 0 1,0 13.6,0a6.8,6.8 0 1,0 -13.6,0M204.3,903.2a6.8,6.8 0 1,0 13.6,0a6.8,6.8 0 1,0 -13.6,0M204.6,900.9a6.8,6.8 0 1,0 13.6,0a6.8,6.8 0 1,0 -13.6,0M205.1,899.3a6.8,6.8 0 1,0 13.6,0a6.8,6.8 0 1,0 -13.6,0M206.5,898.1a6.8,6.8 0 1,0 13.6,0a6.8,6.8 0 1,0 -13.6,0M207.1,897.8a6.8,6.8 0 1,0 13.6,0a6.8,6.8 0 1,0 -13.6,0M207.4,895.1a6.8,6.8 0 1,0 13.6,0a6.8,6.8 0 1,0 -13.6,0M208.4,894.3a6.8,6.8 0 1,0 13.6,0a6.8,6.8 0 1,0 -13.6,0M208.6,892.6a6.8,6.8 0 1,0 13.6,0a6.8,6.8 0 1,0 -13.6,0M209.8,891.6a6.8,6.8 0 1,0 13.6,0a6.8,6.8 0 1,0 -13.6,0M209.9,890.2a6.8,6.8 0 1,0 13.6,0a6.8,6.8 0 1,0 -13.6,0M210.5,889.2a6.8,6.8 0 1,0 13.6,0a6.8,6.8 0 1,0 -13.6,0M211.6,887.3a6.8,6.8 0 1,0 13.6,0a6.8,6.8 0 1,0 -13.6,0M212.9,887.2a6.8,6.8 0 1,0 13.6,0a6.8,6.8 0 1,0 -13.6,0M213.1,885.5a6.8,6.8 0 1,0 13.6,0a6.8,6.8 0 1,0 -13.6,0M214.5,885.3a6.8,6.8 0 1,0 13.6,0a6.8,6.8 0 1,0 -13.6,0M216.3,883.2a6.8,6.8 0 1,0 13.6,0a6.8,6.8 0 1,0 -13.6,0M217.2,882.5a6.8,6.8 0 1,0 13.6,0a6.8,6.8 0 1,0 -13.6,0M219.4,882.5a6.8,6.8 0 1,0 13.6,0a6.8,6.8 0 1,0 -13.6,0M220.5,882.8a6.8,6.8 0 1,0 13.6,0a6.8,6.8 0 1,0 -13.6,0M222.0,883.0a6.8,6.8 0 1,0 13.6,0a6.8,6.8 0 1,0 -13.6,0M223.6,882.0a6.8,6.8 0 1,0 13.6,0a6.8,6.8 0 1,0 -13.6,0M225.1,882.1a6.8,6.8 0 1,0 13.6,0a6.8,6.8 0 1,0 -13.6,0M226.3,881.8a6.8,6.8 0 1,0 13.6,0a6.8,6.8 0 1,0 -13.6,0M227.4,881.5a6.8,6.8 0 1,0 13.6,0a6.8,6.8 0 1,0 -13.6,0M228.8,880.2a6.8,6.8 0 1,0 13.6,0a6.8,6.8 0 1,0 -13.6,0M230.1,879.6a6.8,6.8 0 1,0 13.6,0a6.8,6.8 0 1,0 -13.6,0M230.3,877.7a6.8,6.8 0 1,0 13.6,0a6.8,6.8 0 1,0 -13.6,0M231.5,877.8a6.8,6.8 0 1,0 13.6,0a6.8,6.8 0 1,0 -13.6,0M232.7,875.8a6.8,6.8 0 1,0 13.6,0a6.8,6.8 0 1,0 -13.6,0M232.6,874.9a6.8,6.8 0 1,0 13.6,0a6.8,6.8 0 1,0 -13.6,0M233.7,873.2a6.8,6.8 0 1,0 13.6,0a6.8,6.8 0 1,0 -13.6,0M234.6,871.9a6.8,6.8 0 1,0 13.6,0a6.8,6.8 0 1,0 -13.6,0M235.0,871.1a6.8,6.8 0 1,0 13.6,0a6.8,6.8 0 1,0 -13.6,0M235.5,868.7a6.8,6.8 0 1,0 13.6,0a6.8,6.8 0 1,0 -13.6,0M236.6,867.0a6.8,6.8 0 1,0 13.6,0a6.8,6.8 0 1,0 -13.6,0M236.6,866.9a6.8,6.8 0 1,0 13.6,0a6.8,6.8 0 1,0 -13.6,0M237.0,865.5a6.8,6.8 0 1,0 13.6,0a6.8,6.8 0 1,0 -13.6,0M238.2,863.3a6.8,6.8 0 1,0 13.6,0a6.8,6.8 0 1,0 -13.6,0M238.4,862.6a6.8,6.8 0 1,0 13.6,0a6.8,6.8 0 1,0 -13.6,0M239.6,860.0a6.8,6.8 0 1,0 13.6,0a6.8,6.8 0 1,0 -13.6,0M239.8,859.4a6.8,6.8 0 1,0 13.6,0a6.8,6.8 0 1,0 -13.6,0M240.4,857.6a6.8,6.8 0 1,0 13.6,0a6.8,6.8 0 1,0 -13.6,0M240.7,856.8a6.8,6.8 0 1,0 13.6,0a6.8,6.8 0 1,0 -13.6,0M242.0,854.4a6.8,6.8 0 1,0 13.6,0a6.8,6.8 0 1,0 -13.6,0M242.1,854.5a6.8,6.8 0 1,0 13.6,0a6.8,6.8 0 1,0 -13.6,0M243.4,852.9a6.8,6.8 0 1,0 13.6,0a6.8,6.8 0 1,0 -13.6,0M243.4,851.7a6.8,6.8 0 1,0 13.6,0a6.8,6.8 0 1,0 -13.6,0M245.2,851.0a6.8,6.8 0 1,0 13.6,0a6.8,6.8 0 1,0 -13.6,0M245.8,848.0a6.8,6.8 0 1,0 13.6,0a6.8,6.8 0 1,0 -13.6,0M247.0,847.2a6.8,6.8 0 1,0 13.6,0a6.8,6.8 0 1,0 -13.6,0M247.9,847.7a6.8,6.8 0 1,0 13.6,0a6.8,6.8 0 1,0 -13.6,0M249.2,845.2a6.8,6.8 0 1,0 13.6,0a6.8,6.8 0 1,0 -13.6,0M250.2,846.1a6.8,6.8 0 1,0 13.6,0a6.8,6.8 0 1,0 -13.6,0M251.4,845.0a6.8,6.8 0 1,0 13.6,0a6.8,6.8 0 1,0 -13.6,0M253.2,843.7a6.8,6.8 0 1,0 13.6,0a6.8,6.8 0 1,0 -13.6,0M254.8,843.2a6.8,6.8 0 1,0 13.6,0a6.8,6.8 0 1,0 -13.6,0M255.8,843.7a6.8,6.8 0 1,0 13.6,0a6.8,6.8 0 1,0 -13.6,0M257.3,842.8a6.8,6.8 0 1,0 13.6,0a6.8,6.8 0 1,0 -13.6,0M259.2,844.0a6.8,6.8 0 1,0 13.6,0a6.8,6.8 0 1,0 -13.6,0M261.0,842.4a6.8,6.8 0 1,0 13.6,0a6.8,6.8 0 1,0 -13.6,0M262.0,842.3a6.8,6.8 0 1,0 13.6,0a6.8,6.8 0 1,0 -13.6,0M263.4,841.8a6.8,6.8 0 1,0 13.6,0a6.8,6.8 0 1,0 -13.6,0M264.8,840.6a6.8,6.8 0 1,0 13.6,0a6.8,6.8 0 1,0 -13.6,0M264.8,840.0a6.8,6.8 0 1,0 13.6,0a6.8,6.8 0 1,0 -13.6,0M265.7,838.6a6.8,6.8 0 1,0 13.6,0a6.8,6.8 0 1,0 -13.6,0M266.6,837.8a6.8,6.8 0 1,0 13.6,0a6.8,6.8 0 1,0 -13.6,0M267.2,835.8a6.8,6.8 0 1,0 13.6,0a6.8,6.8 0 1,0 -13.6,0M267.4,834.2a6.8,6.8 0 1,0 13.6,0a6.8,6.8 0 1,0 -13.6,0M267.9,833.2a6.8,6.8 0 1,0 13.6,0a6.8,6.8 0 1,0 -13.6,0M268.6,830.5a6.8,6.8 0 1,0 13.6,0a6.8,6.8 0 1,0 -13.6,0M268.8,829.6a6.8,6.8 0 1,0 13.6,0a6.8,6.8 0 1,0 -13.6,0M270.0,827.9a6.8,6.8 0 1,0 13.6,0a6.8,6.8 0 1,0 -13.6,0M270.8,827.6a6.8,6.8 0 1,0 13.6,0a6.8,6.8 0 1,0 -13.6,0M271.4,826.8a6.8,6.8 0 1,0 13.6,0a6.8,6.8 0 1,0 -13.6,0M272.9,825.8a6.8,6.8 0 1,0 13.6,0a6.8,6.8 0 1,0 -13.6,0M274.9,826.2a6.8,6.8 0 1,0 13.6,0a6.8,6.8 0 1,0 -13.6,0M276.7,826.4a6.8,6.8 0 1,0 13.6,0a6.8,6.8 0 1,0 -13.6,0M277.3,826.2a6.8,6.8 0 1,0 13.6,0a6.8,6.8 0 1,0 -13.6,0M278.0,825.0a6.8,6.8 0 1,0 13.6,0a6.8,6.8 0 1,0 -13.6,0M279.0,822.6a6.8,6.8 0 1,0 13.6,0a6.8,6.8 0 1,0 -13.6,0M280.6,822.4a6.8,6.8 0 1,0 13.6,0a6.8,6.8 0 1,0 -13.6,0M280.6,819.9a6.8,6.8 0 1,0 13.6,0a6.8,6.8 0 1,0 -13.6,0M282.1,819.7a6.8,6.8 0 1,0 13.6,0a6.8,6.8 0 1,0 -13.6,0M282.6,817.3a6.8,6.8 0 1,0 13.6,0a6.8,6.8 0 1,0 -13.6,0M283.0,816.4a6.8,6.8 0 1,0 13.6,0a6.8,6.8 0 1,0 -13.6,0M283.3,815.0a6.8,6.8 0 1,0 13.6,0a6.8,6.8 0 1,0 -13.6,0M284.3,813.7a6.8,6.8 0 1,0 13.6,0a6.8,6.8 0 1,0 -13.6,0M284.7,811.9a6.8,6.8 0 1,0 13.6,0a6.8,6.8 0 1,0 -13.6,0M285.8,811.5a6.8,6.8 0 1,0 13.6,0a6.8,6.8 0 1,0 -13.6,0M286.3,809.7a6.8,6.8 0 1,0 13.6,0a6.8,6.8 0 1,0 -13.6,0M287.0,808.5a6.8,6.8 0 1,0 13.6,0a6.8,6.8 0 1,0 -13.6,0M287.4,807.3a6.8,6.8 0 1,0 13.6,0a6.8,6.8 0 1,0 -13.6,0M288.2,805.6a6.8,6.8 0 1,0 13.6,0a6.8,6.8 0 1,0 -13.6,0M288.2,803.5a6.8,6.8 0 1,0 13.6,0a6.8,6.8 0 1,0 -13.6,0M288.9,802.2a6.8,6.8 0 1,0 13.6,0a6.8,6.8 0 1,0 -13.6,0M290.3,801.7a6.8,6.8 0 1,0 13.6,0a6.8,6.8 0 1,0 -13.6,0M290.8,799.4a6.8,6.8 0 1,0 13.6,0a6.8,6.8 0 1,0 -13.6,0M291.3,799.9a6.8,6.8 0 1,0 13.6,0a6.8,6.8 0 1,0 -13.6,0M292.1,797.6a6.8,6.8 0 1,0 13.6,0a6.8,6.8 0 1,0 -13.6,0M292.8,795.7a6.8,6.8 0 1,0 13.6,0a6.8,6.8 0 1,0 -13.6,0M293.2,794.5a6.8,6.8 0 1,0 13.6,0a6.8,6.8 0 1,0 -13.6,0M294.3,793.8a6.8,6.8 0 1,0 13.6,0a6.8,6.8 0 1,0 -13.6,0M295.8,792.1a6.8,6.8 0 1,0 13.6,0a6.8,6.8 0 1,0 -13.6,0M296.2,791.3a6.8,6.8 0 1,0 13.6,0a6.8,6.8 0 1,0 -13.6,0M297.3,790.5a6.8,6.8 0 1,0 13.6,0a6.8,6.8 0 1,0 -13.6,0M298.8,790.2a6.8,6.8 0 1,0 13.6,0a6.8,6.8 0 1,0 -13.6,0M300.0,790.7a6.8,6.8 0 1,0 13.6,0a6.8,6.8 0 1,0 -13.6,0M301.8,790.5a6.8,6.8 0 1,0 13.6,0a6.8,6.8 0 1,0 -13.6,0M303.6,789.9a6.8,6.8 0 1,0 13.6,0a6.8,6.8 0 1,0 -13.6,0M304.9,790.4a6.8,6.8 0 1,0 13.6,0a6.8,6.8 0 1,0 -13.6,0M306.1,789.9a6.8,6.8 0 1,0 13.6,0a6.8,6.8 0 1,0 -13.6,0M307.7,789.7a6.8,6.8 0 1,0 13.6,0a6.8,6.8 0 1,0 -13.6,0M309.6,788.3a6.8,6.8 0 1,0 13.6,0a6.8,6.8 0 1,0 -13.6,0M310.5,787.4a6.8,6.8 0 1,0 13.6,0a6.8,6.8 0 1,0 -13.6,0M311.7,786.7a6.8,6.8 0 1,0 13.6,0a6.8,6.8 0 1,0 -13.6,0M313.0,787.4a6.8,6.8 0 1,0 13.6,0a6.8,6.8 0 1,0 -13.6,0M313.9,785.0a6.8,6.8 0 1,0 13.6,0a6.8,6.8 0 1,0 -13.6,0M314.9,783.7a6.8,6.8 0 1,0 13.6,0a6.8,6.8 0 1,0 -13.6,0M315.9,783.3a6.8,6.8 0 1,0 13.6,0a6.8,6.8 0 1,0 -13.6,0M316.1,781.0a6.8,6.8 0 1,0 13.6,0a6.8,6.8 0 1,0 -13.6,0M317.3,781.1a6.8,6.8 0 1,0 13.6,0a6.8,6.8 0 1,0 -13.6,0M317.9,778.7a6.8,6.8 0 1,0 13.6,0a6.8,6.8 0 1,0 -13.6,0M318.9,776.5a6.8,6.8 0 1,0 13.6,0a6.8,6.8 0 1,0 -13.6,0M318.6,776.7a6.8,6.8 0 1,0 13.6,0a6.8,6.8 0 1,0 -13.6,0M319.6,773.9a6.8,6.8 0 1,0 13.6,0a6.8,6.8 0 1,0 -13.6,0M320.4,774.4a6.8,6.8 0 1,0 13.6,0a6.8,6.8 0 1,0 -13.6,0M320.9,771.7a6.8,6.8 0 1,0 13.6,0a6.8,6.8 0 1,0 -13.6,0M321.1,769.8a6.8,6.8 0 1,0 13.6,0a6.8,6.8 0 1,0 -13.6,0M322.5,769.3a6.8,6.8 0 1,0 13.6,0a6.8,6.8 0 1,0 -13.6,0M323.2,767.0a6.8,6.8 0 1,0 13.6,0a6.8,6.8 0 1,0 -13.6,0M323.1,765.6a6.8,6.8 0 1,0 13.6,0a6.8,6.8 0 1,0 -13.6,0M323.9,764.3a6.8,6.8 0 1,0 13.6,0a6.8,6.8 0 1,0 -13.6,0M324.4,763.6a6.8,6.8 0 1,0 13.6,0a6.8,6.8 0 1,0 -13.6,0M325.1,761.6a6.8,6.8 0 1,0 13.6,0a6.8,6.8 0 1,0 -13.6,0M325.5,762.1a6.8,6.8 0 1,0 13.6,0a6.8,6.8 0 1,0 -13.6,0M326.4,759.9a6.8,6.8 0 1,0 13.6,0a6.8,6.8 0 1,0 -13.6,0M327.3,758.6a6.8,6.8 0 1,0 13.6,0a6.8,6.8 0 1,0 -13.6,0M327.9,756.9a6.8,6.8 0 1,0 13.6,0a6.8,6.8 0 1,0 -13.6,0M328.8,756.2a6.8,6.8 0 1,0 13.6,0a6.8,6.8 0 1,0 -13.6,0M330.7,755.3a6.8,6.8 0 1,0 13.6,0a6.8,6.8 0 1,0 -13.6,0M331.9,753.6a6.8,6.8 0 1,0 13.6,0a6.8,6.8 0 1,0 -13.6,0M332.4,753.7a6.8,6.8 0 1,0 13.6,0a6.8,6.8 0 1,0 -13.6,0M334.3,753.5a6.8,6.8 0 1,0 13.6,0a6.8,6.8 0 1,0 -13.6,0M335.7,753.5a6.8,6.8 0 1,0 13.6,0a6.8,6.8 0 1,0 -13.6,0M337.6,754.2a6.8,6.8 0 1,0 13.6,0a6.8,6.8 0 1,0 -13.6,0M338.6,753.4a6.8,6.8 0 1,0 13.6,0a6.8,6.8 0 1,0 -13.6,0M340.7,753.0a6.8,6.8 0 1,0 13.6,0a6.8,6.8 0 1,0 -13.6,0M341.4,753.0a6.8,6.8 0 1,0 13.6,0a6.8,6.8 0 1,0 -13.6,0M342.8,753.4a6.8,6.8 0 1,0 13.6,0a6.8,6.8 0 1,0 -13.6,0M344.9,751.7a6.8,6.8 0 1,0 13.6,0a6.8,6.8 0 1,0 -13.6,0M345.3,750.3a6.8,6.8 0 1,0 13.6,0a6.8,6.8 0 1,0 -13.6,0M346.4,749.2a6.8,6.8 0 1,0 13.6,0a6.8,6.8 0 1,0 -13.6,0M347.5,748.9a6.8,6.8 0 1,0 13.6,0a6.8,6.8 0 1,0 -13.6,0M348.1,746.6a6.8,6.8 0 1,0 13.6,0a6.8,6.8 0 1,0 -13.6,0M349.3,745.3a6.8,6.8 0 1,0 13.6,0a6.8,6.8 0 1,0 -13.6,0M349.5,744.5a6.8,6.8 0 1,0 13.6,0a6.8,6.8 0 1,0 -13.6,0M350.3,742.7a6.8,6.8 0 1,0 13.6,0a6.8,6.8 0 1,0 -13.6,0M351.0,741.8a6.8,6.8 0 1,0 13.6,0a6.8,6.8 0 1,0 -13.6,0M352.0,740.9a6.8,6.8 0 1,0 13.6,0a6.8,6.8 0 1,0 -13.6,0M352.7,739.8a6.8,6.8 0 1,0 13.6,0a6.8,6.8 0 1,0 -13.6,0M353.2,738.2a6.8,6.8 0 1,0 13.6,0a6.8,6.8 0 1,0 -13.6,0M353.5,737.4a6.8,6.8 0 1,0 13.6,0a6.8,6.8 0 1,0 -13.6,0M354.3,736.3a6.8,6.8 0 1,0 13.6,0a6.8,6.8 0 1,0 -13.6,0M355.0,734.4a6.8,6.8 0 1,0 13.6,0a6.8,6.8 0 1,0 -13.6,0M355.1,733.2a6.8,6.8 0 1,0 13.6,0a6.8,6.8 0 1,0 -13.6,0M355.8,730.5a6.8,6.8 0 1,0 13.6,0a6.8,6.8 0 1,0 -13.6,0M356.1,729.2a6.8,6.8 0 1,0 13.6,0a6.8,6.8 0 1,0 -13.6,0M356.9,728.8a6.8,6.8 0 1,0 13.6,0a6.8,6.8 0 1,0 -13.6,0M357.5,726.2a6.8,6.8 0 1,0 13.6,0a6.8,6.8 0 1,0 -13.6,0M358.7,725.9a6.8,6.8 0 1,0 13.6,0a6.8,6.8 0 1,0 -13.6,0M358.6,723.5a6.8,6.8 0 1,0 13.6,0a6.8,6.8 0 1,0 -13.6,0M359.4,722.8a6.8,6.8 0 1,0 13.6,0a6.8,6.8 0 1,0 -13.6,0M360.8,722.6a6.8,6.8 0 1,0 13.6,0a6.8,6.8 0 1,0 -13.6,0M361.4,719.9a6.8,6.8 0 1,0 13.6,0a6.8,6.8 0 1,0 -13.6,0M362.0,719.0a6.8,6.8 0 1,0 13.6,0a6.8,6.8 0 1,0 -13.6,0M362.9,717.1a6.8,6.8 0 1,0 13.6,0a6.8,6.8 0 1,0 -13.6,0M364.2,717.7a6.8,6.8 0 1,0 13.6,0a6.8,6.8 0 1,0 -13.6,0M365.6,715.4a6.8,6.8 0 1,0 13.6,0a6.8,6.8 0 1,0 -13.6,0M366.8,715.0a6.8,6.8 0 1,0 13.6,0a6.8,6.8 0 1,0 -13.6,0M368.5,715.4a6.8,6.8 0 1,0 13.6,0a6.8,6.8 0 1,0 -13.6,0M370.2,716.1a6.8,6.8 0 1,0 13.6,0a6.8,6.8 0 1,0 -13.6,0M370.9,715.3a6.8,6.8 0 1,0 13.6,0a6.8,6.8 0 1,0 -13.6,0M373.2,715.7a6.8,6.8 0 1,0 13.6,0a6.8,6.8 0 1,0 -13.6,0M374.2,715.5a6.8,6.8 0 1,0 13.6,0a6.8,6.8 0 1,0 -13.6,0M375.9,716.1a6.8,6.8 0 1,0 13.6,0a6.8,6.8 0 1,0 -13.6,0M377.0,715.4a6.8,6.8 0 1,0 13.6,0a6.8,6.8 0 1,0 -13.6,0M378.2,712.7a6.8,6.8 0 1,0 13.6,0a6.8,6.8 0 1,0 -13.6,0M379.4,712.2a6.8,6.8 0 1,0 13.6,0a6.8,6.8 0 1,0 -13.6,0M379.5,712.1a6.8,6.8 0 1,0 13.6,0a6.8,6.8 0 1,0 -13.6,0M380.3,710.0a6.8,6.8 0 1,0 13.6,0a6.8,6.8 0 1,0 -13.6,0M381.5,709.3a6.8,6.8 0 1,0 13.6,0a6.8,6.8 0 1,0 -13.6,0M382.1,706.7a6.8,6.8 0 1,0 13.6,0a6.8,6.8 0 1,0 -13.6,0M382.7,705.3a6.8,6.8 0 1,0 13.6,0a6.8,6.8 0 1,0 -13.6,0M383.6,704.3a6.8,6.8 0 1,0 13.6,0a6.8,6.8 0 1,0 -13.6,0M384.5,702.7a6.8,6.8 0 1,0 13.6,0a6.8,6.8 0 1,0 -13.6,0M384.7,701.4a6.8,6.8 0 1,0 13.6,0a6.8,6.8 0 1,0 -13.6,0M385.9,701.2a6.8,6.8 0 1,0 13.6,0a6.8,6.8 0 1,0 -13.6,0M386.4,699.4a6.8,6.8 0 1,0 13.6,0a6.8,6.8 0 1,0 -13.6,0M386.6,697.0a6.8,6.8 0 1,0 13.6,0a6.8,6.8 0 1,0 -13.6,0M387.6,696.4a6.8,6.8 0 1,0 13.6,0a6.8,6.8 0 1,0 -13.6,0M387.4,694.4a6.8,6.8 0 1,0 13.6,0a6.8,6.8 0 1,0 -13.6,0M388.1,694.1a6.8,6.8 0 1,0 13.6,0a6.8,6.8 0 1,0 -13.6,0M389.6,691.7a6.8,6.8 0 1,0 13.6,0a6.8,6.8 0 1,0 -13.6,0M390.1,690.6a6.8,6.8 0 1,0 13.6,0a6.8,6.8 0 1,0 -13.6,0M390.6,690.3a6.8,6.8 0 1,0 13.6,0a6.8,6.8 0 1,0 -13.6,0M391.3,688.8a6.8,6.8 0 1,0 13.6,0a6.8,6.8 0 1,0 -13.6,0M391.7,685.9a6.8,6.8 0 1,0 13.6,0a6.8,6.8 0 1,0 -13.6,0M392.6,685.8a6.8,6.8 0 1,0 13.6,0a6.8,6.8 0 1,0 -13.6,0M393.0,684.1a6.8,6.8 0 1,0 13.6,0a6.8,6.8 0 1,0 -13.6,0M394.0,682.1a6.8,6.8 0 1,0 13.6,0a6.8,6.8 0 1,0 -13.6,0M394.9,681.7a6.8,6.8 0 1,0 13.6,0a6.8,6.8 0 1,0 -13.6,0M396.1,681.2a6.8,6.8 0 1,0 13.6,0a6.8,6.8 0 1,0 -13.6,0M397.3,680.9a6.8,6.8 0 1,0 13.6,0a6.8,6.8 0 1,0 -13.6,0M399.0,680.1a6.8,6.8 0 1,0 13.6,0a6.8,6.8 0 1,0 -13.6,0M400.3,679.2a6.8,6.8 0 1,0 13.6,0a6.8,6.8 0 1,0 -13.6,0M401.6,679.2a6.8,6.8 0 1,0 13.6,0a6.8,6.8 0 1,0 -13.6,0M403.0,678.7a6.8,6.8 0 1,0 13.6,0a6.8,6.8 0 1,0 -13.6,0M404.8,678.5a6.8,6.8 0 1,0 13.6,0a6.8,6.8 0 1,0 -13.6,0M405.9,677.5a6.8,6.8 0 1,0 13.6,0a6.8,6.8 0 1,0 -13.6,0M407.2,677.8a6.8,6.8 0 1,0 13.6,0a6.8,6.8 0 1,0 -13.6,0M409.1,678.1a6.8,6.8 0 1,0 13.6,0a6.8,6.8 0 1,0 -13.6,0M410.5,676.5a6.8,6.8 0 1,0 13.6,0a6.8,6.8 0 1,0 -13.6,0M411.9,675.5a6.8,6.8 0 1,0 13.6,0a6.8,6.8 0 1,0 -13.6,0M412.7,674.0a6.8,6.8 0 1,0 13.6,0a6.8,6.8 0 1,0 -13.6,0M413.6,674.0a6.8,6.8 0 1,0 13.6,0a6.8,6.8 0 1,0 -13.6,0M414.7,673.2a6.8,6.8 0 1,0 13.6,0a6.8,6.8 0 1,0 -13.6,0M415.2,671.8a6.8,6.8 0 1,0 13.6,0a6.8,6.8 0 1,0 -13.6,0M416.0,670.1a6.8,6.8 0 1,0 13.6,0a6.8,6.8 0 1,0 -13.6,0M416.2,668.5a6.8,6.8 0 1,0 13.6,0a6.8,6.8 0 1,0 -13.6,0M417.6,666.7a6.8,6.8 0 1,0 13.6,0a6.8,6.8 0 1,0 -13.6,0M418.3,665.9a6.8,6.8 0 1,0 13.6,0a6.8,6.8 0 1,0 -13.6,0M418.4,663.5a6.8,6.8 0 1,0 13.6,0a6.8,6.8 0 1,0 -13.6,0M419.1,662.5a6.8,6.8 0 1,0 13.6,0a6.8,6.8 0 1,0 -13.6,0M420.0,662.6a6.8,6.8 0 1,0 13.6,0a6.8,6.8 0 1,0 -13.6,0M420.9,660.7a6.8,6.8 0 1,0 13.6,0a6.8,6.8 0 1,0 -13.6,0M421.0,658.3a6.8,6.8 0 1,0 13.6,0a6.8,6.8 0 1,0 -13.6,0M422.0,657.9a6.8,6.8 0 1,0 13.6,0a6.8,6.8 0 1,0 -13.6,0M422.6,656.1a6.8,6.8 0 1,0 13.6,0a6.8,6.8 0 1,0 -13.6,0M423.5,654.5a6.8,6.8 0 1,0 13.6,0a6.8,6.8 0 1,0 -13.6,0M423.6,653.3a6.8,6.8 0 1,0 13.6,0a6.8,6.8 0 1,0 -13.6,0M424.6,653.2a6.8,6.8 0 1,0 13.6,0a6.8,6.8 0 1,0 -13.6,0M424.9,651.4a6.8,6.8 0 1,0 13.6,0a6.8,6.8 0 1,0 -13.6,0M426.3,649.3a6.8,6.8 0 1,0 13.6,0a6.8,6.8 0 1,0 -13.6,0M426.4,648.7a6.8,6.8 0 1,0 13.6,0a6.8,6.8 0 1,0 -13.6,0M428.0,648.1a6.8,6.8 0 1,0 13.6,0a6.8,6.8 0 1,0 -13.6,0M428.9,646.0a6.8,6.8 0 1,0 13.6,0a6.8,6.8 0 1,0 -13.6,0M429.7,645.3a6.8,6.8 0 1,0 13.6,0a6.8,6.8 0 1,0 -13.6,0M431.5,644.0a6.8,6.8 0 1,0 13.6,0a6.8,6.8 0 1,0 -13.6,0M432.2,644.0a6.8,6.8 0 1,0 13.6,0a6.8,6.8 0 1,0 -13.6,0M434.3,642.7a6.8,6.8 0 1,0 13.6,0a6.8,6.8 0 1,0 -13.6,0M434.9,642.4a6.8,6.8 0 1,0 13.6,0a6.8,6.8 0 1,0 -13.6,0M436.9,643.3a6.8,6.8 0 1,0 13.6,0a6.8,6.8 0 1,0 -13.6,0M438.0,642.4a6.8,6.8 0 1,0 13.6,0a6.8,6.8 0 1,0 -13.6,0M439.9,643.1a6.8,6.8 0 1,0 13.6,0a6.8,6.8 0 1,0 -13.6,0M441.5,643.0a6.8,6.8 0 1,0 13.6,0a6.8,6.8 0 1,0 -13.6,0M442.2,641.9a6.8,6.8 0 1,0 13.6,0a6.8,6.8 0 1,0 -13.6,0M444.3,642.1a6.8,6.8 0 1,0 13.6,0a6.8,6.8 0 1,0 -13.6,0M444.9,640.9a6.8,6.8 0 1,0 13.6,0a6.8,6.8 0 1,0 -13.6,0M446.2,639.9a6.8,6.8 0 1,0 13.6,0a6.8,6.8 0 1,0 -13.6,0M446.7,638.3a6.8,6.8 0 1,0 13.6,0a6.8,6.8 0 1,0 -13.6,0M448.2,636.6a6.8,6.8 0 1,0 13.6,0a6.8,6.8 0 1,0 -13.6,0M448.3,634.8a6.8,6.8 0 1,0 13.6,0a6.8,6.8 0 1,0 -13.6,0M449.1,633.3a6.8,6.8 0 1,0 13.6,0a6.8,6.8 0 1,0 -13.6,0M449.9,633.1a6.8,6.8 0 1,0 13.6,0a6.8,6.8 0 1,0 -13.6,0M450.6,632.1a6.8,6.8 0 1,0 13.6,0a6.8,6.8 0 1,0 -13.6,0M451.9,630.9a6.8,6.8 0 1,0 13.6,0a6.8,6.8 0 1,0 -13.6,0M452.7,629.3a6.8,6.8 0 1,0 13.6,0a6.8,6.8 0 1,0 -13.6,0M453.5,628.5a6.8,6.8 0 1,0 13.6,0a6.8,6.8 0 1,0 -13.6,0M453.9,627.2a6.8,6.8 0 1,0 13.6,0a6.8,6.8 0 1,0 -13.6,0M454.1,624.1a6.8,6.8 0 1,0 13.6,0a6.8,6.8 0 1,0 -13.6,0M454.7,623.0a6.8,6.8 0 1,0 13.6,0a6.8,6.8 0 1,0 -13.6,0M455.7,622.1a6.8,6.8 0 1,0 13.6,0a6.8,6.8 0 1,0 -13.6,0M456.6,621.4a6.8,6.8 0 1,0 13.6,0a6.8,6.8 0 1,0 -13.6,0M456.7,619.3a6.8,6.8 0 1,0 13.6,0a6.8,6.8 0 1,0 -13.6,0M457.8,617.9a6.8,6.8 0 1,0 13.6,0a6.8,6.8 0 1,0 -13.6,0M458.0,617.0a6.8,6.8 0 1,0 13.6,0a6.8,6.8 0 1,0 -13.6,0M459.0,615.8a6.8,6.8 0 1,0 13.6,0a6.8,6.8 0 1,0 -13.6,0M459.7,615.1a6.8,6.8 0 1,0 13.6,0a6.8,6.8 0 1,0 -13.6,0M460.9,611.9a6.8,6.8 0 1,0 13.6,0a6.8,6.8 0 1,0 -13.6,0" fill="none" stroke="#82b9e3" stroke-width="1.4" opacity="0.9"/><path d="M93.1,1025.6 L100.4,1026.7 L118.2,993.3 L133.8,987.0 L152.6,955.7 L168.3,949.4 L185.0,920.2 L201.7,912.9 L218.4,882.4 L235.0,876.1 L251.2,845.0 L268.8,838.2 L275.8,823.9 L284.3,820.4 L300.8,789.2 L318.4,783.0 L334.7,752.4 L351.4,747.2 L368.1,714.8 L383.8,709.6 L400.5,678.3 L417.2,672.0 L433.9,642.8 L450.6,636.5 L466.2,608.4" fill="none" stroke="#0a6cb9" stroke-width="3.4" stroke-linejoin="round"/><path d="M93.1,1026.7 C94.3,1026.9 96.4,1031.0 100.4,1027.7 C104.4,1024.4 111.3,1009.7 117.1,1006.8 C122.8,1003.9 129.2,1013.2 134.9,1010.4 C140.7,1007.6 146.0,993.0 151.6,990.1 C157.2,987.2 162.7,996.1 168.3,993.3 C173.9,990.5 179.4,976.2 185.0,973.4 C190.6,970.6 196.1,979.4 201.7,976.6 C207.3,973.8 212.8,959.5 218.4,956.7 C224.0,953.9 229.5,962.7 235.1,959.9 C240.7,957.1 246.0,942.6 251.8,940.0 C257.6,937.4 264.7,945.4 269.9,944.0 C275.1,942.6 278.2,930.6 283.1,931.9 C288.1,933.2 293.7,949.0 299.6,951.7 C305.5,954.5 312.7,945.5 318.4,948.4 C324.1,951.3 328.3,966.4 333.8,969.4 C339.3,972.4 346.0,963.4 351.5,966.1 C357.0,968.9 361.2,983.3 366.9,985.9 C372.6,988.5 380.0,978.9 385.7,981.5 C391.4,984.1 395.4,998.8 401.1,1001.4 C406.8,1004.0 414.4,994.7 419.9,996.9 C425.4,999.1 428.3,1012.8 434.2,1014.6 C440.1,1016.5 450.0,1007.1 455.2,1008.0 C460.4,1008.9 463.5,1018.1 465.1,1020.1" fill="none" stroke="#f05a22" stroke-width="3.4" stroke-linejoin="round"/></g><rect x="93.1" y="599.0" width="373.2" height="445.0" fill="none" stroke="#231f20" stroke-width="2"/><path d="M93.1,1028.3 L102.1,1028.3" stroke="#231f20" stroke-width="2"/><text x="72.3" y="1038.8" font-size="26" text-anchor="end" style="font-family:'Liberation Sans',sans-serif" fill="#1a1a1a">10</text><text x="71.4" y="1030.4" font-size="17" style="font-family:'Liberation Sans',sans-serif" fill="#1a1a1a">0</text><path d="M93.1,945.7 L102.1,945.7" stroke="#231f20" stroke-width="2"/><text x="72.3" y="956.2" font-size="26" text-anchor="end" style="font-family:'Liberation Sans',sans-serif" fill="#1a1a1a">10</text><text x="71.4" y="947.8" font-size="17" style="font-family:'Liberation Sans',sans-serif" fill="#1a1a1a">1</text><path d="M93.1,863.1 L102.1,863.1" stroke="#231f20" stroke-width="2"/><text x="72.3" y="873.6" font-size="26" text-anchor="end" style="font-family:'Liberation Sans',sans-serif" fill="#1a1a1a">10</text><text x="71.4" y="865.2" font-size="17" style="font-family:'Liberation Sans',sans-serif" fill="#1a1a1a">2</text><path d="M93.1,780.5 L102.1,780.5" stroke="#231f20" stroke-width="2"/><text x="72.3" y="791.0" font-size="26" text-anchor="end" style="font-family:'Liberation Sans',sans-serif" fill="#1a1a1a">10</text><text x="71.4" y="782.6" font-size="17" style="font-family:'Liberation Sans',sans-serif" fill="#1a1a1a">3</text><path d="M93.1,697.9 L102.1,697.9" stroke="#231f20" stroke-width="2"/><text x="72.3" y="708.4" font-size="26" text-anchor="end" style="font-family:'Liberation Sans',sans-serif" fill="#1a1a1a">10</text><text x="71.4" y="700.0" font-size="17" style="font-family:'Liberation Sans',sans-serif" fill="#1a1a1a">4</text><path d="M93.1,615.3 L102.1,615.3" stroke="#231f20" stroke-width="2"/><text x="72.3" y="625.8" font-size="26" text-anchor="end" style="font-family:'Liberation Sans',sans-serif" fill="#1a1a1a">10</text><text x="71.4" y="617.4" font-size="17" style="font-family:'Liberation Sans',sans-serif" fill="#1a1a1a">5</text><path d="M134.8,1044.0 L134.8,1035.4" stroke="#231f20" stroke-width="2"/><text x="128.8" y="1070.1" font-size="26" text-anchor="middle" style="font-family:'Liberation Sans',sans-serif" fill="#1a1a1a">-40</text><path d="M279.8,1044.0 L279.8,1035.4" stroke="#231f20" stroke-width="2"/><text x="279.8" y="1070.1" font-size="26" text-anchor="middle" style="font-family:'Liberation Sans',sans-serif" fill="#1a1a1a">0</text><path d="M424.7,1044.0 L424.7,1035.4" stroke="#231f20" stroke-width="2"/><text x="424.7" y="1070.1" font-size="26" text-anchor="middle" style="font-family:'Liberation Sans',sans-serif" fill="#1a1a1a">40</text><text x="236.5" y="1093.8" font-size="30" font-style="italic" style="font-family:'Liberation Sans',sans-serif" fill="#1a1a1a">t</text><text transform="translate(254.6,1093.8) scale(1.094,1)" font-size="30" style="font-family:'Liberation Sans',sans-serif" fill="#1a1a1a">(ms)</text><text transform="translate(23.0,953.8) rotate(-90)" font-size="30.5" style="font-family:'Liberation Sans',sans-serif" fill="#1a1a1a">Intensity (arb. units)</text><text transform="translate(199.0,885.0) rotate(-48)" font-size="28" fill="#0a6cb9" style="font-family:'Liberation Sans',sans-serif"><tspan font-style="italic">κ</tspan>=<tspan font-family="Liberation Serif" font-style="italic">π</tspan></text><text transform="translate(201.5,952.0) rotate(-26.5)" font-size="28" fill="#f05a22" style="font-family:'Liberation Sans',sans-serif"><tspan font-style="italic">κ</tspan>=0.3<tspan font-family="Liberation Serif" font-style="italic">π</tspan></text>
<clipPath id="clipm509"><rect x="590.2" y="597.6" width="397.20000000000005" height="444.9999999999999"/></clipPath><g clip-path="url(#clipm509)"><path d="M603.6,1029.0 C604.8,1029.2 606.9,1033.3 610.9,1030.0 C614.9,1026.7 621.9,1012.0 627.6,1009.1 C633.4,1006.2 639.6,1015.5 645.4,1012.7 C651.1,1009.9 656.5,995.2 662.1,992.4 C667.7,989.5 673.2,998.4 678.8,995.6 C684.4,992.8 689.9,978.5 695.5,975.7 C701.1,972.9 706.6,981.7 712.2,978.9 C717.8,976.1 723.3,961.8 728.9,959.0 C734.5,956.2 740.0,965.0 745.6,962.2 C751.2,959.4 756.7,944.8 762.3,942.3 C767.9,939.8 773.6,949.6 779.2,947.5 C784.8,945.4 790.3,931.4 795.8,929.8 C801.3,928.1 806.8,938.7 812.3,937.6 C817.8,936.5 823.4,924.3 828.9,923.2 C834.4,922.1 839.9,932.1 845.4,930.9 C850.9,929.7 856.5,917.3 862.0,916.2 C867.5,915.1 873.0,925.3 878.5,924.3 C884.0,923.3 889.6,911.1 895.1,910.0 C900.6,908.9 906.1,918.9 911.6,917.7 C917.1,916.5 922.7,904.0 928.2,902.9 C933.7,901.8 939.2,912.2 944.7,911.1 C950.2,910.0 956.0,897.4 961.3,896.3 C966.6,895.2 974.1,903.1 976.7,904.5" fill="none" stroke="#f4aa8f" stroke-width="11" stroke-linecap="round" stroke-linejoin="round" opacity="0.6"/><path d="M596.8,1029.1a6.6,6.6 0 1,0 13.2,0a6.6,6.6 0 1,0 -13.2,0M598.1,1030.0a6.6,6.6 0 1,0 13.2,0a6.6,6.6 0 1,0 -13.2,0M599.5,1030.0a6.6,6.6 0 1,0 13.2,0a6.6,6.6 0 1,0 -13.2,0M600.4,1031.8a6.6,6.6 0 1,0 13.2,0a6.6,6.6 0 1,0 -13.2,0M602.1,1030.7a6.6,6.6 0 1,0 13.2,0a6.6,6.6 0 1,0 -13.2,0M604.1,1030.4a6.6,6.6 0 1,0 13.2,0a6.6,6.6 0 1,0 -13.2,0M605.1,1029.5a6.6,6.6 0 1,0 13.2,0a6.6,6.6 0 1,0 -13.2,0M605.9,1027.8a6.6,6.6 0 1,0 13.2,0a6.6,6.6 0 1,0 -13.2,0M606.8,1027.8a6.6,6.6 0 1,0 13.2,0a6.6,6.6 0 1,0 -13.2,0M607.6,1026.4a6.6,6.6 0 1,0 13.2,0a6.6,6.6 0 1,0 -13.2,0M608.6,1024.1a6.6,6.6 0 1,0 13.2,0a6.6,6.6 0 1,0 -13.2,0M609.5,1023.7a6.6,6.6 0 1,0 13.2,0a6.6,6.6 0 1,0 -13.2,0M610.0,1021.5a6.6,6.6 0 1,0 13.2,0a6.6,6.6 0 1,0 -13.2,0M611.2,1021.0a6.6,6.6 0 1,0 13.2,0a6.6,6.6 0 1,0 -13.2,0M611.9,1020.4a6.6,6.6 0 1,0 13.2,0a6.6,6.6 0 1,0 -13.2,0M612.8,1019.2a6.6,6.6 0 1,0 13.2,0a6.6,6.6 0 1,0 -13.2,0M613.4,1017.7a6.6,6.6 0 1,0 13.2,0a6.6,6.6 0 1,0 -13.2,0M614.3,1016.7a6.6,6.6 0 1,0 13.2,0a6.6,6.6 0 1,0 -13.2,0M615.5,1014.2a6.6,6.6 0 1,0 13.2,0a6.6,6.6 0 1,0 -13.2,0M615.8,1013.2a6.6,6.6 0 1,0 13.2,0a6.6,6.6 0 1,0 -13.2,0M617.4,1012.4a6.6,6.6 0 1,0 13.2,0a6.6,6.6 0 1,0 -13.2,0M618.2,1011.1a6.6,6.6 0 1,0 13.2,0a6.6,6.6 0 1,0 -13.2,0M619.2,1010.2a6.6,6.6 0 1,0 13.2,0a6.6,6.6 0 1,0 -13.2,0M620.3,1009.6a6.6,6.6 0 1,0 13.2,0a6.6,6.6 0 1,0 -13.2,0M621.8,1009.5a6.6,6.6 0 1,0 13.2,0a6.6,6.6 0 1,0 -13.2,0M623.3,1009.2a6.6,6.6 0 1,0 13.2,0a6.6,6.6 0 1,0 -13.2,0M625.0,1009.5a6.6,6.6 0 1,0 13.2,0a6.6,6.6 0 1,0 -13.2,0M626.3,1008.5a6.6,6.6 0 1,0 13.2,0a6.6,6.6 0 1,0 -13.2,0M627.8,1010.4a6.6,6.6 0 1,0 13.2,0a6.6,6.6 0 1,0 -13.2,0M629.2,1010.4a6.6,6.6 0 1,0 13.2,0a6.6,6.6 0 1,0 -13.2,0M630.4,1010.6a6.6,6.6 0 1,0 13.2,0a6.6,6.6 0 1,0 -13.2,0M631.8,1011.8a6.6,6.6 0 1,0 13.2,0a6.6,6.6 0 1,0 -13.2,0M632.7,1011.6a6.6,6.6 0 1,0 13.2,0a6.6,6.6 0 1,0 -13.2,0M634.6,1013.6a6.6,6.6 0 1,0 13.2,0a6.6,6.6 0 1,0 -13.2,0M635.4,1013.7a6.6,6.6 0 1,0 13.2,0a6.6,6.6 0 1,0 -13.2,0M637.2,1012.6a6.6,6.6 0 1,0 13.2,0a6.6,6.6 0 1,0 -13.2,0M638.5,1013.2a6.6,6.6 0 1,0 13.2,0a6.6,6.6 0 1,0 -13.2,0M640.3,1011.2a6.6,6.6 0 1,0 13.2,0a6.6,6.6 0 1,0 -13.2,0M641.2,1010.3a6.6,6.6 0 1,0 13.2,0a6.6,6.6 0 1,0 -13.2,0M642.3,1009.6a6.6,6.6 0 1,0 13.2,0a6.6,6.6 0 1,0 -13.2,0M643.4,1009.5a6.6,6.6 0 1,0 13.2,0a6.6,6.6 0 1,0 -13.2,0M644.0,1008.3a6.6,6.6 0 1,0 13.2,0a6.6,6.6 0 1,0 -13.2,0M644.7,1005.6a6.6,6.6 0 1,0 13.2,0a6.6,6.6 0 1,0 -13.2,0M645.7,1004.3a6.6,6.6 0 1,0 13.2,0a6.6,6.6 0 1,0 -13.2,0M646.2,1003.6a6.6,6.6 0 1,0 13.2,0a6.6,6.6 0 1,0 -13.2,0M647.3,1002.0a6.6,6.6 0 1,0 13.2,0a6.6,6.6 0 1,0 -13.2,0M647.7,1001.8a6.6,6.6 0 1,0 13.2,0a6.6,6.6 0 1,0 -13.2,0M648.7,1000.7a6.6,6.6 0 1,0 13.2,0a6.6,6.6 0 1,0 -13.2,0M650.0,998.5a6.6,6.6 0 1,0 13.2,0a6.6,6.6 0 1,0 -13.2,0M650.5,997.5a6.6,6.6 0 1,0 13.2,0a6.6,6.6 0 1,0 -13.2,0M651.5,996.4a6.6,6.6 0 1,0 13.2,0a6.6,6.6 0 1,0 -13.2,0M652.4,995.3a6.6,6.6 0 1,0 13.2,0a6.6,6.6 0 1,0 -13.2,0M653.7,994.0a6.6,6.6 0 1,0 13.2,0a6.6,6.6 0 1,0 -13.2,0M654.5,993.4a6.6,6.6 0 1,0 13.2,0a6.6,6.6 0 1,0 -13.2,0M655.6,992.0a6.6,6.6 0 1,0 13.2,0a6.6,6.6 0 1,0 -13.2,0M657.6,991.9a6.6,6.6 0 1,0 13.2,0a6.6,6.6 0 1,0 -13.2,0M658.8,991.1a6.6,6.6 0 1,0 13.2,0a6.6,6.6 0 1,0 -13.2,0M660.1,992.4a6.6,6.6 0 1,0 13.2,0a6.6,6.6 0 1,0 -13.2,0M661.2,993.0a6.6,6.6 0 1,0 13.2,0a6.6,6.6 0 1,0 -13.2,0M663.0,992.8a6.6,6.6 0 1,0 13.2,0a6.6,6.6 0 1,0 -13.2,0M664.4,994.1a6.6,6.6 0 1,0 13.2,0a6.6,6.6 0 1,0 -13.2,0M665.7,994.6a6.6,6.6 0 1,0 13.2,0a6.6,6.6 0 1,0 -13.2,0M667.1,995.9a6.6,6.6 0 1,0 13.2,0a6.6,6.6 0 1,0 -13.2,0M668.0,995.2a6.6,6.6 0 1,0 13.2,0a6.6,6.6 0 1,0 -13.2,0M670.0,996.9a6.6,6.6 0 1,0 13.2,0a6.6,6.6 0 1,0 -13.2,0M671.1,995.9a6.6,6.6 0 1,0 13.2,0a6.6,6.6 0 1,0 -13.2,0M672.8,995.0a6.6,6.6 0 1,0 13.2,0a6.6,6.6 0 1,0 -13.2,0M673.8,994.1a6.6,6.6 0 1,0 13.2,0a6.6,6.6 0 1,0 -13.2,0M674.9,993.5a6.6,6.6 0 1,0 13.2,0a6.6,6.6 0 1,0 -13.2,0M675.8,992.0a6.6,6.6 0 1,0 13.2,0a6.6,6.6 0 1,0 -13.2,0M677.1,990.3a6.6,6.6 0 1,0 13.2,0a6.6,6.6 0 1,0 -13.2,0M677.8,990.2a6.6,6.6 0 1,0 13.2,0a6.6,6.6 0 1,0 -13.2,0M678.5,988.2a6.6,6.6 0 1,0 13.2,0a6.6,6.6 0 1,0 -13.2,0M679.7,986.9a6.6,6.6 0 1,0 13.2,0a6.6,6.6 0 1,0 -13.2,0M680.0,986.0a6.6,6.6 0 1,0 13.2,0a6.6,6.6 0 1,0 -13.2,0M681.2,984.2a6.6,6.6 0 1,0 13.2,0a6.6,6.6 0 1,0 -13.2,0M681.8,983.3a6.6,6.6 0 1,0 13.2,0a6.6,6.6 0 1,0 -13.2,0M683.0,982.2a6.6,6.6 0 1,0 13.2,0a6.6,6.6 0 1,0 -13.2,0M683.9,980.6a6.6,6.6 0 1,0 13.2,0a6.6,6.6 0 1,0 -13.2,0M684.4,980.1a6.6,6.6 0 1,0 13.2,0a6.6,6.6 0 1,0 -13.2,0M685.7,978.7a6.6,6.6 0 1,0 13.2,0a6.6,6.6 0 1,0 -13.2,0M686.2,977.0a6.6,6.6 0 1,0 13.2,0a6.6,6.6 0 1,0 -13.2,0M687.6,976.1a6.6,6.6 0 1,0 13.2,0a6.6,6.6 0 1,0 -13.2,0M689.0,976.3a6.6,6.6 0 1,0 13.2,0a6.6,6.6 0 1,0 -13.2,0M689.9,974.9a6.6,6.6 0 1,0 13.2,0a6.6,6.6 0 1,0 -13.2,0M691.9,975.4a6.6,6.6 0 1,0 13.2,0a6.6,6.6 0 1,0 -13.2,0M693.4,975.2a6.6,6.6 0 1,0 13.2,0a6.6,6.6 0 1,0 -13.2,0M694.3,975.6a6.6,6.6 0 1,0 13.2,0a6.6,6.6 0 1,0 -13.2,0M696.2,976.2a6.6,6.6 0 1,0 13.2,0a6.6,6.6 0 1,0 -13.2,0M697.1,977.2a6.6,6.6 0 1,0 13.2,0a6.6,6.6 0 1,0 -13.2,0M698.5,977.8a6.6,6.6 0 1,0 13.2,0a6.6,6.6 0 1,0 -13.2,0M700.3,978.1a6.6,6.6 0 1,0 13.2,0a6.6,6.6 0 1,0 -13.2,0M700.9,979.9a6.6,6.6 0 1,0 13.2,0a6.6,6.6 0 1,0 -13.2,0M703.1,980.2a6.6,6.6 0 1,0 13.2,0a6.6,6.6 0 1,0 -13.2,0M704.2,980.1a6.6,6.6 0 1,0 13.2,0a6.6,6.6 0 1,0 -13.2,0M706.0,978.4a6.6,6.6 0 1,0 13.2,0a6.6,6.6 0 1,0 -13.2,0M707.1,978.5a6.6,6.6 0 1,0 13.2,0a6.6,6.6 0 1,0 -13.2,0M708.2,977.0a6.6,6.6 0 1,0 13.2,0a6.6,6.6 0 1,0 -13.2,0M708.9,975.6a6.6,6.6 0 1,0 13.2,0a6.6,6.6 0 1,0 -13.2,0M709.8,974.0a6.6,6.6 0 1,0 13.2,0a6.6,6.6 0 1,0 -13.2,0M711.0,973.2a6.6,6.6 0 1,0 13.2,0a6.6,6.6 0 1,0 -13.2,0M712.0,971.5a6.6,6.6 0 1,0 13.2,0a6.6,6.6 0 1,0 -13.2,0M712.9,971.3a6.6,6.6 0 1,0 13.2,0a6.6,6.6 0 1,0 -13.2,0M713.8,970.4a6.6,6.6 0 1,0 13.2,0a6.6,6.6 0 1,0 -13.2,0M714.6,968.6a6.6,6.6 0 1,0 13.2,0a6.6,6.6 0 1,0 -13.2,0M714.7,967.7a6.6,6.6 0 1,0 13.2,0a6.6,6.6 0 1,0 -13.2,0M715.6,965.7a6.6,6.6 0 1,0 13.2,0a6.6,6.6 0 1,0 -13.2,0M716.9,964.8a6.6,6.6 0 1,0 13.2,0a6.6,6.6 0 1,0 -13.2,0M717.6,964.3a6.6,6.6 0 1,0 13.2,0a6.6,6.6 0 1,0 -13.2,0M718.6,962.1a6.6,6.6 0 1,0 13.2,0a6.6,6.6 0 1,0 -13.2,0M719.3,961.8a6.6,6.6 0 1,0 13.2,0a6.6,6.6 0 1,0 -13.2,0M720.6,960.7a6.6,6.6 0 1,0 13.2,0a6.6,6.6 0 1,0 -13.2,0M721.7,958.8a6.6,6.6 0 1,0 13.2,0a6.6,6.6 0 1,0 -13.2,0M723.2,959.2a6.6,6.6 0 1,0 13.2,0a6.6,6.6 0 1,0 -13.2,0M724.4,958.9a6.6,6.6 0 1,0 13.2,0a6.6,6.6 0 1,0 -13.2,0M726.4,959.1a6.6,6.6 0 1,0 13.2,0a6.6,6.6 0 1,0 -13.2,0M727.8,958.3a6.6,6.6 0 1,0 13.2,0a6.6,6.6 0 1,0 -13.2,0M729.0,960.3a6.6,6.6 0 1,0 13.2,0a6.6,6.6 0 1,0 -13.2,0M729.9,960.0a6.6,6.6 0 1,0 13.2,0a6.6,6.6 0 1,0 -13.2,0M731.4,961.1a6.6,6.6 0 1,0 13.2,0a6.6,6.6 0 1,0 -13.2,0M732.9,961.7a6.6,6.6 0 1,0 13.2,0a6.6,6.6 0 1,0 -13.2,0M734.5,961.5a6.6,6.6 0 1,0 13.2,0a6.6,6.6 0 1,0 -13.2,0M735.4,962.1a6.6,6.6 0 1,0 13.2,0a6.6,6.6 0 1,0 -13.2,0M736.9,962.0a6.6,6.6 0 1,0 13.2,0a6.6,6.6 0 1,0 -13.2,0M739.1,962.9a6.6,6.6 0 1,0 13.2,0a6.6,6.6 0 1,0 -13.2,0M739.7,961.6a6.6,6.6 0 1,0 13.2,0a6.6,6.6 0 1,0 -13.2,0M741.0,960.3a6.6,6.6 0 1,0 13.2,0a6.6,6.6 0 1,0 -13.2,0M742.0,959.7a6.6,6.6 0 1,0 13.2,0a6.6,6.6 0 1,0 -13.2,0M743.2,958.1a6.6,6.6 0 1,0 13.2,0a6.6,6.6 0 1,0 -13.2,0M743.7,956.9a6.6,6.6 0 1,0 13.2,0a6.6,6.6 0 1,0 -13.2,0M744.6,956.0a6.6,6.6 0 1,0 13.2,0a6.6,6.6 0 1,0 -13.2,0M745.9,954.5a6.6,6.6 0 1,0 13.2,0a6.6,6.6 0 1,0 -13.2,0M746.2,952.9a6.6,6.6 0 1,0 13.2,0a6.6,6.6 0 1,0 -13.2,0M747.2,952.3a6.6,6.6 0 1,0 13.2,0a6.6,6.6 0 1,0 -13.2,0M748.4,950.7a6.6,6.6 0 1,0 13.2,0a6.6,6.6 0 1,0 -13.2,0M749.2,949.8a6.6,6.6 0 1,0 13.2,0a6.6,6.6 0 1,0 -13.2,0M749.7,948.2a6.6,6.6 0 1,0 13.2,0a6.6,6.6 0 1,0 -13.2,0M750.7,947.5a6.6,6.6 0 1,0 13.2,0a6.6,6.6 0 1,0 -13.2,0M751.5,946.3a6.6,6.6 0 1,0 13.2,0a6.6,6.6 0 1,0 -13.2,0M752.5,944.4a6.6,6.6 0 1,0 13.2,0a6.6,6.6 0 1,0 -13.2,0M753.6,944.1a6.6,6.6 0 1,0 13.2,0a6.6,6.6 0 1,0 -13.2,0M754.4,942.7a6.6,6.6 0 1,0 13.2,0a6.6,6.6 0 1,0 -13.2,0M756.1,942.8a6.6,6.6 0 1,0 13.2,0a6.6,6.6 0 1,0 -13.2,0M757.9,941.7a6.6,6.6 0 1,0 13.2,0a6.6,6.6 0 1,0 -13.2,0M759.4,942.6a6.6,6.6 0 1,0 13.2,0a6.6,6.6 0 1,0 -13.2,0M760.3,942.6a6.6,6.6 0 1,0 13.2,0a6.6,6.6 0 1,0 -13.2,0M761.5,943.8a6.6,6.6 0 1,0 13.2,0a6.6,6.6 0 1,0 -13.2,0M763.2,944.7a6.6,6.6 0 1,0 13.2,0a6.6,6.6 0 1,0 -13.2,0M764.6,945.2a6.6,6.6 0 1,0 13.2,0a6.6,6.6 0 1,0 -13.2,0M765.8,945.8a6.6,6.6 0 1,0 13.2,0a6.6,6.6 0 1,0 -13.2,0M766.6,946.6a6.6,6.6 0 1,0 13.2,0a6.6,6.6 0 1,0 -13.2,0M767.8,946.6a6.6,6.6 0 1,0 13.2,0a6.6,6.6 0 1,0 -13.2,0M769.9,946.9a6.6,6.6 0 1,0 13.2,0a6.6,6.6 0 1,0 -13.2,0M770.8,947.1a6.6,6.6 0 1,0 13.2,0a6.6,6.6 0 1,0 -13.2,0M772.9,947.0a6.6,6.6 0 1,0 13.2,0a6.6,6.6 0 1,0 -13.2,0M773.5,947.3a6.6,6.6 0 1,0 13.2,0a6.6,6.6 0 1,0 -13.2,0M774.8,946.4a6.6,6.6 0 1,0 13.2,0a6.6,6.6 0 1,0 -13.2,0M776.3,945.3a6.6,6.6 0 1,0 13.2,0a6.6,6.6 0 1,0 -13.2,0M777.5,943.8a6.6,6.6 0 1,0 13.2,0a6.6,6.6 0 1,0 -13.2,0M778.3,941.7a6.6,6.6 0 1,0 13.2,0a6.6,6.6 0 1,0 -13.2,0M779.2,941.3a6.6,6.6 0 1,0 13.2,0a6.6,6.6 0 1,0 -13.2,0M780.0,939.4a6.6,6.6 0 1,0 13.2,0a6.6,6.6 0 1,0 -13.2,0M780.9,939.5a6.6,6.6 0 1,0 13.2,0a6.6,6.6 0 1,0 -13.2,0M781.2,937.3a6.6,6.6 0 1,0 13.2,0a6.6,6.6 0 1,0 -13.2,0M782.5,936.9a6.6,6.6 0 1,0 13.2,0a6.6,6.6 0 1,0 -13.2,0M783.1,934.7a6.6,6.6 0 1,0 13.2,0a6.6,6.6 0 1,0 -13.2,0M784.0,934.2a6.6,6.6 0 1,0 13.2,0a6.6,6.6 0 1,0 -13.2,0M785.4,932.7a6.6,6.6 0 1,0 13.2,0a6.6,6.6 0 1,0 -13.2,0M786.1,931.6a6.6,6.6 0 1,0 13.2,0a6.6,6.6 0 1,0 -13.2,0M787.3,930.7a6.6,6.6 0 1,0 13.2,0a6.6,6.6 0 1,0 -13.2,0M788.3,930.0a6.6,6.6 0 1,0 13.2,0a6.6,6.6 0 1,0 -13.2,0M790.5,929.5a6.6,6.6 0 1,0 13.2,0a6.6,6.6 0 1,0 -13.2,0M791.8,929.3a6.6,6.6 0 1,0 13.2,0a6.6,6.6 0 1,0 -13.2,0M793.1,930.7a6.6,6.6 0 1,0 13.2,0a6.6,6.6 0 1,0 -13.2,0M794.4,931.1a6.6,6.6 0 1,0 13.2,0a6.6,6.6 0 1,0 -13.2,0M795.5,932.2a6.6,6.6 0 1,0 13.2,0a6.6,6.6 0 1,0 -13.2,0M797.0,932.3a6.6,6.6 0 1,0 13.2,0a6.6,6.6 0 1,0 -13.2,0M797.5,934.2a6.6,6.6 0 1,0 13.2,0a6.6,6.6 0 1,0 -13.2,0M799.3,934.8a6.6,6.6 0 1,0 13.2,0a6.6,6.6 0 1,0 -13.2,0M800.1,936.0a6.6,6.6 0 1,0 13.2,0a6.6,6.6 0 1,0 -13.2,0M801.2,936.2a6.6,6.6 0 1,0 13.2,0a6.6,6.6 0 1,0 -13.2,0M802.5,937.3a6.6,6.6 0 1,0 13.2,0a6.6,6.6 0 1,0 -13.2,0M804.1,937.2a6.6,6.6 0 1,0 13.2,0a6.6,6.6 0 1,0 -13.2,0M805.9,938.3a6.6,6.6 0 1,0 13.2,0a6.6,6.6 0 1,0 -13.2,0M806.9,937.4a6.6,6.6 0 1,0 13.2,0a6.6,6.6 0 1,0 -13.2,0M808.3,936.8a6.6,6.6 0 1,0 13.2,0a6.6,6.6 0 1,0 -13.2,0M809.6,935.0a6.6,6.6 0 1,0 13.2,0a6.6,6.6 0 1,0 -13.2,0M810.4,933.5a6.6,6.6 0 1,0 13.2,0a6.6,6.6 0 1,0 -13.2,0M811.6,933.0a6.6,6.6 0 1,0 13.2,0a6.6,6.6 0 1,0 -13.2,0M812.3,931.8a6.6,6.6 0 1,0 13.2,0a6.6,6.6 0 1,0 -13.2,0M813.4,931.3a6.6,6.6 0 1,0 13.2,0a6.6,6.6 0 1,0 -13.2,0M814.3,930.5a6.6,6.6 0 1,0 13.2,0a6.6,6.6 0 1,0 -13.2,0M815.5,928.8a6.6,6.6 0 1,0 13.2,0a6.6,6.6 0 1,0 -13.2,0M816.5,928.0a6.6,6.6 0 1,0 13.2,0a6.6,6.6 0 1,0 -13.2,0M817.8,926.5a6.6,6.6 0 1,0 13.2,0a6.6,6.6 0 1,0 -13.2,0M818.6,925.7a6.6,6.6 0 1,0 13.2,0a6.6,6.6 0 1,0 -13.2,0M820.1,924.3a6.6,6.6 0 1,0 13.2,0a6.6,6.6 0 1,0 -13.2,0M821.2,924.4a6.6,6.6 0 1,0 13.2,0a6.6,6.6 0 1,0 -13.2,0M822.5,922.8a6.6,6.6 0 1,0 13.2,0a6.6,6.6 0 1,0 -13.2,0M823.8,923.6a6.6,6.6 0 1,0 13.2,0a6.6,6.6 0 1,0 -13.2,0M825.6,924.3a6.6,6.6 0 1,0 13.2,0a6.6,6.6 0 1,0 -13.2,0M827.0,923.9a6.6,6.6 0 1,0 13.2,0a6.6,6.6 0 1,0 -13.2,0M827.8,924.7a6.6,6.6 0 1,0 13.2,0a6.6,6.6 0 1,0 -13.2,0M829.0,926.3a6.6,6.6 0 1,0 13.2,0a6.6,6.6 0 1,0 -13.2,0M830.7,927.6a6.6,6.6 0 1,0 13.2,0a6.6,6.6 0 1,0 -13.2,0M831.4,928.5a6.6,6.6 0 1,0 13.2,0a6.6,6.6 0 1,0 -13.2,0M832.6,928.7a6.6,6.6 0 1,0 13.2,0a6.6,6.6 0 1,0 -13.2,0M834.2,929.0a6.6,6.6 0 1,0 13.2,0a6.6,6.6 0 1,0 -13.2,0M835.0,930.9a6.6,6.6 0 1,0 13.2,0a6.6,6.6 0 1,0 -13.2,0M836.5,930.6a6.6,6.6 0 1,0 13.2,0a6.6,6.6 0 1,0 -13.2,0M838.3,931.2a6.6,6.6 0 1,0 13.2,0a6.6,6.6 0 1,0 -13.2,0M839.3,930.4a6.6,6.6 0 1,0 13.2,0a6.6,6.6 0 1,0 -13.2,0M840.9,929.9a6.6,6.6 0 1,0 13.2,0a6.6,6.6 0 1,0 -13.2,0M841.9,929.1a6.6,6.6 0 1,0 13.2,0a6.6,6.6 0 1,0 -13.2,0M843.6,927.8a6.6,6.6 0 1,0 13.2,0a6.6,6.6 0 1,0 -13.2,0M844.3,926.3a6.6,6.6 0 1,0 13.2,0a6.6,6.6 0 1,0 -13.2,0M845.1,926.0a6.6,6.6 0 1,0 13.2,0a6.6,6.6 0 1,0 -13.2,0M845.9,925.2a6.6,6.6 0 1,0 13.2,0a6.6,6.6 0 1,0 -13.2,0M847.5,922.8a6.6,6.6 0 1,0 13.2,0a6.6,6.6 0 1,0 -13.2,0M848.5,922.1a6.6,6.6 0 1,0 13.2,0a6.6,6.6 0 1,0 -13.2,0M849.3,921.5a6.6,6.6 0 1,0 13.2,0a6.6,6.6 0 1,0 -13.2,0M849.9,920.3a6.6,6.6 0 1,0 13.2,0a6.6,6.6 0 1,0 -13.2,0M851.3,919.4a6.6,6.6 0 1,0 13.2,0a6.6,6.6 0 1,0 -13.2,0M852.0,918.3a6.6,6.6 0 1,0 13.2,0a6.6,6.6 0 1,0 -13.2,0M853.8,917.3a6.6,6.6 0 1,0 13.2,0a6.6,6.6 0 1,0 -13.2,0M854.8,915.8a6.6,6.6 0 1,0 13.2,0a6.6,6.6 0 1,0 -13.2,0M856.3,915.9a6.6,6.6 0 1,0 13.2,0a6.6,6.6 0 1,0 -13.2,0M857.9,916.7a6.6,6.6 0 1,0 13.2,0a6.6,6.6 0 1,0 -13.2,0M859.2,916.4a6.6,6.6 0 1,0 13.2,0a6.6,6.6 0 1,0 -13.2,0M860.5,917.9a6.6,6.6 0 1,0 13.2,0a6.6,6.6 0 1,0 -13.2,0M861.4,919.2a6.6,6.6 0 1,0 13.2,0a6.6,6.6 0 1,0 -13.2,0M862.9,918.9a6.6,6.6 0 1,0 13.2,0a6.6,6.6 0 1,0 -13.2,0M864.3,919.9a6.6,6.6 0 1,0 13.2,0a6.6,6.6 0 1,0 -13.2,0M865.0,921.8a6.6,6.6 0 1,0 13.2,0a6.6,6.6 0 1,0 -13.2,0M866.4,922.4a6.6,6.6 0 1,0 13.2,0a6.6,6.6 0 1,0 -13.2,0M867.7,923.1a6.6,6.6 0 1,0 13.2,0a6.6,6.6 0 1,0 -13.2,0M868.7,923.3a6.6,6.6 0 1,0 13.2,0a6.6,6.6 0 1,0 -13.2,0M870.0,924.6a6.6,6.6 0 1,0 13.2,0a6.6,6.6 0 1,0 -13.2,0M872.0,924.4a6.6,6.6 0 1,0 13.2,0a6.6,6.6 0 1,0 -13.2,0M873.4,923.6a6.6,6.6 0 1,0 13.2,0a6.6,6.6 0 1,0 -13.2,0M874.3,922.9a6.6,6.6 0 1,0 13.2,0a6.6,6.6 0 1,0 -13.2,0M876.0,921.4a6.6,6.6 0 1,0 13.2,0a6.6,6.6 0 1,0 -13.2,0M876.8,920.7a6.6,6.6 0 1,0 13.2,0a6.6,6.6 0 1,0 -13.2,0M878.0,919.8a6.6,6.6 0 1,0 13.2,0a6.6,6.6 0 1,0 -13.2,0M878.6,918.7a6.6,6.6 0 1,0 13.2,0a6.6,6.6 0 1,0 -13.2,0M879.8,918.2a6.6,6.6 0 1,0 13.2,0a6.6,6.6 0 1,0 -13.2,0M880.6,917.1a6.6,6.6 0 1,0 13.2,0a6.6,6.6 0 1,0 -13.2,0M881.4,915.1a6.6,6.6 0 1,0 13.2,0a6.6,6.6 0 1,0 -13.2,0M882.3,913.7a6.6,6.6 0 1,0 13.2,0a6.6,6.6 0 1,0 -13.2,0M883.9,913.6a6.6,6.6 0 1,0 13.2,0a6.6,6.6 0 1,0 -13.2,0M884.5,911.7a6.6,6.6 0 1,0 13.2,0a6.6,6.6 0 1,0 -13.2,0M885.9,911.6a6.6,6.6 0 1,0 13.2,0a6.6,6.6 0 1,0 -13.2,0M887.5,910.9a6.6,6.6 0 1,0 13.2,0a6.6,6.6 0 1,0 -13.2,0M888.7,909.4a6.6,6.6 0 1,0 13.2,0a6.6,6.6 0 1,0 -13.2,0M890.1,909.5a6.6,6.6 0 1,0 13.2,0a6.6,6.6 0 1,0 -13.2,0M891.6,910.5a6.6,6.6 0 1,0 13.2,0a6.6,6.6 0 1,0 -13.2,0M892.7,910.7a6.6,6.6 0 1,0 13.2,0a6.6,6.6 0 1,0 -13.2,0M894.4,911.1a6.6,6.6 0 1,0 13.2,0a6.6,6.6 0 1,0 -13.2,0M895.6,913.4a6.6,6.6 0 1,0 13.2,0a6.6,6.6 0 1,0 -13.2,0M896.9,913.5a6.6,6.6 0 1,0 13.2,0a6.6,6.6 0 1,0 -13.2,0M897.8,914.8a6.6,6.6 0 1,0 13.2,0a6.6,6.6 0 1,0 -13.2,0M899.0,916.3a6.6,6.6 0 1,0 13.2,0a6.6,6.6 0 1,0 -13.2,0M900.3,916.1a6.6,6.6 0 1,0 13.2,0a6.6,6.6 0 1,0 -13.2,0M901.8,917.1a6.6,6.6 0 1,0 13.2,0a6.6,6.6 0 1,0 -13.2,0M903.0,918.0a6.6,6.6 0 1,0 13.2,0a6.6,6.6 0 1,0 -13.2,0M904.0,918.2a6.6,6.6 0 1,0 13.2,0a6.6,6.6 0 1,0 -13.2,0M905.9,917.4a6.6,6.6 0 1,0 13.2,0a6.6,6.6 0 1,0 -13.2,0M907.2,916.7a6.6,6.6 0 1,0 13.2,0a6.6,6.6 0 1,0 -13.2,0M908.1,915.8a6.6,6.6 0 1,0 13.2,0a6.6,6.6 0 1,0 -13.2,0M909.0,914.8a6.6,6.6 0 1,0 13.2,0a6.6,6.6 0 1,0 -13.2,0M910.5,913.6a6.6,6.6 0 1,0 13.2,0a6.6,6.6 0 1,0 -13.2,0M911.5,913.3a6.6,6.6 0 1,0 13.2,0a6.6,6.6 0 1,0 -13.2,0M912.7,910.8a6.6,6.6 0 1,0 13.2,0a6.6,6.6 0 1,0 -13.2,0M913.6,910.4a6.6,6.6 0 1,0 13.2,0a6.6,6.6 0 1,0 -13.2,0M913.9,908.8a6.6,6.6 0 1,0 13.2,0a6.6,6.6 0 1,0 -13.2,0M915.0,907.2a6.6,6.6 0 1,0 13.2,0a6.6,6.6 0 1,0 -13.2,0M916.3,907.5a6.6,6.6 0 1,0 13.2,0a6.6,6.6 0 1,0 -13.2,0M917.1,906.3a6.6,6.6 0 1,0 13.2,0a6.6,6.6 0 1,0 -13.2,0M918.5,904.1a6.6,6.6 0 1,0 13.2,0a6.6,6.6 0 1,0 -13.2,0M919.8,903.9a6.6,6.6 0 1,0 13.2,0a6.6,6.6 0 1,0 -13.2,0M921.2,903.5a6.6,6.6 0 1,0 13.2,0a6.6,6.6 0 1,0 -13.2,0M922.6,902.6a6.6,6.6 0 1,0 13.2,0a6.6,6.6 0 1,0 -13.2,0M924.1,903.7a6.6,6.6 0 1,0 13.2,0a6.6,6.6 0 1,0 -13.2,0M925.5,903.5a6.6,6.6 0 1,0 13.2,0a6.6,6.6 0 1,0 -13.2,0M926.7,904.4a6.6,6.6 0 1,0 13.2,0a6.6,6.6 0 1,0 -13.2,0M927.4,904.5a6.6,6.6 0 1,0 13.2,0a6.6,6.6 0 1,0 -13.2,0M928.6,905.7a6.6,6.6 0 1,0 13.2,0a6.6,6.6 0 1,0 -13.2,0M929.8,907.2a6.6,6.6 0 1,0 13.2,0a6.6,6.6 0 1,0 -13.2,0M931.4,908.2a6.6,6.6 0 1,0 13.2,0a6.6,6.6 0 1,0 -13.2,0M932.3,909.3a6.6,6.6 0 1,0 13.2,0a6.6,6.6 0 1,0 -13.2,0M933.5,909.8a6.6,6.6 0 1,0 13.2,0a6.6,6.6 0 1,0 -13.2,0M935.1,910.5a6.6,6.6 0 1,0 13.2,0a6.6,6.6 0 1,0 -13.2,0M936.1,911.7a6.6,6.6 0 1,0 13.2,0a6.6,6.6 0 1,0 -13.2,0M938.0,910.9a6.6,6.6 0 1,0 13.2,0a6.6,6.6 0 1,0 -13.2,0M939.2,910.7a6.6,6.6 0 1,0 13.2,0a6.6,6.6 0 1,0 -13.2,0M940.6,909.5a6.6,6.6 0 1,0 13.2,0a6.6,6.6 0 1,0 -13.2,0M941.3,908.5a6.6,6.6 0 1,0 13.2,0a6.6,6.6 0 1,0 -13.2,0M943.0,907.4a6.6,6.6 0 1,0 13.2,0a6.6,6.6 0 1,0 -13.2,0M943.8,906.4a6.6,6.6 0 1,0 13.2,0a6.6,6.6 0 1,0 -13.2,0M944.6,905.2a6.6,6.6 0 1,0 13.2,0a6.6,6.6 0 1,0 -13.2,0M945.7,904.0a6.6,6.6 0 1,0 13.2,0a6.6,6.6 0 1,0 -13.2,0M946.3,902.8a6.6,6.6 0 1,0 13.2,0a6.6,6.6 0 1,0 -13.2,0M947.4,902.2a6.6,6.6 0 1,0 13.2,0a6.6,6.6 0 1,0 -13.2,0M948.3,900.3a6.6,6.6 0 1,0 13.2,0a6.6,6.6 0 1,0 -13.2,0M949.6,899.8a6.6,6.6 0 1,0 13.2,0a6.6,6.6 0 1,0 -13.2,0M950.8,898.2a6.6,6.6 0 1,0 13.2,0a6.6,6.6 0 1,0 -13.2,0M951.7,897.7a6.6,6.6 0 1,0 13.2,0a6.6,6.6 0 1,0 -13.2,0M952.6,897.8a6.6,6.6 0 1,0 13.2,0a6.6,6.6 0 1,0 -13.2,0M954.1,895.8a6.6,6.6 0 1,0 13.2,0a6.6,6.6 0 1,0 -13.2,0M955.8,895.7a6.6,6.6 0 1,0 13.2,0a6.6,6.6 0 1,0 -13.2,0M957.4,896.2a6.6,6.6 0 1,0 13.2,0a6.6,6.6 0 1,0 -13.2,0M958.5,896.1a6.6,6.6 0 1,0 13.2,0a6.6,6.6 0 1,0 -13.2,0M960.3,897.1a6.6,6.6 0 1,0 13.2,0a6.6,6.6 0 1,0 -13.2,0M961.7,898.1a6.6,6.6 0 1,0 13.2,0a6.6,6.6 0 1,0 -13.2,0M963.1,898.7a6.6,6.6 0 1,0 13.2,0a6.6,6.6 0 1,0 -13.2,0M963.7,899.5a6.6,6.6 0 1,0 13.2,0a6.6,6.6 0 1,0 -13.2,0M965.4,900.9a6.6,6.6 0 1,0 13.2,0a6.6,6.6 0 1,0 -13.2,0M966.2,901.0a6.6,6.6 0 1,0 13.2,0a6.6,6.6 0 1,0 -13.2,0M967.6,903.3a6.6,6.6 0 1,0 13.2,0a6.6,6.6 0 1,0 -13.2,0M968.7,902.7a6.6,6.6 0 1,0 13.2,0a6.6,6.6 0 1,0 -13.2,0M969.5,903.7a6.6,6.6 0 1,0 13.2,0a6.6,6.6 0 1,0 -13.2,0" fill="none" stroke="#f4aa8f" stroke-width="1.4" opacity="0.9"/><path d="M603.6,1027.9 C604.8,1028.1 606.7,1034.4 610.9,1029.0 C615.1,1023.6 623.1,1002.2 628.7,995.6 C634.3,989.0 638.6,995.6 644.3,989.3 C650.0,983.0 657.4,964.3 663.1,958.0 C668.9,951.7 673.4,957.6 678.8,951.7 C684.2,945.8 689.9,928.6 695.5,922.5 C701.1,916.4 706.6,921.5 712.2,915.2 C717.8,908.9 723.4,890.8 728.9,884.7 C734.4,878.6 740.0,884.6 745.5,878.4 C751.0,872.2 756.1,853.5 761.7,847.3 C767.3,841.1 774.8,844.2 779.0,841.0 C783.2,837.8 784.2,831.5 787.0,828.0 C789.8,824.5 791.7,823.5 796.0,820.0 C800.3,816.5 807.3,812.5 813.0,807.0 C818.7,801.5 824.7,792.3 830.0,787.0 C835.3,781.7 839.7,780.8 845.0,775.0 C850.3,769.2 856.2,758.3 862.0,752.0 C867.8,745.7 874.5,743.2 880.0,737.0 C885.5,730.8 889.7,721.2 895.0,715.0 C900.3,708.8 906.3,706.3 912.0,700.0 C917.7,693.7 923.5,683.2 929.0,677.0 C934.5,670.8 939.7,669.5 945.0,663.0 C950.3,656.5 955.8,645.2 961.0,638.0 C966.2,630.8 973.5,623.0 976.0,620.0" fill="none" stroke="#82b9e3" stroke-width="10" stroke-linecap="round" stroke-linejoin="round" opacity="0.5"/><path d="M596.9,1028.4a6.8,6.8 0 1,0 13.6,0a6.8,6.8 0 1,0 -13.6,0M598.2,1029.8a6.8,6.8 0 1,0 13.6,0a6.8,6.8 0 1,0 -13.6,0M599.1,1030.9a6.8,6.8 0 1,0 13.6,0a6.8,6.8 0 1,0 -13.6,0M599.6,1030.9a6.8,6.8 0 1,0 13.6,0a6.8,6.8 0 1,0 -13.6,0M601.9,1031.4a6.8,6.8 0 1,0 13.6,0a6.8,6.8 0 1,0 -13.6,0M603.2,1029.6a6.8,6.8 0 1,0 13.6,0a6.8,6.8 0 1,0 -13.6,0M603.8,1028.8a6.8,6.8 0 1,0 13.6,0a6.8,6.8 0 1,0 -13.6,0M604.8,1028.2a6.8,6.8 0 1,0 13.6,0a6.8,6.8 0 1,0 -13.6,0M605.0,1026.3a6.8,6.8 0 1,0 13.6,0a6.8,6.8 0 1,0 -13.6,0M606.0,1026.3a6.8,6.8 0 1,0 13.6,0a6.8,6.8 0 1,0 -13.6,0M607.2,1023.5a6.8,6.8 0 1,0 13.6,0a6.8,6.8 0 1,0 -13.6,0M607.9,1022.1a6.8,6.8 0 1,0 13.6,0a6.8,6.8 0 1,0 -13.6,0M608.4,1020.8a6.8,6.8 0 1,0 13.6,0a6.8,6.8 0 1,0 -13.6,0M608.5,1020.9a6.8,6.8 0 1,0 13.6,0a6.8,6.8 0 1,0 -13.6,0M609.3,1018.2a6.8,6.8 0 1,0 13.6,0a6.8,6.8 0 1,0 -13.6,0M610.8,1018.2a6.8,6.8 0 1,0 13.6,0a6.8,6.8 0 1,0 -13.6,0M610.7,1017.0a6.8,6.8 0 1,0 13.6,0a6.8,6.8 0 1,0 -13.6,0M611.6,1015.1a6.8,6.8 0 1,0 13.6,0a6.8,6.8 0 1,0 -13.6,0M611.9,1014.3a6.8,6.8 0 1,0 13.6,0a6.8,6.8 0 1,0 -13.6,0M613.0,1013.0a6.8,6.8 0 1,0 13.6,0a6.8,6.8 0 1,0 -13.6,0M613.9,1010.3a6.8,6.8 0 1,0 13.6,0a6.8,6.8 0 1,0 -13.6,0M614.0,1008.7a6.8,6.8 0 1,0 13.6,0a6.8,6.8 0 1,0 -13.6,0M614.4,1007.1a6.8,6.8 0 1,0 13.6,0a6.8,6.8 0 1,0 -13.6,0M615.2,1006.8a6.8,6.8 0 1,0 13.6,0a6.8,6.8 0 1,0 -13.6,0M615.6,1005.6a6.8,6.8 0 1,0 13.6,0a6.8,6.8 0 1,0 -13.6,0M616.6,1003.6a6.8,6.8 0 1,0 13.6,0a6.8,6.8 0 1,0 -13.6,0M617.8,1002.6a6.8,6.8 0 1,0 13.6,0a6.8,6.8 0 1,0 -13.6,0M618.0,1001.3a6.8,6.8 0 1,0 13.6,0a6.8,6.8 0 1,0 -13.6,0M619.2,999.1a6.8,6.8 0 1,0 13.6,0a6.8,6.8 0 1,0 -13.6,0M620.2,997.8a6.8,6.8 0 1,0 13.6,0a6.8,6.8 0 1,0 -13.6,0M620.8,998.1a6.8,6.8 0 1,0 13.6,0a6.8,6.8 0 1,0 -13.6,0M620.9,996.8a6.8,6.8 0 1,0 13.6,0a6.8,6.8 0 1,0 -13.6,0M622.2,995.3a6.8,6.8 0 1,0 13.6,0a6.8,6.8 0 1,0 -13.6,0M623.0,993.2a6.8,6.8 0 1,0 13.6,0a6.8,6.8 0 1,0 -13.6,0M624.4,994.1a6.8,6.8 0 1,0 13.6,0a6.8,6.8 0 1,0 -13.6,0M625.8,993.2a6.8,6.8 0 1,0 13.6,0a6.8,6.8 0 1,0 -13.6,0M628.0,993.3a6.8,6.8 0 1,0 13.6,0a6.8,6.8 0 1,0 -13.6,0M628.9,992.0a6.8,6.8 0 1,0 13.6,0a6.8,6.8 0 1,0 -13.6,0M630.6,992.9a6.8,6.8 0 1,0 13.6,0a6.8,6.8 0 1,0 -13.6,0M631.7,992.7a6.8,6.8 0 1,0 13.6,0a6.8,6.8 0 1,0 -13.6,0M633.8,992.7a6.8,6.8 0 1,0 13.6,0a6.8,6.8 0 1,0 -13.6,0M634.4,992.3a6.8,6.8 0 1,0 13.6,0a6.8,6.8 0 1,0 -13.6,0M635.7,990.2a6.8,6.8 0 1,0 13.6,0a6.8,6.8 0 1,0 -13.6,0M637.4,990.4a6.8,6.8 0 1,0 13.6,0a6.8,6.8 0 1,0 -13.6,0M638.1,989.3a6.8,6.8 0 1,0 13.6,0a6.8,6.8 0 1,0 -13.6,0M639.2,986.8a6.8,6.8 0 1,0 13.6,0a6.8,6.8 0 1,0 -13.6,0M639.8,985.3a6.8,6.8 0 1,0 13.6,0a6.8,6.8 0 1,0 -13.6,0M640.4,984.0a6.8,6.8 0 1,0 13.6,0a6.8,6.8 0 1,0 -13.6,0M641.8,984.4a6.8,6.8 0 1,0 13.6,0a6.8,6.8 0 1,0 -13.6,0M642.0,981.2a6.8,6.8 0 1,0 13.6,0a6.8,6.8 0 1,0 -13.6,0M643.6,980.9a6.8,6.8 0 1,0 13.6,0a6.8,6.8 0 1,0 -13.6,0M643.7,979.0a6.8,6.8 0 1,0 13.6,0a6.8,6.8 0 1,0 -13.6,0M644.6,978.9a6.8,6.8 0 1,0 13.6,0a6.8,6.8 0 1,0 -13.6,0M645.2,976.7a6.8,6.8 0 1,0 13.6,0a6.8,6.8 0 1,0 -13.6,0M645.5,976.4a6.8,6.8 0 1,0 13.6,0a6.8,6.8 0 1,0 -13.6,0M646.1,974.2a6.8,6.8 0 1,0 13.6,0a6.8,6.8 0 1,0 -13.6,0M647.6,972.2a6.8,6.8 0 1,0 13.6,0a6.8,6.8 0 1,0 -13.6,0M648.2,972.5a6.8,6.8 0 1,0 13.6,0a6.8,6.8 0 1,0 -13.6,0M648.8,970.8a6.8,6.8 0 1,0 13.6,0a6.8,6.8 0 1,0 -13.6,0M649.0,968.8a6.8,6.8 0 1,0 13.6,0a6.8,6.8 0 1,0 -13.6,0M649.8,968.3a6.8,6.8 0 1,0 13.6,0a6.8,6.8 0 1,0 -13.6,0M650.6,966.2a6.8,6.8 0 1,0 13.6,0a6.8,6.8 0 1,0 -13.6,0M652.1,965.7a6.8,6.8 0 1,0 13.6,0a6.8,6.8 0 1,0 -13.6,0M652.8,963.6a6.8,6.8 0 1,0 13.6,0a6.8,6.8 0 1,0 -13.6,0M653.1,962.9a6.8,6.8 0 1,0 13.6,0a6.8,6.8 0 1,0 -13.6,0M653.9,960.7a6.8,6.8 0 1,0 13.6,0a6.8,6.8 0 1,0 -13.6,0M654.7,959.2a6.8,6.8 0 1,0 13.6,0a6.8,6.8 0 1,0 -13.6,0M655.6,959.7a6.8,6.8 0 1,0 13.6,0a6.8,6.8 0 1,0 -13.6,0M657.2,957.9a6.8,6.8 0 1,0 13.6,0a6.8,6.8 0 1,0 -13.6,0M657.8,956.3a6.8,6.8 0 1,0 13.6,0a6.8,6.8 0 1,0 -13.6,0M658.7,955.3a6.8,6.8 0 1,0 13.6,0a6.8,6.8 0 1,0 -13.6,0M660.7,955.9a6.8,6.8 0 1,0 13.6,0a6.8,6.8 0 1,0 -13.6,0M661.8,955.5a6.8,6.8 0 1,0 13.6,0a6.8,6.8 0 1,0 -13.6,0M663.7,955.1a6.8,6.8 0 1,0 13.6,0a6.8,6.8 0 1,0 -13.6,0M665.1,955.2a6.8,6.8 0 1,0 13.6,0a6.8,6.8 0 1,0 -13.6,0M666.3,955.0a6.8,6.8 0 1,0 13.6,0a6.8,6.8 0 1,0 -13.6,0M667.7,954.3a6.8,6.8 0 1,0 13.6,0a6.8,6.8 0 1,0 -13.6,0M669.5,954.2a6.8,6.8 0 1,0 13.6,0a6.8,6.8 0 1,0 -13.6,0M670.3,953.9a6.8,6.8 0 1,0 13.6,0a6.8,6.8 0 1,0 -13.6,0M671.8,952.2a6.8,6.8 0 1,0 13.6,0a6.8,6.8 0 1,0 -13.6,0M672.2,951.0a6.8,6.8 0 1,0 13.6,0a6.8,6.8 0 1,0 -13.6,0M673.3,950.0a6.8,6.8 0 1,0 13.6,0a6.8,6.8 0 1,0 -13.6,0M674.3,949.1a6.8,6.8 0 1,0 13.6,0a6.8,6.8 0 1,0 -13.6,0M675.3,947.8a6.8,6.8 0 1,0 13.6,0a6.8,6.8 0 1,0 -13.6,0M675.7,946.2a6.8,6.8 0 1,0 13.6,0a6.8,6.8 0 1,0 -13.6,0M676.8,945.2a6.8,6.8 0 1,0 13.6,0a6.8,6.8 0 1,0 -13.6,0M677.2,943.9a6.8,6.8 0 1,0 13.6,0a6.8,6.8 0 1,0 -13.6,0M678.3,942.3a6.8,6.8 0 1,0 13.6,0a6.8,6.8 0 1,0 -13.6,0M679.1,941.5a6.8,6.8 0 1,0 13.6,0a6.8,6.8 0 1,0 -13.6,0M679.3,939.3a6.8,6.8 0 1,0 13.6,0a6.8,6.8 0 1,0 -13.6,0M679.6,938.5a6.8,6.8 0 1,0 13.6,0a6.8,6.8 0 1,0 -13.6,0M681.0,936.4a6.8,6.8 0 1,0 13.6,0a6.8,6.8 0 1,0 -13.6,0M681.5,935.6a6.8,6.8 0 1,0 13.6,0a6.8,6.8 0 1,0 -13.6,0M682.2,933.1a6.8,6.8 0 1,0 13.6,0a6.8,6.8 0 1,0 -13.6,0M682.9,932.6a6.8,6.8 0 1,0 13.6,0a6.8,6.8 0 1,0 -13.6,0M683.4,931.0a6.8,6.8 0 1,0 13.6,0a6.8,6.8 0 1,0 -13.6,0M684.1,930.3a6.8,6.8 0 1,0 13.6,0a6.8,6.8 0 1,0 -13.6,0M684.8,928.9a6.8,6.8 0 1,0 13.6,0a6.8,6.8 0 1,0 -13.6,0M685.0,926.5a6.8,6.8 0 1,0 13.6,0a6.8,6.8 0 1,0 -13.6,0M686.2,926.2a6.8,6.8 0 1,0 13.6,0a6.8,6.8 0 1,0 -13.6,0M686.8,925.0a6.8,6.8 0 1,0 13.6,0a6.8,6.8 0 1,0 -13.6,0M688.1,922.5a6.8,6.8 0 1,0 13.6,0a6.8,6.8 0 1,0 -13.6,0M688.9,921.7a6.8,6.8 0 1,0 13.6,0a6.8,6.8 0 1,0 -13.6,0M689.6,920.5a6.8,6.8 0 1,0 13.6,0a6.8,6.8 0 1,0 -13.6,0M691.1,919.8a6.8,6.8 0 1,0 13.6,0a6.8,6.8 0 1,0 -13.6,0M692.3,918.9a6.8,6.8 0 1,0 13.6,0a6.8,6.8 0 1,0 -13.6,0M694.0,919.1a6.8,6.8 0 1,0 13.6,0a6.8,6.8 0 1,0 -13.6,0M695.6,919.3a6.8,6.8 0 1,0 13.6,0a6.8,6.8 0 1,0 -13.6,0M696.7,919.7a6.8,6.8 0 1,0 13.6,0a6.8,6.8 0 1,0 -13.6,0M698.0,918.6a6.8,6.8 0 1,0 13.6,0a6.8,6.8 0 1,0 -13.6,0M699.7,918.3a6.8,6.8 0 1,0 13.6,0a6.8,6.8 0 1,0 -13.6,0M701.0,918.7a6.8,6.8 0 1,0 13.6,0a6.8,6.8 0 1,0 -13.6,0M702.6,916.5a6.8,6.8 0 1,0 13.6,0a6.8,6.8 0 1,0 -13.6,0M704.1,915.7a6.8,6.8 0 1,0 13.6,0a6.8,6.8 0 1,0 -13.6,0M705.1,915.2a6.8,6.8 0 1,0 13.6,0a6.8,6.8 0 1,0 -13.6,0M706.1,915.3a6.8,6.8 0 1,0 13.6,0a6.8,6.8 0 1,0 -13.6,0M707.2,913.0a6.8,6.8 0 1,0 13.6,0a6.8,6.8 0 1,0 -13.6,0M708.0,912.2a6.8,6.8 0 1,0 13.6,0a6.8,6.8 0 1,0 -13.6,0M708.4,909.9a6.8,6.8 0 1,0 13.6,0a6.8,6.8 0 1,0 -13.6,0M709.3,909.4a6.8,6.8 0 1,0 13.6,0a6.8,6.8 0 1,0 -13.6,0M710.4,908.9a6.8,6.8 0 1,0 13.6,0a6.8,6.8 0 1,0 -13.6,0M710.7,906.3a6.8,6.8 0 1,0 13.6,0a6.8,6.8 0 1,0 -13.6,0M711.6,904.3a6.8,6.8 0 1,0 13.6,0a6.8,6.8 0 1,0 -13.6,0M711.5,904.1a6.8,6.8 0 1,0 13.6,0a6.8,6.8 0 1,0 -13.6,0M712.6,901.9a6.8,6.8 0 1,0 13.6,0a6.8,6.8 0 1,0 -13.6,0M713.3,902.0a6.8,6.8 0 1,0 13.6,0a6.8,6.8 0 1,0 -13.6,0M713.6,899.7a6.8,6.8 0 1,0 13.6,0a6.8,6.8 0 1,0 -13.6,0M714.1,898.1a6.8,6.8 0 1,0 13.6,0a6.8,6.8 0 1,0 -13.6,0M715.5,896.9a6.8,6.8 0 1,0 13.6,0a6.8,6.8 0 1,0 -13.6,0M716.1,896.6a6.8,6.8 0 1,0 13.6,0a6.8,6.8 0 1,0 -13.6,0M716.4,893.9a6.8,6.8 0 1,0 13.6,0a6.8,6.8 0 1,0 -13.6,0M717.4,893.1a6.8,6.8 0 1,0 13.6,0a6.8,6.8 0 1,0 -13.6,0M717.6,891.4a6.8,6.8 0 1,0 13.6,0a6.8,6.8 0 1,0 -13.6,0M718.8,890.4a6.8,6.8 0 1,0 13.6,0a6.8,6.8 0 1,0 -13.6,0M718.9,889.0a6.8,6.8 0 1,0 13.6,0a6.8,6.8 0 1,0 -13.6,0M719.5,888.0a6.8,6.8 0 1,0 13.6,0a6.8,6.8 0 1,0 -13.6,0M720.6,886.1a6.8,6.8 0 1,0 13.6,0a6.8,6.8 0 1,0 -13.6,0M721.9,886.0a6.8,6.8 0 1,0 13.6,0a6.8,6.8 0 1,0 -13.6,0M722.1,884.3a6.8,6.8 0 1,0 13.6,0a6.8,6.8 0 1,0 -13.6,0M723.5,884.1a6.8,6.8 0 1,0 13.6,0a6.8,6.8 0 1,0 -13.6,0M725.3,882.0a6.8,6.8 0 1,0 13.6,0a6.8,6.8 0 1,0 -13.6,0M726.2,881.3a6.8,6.8 0 1,0 13.6,0a6.8,6.8 0 1,0 -13.6,0M728.4,881.3a6.8,6.8 0 1,0 13.6,0a6.8,6.8 0 1,0 -13.6,0M729.5,881.6a6.8,6.8 0 1,0 13.6,0a6.8,6.8 0 1,0 -13.6,0M731.0,881.8a6.8,6.8 0 1,0 13.6,0a6.8,6.8 0 1,0 -13.6,0M732.6,880.8a6.8,6.8 0 1,0 13.6,0a6.8,6.8 0 1,0 -13.6,0M734.1,880.9a6.8,6.8 0 1,0 13.6,0a6.8,6.8 0 1,0 -13.6,0M735.3,880.6a6.8,6.8 0 1,0 13.6,0a6.8,6.8 0 1,0 -13.6,0M736.4,880.3a6.8,6.8 0 1,0 13.6,0a6.8,6.8 0 1,0 -13.6,0M737.8,879.0a6.8,6.8 0 1,0 13.6,0a6.8,6.8 0 1,0 -13.6,0M739.1,878.4a6.8,6.8 0 1,0 13.6,0a6.8,6.8 0 1,0 -13.6,0M739.3,876.5a6.8,6.8 0 1,0 13.6,0a6.8,6.8 0 1,0 -13.6,0M740.5,876.6a6.8,6.8 0 1,0 13.6,0a6.8,6.8 0 1,0 -13.6,0M741.7,874.6a6.8,6.8 0 1,0 13.6,0a6.8,6.8 0 1,0 -13.6,0M741.6,873.7a6.8,6.8 0 1,0 13.6,0a6.8,6.8 0 1,0 -13.6,0M742.7,872.0a6.8,6.8 0 1,0 13.6,0a6.8,6.8 0 1,0 -13.6,0M743.6,870.7a6.8,6.8 0 1,0 13.6,0a6.8,6.8 0 1,0 -13.6,0M744.0,869.9a6.8,6.8 0 1,0 13.6,0a6.8,6.8 0 1,0 -13.6,0M744.5,867.5a6.8,6.8 0 1,0 13.6,0a6.8,6.8 0 1,0 -13.6,0M745.6,865.8a6.8,6.8 0 1,0 13.6,0a6.8,6.8 0 1,0 -13.6,0M745.6,865.7a6.8,6.8 0 1,0 13.6,0a6.8,6.8 0 1,0 -13.6,0M746.0,864.3a6.8,6.8 0 1,0 13.6,0a6.8,6.8 0 1,0 -13.6,0M747.2,862.1a6.8,6.8 0 1,0 13.6,0a6.8,6.8 0 1,0 -13.6,0M747.4,861.4a6.8,6.8 0 1,0 13.6,0a6.8,6.8 0 1,0 -13.6,0M748.6,858.8a6.8,6.8 0 1,0 13.6,0a6.8,6.8 0 1,0 -13.6,0M748.8,858.2a6.8,6.8 0 1,0 13.6,0a6.8,6.8 0 1,0 -13.6,0M749.4,856.4a6.8,6.8 0 1,0 13.6,0a6.8,6.8 0 1,0 -13.6,0M749.7,855.6a6.8,6.8 0 1,0 13.6,0a6.8,6.8 0 1,0 -13.6,0M751.0,853.2a6.8,6.8 0 1,0 13.6,0a6.8,6.8 0 1,0 -13.6,0M751.1,853.4a6.8,6.8 0 1,0 13.6,0a6.8,6.8 0 1,0 -13.6,0M752.4,851.7a6.8,6.8 0 1,0 13.6,0a6.8,6.8 0 1,0 -13.6,0M752.4,850.5a6.8,6.8 0 1,0 13.6,0a6.8,6.8 0 1,0 -13.6,0M754.2,849.8a6.8,6.8 0 1,0 13.6,0a6.8,6.8 0 1,0 -13.6,0M754.8,846.8a6.8,6.8 0 1,0 13.6,0a6.8,6.8 0 1,0 -13.6,0M756.0,846.0a6.8,6.8 0 1,0 13.6,0a6.8,6.8 0 1,0 -13.6,0M756.9,846.5a6.8,6.8 0 1,0 13.6,0a6.8,6.8 0 1,0 -13.6,0M758.3,844.1a6.8,6.8 0 1,0 13.6,0a6.8,6.8 0 1,0 -13.6,0M759.2,845.0a6.8,6.8 0 1,0 13.6,0a6.8,6.8 0 1,0 -13.6,0M760.5,843.9a6.8,6.8 0 1,0 13.6,0a6.8,6.8 0 1,0 -13.6,0M762.2,842.6a6.8,6.8 0 1,0 13.6,0a6.8,6.8 0 1,0 -13.6,0M763.9,842.2a6.8,6.8 0 1,0 13.6,0a6.8,6.8 0 1,0 -13.6,0M764.8,842.6a6.8,6.8 0 1,0 13.6,0a6.8,6.8 0 1,0 -13.6,0M766.3,841.8a6.8,6.8 0 1,0 13.6,0a6.8,6.8 0 1,0 -13.6,0M768.3,843.0a6.8,6.8 0 1,0 13.6,0a6.8,6.8 0 1,0 -13.6,0M770.1,841.5a6.8,6.8 0 1,0 13.6,0a6.8,6.8 0 1,0 -13.6,0M771.0,841.3a6.8,6.8 0 1,0 13.6,0a6.8,6.8 0 1,0 -13.6,0M772.5,840.9a6.8,6.8 0 1,0 13.6,0a6.8,6.8 0 1,0 -13.6,0M773.9,839.6a6.8,6.8 0 1,0 13.6,0a6.8,6.8 0 1,0 -13.6,0M774.0,839.1a6.8,6.8 0 1,0 13.6,0a6.8,6.8 0 1,0 -13.6,0M774.9,837.7a6.8,6.8 0 1,0 13.6,0a6.8,6.8 0 1,0 -13.6,0M776.0,837.0a6.8,6.8 0 1,0 13.6,0a6.8,6.8 0 1,0 -13.6,0M776.7,835.0a6.8,6.8 0 1,0 13.6,0a6.8,6.8 0 1,0 -13.6,0M777.0,833.5a6.8,6.8 0 1,0 13.6,0a6.8,6.8 0 1,0 -13.6,0M777.6,832.6a6.8,6.8 0 1,0 13.6,0a6.8,6.8 0 1,0 -13.6,0M778.5,830.0a6.8,6.8 0 1,0 13.6,0a6.8,6.8 0 1,0 -13.6,0M779.0,829.1a6.8,6.8 0 1,0 13.6,0a6.8,6.8 0 1,0 -13.6,0M780.3,827.5a6.8,6.8 0 1,0 13.6,0a6.8,6.8 0 1,0 -13.6,0M781.3,827.3a6.8,6.8 0 1,0 13.6,0a6.8,6.8 0 1,0 -13.6,0M781.6,826.2a6.8,6.8 0 1,0 13.6,0a6.8,6.8 0 1,0 -13.6,0M782.7,824.1a6.8,6.8 0 1,0 13.6,0a6.8,6.8 0 1,0 -13.6,0M784.4,823.4a6.8,6.8 0 1,0 13.6,0a6.8,6.8 0 1,0 -13.6,0M785.8,822.9a6.8,6.8 0 1,0 13.6,0a6.8,6.8 0 1,0 -13.6,0M786.5,822.6a6.8,6.8 0 1,0 13.6,0a6.8,6.8 0 1,0 -13.6,0M787.3,821.6a6.8,6.8 0 1,0 13.6,0a6.8,6.8 0 1,0 -13.6,0M788.5,819.5a6.8,6.8 0 1,0 13.6,0a6.8,6.8 0 1,0 -13.6,0M790.6,819.6a6.8,6.8 0 1,0 13.6,0a6.8,6.8 0 1,0 -13.6,0M791.1,817.6a6.8,6.8 0 1,0 13.6,0a6.8,6.8 0 1,0 -13.6,0M793.1,817.8a6.8,6.8 0 1,0 13.6,0a6.8,6.8 0 1,0 -13.6,0M794.1,815.9a6.8,6.8 0 1,0 13.6,0a6.8,6.8 0 1,0 -13.6,0M795.2,815.5a6.8,6.8 0 1,0 13.6,0a6.8,6.8 0 1,0 -13.6,0M796.0,814.6a6.8,6.8 0 1,0 13.6,0a6.8,6.8 0 1,0 -13.6,0M797.6,813.7a6.8,6.8 0 1,0 13.6,0a6.8,6.8 0 1,0 -13.6,0M798.6,812.4a6.8,6.8 0 1,0 13.6,0a6.8,6.8 0 1,0 -13.6,0M800.3,812.6a6.8,6.8 0 1,0 13.6,0a6.8,6.8 0 1,0 -13.6,0M801.4,811.2a6.8,6.8 0 1,0 13.6,0a6.8,6.8 0 1,0 -13.6,0M802.6,810.5a6.8,6.8 0 1,0 13.6,0a6.8,6.8 0 1,0 -13.6,0M803.5,809.6a6.8,6.8 0 1,0 13.6,0a6.8,6.8 0 1,0 -13.6,0M804.8,808.3a6.8,6.8 0 1,0 13.6,0a6.8,6.8 0 1,0 -13.6,0M805.3,806.5a6.8,6.8 0 1,0 13.6,0a6.8,6.8 0 1,0 -13.6,0M806.5,805.5a6.8,6.8 0 1,0 13.6,0a6.8,6.8 0 1,0 -13.6,0M808.2,805.3a6.8,6.8 0 1,0 13.6,0a6.8,6.8 0 1,0 -13.6,0M809.1,803.2a6.8,6.8 0 1,0 13.6,0a6.8,6.8 0 1,0 -13.6,0M809.8,803.9a6.8,6.8 0 1,0 13.6,0a6.8,6.8 0 1,0 -13.6,0M810.9,801.8a6.8,6.8 0 1,0 13.6,0a6.8,6.8 0 1,0 -13.6,0M811.7,800.0a6.8,6.8 0 1,0 13.6,0a6.8,6.8 0 1,0 -13.6,0M812.3,799.0a6.8,6.8 0 1,0 13.6,0a6.8,6.8 0 1,0 -13.6,0M813.5,798.2a6.8,6.8 0 1,0 13.6,0a6.8,6.8 0 1,0 -13.6,0M814.9,796.6a6.8,6.8 0 1,0 13.6,0a6.8,6.8 0 1,0 -13.6,0M815.2,795.7a6.8,6.8 0 1,0 13.6,0a6.8,6.8 0 1,0 -13.6,0M816.1,794.5a6.8,6.8 0 1,0 13.6,0a6.8,6.8 0 1,0 -13.6,0M817.1,793.7a6.8,6.8 0 1,0 13.6,0a6.8,6.8 0 1,0 -13.6,0M817.8,793.4a6.8,6.8 0 1,0 13.6,0a6.8,6.8 0 1,0 -13.6,0M819.1,792.3a6.8,6.8 0 1,0 13.6,0a6.8,6.8 0 1,0 -13.6,0M820.4,790.6a6.8,6.8 0 1,0 13.6,0a6.8,6.8 0 1,0 -13.6,0M821.1,790.1a6.8,6.8 0 1,0 13.6,0a6.8,6.8 0 1,0 -13.6,0M821.8,788.4a6.8,6.8 0 1,0 13.6,0a6.8,6.8 0 1,0 -13.6,0M823.0,787.3a6.8,6.8 0 1,0 13.6,0a6.8,6.8 0 1,0 -13.6,0M824.5,785.3a6.8,6.8 0 1,0 13.6,0a6.8,6.8 0 1,0 -13.6,0M825.1,784.0a6.8,6.8 0 1,0 13.6,0a6.8,6.8 0 1,0 -13.6,0M826.4,783.2a6.8,6.8 0 1,0 13.6,0a6.8,6.8 0 1,0 -13.6,0M827.7,784.1a6.8,6.8 0 1,0 13.6,0a6.8,6.8 0 1,0 -13.6,0M828.9,781.9a6.8,6.8 0 1,0 13.6,0a6.8,6.8 0 1,0 -13.6,0M830.3,781.0a6.8,6.8 0 1,0 13.6,0a6.8,6.8 0 1,0 -13.6,0M831.8,781.0a6.8,6.8 0 1,0 13.6,0a6.8,6.8 0 1,0 -13.6,0M832.5,779.2a6.8,6.8 0 1,0 13.6,0a6.8,6.8 0 1,0 -13.6,0M834.2,779.7a6.8,6.8 0 1,0 13.6,0a6.8,6.8 0 1,0 -13.6,0M835.3,777.8a6.8,6.8 0 1,0 13.6,0a6.8,6.8 0 1,0 -13.6,0M836.8,775.9a6.8,6.8 0 1,0 13.6,0a6.8,6.8 0 1,0 -13.6,0M836.9,776.4a6.8,6.8 0 1,0 13.6,0a6.8,6.8 0 1,0 -13.6,0M838.3,773.9a6.8,6.8 0 1,0 13.6,0a6.8,6.8 0 1,0 -13.6,0M839.4,774.6a6.8,6.8 0 1,0 13.6,0a6.8,6.8 0 1,0 -13.6,0M840.3,772.2a6.8,6.8 0 1,0 13.6,0a6.8,6.8 0 1,0 -13.6,0M840.8,770.4a6.8,6.8 0 1,0 13.6,0a6.8,6.8 0 1,0 -13.6,0M842.5,770.1a6.8,6.8 0 1,0 13.6,0a6.8,6.8 0 1,0 -13.6,0M843.4,768.0a6.8,6.8 0 1,0 13.6,0a6.8,6.8 0 1,0 -13.6,0M843.6,766.7a6.8,6.8 0 1,0 13.6,0a6.8,6.8 0 1,0 -13.6,0M844.6,765.5a6.8,6.8 0 1,0 13.6,0a6.8,6.8 0 1,0 -13.6,0M845.3,765.0a6.8,6.8 0 1,0 13.6,0a6.8,6.8 0 1,0 -13.6,0M846.2,763.0a6.8,6.8 0 1,0 13.6,0a6.8,6.8 0 1,0 -13.6,0M846.7,763.6a6.8,6.8 0 1,0 13.6,0a6.8,6.8 0 1,0 -13.6,0M847.7,761.4a6.8,6.8 0 1,0 13.6,0a6.8,6.8 0 1,0 -13.6,0M848.8,760.3a6.8,6.8 0 1,0 13.6,0a6.8,6.8 0 1,0 -13.6,0M849.3,758.6a6.8,6.8 0 1,0 13.6,0a6.8,6.8 0 1,0 -13.6,0M850.2,757.8a6.8,6.8 0 1,0 13.6,0a6.8,6.8 0 1,0 -13.6,0M851.9,756.7a6.8,6.8 0 1,0 13.6,0a6.8,6.8 0 1,0 -13.6,0M852.8,754.8a6.8,6.8 0 1,0 13.6,0a6.8,6.8 0 1,0 -13.6,0M852.9,754.2a6.8,6.8 0 1,0 13.6,0a6.8,6.8 0 1,0 -13.6,0M854.3,753.2a6.8,6.8 0 1,0 13.6,0a6.8,6.8 0 1,0 -13.6,0M855.2,752.1a6.8,6.8 0 1,0 13.6,0a6.8,6.8 0 1,0 -13.6,0M856.6,751.6a6.8,6.8 0 1,0 13.6,0a6.8,6.8 0 1,0 -13.6,0M857.2,749.7a6.8,6.8 0 1,0 13.6,0a6.8,6.8 0 1,0 -13.6,0M858.9,748.2a6.8,6.8 0 1,0 13.6,0a6.8,6.8 0 1,0 -13.6,0M859.3,747.5a6.8,6.8 0 1,0 13.6,0a6.8,6.8 0 1,0 -13.6,0M860.5,747.5a6.8,6.8 0 1,0 13.6,0a6.8,6.8 0 1,0 -13.6,0M862.4,745.6a6.8,6.8 0 1,0 13.6,0a6.8,6.8 0 1,0 -13.6,0M863.0,744.3a6.8,6.8 0 1,0 13.6,0a6.8,6.8 0 1,0 -13.6,0M864.3,743.4a6.8,6.8 0 1,0 13.6,0a6.8,6.8 0 1,0 -13.6,0M865.7,743.6a6.8,6.8 0 1,0 13.6,0a6.8,6.8 0 1,0 -13.6,0M866.7,741.6a6.8,6.8 0 1,0 13.6,0a6.8,6.8 0 1,0 -13.6,0M868.4,740.7a6.8,6.8 0 1,0 13.6,0a6.8,6.8 0 1,0 -13.6,0M869.0,740.2a6.8,6.8 0 1,0 13.6,0a6.8,6.8 0 1,0 -13.6,0M870.4,738.9a6.8,6.8 0 1,0 13.6,0a6.8,6.8 0 1,0 -13.6,0M871.5,738.3a6.8,6.8 0 1,0 13.6,0a6.8,6.8 0 1,0 -13.6,0M872.9,737.7a6.8,6.8 0 1,0 13.6,0a6.8,6.8 0 1,0 -13.6,0M874.0,736.8a6.8,6.8 0 1,0 13.6,0a6.8,6.8 0 1,0 -13.6,0M874.8,735.5a6.8,6.8 0 1,0 13.6,0a6.8,6.8 0 1,0 -13.6,0M875.4,734.8a6.8,6.8 0 1,0 13.6,0a6.8,6.8 0 1,0 -13.6,0M876.5,733.8a6.8,6.8 0 1,0 13.6,0a6.8,6.8 0 1,0 -13.6,0M877.4,732.1a6.8,6.8 0 1,0 13.6,0a6.8,6.8 0 1,0 -13.6,0M877.8,731.0a6.8,6.8 0 1,0 13.6,0a6.8,6.8 0 1,0 -13.6,0M878.7,728.4a6.8,6.8 0 1,0 13.6,0a6.8,6.8 0 1,0 -13.6,0M879.2,727.2a6.8,6.8 0 1,0 13.6,0a6.8,6.8 0 1,0 -13.6,0M880.2,726.9a6.8,6.8 0 1,0 13.6,0a6.8,6.8 0 1,0 -13.6,0M881.0,724.4a6.8,6.8 0 1,0 13.6,0a6.8,6.8 0 1,0 -13.6,0M882.2,724.1a6.8,6.8 0 1,0 13.6,0a6.8,6.8 0 1,0 -13.6,0M882.3,721.9a6.8,6.8 0 1,0 13.6,0a6.8,6.8 0 1,0 -13.6,0M883.2,721.2a6.8,6.8 0 1,0 13.6,0a6.8,6.8 0 1,0 -13.6,0M884.7,721.1a6.8,6.8 0 1,0 13.6,0a6.8,6.8 0 1,0 -13.6,0M885.3,718.4a6.8,6.8 0 1,0 13.6,0a6.8,6.8 0 1,0 -13.6,0M886.0,717.5a6.8,6.8 0 1,0 13.6,0a6.8,6.8 0 1,0 -13.6,0M886.8,715.6a6.8,6.8 0 1,0 13.6,0a6.8,6.8 0 1,0 -13.6,0M888.0,716.0a6.8,6.8 0 1,0 13.6,0a6.8,6.8 0 1,0 -13.6,0M889.1,713.4a6.8,6.8 0 1,0 13.6,0a6.8,6.8 0 1,0 -13.6,0M889.9,712.5a6.8,6.8 0 1,0 13.6,0a6.8,6.8 0 1,0 -13.6,0M891.2,712.0a6.8,6.8 0 1,0 13.6,0a6.8,6.8 0 1,0 -13.6,0M892.5,711.7a6.8,6.8 0 1,0 13.6,0a6.8,6.8 0 1,0 -13.6,0M892.9,709.8a6.8,6.8 0 1,0 13.6,0a6.8,6.8 0 1,0 -13.6,0M894.8,709.1a6.8,6.8 0 1,0 13.6,0a6.8,6.8 0 1,0 -13.6,0M895.5,708.2a6.8,6.8 0 1,0 13.6,0a6.8,6.8 0 1,0 -13.6,0M897.1,708.3a6.8,6.8 0 1,0 13.6,0a6.8,6.8 0 1,0 -13.6,0M898.0,707.4a6.8,6.8 0 1,0 13.6,0a6.8,6.8 0 1,0 -13.6,0M899.3,704.8a6.8,6.8 0 1,0 13.6,0a6.8,6.8 0 1,0 -13.6,0M900.7,704.4a6.8,6.8 0 1,0 13.6,0a6.8,6.8 0 1,0 -13.6,0M901.0,704.6a6.8,6.8 0 1,0 13.6,0a6.8,6.8 0 1,0 -13.6,0M902.1,702.8a6.8,6.8 0 1,0 13.6,0a6.8,6.8 0 1,0 -13.6,0M903.7,702.4a6.8,6.8 0 1,0 13.6,0a6.8,6.8 0 1,0 -13.6,0M904.6,699.9a6.8,6.8 0 1,0 13.6,0a6.8,6.8 0 1,0 -13.6,0M905.5,698.8a6.8,6.8 0 1,0 13.6,0a6.8,6.8 0 1,0 -13.6,0M906.7,698.0a6.8,6.8 0 1,0 13.6,0a6.8,6.8 0 1,0 -13.6,0M907.9,696.6a6.8,6.8 0 1,0 13.6,0a6.8,6.8 0 1,0 -13.6,0M908.4,695.4a6.8,6.8 0 1,0 13.6,0a6.8,6.8 0 1,0 -13.6,0M909.9,695.4a6.8,6.8 0 1,0 13.6,0a6.8,6.8 0 1,0 -13.6,0M910.6,693.7a6.8,6.8 0 1,0 13.6,0a6.8,6.8 0 1,0 -13.6,0M911.1,691.5a6.8,6.8 0 1,0 13.6,0a6.8,6.8 0 1,0 -13.6,0M912.3,691.0a6.8,6.8 0 1,0 13.6,0a6.8,6.8 0 1,0 -13.6,0M912.4,689.1a6.8,6.8 0 1,0 13.6,0a6.8,6.8 0 1,0 -13.6,0M913.3,689.0a6.8,6.8 0 1,0 13.6,0a6.8,6.8 0 1,0 -13.6,0M915.0,686.7a6.8,6.8 0 1,0 13.6,0a6.8,6.8 0 1,0 -13.6,0M915.7,685.7a6.8,6.8 0 1,0 13.6,0a6.8,6.8 0 1,0 -13.6,0M916.4,685.5a6.8,6.8 0 1,0 13.6,0a6.8,6.8 0 1,0 -13.6,0M917.2,684.2a6.8,6.8 0 1,0 13.6,0a6.8,6.8 0 1,0 -13.6,0M917.9,681.4a6.8,6.8 0 1,0 13.6,0a6.8,6.8 0 1,0 -13.6,0M918.9,681.3a6.8,6.8 0 1,0 13.6,0a6.8,6.8 0 1,0 -13.6,0M919.5,679.7a6.8,6.8 0 1,0 13.6,0a6.8,6.8 0 1,0 -13.6,0M920.5,677.8a6.8,6.8 0 1,0 13.6,0a6.8,6.8 0 1,0 -13.6,0M921.5,677.4a6.8,6.8 0 1,0 13.6,0a6.8,6.8 0 1,0 -13.6,0M922.6,676.9a6.8,6.8 0 1,0 13.6,0a6.8,6.8 0 1,0 -13.6,0M923.6,676.4a6.8,6.8 0 1,0 13.6,0a6.8,6.8 0 1,0 -13.6,0M925.1,675.2a6.8,6.8 0 1,0 13.6,0a6.8,6.8 0 1,0 -13.6,0M926.1,673.8a6.8,6.8 0 1,0 13.6,0a6.8,6.8 0 1,0 -13.6,0M927.1,673.1a6.8,6.8 0 1,0 13.6,0a6.8,6.8 0 1,0 -13.6,0M928.2,671.7a6.8,6.8 0 1,0 13.6,0a6.8,6.8 0 1,0 -13.6,0M929.7,670.7a6.8,6.8 0 1,0 13.6,0a6.8,6.8 0 1,0 -13.6,0M930.5,669.0a6.8,6.8 0 1,0 13.6,0a6.8,6.8 0 1,0 -13.6,0M931.5,668.6a6.8,6.8 0 1,0 13.6,0a6.8,6.8 0 1,0 -13.6,0M933.2,668.5a6.8,6.8 0 1,0 13.6,0a6.8,6.8 0 1,0 -13.6,0M934.5,666.6a6.8,6.8 0 1,0 13.6,0a6.8,6.8 0 1,0 -13.6,0M935.8,665.6a6.8,6.8 0 1,0 13.6,0a6.8,6.8 0 1,0 -13.6,0M936.7,664.1a6.8,6.8 0 1,0 13.6,0a6.8,6.8 0 1,0 -13.6,0M937.7,664.2a6.8,6.8 0 1,0 13.6,0a6.8,6.8 0 1,0 -13.6,0M938.9,663.5a6.8,6.8 0 1,0 13.6,0a6.8,6.8 0 1,0 -13.6,0M939.5,662.2a6.8,6.8 0 1,0 13.6,0a6.8,6.8 0 1,0 -13.6,0M940.5,660.5a6.8,6.8 0 1,0 13.6,0a6.8,6.8 0 1,0 -13.6,0M940.8,659.1a6.8,6.8 0 1,0 13.6,0a6.8,6.8 0 1,0 -13.6,0M942.3,657.3a6.8,6.8 0 1,0 13.6,0a6.8,6.8 0 1,0 -13.6,0M943.2,656.7a6.8,6.8 0 1,0 13.6,0a6.8,6.8 0 1,0 -13.6,0M943.4,654.3a6.8,6.8 0 1,0 13.6,0a6.8,6.8 0 1,0 -13.6,0M944.2,653.4a6.8,6.8 0 1,0 13.6,0a6.8,6.8 0 1,0 -13.6,0M945.2,653.5a6.8,6.8 0 1,0 13.6,0a6.8,6.8 0 1,0 -13.6,0M946.3,651.7a6.8,6.8 0 1,0 13.6,0a6.8,6.8 0 1,0 -13.6,0M946.5,649.4a6.8,6.8 0 1,0 13.6,0a6.8,6.8 0 1,0 -13.6,0M947.6,649.0a6.8,6.8 0 1,0 13.6,0a6.8,6.8 0 1,0 -13.6,0M948.3,647.3a6.8,6.8 0 1,0 13.6,0a6.8,6.8 0 1,0 -13.6,0M949.3,645.7a6.8,6.8 0 1,0 13.6,0a6.8,6.8 0 1,0 -13.6,0M949.5,644.5a6.8,6.8 0 1,0 13.6,0a6.8,6.8 0 1,0 -13.6,0M950.6,644.5a6.8,6.8 0 1,0 13.6,0a6.8,6.8 0 1,0 -13.6,0M950.9,642.7a6.8,6.8 0 1,0 13.6,0a6.8,6.8 0 1,0 -13.6,0M952.3,640.6a6.8,6.8 0 1,0 13.6,0a6.8,6.8 0 1,0 -13.6,0M952.4,640.1a6.8,6.8 0 1,0 13.6,0a6.8,6.8 0 1,0 -13.6,0M954.0,639.4a6.8,6.8 0 1,0 13.6,0a6.8,6.8 0 1,0 -13.6,0M954.8,637.3a6.8,6.8 0 1,0 13.6,0a6.8,6.8 0 1,0 -13.6,0M955.4,636.3a6.8,6.8 0 1,0 13.6,0a6.8,6.8 0 1,0 -13.6,0M956.8,634.7a6.8,6.8 0 1,0 13.6,0a6.8,6.8 0 1,0 -13.6,0M957.1,634.1a6.8,6.8 0 1,0 13.6,0a6.8,6.8 0 1,0 -13.6,0M958.7,632.1a6.8,6.8 0 1,0 13.6,0a6.8,6.8 0 1,0 -13.6,0M958.7,630.8a6.8,6.8 0 1,0 13.6,0a6.8,6.8 0 1,0 -13.6,0M960.2,630.6a6.8,6.8 0 1,0 13.6,0a6.8,6.8 0 1,0 -13.6,0M960.8,628.6a6.8,6.8 0 1,0 13.6,0a6.8,6.8 0 1,0 -13.6,0M962.2,628.4a6.8,6.8 0 1,0 13.6,0a6.8,6.8 0 1,0 -13.6,0M963.3,627.4a6.8,6.8 0 1,0 13.6,0a6.8,6.8 0 1,0 -13.6,0M963.6,625.8a6.8,6.8 0 1,0 13.6,0a6.8,6.8 0 1,0 -13.6,0M965.4,625.6a6.8,6.8 0 1,0 13.6,0a6.8,6.8 0 1,0 -13.6,0M965.9,624.3a6.8,6.8 0 1,0 13.6,0a6.8,6.8 0 1,0 -13.6,0M967.2,623.3a6.8,6.8 0 1,0 13.6,0a6.8,6.8 0 1,0 -13.6,0M967.8,621.7a6.8,6.8 0 1,0 13.6,0a6.8,6.8 0 1,0 -13.6,0M969.4,620.2a6.8,6.8 0 1,0 13.6,0a6.8,6.8 0 1,0 -13.6,0" fill="none" stroke="#82b9e3" stroke-width="1.4" opacity="0.9"/><path d="M602.1,1024.4 L609.4,1025.5 L627.2,992.1 L642.8,985.8 L661.6,954.5 L677.3,948.2 L694.0,919.0 L710.7,911.7 L727.4,881.2 L744.0,874.9 L760.2,843.8 L777.3,836.3 L795.3,809.4 L810.3,797.3 L827.0,773.3 L842.6,760.8 L860.4,736.7 L877.1,723.2 L892.7,700.2 L909.4,686.6 L927.2,662.6 L942.8,650.1 L959.5,626.1 L975.2,613.6" fill="none" stroke="#0a6cb9" stroke-width="3.4" stroke-linejoin="round"/><path d="M602.1,1025.5 C603.3,1025.7 605.4,1029.8 609.4,1026.5 C613.4,1023.2 620.4,1008.5 626.1,1005.6 C631.9,1002.7 638.1,1012.0 643.9,1009.2 C649.6,1006.4 655.0,991.8 660.6,988.9 C666.2,986.0 671.7,994.9 677.3,992.1 C682.9,989.3 688.4,975.0 694.0,972.2 C699.6,969.4 705.1,978.2 710.7,975.4 C716.3,972.6 721.8,958.3 727.4,955.5 C733.0,952.7 738.5,961.5 744.1,958.7 C749.7,955.9 755.2,941.2 760.8,938.8 C766.4,936.3 772.1,946.1 777.7,944.0 C783.3,941.9 788.8,927.9 794.3,926.3 C799.8,924.6 805.3,935.2 810.8,934.1 C816.3,933.0 821.9,920.8 827.4,919.7 C832.9,918.6 838.4,928.6 843.9,927.4 C849.4,926.2 855.0,913.8 860.5,912.7 C866.0,911.6 871.5,921.8 877.0,920.8 C882.5,919.8 888.1,907.6 893.6,906.5 C899.1,905.4 904.6,915.4 910.1,914.2 C915.6,913.0 921.2,900.5 926.7,899.4 C932.2,898.3 937.7,908.7 943.2,907.6 C948.7,906.5 954.5,893.9 959.8,892.8 C965.1,891.7 972.6,899.6 975.2,901.0" fill="none" stroke="#f05a22" stroke-width="3.4" stroke-linejoin="round"/></g><rect x="602.2" y="597.6" width="373.2" height="445.0" fill="none" stroke="#231f20" stroke-width="2"/><path d="M602.2,1026.9 L611.2,1026.9" stroke="#231f20" stroke-width="2"/><text x="582.3" y="1038.8" font-size="26" text-anchor="end" style="font-family:'Liberation Sans',sans-serif" fill="#1a1a1a">10</text><text x="582.3" y="1030.4" font-size="17" style="font-family:'Liberation Sans',sans-serif" fill="#1a1a1a">0</text><path d="M602.2,944.3 L611.2,944.3" stroke="#231f20" stroke-width="2"/><text x="582.3" y="956.2" font-size="26" text-anchor="end" style="font-family:'Liberation Sans',sans-serif" fill="#1a1a1a">10</text><text x="582.3" y="947.8" font-size="17" style="font-family:'Liberation Sans',sans-serif" fill="#1a1a1a">1</text><path d="M602.2,861.7 L611.2,861.7" stroke="#231f20" stroke-width="2"/><text x="582.3" y="873.6" font-size="26" text-anchor="end" style="font-family:'Liberation Sans',sans-serif" fill="#1a1a1a">10</text><text x="582.3" y="865.2" font-size="17" style="font-family:'Liberation Sans',sans-serif" fill="#1a1a1a">2</text><path d="M602.2,779.1 L611.2,779.1" stroke="#231f20" stroke-width="2"/><text x="582.3" y="791.0" font-size="26" text-anchor="end" style="font-family:'Liberation Sans',sans-serif" fill="#1a1a1a">10</text><text x="582.3" y="782.6" font-size="17" style="font-family:'Liberation Sans',sans-serif" fill="#1a1a1a">3</text><path d="M602.2,696.5 L611.2,696.5" stroke="#231f20" stroke-width="2"/><text x="582.3" y="708.4" font-size="26" text-anchor="end" style="font-family:'Liberation Sans',sans-serif" fill="#1a1a1a">10</text><text x="582.3" y="700.0" font-size="17" style="font-family:'Liberation Sans',sans-serif" fill="#1a1a1a">4</text><path d="M602.2,613.9 L611.2,613.9" stroke="#231f20" stroke-width="2"/><text x="582.3" y="625.8" font-size="26" text-anchor="end" style="font-family:'Liberation Sans',sans-serif" fill="#1a1a1a">10</text><text x="582.3" y="617.4" font-size="17" style="font-family:'Liberation Sans',sans-serif" fill="#1a1a1a">5</text><path d="M643.9,1042.6 L643.9,1034.0" stroke="#231f20" stroke-width="2"/><text x="637.9" y="1070.1" font-size="26" text-anchor="middle" style="font-family:'Liberation Sans',sans-serif" fill="#1a1a1a">-40</text><path d="M788.9,1042.6 L788.9,1034.0" stroke="#231f20" stroke-width="2"/><text x="788.9" y="1070.1" font-size="26" text-anchor="middle" style="font-family:'Liberation Sans',sans-serif" fill="#1a1a1a">0</text><path d="M933.8,1042.6 L933.8,1034.0" stroke="#231f20" stroke-width="2"/><text x="933.8" y="1070.1" font-size="26" text-anchor="middle" style="font-family:'Liberation Sans',sans-serif" fill="#1a1a1a">40</text><text x="745.6" y="1093.8" font-size="30" font-style="italic" style="font-family:'Liberation Sans',sans-serif" fill="#1a1a1a">t</text><text transform="translate(763.7,1093.8) scale(1.094,1)" font-size="30" style="font-family:'Liberation Sans',sans-serif" fill="#1a1a1a">(ms)</text><text transform="translate(532.1,953.8) rotate(-90)" font-size="30.5" style="font-family:'Liberation Sans',sans-serif" fill="#1a1a1a">Intensity (arb. units)</text><text transform="translate(708.0,883.8) rotate(-48)" font-size="28" fill="#0a6cb9" style="font-family:'Liberation Sans',sans-serif"><tspan font-style="italic">κ</tspan>=<tspan font-family="Liberation Serif" font-style="italic">π</tspan></text><text transform="translate(707.5,953.0) rotate(-26.0)" font-size="28" fill="#f05a22" style="font-family:'Liberation Sans',sans-serif"><tspan font-style="italic">κ</tspan>=0.3<tspan font-family="Liberation Serif" font-style="italic">π</tspan></text>
<path d="M156.0,739.0 C157.4,738.0 161.8,733.7 164.2,733.0 C166.6,732.3 168.2,736.3 170.2,735.0 C172.2,733.7 174.4,726.0 176.2,725.0 C178.0,724.0 179.4,731.0 181.2,729.0 C183.0,727.0 185.4,715.0 187.2,713.0 C189.0,711.0 190.5,720.2 192.2,717.0 C193.9,713.8 195.5,696.8 197.3,694.0 C199.2,691.2 201.5,705.0 203.3,700.0 C205.1,695.0 206.6,668.7 208.3,664.0 C210.0,659.3 211.6,675.5 213.3,672.0 C215.0,668.5 216.5,642.3 218.3,643.0 C220.1,643.7 222.5,670.3 224.3,676.0 C226.2,681.7 227.7,673.8 229.4,677.0 C231.1,680.2 232.4,691.2 234.4,695.0 C236.4,698.8 239.6,697.2 241.4,700.0 C243.2,702.8 244.2,710.8 245.5,712.0 C246.8,713.2 248.0,705.8 249.5,707.0 C251.0,708.2 252.8,719.0 254.5,719.0 C256.2,719.0 257.8,706.8 259.5,707.0 C261.2,707.2 263.5,719.7 265.0,720.0 C266.5,720.3 267.7,710.0 268.6,709.0 C269.5,708.0 270.2,713.2 270.5,714.0" fill="none" stroke="#f4aa8f" stroke-width="6.5" stroke-linecap="round" stroke-linejoin="round"/><path d="M153.4,739.0a2.6,2.6 0 1,0 5.2,0a2.6,2.6 0 1,0 -5.2,0M154.6,738.0a2.6,2.6 0 1,0 5.2,0a2.6,2.6 0 1,0 -5.2,0M155.8,736.9a2.6,2.6 0 1,0 5.2,0a2.6,2.6 0 1,0 -5.2,0M157.1,735.9a2.6,2.6 0 1,0 5.2,0a2.6,2.6 0 1,0 -5.2,0M158.3,734.9a2.6,2.6 0 1,0 5.2,0a2.6,2.6 0 1,0 -5.2,0M159.6,734.0a2.6,2.6 0 1,0 5.2,0a2.6,2.6 0 1,0 -5.2,0M161.0,733.2a2.6,2.6 0 1,0 5.2,0a2.6,2.6 0 1,0 -5.2,0M162.6,733.0a2.6,2.6 0 1,0 5.2,0a2.6,2.6 0 1,0 -5.2,0M164.0,733.7a2.6,2.6 0 1,0 5.2,0a2.6,2.6 0 1,0 -5.2,0M165.3,734.7a2.6,2.6 0 1,0 5.2,0a2.6,2.6 0 1,0 -5.2,0M166.7,735.3a2.6,2.6 0 1,0 5.2,0a2.6,2.6 0 1,0 -5.2,0M168.1,734.5a2.6,2.6 0 1,0 5.2,0a2.6,2.6 0 1,0 -5.2,0M169.0,733.2a2.6,2.6 0 1,0 5.2,0a2.6,2.6 0 1,0 -5.2,0M169.7,731.8a2.6,2.6 0 1,0 5.2,0a2.6,2.6 0 1,0 -5.2,0M170.4,730.4a2.6,2.6 0 1,0 5.2,0a2.6,2.6 0 1,0 -5.2,0M171.1,728.9a2.6,2.6 0 1,0 5.2,0a2.6,2.6 0 1,0 -5.2,0M171.8,727.5a2.6,2.6 0 1,0 5.2,0a2.6,2.6 0 1,0 -5.2,0M172.6,726.1a2.6,2.6 0 1,0 5.2,0a2.6,2.6 0 1,0 -5.2,0M173.7,725.0a2.6,2.6 0 1,0 5.2,0a2.6,2.6 0 1,0 -5.2,0M175.0,725.6a2.6,2.6 0 1,0 5.2,0a2.6,2.6 0 1,0 -5.2,0M175.9,727.0a2.6,2.6 0 1,0 5.2,0a2.6,2.6 0 1,0 -5.2,0M176.7,728.4a2.6,2.6 0 1,0 5.2,0a2.6,2.6 0 1,0 -5.2,0M177.9,729.4a2.6,2.6 0 1,0 5.2,0a2.6,2.6 0 1,0 -5.2,0M179.0,728.3a2.6,2.6 0 1,0 5.2,0a2.6,2.6 0 1,0 -5.2,0M179.7,726.9a2.6,2.6 0 1,0 5.2,0a2.6,2.6 0 1,0 -5.2,0M180.2,725.4a2.6,2.6 0 1,0 5.2,0a2.6,2.6 0 1,0 -5.2,0M180.7,723.9a2.6,2.6 0 1,0 5.2,0a2.6,2.6 0 1,0 -5.2,0M181.2,722.3a2.6,2.6 0 1,0 5.2,0a2.6,2.6 0 1,0 -5.2,0M181.7,720.8a2.6,2.6 0 1,0 5.2,0a2.6,2.6 0 1,0 -5.2,0M182.1,719.3a2.6,2.6 0 1,0 5.2,0a2.6,2.6 0 1,0 -5.2,0M182.6,717.7a2.6,2.6 0 1,0 5.2,0a2.6,2.6 0 1,0 -5.2,0M183.1,716.2a2.6,2.6 0 1,0 5.2,0a2.6,2.6 0 1,0 -5.2,0M183.7,714.7a2.6,2.6 0 1,0 5.2,0a2.6,2.6 0 1,0 -5.2,0M184.4,713.3a2.6,2.6 0 1,0 5.2,0a2.6,2.6 0 1,0 -5.2,0M185.7,713.0a2.6,2.6 0 1,0 5.2,0a2.6,2.6 0 1,0 -5.2,0M186.6,714.3a2.6,2.6 0 1,0 5.2,0a2.6,2.6 0 1,0 -5.2,0M187.3,715.7a2.6,2.6 0 1,0 5.2,0a2.6,2.6 0 1,0 -5.2,0M188.1,717.1a2.6,2.6 0 1,0 5.2,0a2.6,2.6 0 1,0 -5.2,0M189.4,717.4a2.6,2.6 0 1,0 5.2,0a2.6,2.6 0 1,0 -5.2,0M190.0,715.9a2.6,2.6 0 1,0 5.2,0a2.6,2.6 0 1,0 -5.2,0M190.4,714.4a2.6,2.6 0 1,0 5.2,0a2.6,2.6 0 1,0 -5.2,0M190.8,712.8a2.6,2.6 0 1,0 5.2,0a2.6,2.6 0 1,0 -5.2,0M191.1,711.2a2.6,2.6 0 1,0 5.2,0a2.6,2.6 0 1,0 -5.2,0M191.4,709.7a2.6,2.6 0 1,0 5.2,0a2.6,2.6 0 1,0 -5.2,0M191.6,708.1a2.6,2.6 0 1,0 5.2,0a2.6,2.6 0 1,0 -5.2,0M191.9,706.5a2.6,2.6 0 1,0 5.2,0a2.6,2.6 0 1,0 -5.2,0M192.2,704.9a2.6,2.6 0 1,0 5.2,0a2.6,2.6 0 1,0 -5.2,0M192.4,703.3a2.6,2.6 0 1,0 5.2,0a2.6,2.6 0 1,0 -5.2,0M192.7,701.8a2.6,2.6 0 1,0 5.2,0a2.6,2.6 0 1,0 -5.2,0M193.0,700.2a2.6,2.6 0 1,0 5.2,0a2.6,2.6 0 1,0 -5.2,0M193.3,698.6a2.6,2.6 0 1,0 5.2,0a2.6,2.6 0 1,0 -5.2,0M193.7,697.1a2.6,2.6 0 1,0 5.2,0a2.6,2.6 0 1,0 -5.2,0M194.1,695.5a2.6,2.6 0 1,0 5.2,0a2.6,2.6 0 1,0 -5.2,0M194.7,694.0a2.6,2.6 0 1,0 5.2,0a2.6,2.6 0 1,0 -5.2,0M195.9,694.1a2.6,2.6 0 1,0 5.2,0a2.6,2.6 0 1,0 -5.2,0M196.7,695.5a2.6,2.6 0 1,0 5.2,0a2.6,2.6 0 1,0 -5.2,0M197.4,697.0a2.6,2.6 0 1,0 5.2,0a2.6,2.6 0 1,0 -5.2,0M198.0,698.4a2.6,2.6 0 1,0 5.2,0a2.6,2.6 0 1,0 -5.2,0M198.7,699.9a2.6,2.6 0 1,0 5.2,0a2.6,2.6 0 1,0 -5.2,0M199.7,701.1a2.6,2.6 0 1,0 5.2,0a2.6,2.6 0 1,0 -5.2,0M200.7,700.0a2.6,2.6 0 1,0 5.2,0a2.6,2.6 0 1,0 -5.2,0M201.1,698.5a2.6,2.6 0 1,0 5.2,0a2.6,2.6 0 1,0 -5.2,0M201.4,696.9a2.6,2.6 0 1,0 5.2,0a2.6,2.6 0 1,0 -5.2,0M201.7,695.3a2.6,2.6 0 1,0 5.2,0a2.6,2.6 0 1,0 -5.2,0M201.9,693.7a2.6,2.6 0 1,0 5.2,0a2.6,2.6 0 1,0 -5.2,0M202.1,692.1a2.6,2.6 0 1,0 5.2,0a2.6,2.6 0 1,0 -5.2,0M202.3,690.5a2.6,2.6 0 1,0 5.2,0a2.6,2.6 0 1,0 -5.2,0M202.5,689.0a2.6,2.6 0 1,0 5.2,0a2.6,2.6 0 1,0 -5.2,0M202.7,687.4a2.6,2.6 0 1,0 5.2,0a2.6,2.6 0 1,0 -5.2,0M202.8,685.8a2.6,2.6 0 1,0 5.2,0a2.6,2.6 0 1,0 -5.2,0M203.0,684.2a2.6,2.6 0 1,0 5.2,0a2.6,2.6 0 1,0 -5.2,0M203.2,682.6a2.6,2.6 0 1,0 5.2,0a2.6,2.6 0 1,0 -5.2,0M203.4,681.0a2.6,2.6 0 1,0 5.2,0a2.6,2.6 0 1,0 -5.2,0M203.5,679.4a2.6,2.6 0 1,0 5.2,0a2.6,2.6 0 1,0 -5.2,0M203.7,677.8a2.6,2.6 0 1,0 5.2,0a2.6,2.6 0 1,0 -5.2,0M203.9,676.2a2.6,2.6 0 1,0 5.2,0a2.6,2.6 0 1,0 -5.2,0M204.0,674.6a2.6,2.6 0 1,0 5.2,0a2.6,2.6 0 1,0 -5.2,0M204.2,673.1a2.6,2.6 0 1,0 5.2,0a2.6,2.6 0 1,0 -5.2,0M204.4,671.5a2.6,2.6 0 1,0 5.2,0a2.6,2.6 0 1,0 -5.2,0M204.6,669.9a2.6,2.6 0 1,0 5.2,0a2.6,2.6 0 1,0 -5.2,0M204.8,668.3a2.6,2.6 0 1,0 5.2,0a2.6,2.6 0 1,0 -5.2,0M205.1,666.7a2.6,2.6 0 1,0 5.2,0a2.6,2.6 0 1,0 -5.2,0M205.4,665.1a2.6,2.6 0 1,0 5.2,0a2.6,2.6 0 1,0 -5.2,0M205.9,663.6a2.6,2.6 0 1,0 5.2,0a2.6,2.6 0 1,0 -5.2,0M207.0,663.8a2.6,2.6 0 1,0 5.2,0a2.6,2.6 0 1,0 -5.2,0M207.5,665.3a2.6,2.6 0 1,0 5.2,0a2.6,2.6 0 1,0 -5.2,0M208.0,666.8a2.6,2.6 0 1,0 5.2,0a2.6,2.6 0 1,0 -5.2,0M208.4,668.4a2.6,2.6 0 1,0 5.2,0a2.6,2.6 0 1,0 -5.2,0M208.9,669.9a2.6,2.6 0 1,0 5.2,0a2.6,2.6 0 1,0 -5.2,0M209.4,671.4a2.6,2.6 0 1,0 5.2,0a2.6,2.6 0 1,0 -5.2,0M210.4,672.4a2.6,2.6 0 1,0 5.2,0a2.6,2.6 0 1,0 -5.2,0M211.0,671.0a2.6,2.6 0 1,0 5.2,0a2.6,2.6 0 1,0 -5.2,0M211.4,669.4a2.6,2.6 0 1,0 5.2,0a2.6,2.6 0 1,0 -5.2,0M211.6,667.9a2.6,2.6 0 1,0 5.2,0a2.6,2.6 0 1,0 -5.2,0M211.9,666.3a2.6,2.6 0 1,0 5.2,0a2.6,2.6 0 1,0 -5.2,0M212.1,664.7a2.6,2.6 0 1,0 5.2,0a2.6,2.6 0 1,0 -5.2,0M212.3,663.1a2.6,2.6 0 1,0 5.2,0a2.6,2.6 0 1,0 -5.2,0M212.5,661.5a2.6,2.6 0 1,0 5.2,0a2.6,2.6 0 1,0 -5.2,0M212.7,659.9a2.6,2.6 0 1,0 5.2,0a2.6,2.6 0 1,0 -5.2,0M212.9,658.3a2.6,2.6 0 1,0 5.2,0a2.6,2.6 0 1,0 -5.2,0M213.0,656.7a2.6,2.6 0 1,0 5.2,0a2.6,2.6 0 1,0 -5.2,0M213.2,655.2a2.6,2.6 0 1,0 5.2,0a2.6,2.6 0 1,0 -5.2,0M213.4,653.6a2.6,2.6 0 1,0 5.2,0a2.6,2.6 0 1,0 -5.2,0M213.6,652.0a2.6,2.6 0 1,0 5.2,0a2.6,2.6 0 1,0 -5.2,0M213.8,650.4a2.6,2.6 0 1,0 5.2,0a2.6,2.6 0 1,0 -5.2,0M214.1,648.8a2.6,2.6 0 1,0 5.2,0a2.6,2.6 0 1,0 -5.2,0M214.3,647.2a2.6,2.6 0 1,0 5.2,0a2.6,2.6 0 1,0 -5.2,0M214.6,645.7a2.6,2.6 0 1,0 5.2,0a2.6,2.6 0 1,0 -5.2,0M215.0,644.1a2.6,2.6 0 1,0 5.2,0a2.6,2.6 0 1,0 -5.2,0M215.8,643.2a2.6,2.6 0 1,0 5.2,0a2.6,2.6 0 1,0 -5.2,0M216.5,644.6a2.6,2.6 0 1,0 5.2,0a2.6,2.6 0 1,0 -5.2,0M216.8,646.2a2.6,2.6 0 1,0 5.2,0a2.6,2.6 0 1,0 -5.2,0M217.2,647.7a2.6,2.6 0 1,0 5.2,0a2.6,2.6 0 1,0 -5.2,0M217.4,649.3a2.6,2.6 0 1,0 5.2,0a2.6,2.6 0 1,0 -5.2,0M217.7,650.9a2.6,2.6 0 1,0 5.2,0a2.6,2.6 0 1,0 -5.2,0M218.0,652.5a2.6,2.6 0 1,0 5.2,0a2.6,2.6 0 1,0 -5.2,0M218.2,654.1a2.6,2.6 0 1,0 5.2,0a2.6,2.6 0 1,0 -5.2,0M218.4,655.6a2.6,2.6 0 1,0 5.2,0a2.6,2.6 0 1,0 -5.2,0M218.6,657.2a2.6,2.6 0 1,0 5.2,0a2.6,2.6 0 1,0 -5.2,0M218.9,658.8a2.6,2.6 0 1,0 5.2,0a2.6,2.6 0 1,0 -5.2,0M219.1,660.4a2.6,2.6 0 1,0 5.2,0a2.6,2.6 0 1,0 -5.2,0M219.3,662.0a2.6,2.6 0 1,0 5.2,0a2.6,2.6 0 1,0 -5.2,0M219.5,663.6a2.6,2.6 0 1,0 5.2,0a2.6,2.6 0 1,0 -5.2,0M219.7,665.1a2.6,2.6 0 1,0 5.2,0a2.6,2.6 0 1,0 -5.2,0M220.0,666.7a2.6,2.6 0 1,0 5.2,0a2.6,2.6 0 1,0 -5.2,0M220.2,668.3a2.6,2.6 0 1,0 5.2,0a2.6,2.6 0 1,0 -5.2,0M220.5,669.9a2.6,2.6 0 1,0 5.2,0a2.6,2.6 0 1,0 -5.2,0M220.7,671.5a2.6,2.6 0 1,0 5.2,0a2.6,2.6 0 1,0 -5.2,0M221.0,673.0a2.6,2.6 0 1,0 5.2,0a2.6,2.6 0 1,0 -5.2,0M221.3,674.6a2.6,2.6 0 1,0 5.2,0a2.6,2.6 0 1,0 -5.2,0M221.8,676.2a2.6,2.6 0 1,0 5.2,0a2.6,2.6 0 1,0 -5.2,0M222.4,677.6a2.6,2.6 0 1,0 5.2,0a2.6,2.6 0 1,0 -5.2,0M223.8,677.9a2.6,2.6 0 1,0 5.2,0a2.6,2.6 0 1,0 -5.2,0M224.9,676.8a2.6,2.6 0 1,0 5.2,0a2.6,2.6 0 1,0 -5.2,0M226.3,676.4a2.6,2.6 0 1,0 5.2,0a2.6,2.6 0 1,0 -5.2,0M227.1,677.7a2.6,2.6 0 1,0 5.2,0a2.6,2.6 0 1,0 -5.2,0M227.6,679.3a2.6,2.6 0 1,0 5.2,0a2.6,2.6 0 1,0 -5.2,0M228.1,680.8a2.6,2.6 0 1,0 5.2,0a2.6,2.6 0 1,0 -5.2,0M228.4,682.4a2.6,2.6 0 1,0 5.2,0a2.6,2.6 0 1,0 -5.2,0M228.8,683.9a2.6,2.6 0 1,0 5.2,0a2.6,2.6 0 1,0 -5.2,0M229.1,685.5a2.6,2.6 0 1,0 5.2,0a2.6,2.6 0 1,0 -5.2,0M229.5,687.0a2.6,2.6 0 1,0 5.2,0a2.6,2.6 0 1,0 -5.2,0M229.8,688.6a2.6,2.6 0 1,0 5.2,0a2.6,2.6 0 1,0 -5.2,0M230.2,690.2a2.6,2.6 0 1,0 5.2,0a2.6,2.6 0 1,0 -5.2,0M230.6,691.7a2.6,2.6 0 1,0 5.2,0a2.6,2.6 0 1,0 -5.2,0M231.1,693.2a2.6,2.6 0 1,0 5.2,0a2.6,2.6 0 1,0 -5.2,0M231.7,694.7a2.6,2.6 0 1,0 5.2,0a2.6,2.6 0 1,0 -5.2,0M232.5,696.1a2.6,2.6 0 1,0 5.2,0a2.6,2.6 0 1,0 -5.2,0M233.7,697.1a2.6,2.6 0 1,0 5.2,0a2.6,2.6 0 1,0 -5.2,0M235.1,697.8a2.6,2.6 0 1,0 5.2,0a2.6,2.6 0 1,0 -5.2,0M236.7,698.3a2.6,2.6 0 1,0 5.2,0a2.6,2.6 0 1,0 -5.2,0M238.0,699.1a2.6,2.6 0 1,0 5.2,0a2.6,2.6 0 1,0 -5.2,0M239.0,700.4a2.6,2.6 0 1,0 5.2,0a2.6,2.6 0 1,0 -5.2,0M239.7,701.8a2.6,2.6 0 1,0 5.2,0a2.6,2.6 0 1,0 -5.2,0M240.2,703.3a2.6,2.6 0 1,0 5.2,0a2.6,2.6 0 1,0 -5.2,0M240.6,704.9a2.6,2.6 0 1,0 5.2,0a2.6,2.6 0 1,0 -5.2,0M241.0,706.4a2.6,2.6 0 1,0 5.2,0a2.6,2.6 0 1,0 -5.2,0M241.4,708.0a2.6,2.6 0 1,0 5.2,0a2.6,2.6 0 1,0 -5.2,0M241.8,709.5a2.6,2.6 0 1,0 5.2,0a2.6,2.6 0 1,0 -5.2,0M242.3,711.0a2.6,2.6 0 1,0 5.2,0a2.6,2.6 0 1,0 -5.2,0M243.3,712.1a2.6,2.6 0 1,0 5.2,0a2.6,2.6 0 1,0 -5.2,0M244.3,710.8a2.6,2.6 0 1,0 5.2,0a2.6,2.6 0 1,0 -5.2,0M244.9,709.4a2.6,2.6 0 1,0 5.2,0a2.6,2.6 0 1,0 -5.2,0M245.6,707.9a2.6,2.6 0 1,0 5.2,0a2.6,2.6 0 1,0 -5.2,0M246.7,706.9a2.6,2.6 0 1,0 5.2,0a2.6,2.6 0 1,0 -5.2,0M247.6,708.2a2.6,2.6 0 1,0 5.2,0a2.6,2.6 0 1,0 -5.2,0M248.2,709.6a2.6,2.6 0 1,0 5.2,0a2.6,2.6 0 1,0 -5.2,0M248.7,711.2a2.6,2.6 0 1,0 5.2,0a2.6,2.6 0 1,0 -5.2,0M249.1,712.7a2.6,2.6 0 1,0 5.2,0a2.6,2.6 0 1,0 -5.2,0M249.6,714.2a2.6,2.6 0 1,0 5.2,0a2.6,2.6 0 1,0 -5.2,0M250.1,715.8a2.6,2.6 0 1,0 5.2,0a2.6,2.6 0 1,0 -5.2,0M250.6,717.3a2.6,2.6 0 1,0 5.2,0a2.6,2.6 0 1,0 -5.2,0M251.4,718.7a2.6,2.6 0 1,0 5.2,0a2.6,2.6 0 1,0 -5.2,0M252.6,718.4a2.6,2.6 0 1,0 5.2,0a2.6,2.6 0 1,0 -5.2,0M253.2,716.9a2.6,2.6 0 1,0 5.2,0a2.6,2.6 0 1,0 -5.2,0M253.7,715.4a2.6,2.6 0 1,0 5.2,0a2.6,2.6 0 1,0 -5.2,0M254.1,713.8a2.6,2.6 0 1,0 5.2,0a2.6,2.6 0 1,0 -5.2,0M254.5,712.3a2.6,2.6 0 1,0 5.2,0a2.6,2.6 0 1,0 -5.2,0M255.0,710.7a2.6,2.6 0 1,0 5.2,0a2.6,2.6 0 1,0 -5.2,0M255.5,709.2a2.6,2.6 0 1,0 5.2,0a2.6,2.6 0 1,0 -5.2,0M256.1,707.8a2.6,2.6 0 1,0 5.2,0a2.6,2.6 0 1,0 -5.2,0M257.3,707.2a2.6,2.6 0 1,0 5.2,0a2.6,2.6 0 1,0 -5.2,0M258.1,708.6a2.6,2.6 0 1,0 5.2,0a2.6,2.6 0 1,0 -5.2,0M258.7,710.1a2.6,2.6 0 1,0 5.2,0a2.6,2.6 0 1,0 -5.2,0M259.2,711.6a2.6,2.6 0 1,0 5.2,0a2.6,2.6 0 1,0 -5.2,0M259.6,713.1a2.6,2.6 0 1,0 5.2,0a2.6,2.6 0 1,0 -5.2,0M260.1,714.7a2.6,2.6 0 1,0 5.2,0a2.6,2.6 0 1,0 -5.2,0M260.6,716.2a2.6,2.6 0 1,0 5.2,0a2.6,2.6 0 1,0 -5.2,0M261.1,717.7a2.6,2.6 0 1,0 5.2,0a2.6,2.6 0 1,0 -5.2,0M261.7,719.2a2.6,2.6 0 1,0 5.2,0a2.6,2.6 0 1,0 -5.2,0M262.8,719.8a2.6,2.6 0 1,0 5.2,0a2.6,2.6 0 1,0 -5.2,0M263.5,718.4a2.6,2.6 0 1,0 5.2,0a2.6,2.6 0 1,0 -5.2,0M264.0,716.8a2.6,2.6 0 1,0 5.2,0a2.6,2.6 0 1,0 -5.2,0M264.4,715.3a2.6,2.6 0 1,0 5.2,0a2.6,2.6 0 1,0 -5.2,0M264.7,713.7a2.6,2.6 0 1,0 5.2,0a2.6,2.6 0 1,0 -5.2,0M265.0,712.1a2.6,2.6 0 1,0 5.2,0a2.6,2.6 0 1,0 -5.2,0M265.4,710.6a2.6,2.6 0 1,0 5.2,0a2.6,2.6 0 1,0 -5.2,0M266.0,709.1a2.6,2.6 0 1,0 5.2,0a2.6,2.6 0 1,0 -5.2,0M266.9,709.9a2.6,2.6 0 1,0 5.2,0a2.6,2.6 0 1,0 -5.2,0M267.3,711.4a2.6,2.6 0 1,0 5.2,0a2.6,2.6 0 1,0 -5.2,0M267.6,713.0a2.6,2.6 0 1,0 5.2,0a2.6,2.6 0 1,0 -5.2,0" fill="none" stroke="#f9c7b5" stroke-width="0.9"/><path d="M156.0,740.4 C157.4,739.4 161.8,735.1 164.2,734.4 C166.6,733.7 168.2,737.7 170.2,736.4 C172.2,735.1 174.4,727.4 176.2,726.4 C178.0,725.4 179.4,732.4 181.2,730.4 C183.0,728.4 185.4,716.3 187.2,714.3 C189.0,712.3 190.5,721.5 192.2,718.3 C193.9,715.1 195.5,698.1 197.3,695.3 C199.2,692.5 201.5,706.3 203.3,701.3 C205.1,696.3 206.6,669.7 208.3,665.2 C210.0,660.7 211.6,677.6 213.3,674.2 C215.0,670.9 216.5,642.4 218.3,645.1 C220.1,647.8 222.5,683.9 224.3,690.2 C226.2,696.6 227.7,679.7 229.4,683.2 C231.1,686.7 232.4,707.4 234.4,711.3 C236.4,715.1 239.4,704.0 241.4,706.3 C243.4,708.6 244.7,722.8 246.4,725.3 C248.1,727.8 249.6,720.1 251.4,721.3 C253.2,722.5 255.4,730.9 257.4,732.4 C259.4,733.9 261.6,729.6 263.5,730.4 C265.4,731.2 266.7,736.6 268.5,737.4 C270.3,738.2 272.8,735.2 274.5,735.4 C276.2,735.6 277.8,737.9 278.5,738.4" fill="none" stroke="#f05a22" stroke-width="3.0" stroke-linejoin="round"/><path d="M216.9,619 L216.9,746.0" stroke="#5e5e5e" stroke-width="2.3" stroke-dasharray="4.8,4.5"/><path d="M156.7,746.0 L156.7,622.4" stroke="#231f20" stroke-width="2"/><path d="M152.7,625.4 L156.7,614.4 L160.7,625.4 L156.7,622.9 Z" fill="#231f20"/><path d="M151.1,746.0 L289.6,746.0" stroke="#231f20" stroke-width="2"/><path d="M286.6,742.0 L297.6,746.0 L286.6,750.0 L289.1,746.0 Z" fill="#231f20"/><path d="M151.1,639.7 L156.7,639.7" stroke="#231f20" stroke-width="2"/><text x="146.2" y="647.3" font-size="20.5" text-anchor="end" style="font-family:'Liberation Sans',sans-serif" fill="#1a1a1a">15</text><path d="M151.1,675.2 L156.7,675.2" stroke="#231f20" stroke-width="2"/><text x="146.2" y="682.8" font-size="20.5" text-anchor="end" style="font-family:'Liberation Sans',sans-serif" fill="#1a1a1a">10</text><path d="M151.1,710.7 L156.7,710.7" stroke="#231f20" stroke-width="2"/><text x="146.2" y="718.3" font-size="20.5" text-anchor="end" style="font-family:'Liberation Sans',sans-serif" fill="#1a1a1a">5</text><path d="M151.1,746.0 L156.7,746.0" stroke="#231f20" stroke-width="2"/><text x="146.2" y="753.6" font-size="20.5" text-anchor="end" style="font-family:'Liberation Sans',sans-serif" fill="#1a1a1a">0</text><path d="M169.2,746.0 L169.2,752.4" stroke="#231f20" stroke-width="2"/><text x="165.2" y="772.5" font-size="20.5" text-anchor="middle" style="font-family:'Liberation Sans',sans-serif" fill="#1a1a1a">-40</text><path d="M216.9,746.0 L216.9,752.4" stroke="#231f20" stroke-width="2"/><text x="216.9" y="772.5" font-size="20.5" text-anchor="middle" style="font-family:'Liberation Sans',sans-serif" fill="#1a1a1a">0</text><path d="M264.5,746.0 L264.5,752.4" stroke="#231f20" stroke-width="2"/><text x="264.5" y="772.5" font-size="20.5" text-anchor="middle" style="font-family:'Liberation Sans',sans-serif" fill="#1a1a1a">40</text>
<path d="M660.1,742.0 C662.1,741.7 668.9,740.8 672.2,740.0 C675.6,739.2 677.9,737.3 680.2,737.0 C682.5,736.7 684.4,738.7 686.2,738.0 C688.0,737.3 689.5,733.5 691.2,733.0 C692.9,732.5 694.5,736.2 696.2,735.0 C697.9,733.8 699.5,727.0 701.2,726.0 C702.9,725.0 704.6,730.5 706.3,729.0 C708.0,727.5 709.5,718.5 711.3,717.0 C713.1,715.5 715.5,721.8 717.3,720.0 C719.1,718.2 720.5,707.3 722.3,706.0 C724.1,704.7 726.5,713.2 728.3,712.0 C730.1,710.8 731.6,700.2 733.3,699.0 C735.0,697.8 736.5,706.2 738.4,705.0 C740.2,703.8 742.6,693.2 744.4,692.0 C746.2,690.8 747.7,699.5 749.4,698.0 C751.1,696.5 753.0,684.3 754.8,683.0 C756.6,681.7 758.5,691.5 760.4,690.0 C762.3,688.5 764.1,675.0 766.0,674.0 C767.9,673.0 769.8,685.0 771.5,684.0 C773.2,683.0 774.9,670.8 776.5,668.0 C778.1,665.2 780.1,665.7 781.0,667.0 C781.9,668.3 781.8,674.5 782.0,676.0" fill="none" stroke="#f4aa8f" stroke-width="6.5" stroke-linecap="round" stroke-linejoin="round"/><path d="M657.5,742.0a2.6,2.6 0 1,0 5.2,0a2.6,2.6 0 1,0 -5.2,0M659.1,741.8a2.6,2.6 0 1,0 5.2,0a2.6,2.6 0 1,0 -5.2,0M660.7,741.5a2.6,2.6 0 1,0 5.2,0a2.6,2.6 0 1,0 -5.2,0M662.2,741.3a2.6,2.6 0 1,0 5.2,0a2.6,2.6 0 1,0 -5.2,0M663.8,741.1a2.6,2.6 0 1,0 5.2,0a2.6,2.6 0 1,0 -5.2,0M665.4,740.8a2.6,2.6 0 1,0 5.2,0a2.6,2.6 0 1,0 -5.2,0M667.0,740.5a2.6,2.6 0 1,0 5.2,0a2.6,2.6 0 1,0 -5.2,0M668.6,740.2a2.6,2.6 0 1,0 5.2,0a2.6,2.6 0 1,0 -5.2,0M670.1,739.9a2.6,2.6 0 1,0 5.2,0a2.6,2.6 0 1,0 -5.2,0M671.6,739.3a2.6,2.6 0 1,0 5.2,0a2.6,2.6 0 1,0 -5.2,0M673.1,738.7a2.6,2.6 0 1,0 5.2,0a2.6,2.6 0 1,0 -5.2,0M674.6,738.0a2.6,2.6 0 1,0 5.2,0a2.6,2.6 0 1,0 -5.2,0M676.0,737.4a2.6,2.6 0 1,0 5.2,0a2.6,2.6 0 1,0 -5.2,0M677.6,737.0a2.6,2.6 0 1,0 5.2,0a2.6,2.6 0 1,0 -5.2,0M679.2,737.1a2.6,2.6 0 1,0 5.2,0a2.6,2.6 0 1,0 -5.2,0M680.7,737.6a2.6,2.6 0 1,0 5.2,0a2.6,2.6 0 1,0 -5.2,0M682.2,738.1a2.6,2.6 0 1,0 5.2,0a2.6,2.6 0 1,0 -5.2,0M683.8,737.9a2.6,2.6 0 1,0 5.2,0a2.6,2.6 0 1,0 -5.2,0M685.0,736.9a2.6,2.6 0 1,0 5.2,0a2.6,2.6 0 1,0 -5.2,0M686.0,735.7a2.6,2.6 0 1,0 5.2,0a2.6,2.6 0 1,0 -5.2,0M687.0,734.4a2.6,2.6 0 1,0 5.2,0a2.6,2.6 0 1,0 -5.2,0M688.1,733.3a2.6,2.6 0 1,0 5.2,0a2.6,2.6 0 1,0 -5.2,0M689.6,733.1a2.6,2.6 0 1,0 5.2,0a2.6,2.6 0 1,0 -5.2,0M690.9,734.1a2.6,2.6 0 1,0 5.2,0a2.6,2.6 0 1,0 -5.2,0M692.2,735.0a2.6,2.6 0 1,0 5.2,0a2.6,2.6 0 1,0 -5.2,0M693.6,735.0a2.6,2.6 0 1,0 5.2,0a2.6,2.6 0 1,0 -5.2,0M694.6,733.7a2.6,2.6 0 1,0 5.2,0a2.6,2.6 0 1,0 -5.2,0M695.3,732.3a2.6,2.6 0 1,0 5.2,0a2.6,2.6 0 1,0 -5.2,0M695.9,730.8a2.6,2.6 0 1,0 5.2,0a2.6,2.6 0 1,0 -5.2,0M696.6,729.3a2.6,2.6 0 1,0 5.2,0a2.6,2.6 0 1,0 -5.2,0M697.2,727.9a2.6,2.6 0 1,0 5.2,0a2.6,2.6 0 1,0 -5.2,0M698.1,726.5a2.6,2.6 0 1,0 5.2,0a2.6,2.6 0 1,0 -5.2,0M699.4,726.0a2.6,2.6 0 1,0 5.2,0a2.6,2.6 0 1,0 -5.2,0M700.6,727.0a2.6,2.6 0 1,0 5.2,0a2.6,2.6 0 1,0 -5.2,0M701.6,728.3a2.6,2.6 0 1,0 5.2,0a2.6,2.6 0 1,0 -5.2,0M702.9,729.2a2.6,2.6 0 1,0 5.2,0a2.6,2.6 0 1,0 -5.2,0M704.1,728.4a2.6,2.6 0 1,0 5.2,0a2.6,2.6 0 1,0 -5.2,0M704.8,727.0a2.6,2.6 0 1,0 5.2,0a2.6,2.6 0 1,0 -5.2,0M705.4,725.5a2.6,2.6 0 1,0 5.2,0a2.6,2.6 0 1,0 -5.2,0M705.9,723.9a2.6,2.6 0 1,0 5.2,0a2.6,2.6 0 1,0 -5.2,0M706.3,722.4a2.6,2.6 0 1,0 5.2,0a2.6,2.6 0 1,0 -5.2,0M706.8,720.9a2.6,2.6 0 1,0 5.2,0a2.6,2.6 0 1,0 -5.2,0M707.3,719.4a2.6,2.6 0 1,0 5.2,0a2.6,2.6 0 1,0 -5.2,0M708.0,717.9a2.6,2.6 0 1,0 5.2,0a2.6,2.6 0 1,0 -5.2,0M709.1,716.8a2.6,2.6 0 1,0 5.2,0a2.6,2.6 0 1,0 -5.2,0M710.5,717.4a2.6,2.6 0 1,0 5.2,0a2.6,2.6 0 1,0 -5.2,0M711.6,718.5a2.6,2.6 0 1,0 5.2,0a2.6,2.6 0 1,0 -5.2,0M712.7,719.7a2.6,2.6 0 1,0 5.2,0a2.6,2.6 0 1,0 -5.2,0M714.1,720.3a2.6,2.6 0 1,0 5.2,0a2.6,2.6 0 1,0 -5.2,0M715.2,719.2a2.6,2.6 0 1,0 5.2,0a2.6,2.6 0 1,0 -5.2,0M715.8,717.7a2.6,2.6 0 1,0 5.2,0a2.6,2.6 0 1,0 -5.2,0M716.3,716.2a2.6,2.6 0 1,0 5.2,0a2.6,2.6 0 1,0 -5.2,0M716.7,714.7a2.6,2.6 0 1,0 5.2,0a2.6,2.6 0 1,0 -5.2,0M717.1,713.1a2.6,2.6 0 1,0 5.2,0a2.6,2.6 0 1,0 -5.2,0M717.5,711.6a2.6,2.6 0 1,0 5.2,0a2.6,2.6 0 1,0 -5.2,0M717.9,710.0a2.6,2.6 0 1,0 5.2,0a2.6,2.6 0 1,0 -5.2,0M718.4,708.5a2.6,2.6 0 1,0 5.2,0a2.6,2.6 0 1,0 -5.2,0M719.0,707.0a2.6,2.6 0 1,0 5.2,0a2.6,2.6 0 1,0 -5.2,0M720.0,705.9a2.6,2.6 0 1,0 5.2,0a2.6,2.6 0 1,0 -5.2,0M721.3,706.7a2.6,2.6 0 1,0 5.2,0a2.6,2.6 0 1,0 -5.2,0M722.2,708.1a2.6,2.6 0 1,0 5.2,0a2.6,2.6 0 1,0 -5.2,0M723.0,709.4a2.6,2.6 0 1,0 5.2,0a2.6,2.6 0 1,0 -5.2,0M723.8,710.8a2.6,2.6 0 1,0 5.2,0a2.6,2.6 0 1,0 -5.2,0M724.9,712.0a2.6,2.6 0 1,0 5.2,0a2.6,2.6 0 1,0 -5.2,0M726.2,711.4a2.6,2.6 0 1,0 5.2,0a2.6,2.6 0 1,0 -5.2,0M726.9,710.0a2.6,2.6 0 1,0 5.2,0a2.6,2.6 0 1,0 -5.2,0M727.4,708.5a2.6,2.6 0 1,0 5.2,0a2.6,2.6 0 1,0 -5.2,0M727.9,706.9a2.6,2.6 0 1,0 5.2,0a2.6,2.6 0 1,0 -5.2,0M728.3,705.4a2.6,2.6 0 1,0 5.2,0a2.6,2.6 0 1,0 -5.2,0M728.7,703.8a2.6,2.6 0 1,0 5.2,0a2.6,2.6 0 1,0 -5.2,0M729.2,702.3a2.6,2.6 0 1,0 5.2,0a2.6,2.6 0 1,0 -5.2,0M729.7,700.8a2.6,2.6 0 1,0 5.2,0a2.6,2.6 0 1,0 -5.2,0M730.4,699.4a2.6,2.6 0 1,0 5.2,0a2.6,2.6 0 1,0 -5.2,0M731.7,699.3a2.6,2.6 0 1,0 5.2,0a2.6,2.6 0 1,0 -5.2,0M732.5,700.6a2.6,2.6 0 1,0 5.2,0a2.6,2.6 0 1,0 -5.2,0M733.2,702.1a2.6,2.6 0 1,0 5.2,0a2.6,2.6 0 1,0 -5.2,0M733.9,703.5a2.6,2.6 0 1,0 5.2,0a2.6,2.6 0 1,0 -5.2,0M734.8,704.8a2.6,2.6 0 1,0 5.2,0a2.6,2.6 0 1,0 -5.2,0M736.2,704.6a2.6,2.6 0 1,0 5.2,0a2.6,2.6 0 1,0 -5.2,0M737.0,703.3a2.6,2.6 0 1,0 5.2,0a2.6,2.6 0 1,0 -5.2,0M737.6,701.8a2.6,2.6 0 1,0 5.2,0a2.6,2.6 0 1,0 -5.2,0M738.2,700.3a2.6,2.6 0 1,0 5.2,0a2.6,2.6 0 1,0 -5.2,0M738.7,698.8a2.6,2.6 0 1,0 5.2,0a2.6,2.6 0 1,0 -5.2,0M739.2,697.3a2.6,2.6 0 1,0 5.2,0a2.6,2.6 0 1,0 -5.2,0M739.8,695.8a2.6,2.6 0 1,0 5.2,0a2.6,2.6 0 1,0 -5.2,0M740.4,694.3a2.6,2.6 0 1,0 5.2,0a2.6,2.6 0 1,0 -5.2,0M741.1,692.9a2.6,2.6 0 1,0 5.2,0a2.6,2.6 0 1,0 -5.2,0M742.3,691.9a2.6,2.6 0 1,0 5.2,0a2.6,2.6 0 1,0 -5.2,0M743.3,693.0a2.6,2.6 0 1,0 5.2,0a2.6,2.6 0 1,0 -5.2,0M744.0,694.5a2.6,2.6 0 1,0 5.2,0a2.6,2.6 0 1,0 -5.2,0M744.7,695.9a2.6,2.6 0 1,0 5.2,0a2.6,2.6 0 1,0 -5.2,0M745.4,697.4a2.6,2.6 0 1,0 5.2,0a2.6,2.6 0 1,0 -5.2,0M746.7,698.1a2.6,2.6 0 1,0 5.2,0a2.6,2.6 0 1,0 -5.2,0M747.5,696.8a2.6,2.6 0 1,0 5.2,0a2.6,2.6 0 1,0 -5.2,0M748.1,695.3a2.6,2.6 0 1,0 5.2,0a2.6,2.6 0 1,0 -5.2,0M748.6,693.7a2.6,2.6 0 1,0 5.2,0a2.6,2.6 0 1,0 -5.2,0M749.0,692.2a2.6,2.6 0 1,0 5.2,0a2.6,2.6 0 1,0 -5.2,0M749.4,690.6a2.6,2.6 0 1,0 5.2,0a2.6,2.6 0 1,0 -5.2,0M749.8,689.1a2.6,2.6 0 1,0 5.2,0a2.6,2.6 0 1,0 -5.2,0M750.3,687.6a2.6,2.6 0 1,0 5.2,0a2.6,2.6 0 1,0 -5.2,0M750.7,686.0a2.6,2.6 0 1,0 5.2,0a2.6,2.6 0 1,0 -5.2,0M751.3,684.5a2.6,2.6 0 1,0 5.2,0a2.6,2.6 0 1,0 -5.2,0M752.1,683.2a2.6,2.6 0 1,0 5.2,0a2.6,2.6 0 1,0 -5.2,0M753.4,683.4a2.6,2.6 0 1,0 5.2,0a2.6,2.6 0 1,0 -5.2,0M754.2,684.8a2.6,2.6 0 1,0 5.2,0a2.6,2.6 0 1,0 -5.2,0M754.9,686.3a2.6,2.6 0 1,0 5.2,0a2.6,2.6 0 1,0 -5.2,0M755.5,687.7a2.6,2.6 0 1,0 5.2,0a2.6,2.6 0 1,0 -5.2,0M756.3,689.1a2.6,2.6 0 1,0 5.2,0a2.6,2.6 0 1,0 -5.2,0M757.4,690.1a2.6,2.6 0 1,0 5.2,0a2.6,2.6 0 1,0 -5.2,0M758.5,689.0a2.6,2.6 0 1,0 5.2,0a2.6,2.6 0 1,0 -5.2,0M759.0,687.5a2.6,2.6 0 1,0 5.2,0a2.6,2.6 0 1,0 -5.2,0M759.5,686.0a2.6,2.6 0 1,0 5.2,0a2.6,2.6 0 1,0 -5.2,0M759.9,684.5a2.6,2.6 0 1,0 5.2,0a2.6,2.6 0 1,0 -5.2,0M760.3,682.9a2.6,2.6 0 1,0 5.2,0a2.6,2.6 0 1,0 -5.2,0M760.7,681.4a2.6,2.6 0 1,0 5.2,0a2.6,2.6 0 1,0 -5.2,0M761.1,679.8a2.6,2.6 0 1,0 5.2,0a2.6,2.6 0 1,0 -5.2,0M761.5,678.3a2.6,2.6 0 1,0 5.2,0a2.6,2.6 0 1,0 -5.2,0M762.0,676.7a2.6,2.6 0 1,0 5.2,0a2.6,2.6 0 1,0 -5.2,0M762.6,675.2a2.6,2.6 0 1,0 5.2,0a2.6,2.6 0 1,0 -5.2,0M763.5,674.0a2.6,2.6 0 1,0 5.2,0a2.6,2.6 0 1,0 -5.2,0M764.6,675.0a2.6,2.6 0 1,0 5.2,0a2.6,2.6 0 1,0 -5.2,0M765.3,676.4a2.6,2.6 0 1,0 5.2,0a2.6,2.6 0 1,0 -5.2,0M765.8,677.9a2.6,2.6 0 1,0 5.2,0a2.6,2.6 0 1,0 -5.2,0M766.3,679.4a2.6,2.6 0 1,0 5.2,0a2.6,2.6 0 1,0 -5.2,0M766.9,680.9a2.6,2.6 0 1,0 5.2,0a2.6,2.6 0 1,0 -5.2,0M767.4,682.4a2.6,2.6 0 1,0 5.2,0a2.6,2.6 0 1,0 -5.2,0M768.2,683.8a2.6,2.6 0 1,0 5.2,0a2.6,2.6 0 1,0 -5.2,0M769.4,683.3a2.6,2.6 0 1,0 5.2,0a2.6,2.6 0 1,0 -5.2,0M770.1,681.9a2.6,2.6 0 1,0 5.2,0a2.6,2.6 0 1,0 -5.2,0M770.5,680.3a2.6,2.6 0 1,0 5.2,0a2.6,2.6 0 1,0 -5.2,0M770.9,678.8a2.6,2.6 0 1,0 5.2,0a2.6,2.6 0 1,0 -5.2,0M771.3,677.2a2.6,2.6 0 1,0 5.2,0a2.6,2.6 0 1,0 -5.2,0M771.7,675.7a2.6,2.6 0 1,0 5.2,0a2.6,2.6 0 1,0 -5.2,0M772.1,674.1a2.6,2.6 0 1,0 5.2,0a2.6,2.6 0 1,0 -5.2,0M772.4,672.6a2.6,2.6 0 1,0 5.2,0a2.6,2.6 0 1,0 -5.2,0M772.8,671.0a2.6,2.6 0 1,0 5.2,0a2.6,2.6 0 1,0 -5.2,0M773.3,669.5a2.6,2.6 0 1,0 5.2,0a2.6,2.6 0 1,0 -5.2,0M773.9,668.0a2.6,2.6 0 1,0 5.2,0a2.6,2.6 0 1,0 -5.2,0M774.8,666.7a2.6,2.6 0 1,0 5.2,0a2.6,2.6 0 1,0 -5.2,0M776.2,666.0a2.6,2.6 0 1,0 5.2,0a2.6,2.6 0 1,0 -5.2,0M777.7,666.3a2.6,2.6 0 1,0 5.2,0a2.6,2.6 0 1,0 -5.2,0M778.7,667.6a2.6,2.6 0 1,0 5.2,0a2.6,2.6 0 1,0 -5.2,0M779.0,669.2a2.6,2.6 0 1,0 5.2,0a2.6,2.6 0 1,0 -5.2,0M779.1,670.7a2.6,2.6 0 1,0 5.2,0a2.6,2.6 0 1,0 -5.2,0M779.2,672.3a2.6,2.6 0 1,0 5.2,0a2.6,2.6 0 1,0 -5.2,0M779.3,673.9a2.6,2.6 0 1,0 5.2,0a2.6,2.6 0 1,0 -5.2,0M779.4,675.5a2.6,2.6 0 1,0 5.2,0a2.6,2.6 0 1,0 -5.2,0" fill="none" stroke="#f9c7b5" stroke-width="0.9"/><path d="M660.1,742.4 C662.1,742.1 668.9,741.2 672.2,740.4 C675.6,739.6 677.9,737.7 680.2,737.4 C682.5,737.1 684.4,739.1 686.2,738.4 C688.0,737.7 689.5,733.9 691.2,733.4 C692.9,732.9 694.5,736.6 696.2,735.4 C697.9,734.2 699.5,727.3 701.2,726.3 C702.9,725.3 704.6,730.9 706.3,729.4 C708.0,727.9 709.5,718.8 711.3,717.3 C713.1,715.8 715.5,722.5 717.3,720.3 C719.1,718.1 720.5,705.5 722.3,704.3 C724.1,703.1 726.5,714.6 728.3,713.3 C730.1,712.0 731.6,697.3 733.3,696.3 C735.0,695.3 736.5,708.8 738.4,707.3 C740.2,705.8 742.6,688.5 744.4,687.2 C746.2,685.9 747.7,701.3 749.4,699.3 C751.1,697.3 753.0,676.4 754.8,675.2 C756.6,674.0 758.5,694.4 760.4,692.2 C762.3,690.0 764.1,663.8 766.0,661.8 C767.9,659.8 769.8,683.0 771.5,680.2 C773.2,677.4 774.8,647.8 776.5,645.1 C778.2,642.4 780.7,661.0 781.5,664.2" fill="none" stroke="#f05a22" stroke-width="3.0" stroke-linejoin="round"/><path d="M720.7,619 L720.7,744.8" stroke="#5e5e5e" stroke-width="2.3" stroke-dasharray="4.8,4.5"/><path d="M660.7,744.8 L660.7,622.4" stroke="#231f20" stroke-width="2"/><path d="M656.7,625.4 L660.7,614.4 L664.7,625.4 L660.7,622.9 Z" fill="#231f20"/><path d="M654.1,744.8 L790.9,744.8" stroke="#231f20" stroke-width="2"/><path d="M787.9,740.8 L798.9,744.8 L787.9,748.8 L790.4,744.8 Z" fill="#231f20"/><path d="M654.1,639.7 L660.7,639.7" stroke="#231f20" stroke-width="2"/><text x="650.2" y="647.3" font-size="20.5" text-anchor="end" style="font-family:'Liberation Sans',sans-serif" fill="#1a1a1a">45</text><path d="M654.1,674.8 L660.7,674.8" stroke="#231f20" stroke-width="2"/><text x="650.2" y="682.4" font-size="20.5" text-anchor="end" style="font-family:'Liberation Sans',sans-serif" fill="#1a1a1a">30</text><path d="M654.1,709.9 L660.7,709.9" stroke="#231f20" stroke-width="2"/><text x="650.2" y="717.5" font-size="20.5" text-anchor="end" style="font-family:'Liberation Sans',sans-serif" fill="#1a1a1a">15</text><path d="M654.1,744.8 L660.7,744.8" stroke="#231f20" stroke-width="2"/><text x="650.2" y="752.4" font-size="20.5" text-anchor="end" style="font-family:'Liberation Sans',sans-serif" fill="#1a1a1a">0</text><path d="M672.8,744.8 L672.8,751.1999999999999" stroke="#231f20" stroke-width="2"/><text x="668.8" y="771.3" font-size="20.5" text-anchor="middle" style="font-family:'Liberation Sans',sans-serif" fill="#1a1a1a">-40</text><path d="M720.7,744.8 L720.7,751.1999999999999" stroke="#231f20" stroke-width="2"/><text x="720.7" y="771.3" font-size="20.5" text-anchor="middle" style="font-family:'Liberation Sans',sans-serif" fill="#1a1a1a">0</text><path d="M768.4,744.8 L768.4,751.1999999999999" stroke="#231f20" stroke-width="2"/><text x="768.4" y="771.3" font-size="20.5" text-anchor="middle" style="font-family:'Liberation Sans',sans-serif" fill="#1a1a1a">40</text>
</svg></body></html>
